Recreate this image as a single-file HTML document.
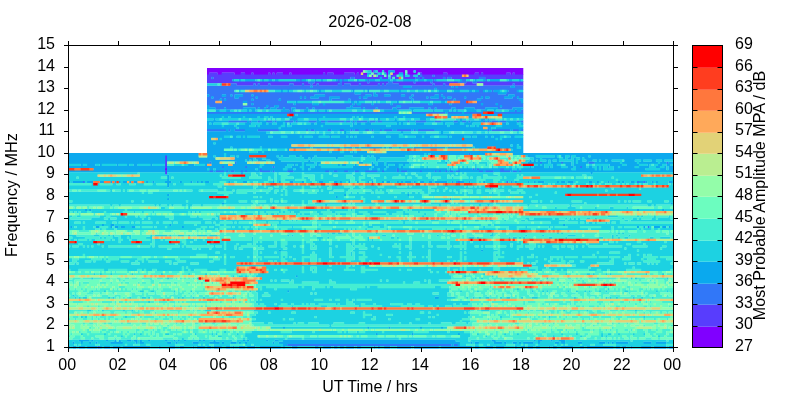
<!DOCTYPE html><html><head><meta charset="utf-8"><style>html,body{margin:0;padding:0;background:#fff;}svg{display:block}</style></head><body>
<svg width="800" height="400" viewBox="0 0 800 400">
<rect width="800" height="400" fill="#fff"/>
<defs><clipPath id="pc"><rect x="68" y="45" width="605.5" height="303.8"/></clipPath><filter id="bl" x="0" y="0" width="1" height="1" filterUnits="objectBoundingBox"><feGaussianBlur stdDeviation="0.45"/></filter></defs><g clip-path="url(#pc)"><g filter="url(#bl)"><path fill="#8000ff" d="M164.9 168.0h2.4v2.4h-2.4zM207.0 72.4h2.4v2.5h-2.4zM217.5 72.4h4.5v2.5h-4.5zM234.4 72.4h6.6v2.5h-6.6zM244.9 72.4h6.6v2.5h-6.6zM253.3 72.4h15.0v2.5h-15.0zM270.2 72.4h2.4v2.5h-2.4zM274.4 72.4h2.4v2.5h-2.4zM282.8 72.4h6.6v2.5h-6.6zM291.3 72.4h31.9v2.5h-31.9zM325.0 72.4h2.4v2.5h-2.4zM333.4 72.4h10.8v2.5h-10.8zM354.5 72.4h2.4v2.5h-2.4zM358.7 72.4h2.4v2.5h-2.4zM362.9 72.4h4.5v2.5h-4.5zM386.1 72.4h2.4v2.5h-2.4zM392.4 72.4h6.6v2.5h-6.6zM402.9 72.4h2.4v2.5h-2.4zM407.1 72.4h10.8v2.5h-10.8zM421.9 72.4h21.4v2.5h-21.4zM447.2 72.4h27.7v2.5h-27.7zM478.8 72.4h2.4v2.5h-2.4zM483.0 72.4h23.5v2.5h-23.5zM510.4 72.4h2.4v2.5h-2.4zM514.6 72.4h8.7v2.5h-8.7zM207.0 70.2h156.2v2.5h-156.2zM371.3 70.2h2.4v2.5h-2.4zM377.6 70.2h4.5v2.5h-4.5zM384.0 70.2h4.5v2.5h-4.5zM394.5 70.2h10.8v2.5h-10.8zM407.1 70.2h6.6v2.5h-6.6zM415.6 70.2h107.7v2.5h-107.7zM207.0 68.0h316.3v2.5h-316.3z"/><path fill="#583dfd" d="M164.9 172.3h2.4v2.4h-2.4zM164.9 170.1h2.4v2.4h-2.4zM164.9 165.9h2.4v2.4h-2.4zM164.9 163.7h2.4v2.4h-2.4zM164.9 161.6h2.4v2.4h-2.4zM164.9 159.4h2.4v2.4h-2.4zM164.9 157.3h2.4v2.4h-2.4zM164.9 155.1h2.4v2.4h-2.4zM236.5 83.3h17.2v2.5h-17.2zM255.5 83.3h2.4v2.5h-2.4zM259.7 83.3h8.7v2.5h-8.7zM270.2 83.3h19.3v2.5h-19.3zM293.4 83.3h8.7v2.5h-8.7zM303.9 83.3h6.6v2.5h-6.6zM312.3 83.3h4.5v2.5h-4.5zM318.7 83.3h19.3v2.5h-19.3zM341.8 83.3h2.4v2.5h-2.4zM350.3 83.3h8.7v2.5h-8.7zM360.8 83.3h17.2v2.5h-17.2zM379.7 83.3h2.4v2.5h-2.4zM384.0 83.3h2.4v2.5h-2.4zM398.7 83.3h34.0v2.5h-34.0zM434.5 83.3h8.7v2.5h-8.7zM445.1 83.3h4.5v2.5h-4.5zM464.0 83.3h12.9v2.5h-12.9zM483.0 83.3h29.8v2.5h-29.8zM514.6 83.3h8.7v2.5h-8.7zM207.0 81.1h101.4v2.5h-101.4zM314.4 81.1h25.6v2.5h-25.6zM341.8 81.1h25.6v2.5h-25.6zM369.2 81.1h19.3v2.5h-19.3zM392.4 81.1h21.4v2.5h-21.4zM415.6 81.1h15.0v2.5h-15.0zM432.4 81.1h25.6v2.5h-25.6zM466.1 81.1h6.6v2.5h-6.6zM476.7 81.1h46.6v2.5h-46.6zM207.0 78.9h25.6v2.5h-25.6zM207.0 76.7h4.5v2.5h-4.5zM213.3 76.7h137.2v2.5h-137.2zM354.5 76.7h25.6v2.5h-25.6zM381.9 76.7h6.6v2.5h-6.6zM390.3 76.7h2.4v2.5h-2.4zM394.5 76.7h4.5v2.5h-4.5zM402.9 76.7h12.9v2.5h-12.9zM419.8 76.7h2.4v2.5h-2.4zM424.0 76.7h19.3v2.5h-19.3zM445.1 76.7h2.4v2.5h-2.4zM451.4 76.7h27.7v2.5h-27.7zM485.1 76.7h38.2v2.5h-38.2zM207.0 74.5h160.4v2.5h-160.4zM371.3 74.5h2.4v2.5h-2.4zM377.6 74.5h6.6v2.5h-6.6zM386.1 74.5h2.4v2.5h-2.4zM390.3 74.5h6.6v2.5h-6.6zM402.9 74.5h2.4v2.5h-2.4zM409.2 74.5h4.5v2.5h-4.5zM417.7 74.5h2.4v2.5h-2.4zM421.9 74.5h10.8v2.5h-10.8zM434.5 74.5h27.7v2.5h-27.7zM468.2 74.5h55.1v2.5h-55.1zM209.1 72.4h8.7v2.5h-8.7zM221.7 72.4h12.9v2.5h-12.9zM240.7 72.4h4.5v2.5h-4.5zM251.2 72.4h2.4v2.5h-2.4zM268.1 72.4h2.4v2.5h-2.4zM272.3 72.4h2.4v2.5h-2.4zM276.5 72.4h6.6v2.5h-6.6zM289.2 72.4h2.4v2.5h-2.4zM322.9 72.4h2.4v2.5h-2.4zM327.1 72.4h6.6v2.5h-6.6zM343.9 72.4h10.8v2.5h-10.8zM356.6 72.4h2.4v2.5h-2.4zM373.4 72.4h4.5v2.5h-4.5zM419.8 72.4h2.4v2.5h-2.4zM442.9 72.4h4.5v2.5h-4.5zM474.5 72.4h4.5v2.5h-4.5zM480.9 72.4h2.4v2.5h-2.4zM506.1 72.4h4.5v2.5h-4.5zM512.5 72.4h2.4v2.5h-2.4z"/><path fill="#3177f8" d="M97.5 345.9h2.4v3.3h-2.4zM287.1 343.7h164.6v2.4h-164.6zM453.5 343.7h4.5v2.4h-4.5zM647.3 225.9h2.4v2.4h-2.4zM82.7 180.9h2.4v2.4h-2.4zM457.7 180.9h2.4v2.4h-2.4zM506.1 180.9h2.4v2.4h-2.4zM636.8 180.9h2.4v2.4h-2.4zM643.1 180.9h2.4v2.4h-2.4zM209.1 170.1h4.5v2.4h-4.5zM215.4 170.1h8.7v2.4h-8.7zM226.0 170.1h2.4v2.4h-2.4zM230.2 170.1h4.5v2.4h-4.5zM240.7 170.1h2.4v2.4h-2.4zM244.9 170.1h2.4v2.4h-2.4zM259.7 170.1h10.8v2.4h-10.8zM272.3 170.1h2.4v2.4h-2.4zM287.1 170.1h6.6v2.4h-6.6zM325.0 170.1h4.5v2.4h-4.5zM333.4 170.1h4.5v2.4h-4.5zM343.9 170.1h4.5v2.4h-4.5zM354.5 170.1h4.5v2.4h-4.5zM365.0 170.1h12.9v2.4h-12.9zM381.9 170.1h2.4v2.4h-2.4zM396.6 170.1h2.4v2.4h-2.4zM400.8 170.1h6.6v2.4h-6.6zM419.8 170.1h2.4v2.4h-2.4zM434.5 170.1h2.4v2.4h-2.4zM438.7 170.1h2.4v2.4h-2.4zM445.1 170.1h2.4v2.4h-2.4zM449.3 170.1h4.5v2.4h-4.5zM455.6 170.1h4.5v2.4h-4.5zM478.8 170.1h4.5v2.4h-4.5zM485.1 170.1h8.7v2.4h-8.7zM499.8 170.1h10.8v2.4h-10.8zM512.5 170.1h4.5v2.4h-4.5zM518.8 170.1h2.4v2.4h-2.4zM259.7 168.0h2.4v2.4h-2.4zM396.6 168.0h2.4v2.4h-2.4zM472.4 168.0h2.4v2.4h-2.4zM476.7 168.0h2.4v2.4h-2.4zM499.8 168.0h4.5v2.4h-4.5zM221.7 165.9h2.4v2.4h-2.4zM244.9 165.9h2.4v2.4h-2.4zM272.3 165.9h2.4v2.4h-2.4zM579.9 165.9h2.4v2.4h-2.4zM209.1 161.6h2.4v2.4h-2.4zM234.4 161.6h2.4v2.4h-2.4zM539.9 161.6h2.4v2.4h-2.4zM560.9 161.6h2.4v2.4h-2.4zM588.3 161.6h6.6v2.4h-6.6zM666.3 161.6h2.4v2.4h-2.4zM468.2 153.0h2.4v2.4h-2.4zM207.0 129.0h19.3v2.5h-19.3zM228.1 129.0h2.4v2.5h-2.4zM234.4 129.0h10.8v2.5h-10.8zM257.6 129.0h21.4v2.5h-21.4zM306.0 129.0h2.4v2.5h-2.4zM310.2 129.0h4.5v2.5h-4.5zM327.1 129.0h4.5v2.5h-4.5zM339.7 129.0h4.5v2.5h-4.5zM350.3 129.0h2.4v2.5h-2.4zM354.5 129.0h4.5v2.5h-4.5zM365.0 129.0h4.5v2.5h-4.5zM371.3 129.0h2.4v2.5h-2.4zM379.7 129.0h2.4v2.5h-2.4zM384.0 129.0h8.7v2.5h-8.7zM396.6 129.0h15.0v2.5h-15.0zM413.5 129.0h2.4v2.5h-2.4zM417.7 129.0h17.2v2.5h-17.2zM487.2 129.0h2.4v2.5h-2.4zM491.4 129.0h19.3v2.5h-19.3zM512.5 129.0h6.6v2.5h-6.6zM520.9 129.0h2.4v2.5h-2.4zM228.1 120.3h19.3v2.5h-19.3zM249.1 120.3h2.4v2.5h-2.4zM257.6 120.3h2.4v2.5h-2.4zM266.0 120.3h6.6v2.5h-6.6zM274.4 120.3h2.4v2.5h-2.4zM284.9 120.3h8.7v2.5h-8.7zM295.5 120.3h2.4v2.5h-2.4zM308.1 120.3h8.7v2.5h-8.7zM320.8 120.3h4.5v2.5h-4.5zM327.1 120.3h17.2v2.5h-17.2zM346.0 120.3h4.5v2.5h-4.5zM352.4 120.3h2.4v2.5h-2.4zM356.6 120.3h10.8v2.5h-10.8zM369.2 120.3h6.6v2.5h-6.6zM377.6 120.3h4.5v2.5h-4.5zM407.1 120.3h2.4v2.5h-2.4zM415.6 120.3h10.8v2.5h-10.8zM434.5 120.3h6.6v2.5h-6.6zM453.5 120.3h4.5v2.5h-4.5zM461.9 120.3h4.5v2.5h-4.5zM468.2 120.3h2.4v2.5h-2.4zM483.0 120.3h2.4v2.5h-2.4zM487.2 120.3h2.4v2.5h-2.4zM491.4 120.3h6.6v2.5h-6.6zM499.8 120.3h6.6v2.5h-6.6zM516.7 120.3h2.4v2.5h-2.4zM520.9 120.3h2.4v2.5h-2.4zM207.0 111.6h192.0v2.5h-192.0zM411.3 111.6h34.0v2.5h-34.0zM447.2 111.6h15.0v2.5h-15.0zM464.0 111.6h19.3v2.5h-19.3zM493.5 111.6h29.8v2.5h-29.8zM289.2 109.4h2.4v2.5h-2.4zM514.6 109.4h2.4v2.5h-2.4zM520.9 109.4h2.4v2.5h-2.4zM215.4 107.2h8.7v2.5h-8.7zM226.0 107.2h17.2v2.5h-17.2zM255.5 107.2h2.4v2.5h-2.4zM259.7 107.2h4.5v2.5h-4.5zM266.0 107.2h4.5v2.5h-4.5zM276.5 107.2h6.6v2.5h-6.6zM284.9 107.2h6.6v2.5h-6.6zM295.5 107.2h10.8v2.5h-10.8zM308.1 107.2h4.5v2.5h-4.5zM314.4 107.2h31.9v2.5h-31.9zM360.8 107.2h2.4v2.5h-2.4zM365.0 107.2h10.8v2.5h-10.8zM377.6 107.2h15.0v2.5h-15.0zM396.6 107.2h12.9v2.5h-12.9zM424.0 107.2h4.5v2.5h-4.5zM430.3 107.2h4.5v2.5h-4.5zM436.6 107.2h15.0v2.5h-15.0zM455.6 107.2h8.7v2.5h-8.7zM474.5 107.2h10.8v2.5h-10.8zM497.7 107.2h15.0v2.5h-15.0zM209.1 105.1h57.2v2.5h-57.2zM268.1 105.1h6.6v2.5h-6.6zM278.6 105.1h71.9v2.5h-71.9zM352.4 105.1h44.5v2.5h-44.5zM400.8 105.1h99.3v2.5h-99.3zM501.9 105.1h21.4v2.5h-21.4zM207.0 102.9h36.1v2.5h-36.1zM247.0 102.9h4.5v2.5h-4.5zM253.3 102.9h40.3v2.5h-40.3zM295.5 102.9h17.2v2.5h-17.2zM318.7 102.9h4.5v2.5h-4.5zM325.0 102.9h27.7v2.5h-27.7zM354.5 102.9h2.4v2.5h-2.4zM360.8 102.9h10.8v2.5h-10.8zM373.4 102.9h17.2v2.5h-17.2zM392.4 102.9h36.1v2.5h-36.1zM432.4 102.9h17.2v2.5h-17.2zM451.4 102.9h29.8v2.5h-29.8zM483.0 102.9h12.9v2.5h-12.9zM497.7 102.9h25.6v2.5h-25.6zM207.0 100.7h8.7v2.5h-8.7zM221.7 100.7h21.4v2.5h-21.4zM247.0 100.7h40.3v2.5h-40.3zM459.8 100.7h6.6v2.5h-6.6zM476.7 100.7h44.5v2.5h-44.5zM207.0 98.5h12.9v2.5h-12.9zM221.7 98.5h2.4v2.5h-2.4zM226.0 98.5h25.6v2.5h-25.6zM253.3 98.5h25.6v2.5h-25.6zM280.7 98.5h48.8v2.5h-48.8zM331.3 98.5h17.2v2.5h-17.2zM350.3 98.5h61.4v2.5h-61.4zM413.5 98.5h40.3v2.5h-40.3zM455.6 98.5h21.4v2.5h-21.4zM480.9 98.5h38.2v2.5h-38.2zM207.0 96.3h4.5v2.5h-4.5zM213.3 96.3h21.4v2.5h-21.4zM238.6 96.3h17.2v2.5h-17.2zM257.6 96.3h42.4v2.5h-42.4zM301.8 96.3h2.4v2.5h-2.4zM306.0 96.3h4.5v2.5h-4.5zM318.7 96.3h10.8v2.5h-10.8zM339.7 96.3h19.3v2.5h-19.3zM360.8 96.3h2.4v2.5h-2.4zM367.1 96.3h42.4v2.5h-42.4zM411.3 96.3h15.0v2.5h-15.0zM428.2 96.3h2.4v2.5h-2.4zM438.7 96.3h4.5v2.5h-4.5zM445.1 96.3h2.4v2.5h-2.4zM451.4 96.3h12.9v2.5h-12.9zM466.1 96.3h15.0v2.5h-15.0zM483.0 96.3h2.4v2.5h-2.4zM489.3 96.3h15.0v2.5h-15.0zM512.5 96.3h4.5v2.5h-4.5zM518.8 96.3h4.5v2.5h-4.5zM209.1 94.2h12.9v2.5h-12.9zM226.0 94.2h4.5v2.5h-4.5zM232.3 94.2h2.4v2.5h-2.4zM242.8 94.2h8.7v2.5h-8.7zM253.3 94.2h61.4v2.5h-61.4zM325.0 94.2h40.3v2.5h-40.3zM371.3 94.2h2.4v2.5h-2.4zM377.6 94.2h6.6v2.5h-6.6zM390.3 94.2h10.8v2.5h-10.8zM405.0 94.2h6.6v2.5h-6.6zM413.5 94.2h21.4v2.5h-21.4zM438.7 94.2h2.4v2.5h-2.4zM442.9 94.2h65.6v2.5h-65.6zM514.6 94.2h8.7v2.5h-8.7zM207.0 92.0h147.8v2.5h-147.8zM360.8 92.0h12.9v2.5h-12.9zM375.5 92.0h122.5v2.5h-122.5zM506.1 92.0h17.2v2.5h-17.2zM207.0 89.8h27.7v2.5h-27.7zM478.8 89.8h4.5v2.5h-4.5zM491.4 89.8h2.4v2.5h-2.4zM508.3 89.8h8.7v2.5h-8.7zM207.0 87.6h227.8v2.5h-227.8zM436.6 87.6h86.7v2.5h-86.7zM207.0 85.4h103.5v2.5h-103.5zM312.3 85.4h90.9v2.5h-90.9zM411.3 85.4h40.3v2.5h-40.3zM453.5 85.4h2.4v2.5h-2.4zM457.7 85.4h53.0v2.5h-53.0zM514.6 85.4h8.7v2.5h-8.7zM230.2 83.3h6.6v2.5h-6.6zM253.3 83.3h2.4v2.5h-2.4zM257.6 83.3h2.4v2.5h-2.4zM268.1 83.3h2.4v2.5h-2.4zM289.2 83.3h4.5v2.5h-4.5zM301.8 83.3h2.4v2.5h-2.4zM310.2 83.3h2.4v2.5h-2.4zM316.5 83.3h2.4v2.5h-2.4zM337.6 83.3h4.5v2.5h-4.5zM343.9 83.3h6.6v2.5h-6.6zM358.7 83.3h2.4v2.5h-2.4zM377.6 83.3h2.4v2.5h-2.4zM381.9 83.3h2.4v2.5h-2.4zM386.1 83.3h12.9v2.5h-12.9zM432.4 83.3h2.4v2.5h-2.4zM442.9 83.3h2.4v2.5h-2.4zM512.5 83.3h2.4v2.5h-2.4zM308.1 81.1h6.6v2.5h-6.6zM339.7 81.1h2.4v2.5h-2.4zM367.1 81.1h2.4v2.5h-2.4zM388.2 81.1h4.5v2.5h-4.5zM413.5 81.1h2.4v2.5h-2.4zM430.3 81.1h2.4v2.5h-2.4zM457.7 81.1h8.7v2.5h-8.7zM472.4 81.1h4.5v2.5h-4.5zM299.7 78.9h2.4v2.5h-2.4zM337.6 78.9h2.4v2.5h-2.4zM341.8 78.9h2.4v2.5h-2.4zM367.1 78.9h2.4v2.5h-2.4zM432.4 78.9h2.4v2.5h-2.4zM461.9 78.9h4.5v2.5h-4.5zM485.1 78.9h2.4v2.5h-2.4zM211.2 76.7h2.4v2.5h-2.4zM350.3 76.7h4.5v2.5h-4.5zM415.6 76.7h4.5v2.5h-4.5zM421.9 76.7h2.4v2.5h-2.4zM442.9 76.7h2.4v2.5h-2.4zM447.2 76.7h4.5v2.5h-4.5zM478.8 76.7h6.6v2.5h-6.6zM419.8 74.5h2.4v2.5h-2.4zM432.4 74.5h2.4v2.5h-2.4z"/><path fill="#0aa9ee" d="M68.0 345.9h2.4v3.3h-2.4zM72.2 345.9h4.5v3.3h-4.5zM78.5 345.9h6.6v3.3h-6.6zM86.9 345.9h10.8v3.3h-10.8zM99.6 345.9h2.4v3.3h-2.4zM103.8 345.9h6.6v3.3h-6.6zM112.2 345.9h8.7v3.3h-8.7zM122.7 345.9h27.7v3.3h-27.7zM158.5 345.9h2.4v3.3h-2.4zM169.1 345.9h6.6v3.3h-6.6zM179.6 345.9h4.5v3.3h-4.5zM192.3 345.9h2.4v3.3h-2.4zM196.5 345.9h8.7v3.3h-8.7zM207.0 345.9h4.5v3.3h-4.5zM213.3 345.9h8.7v3.3h-8.7zM226.0 345.9h4.5v3.3h-4.5zM232.3 345.9h2.4v3.3h-2.4zM238.6 345.9h6.6v3.3h-6.6zM247.0 345.9h8.7v3.3h-8.7zM259.7 345.9h21.4v3.3h-21.4zM282.8 345.9h2.4v3.3h-2.4zM291.3 345.9h6.6v3.3h-6.6zM314.4 345.9h4.5v3.3h-4.5zM322.9 345.9h8.7v3.3h-8.7zM333.4 345.9h4.5v3.3h-4.5zM339.7 345.9h4.5v3.3h-4.5zM346.0 345.9h8.7v3.3h-8.7zM356.6 345.9h4.5v3.3h-4.5zM373.4 345.9h2.4v3.3h-2.4zM377.6 345.9h2.4v3.3h-2.4zM384.0 345.9h6.6v3.3h-6.6zM396.6 345.9h15.0v3.3h-15.0zM413.5 345.9h25.6v3.3h-25.6zM440.8 345.9h31.9v3.3h-31.9zM474.5 345.9h4.5v3.3h-4.5zM485.1 345.9h8.7v3.3h-8.7zM495.6 345.9h8.7v3.3h-8.7zM514.6 345.9h2.4v3.3h-2.4zM520.9 345.9h4.5v3.3h-4.5zM527.2 345.9h6.6v3.3h-6.6zM535.6 345.9h4.5v3.3h-4.5zM548.3 345.9h2.4v3.3h-2.4zM552.5 345.9h4.5v3.3h-4.5zM560.9 345.9h12.9v3.3h-12.9zM579.9 345.9h4.5v3.3h-4.5zM586.2 345.9h27.7v3.3h-27.7zM615.7 345.9h4.5v3.3h-4.5zM622.0 345.9h4.5v3.3h-4.5zM630.4 345.9h2.4v3.3h-2.4zM641.0 345.9h10.8v3.3h-10.8zM653.6 345.9h12.9v3.3h-12.9zM668.4 345.9h6.6v3.3h-6.6zM282.8 343.7h4.5v2.4h-4.5zM451.4 343.7h2.4v2.4h-2.4zM457.7 343.7h2.4v2.4h-2.4zM72.2 341.6h2.4v2.4h-2.4zM80.6 341.6h2.4v2.4h-2.4zM89.0 341.6h2.4v2.4h-2.4zM95.3 341.6h2.4v2.4h-2.4zM110.1 341.6h12.9v2.4h-12.9zM135.4 341.6h2.4v2.4h-2.4zM139.6 341.6h4.5v2.4h-4.5zM167.0 341.6h4.5v2.4h-4.5zM175.4 341.6h2.4v2.4h-2.4zM192.3 341.6h6.6v2.4h-6.6zM209.1 341.6h10.8v2.4h-10.8zM221.7 341.6h2.4v2.4h-2.4zM230.2 341.6h6.6v2.4h-6.6zM238.6 341.6h2.4v2.4h-2.4zM244.9 341.6h2.4v2.4h-2.4zM272.3 341.6h2.4v2.4h-2.4zM278.6 341.6h181.5v2.4h-181.5zM470.3 341.6h2.4v2.4h-2.4zM474.5 341.6h4.5v2.4h-4.5zM493.5 341.6h8.7v2.4h-8.7zM504.0 341.6h2.4v2.4h-2.4zM512.5 341.6h4.5v2.4h-4.5zM518.8 341.6h2.4v2.4h-2.4zM523.0 341.6h10.8v2.4h-10.8zM537.7 341.6h2.4v2.4h-2.4zM554.6 341.6h4.5v2.4h-4.5zM560.9 341.6h4.5v2.4h-4.5zM577.8 341.6h4.5v2.4h-4.5zM598.8 341.6h6.6v2.4h-6.6zM607.3 341.6h2.4v2.4h-2.4zM611.5 341.6h2.4v2.4h-2.4zM615.7 341.6h12.9v2.4h-12.9zM643.1 341.6h8.7v2.4h-8.7zM655.7 341.6h10.8v2.4h-10.8zM78.5 339.4h10.8v2.4h-10.8zM91.1 339.4h2.4v2.4h-2.4zM105.9 339.4h2.4v2.4h-2.4zM114.3 339.4h2.4v2.4h-2.4zM118.5 339.4h2.4v2.4h-2.4zM126.9 339.4h4.5v2.4h-4.5zM133.3 339.4h4.5v2.4h-4.5zM139.6 339.4h2.4v2.4h-2.4zM148.0 339.4h2.4v2.4h-2.4zM164.9 339.4h2.4v2.4h-2.4zM173.3 339.4h2.4v2.4h-2.4zM177.5 339.4h2.4v2.4h-2.4zM183.8 339.4h2.4v2.4h-2.4zM198.6 339.4h2.4v2.4h-2.4zM202.8 339.4h2.4v2.4h-2.4zM213.3 339.4h2.4v2.4h-2.4zM242.8 339.4h2.4v2.4h-2.4zM247.0 339.4h2.4v2.4h-2.4zM266.0 339.4h2.4v2.4h-2.4zM274.4 339.4h4.5v2.4h-4.5zM282.8 339.4h173.0v2.4h-173.0zM491.4 339.4h4.5v2.4h-4.5zM533.5 339.4h2.4v2.4h-2.4zM537.7 339.4h4.5v2.4h-4.5zM550.4 339.4h2.4v2.4h-2.4zM558.8 339.4h6.6v2.4h-6.6zM375.5 333.0h2.4v2.4h-2.4zM411.3 333.0h2.4v2.4h-2.4zM457.7 333.0h2.4v2.4h-2.4zM282.8 326.6h2.4v2.4h-2.4zM367.1 326.6h2.4v2.4h-2.4zM388.2 326.6h2.4v2.4h-2.4zM419.8 326.6h2.4v2.4h-2.4zM440.8 326.6h2.4v2.4h-2.4zM434.5 296.6h4.5v2.4h-4.5zM287.1 290.1h2.4v2.4h-2.4zM295.5 275.1h2.4v2.4h-2.4zM278.6 249.4h2.4v2.4h-2.4zM480.9 249.4h2.4v2.4h-2.4zM70.1 225.9h2.4v2.4h-2.4zM95.3 225.9h4.5v2.4h-4.5zM110.1 225.9h2.4v2.4h-2.4zM114.3 225.9h4.5v2.4h-4.5zM120.6 225.9h4.5v2.4h-4.5zM131.2 225.9h4.5v2.4h-4.5zM181.7 225.9h2.4v2.4h-2.4zM636.8 225.9h2.4v2.4h-2.4zM643.1 225.9h2.4v2.4h-2.4zM653.6 225.9h6.6v2.4h-6.6zM662.0 225.9h4.5v2.4h-4.5zM668.4 225.9h2.4v2.4h-2.4zM101.7 223.7h2.4v2.4h-2.4zM110.1 223.7h4.5v2.4h-4.5zM169.1 223.7h2.4v2.4h-2.4zM563.0 223.7h2.4v2.4h-2.4zM84.8 208.7h2.4v2.4h-2.4zM89.0 208.7h2.4v2.4h-2.4zM636.8 208.7h2.4v2.4h-2.4zM662.0 208.7h2.4v2.4h-2.4zM221.7 202.3h2.4v2.4h-2.4zM670.5 202.3h2.4v2.4h-2.4zM167.0 198.0h2.4v2.4h-2.4zM449.3 198.0h2.4v2.4h-2.4zM335.5 195.9h2.4v2.4h-2.4zM167.0 193.7h2.4v2.4h-2.4zM343.9 193.7h2.4v2.4h-2.4zM407.1 193.7h2.4v2.4h-2.4zM489.3 187.3h2.4v2.4h-2.4zM167.0 185.1h2.4v2.4h-2.4zM167.0 183.0h2.4v2.4h-2.4zM68.0 180.9h2.4v2.4h-2.4zM72.2 180.9h10.8v2.4h-10.8zM86.9 180.9h6.6v2.4h-6.6zM99.6 180.9h4.5v2.4h-4.5zM110.1 180.9h2.4v2.4h-2.4zM114.3 180.9h2.4v2.4h-2.4zM118.5 180.9h2.4v2.4h-2.4zM122.7 180.9h4.5v2.4h-4.5zM129.1 180.9h2.4v2.4h-2.4zM133.3 180.9h4.5v2.4h-4.5zM145.9 180.9h2.4v2.4h-2.4zM152.2 180.9h2.4v2.4h-2.4zM164.9 180.9h6.6v2.4h-6.6zM179.6 180.9h2.4v2.4h-2.4zM190.1 180.9h2.4v2.4h-2.4zM196.5 180.9h2.4v2.4h-2.4zM200.7 180.9h2.4v2.4h-2.4zM204.9 180.9h4.5v2.4h-4.5zM228.1 180.9h2.4v2.4h-2.4zM242.8 180.9h4.5v2.4h-4.5zM272.3 180.9h2.4v2.4h-2.4zM278.6 180.9h2.4v2.4h-2.4zM289.2 180.9h4.5v2.4h-4.5zM301.8 180.9h2.4v2.4h-2.4zM318.7 180.9h4.5v2.4h-4.5zM333.4 180.9h4.5v2.4h-4.5zM339.7 180.9h2.4v2.4h-2.4zM348.1 180.9h2.4v2.4h-2.4zM356.6 180.9h2.4v2.4h-2.4zM367.1 180.9h2.4v2.4h-2.4zM371.3 180.9h2.4v2.4h-2.4zM381.9 180.9h2.4v2.4h-2.4zM386.1 180.9h4.5v2.4h-4.5zM396.6 180.9h2.4v2.4h-2.4zM400.8 180.9h2.4v2.4h-2.4zM405.0 180.9h6.6v2.4h-6.6zM413.5 180.9h2.4v2.4h-2.4zM419.8 180.9h4.5v2.4h-4.5zM428.2 180.9h4.5v2.4h-4.5zM434.5 180.9h12.9v2.4h-12.9zM451.4 180.9h2.4v2.4h-2.4zM455.6 180.9h2.4v2.4h-2.4zM459.8 180.9h4.5v2.4h-4.5zM468.2 180.9h2.4v2.4h-2.4zM483.0 180.9h2.4v2.4h-2.4zM510.4 180.9h2.4v2.4h-2.4zM514.6 180.9h2.4v2.4h-2.4zM527.2 180.9h2.4v2.4h-2.4zM533.5 180.9h2.4v2.4h-2.4zM537.7 180.9h6.6v2.4h-6.6zM556.7 180.9h2.4v2.4h-2.4zM560.9 180.9h4.5v2.4h-4.5zM567.2 180.9h6.6v2.4h-6.6zM588.3 180.9h4.5v2.4h-4.5zM596.7 180.9h2.4v2.4h-2.4zM607.3 180.9h2.4v2.4h-2.4zM617.8 180.9h2.4v2.4h-2.4zM622.0 180.9h2.4v2.4h-2.4zM630.4 180.9h4.5v2.4h-4.5zM638.9 180.9h4.5v2.4h-4.5zM645.2 180.9h2.4v2.4h-2.4zM651.5 180.9h2.4v2.4h-2.4zM655.7 180.9h2.4v2.4h-2.4zM668.4 180.9h4.5v2.4h-4.5zM167.0 178.7h2.4v2.4h-2.4zM167.0 176.6h2.4v2.4h-2.4zM167.0 174.4h2.4v2.4h-2.4zM240.7 172.3h2.4v2.4h-2.4zM590.4 172.3h2.4v2.4h-2.4zM68.0 170.1h97.2v2.4h-97.2zM167.0 170.1h42.4v2.4h-42.4zM213.3 170.1h2.4v2.4h-2.4zM223.9 170.1h2.4v2.4h-2.4zM228.1 170.1h2.4v2.4h-2.4zM234.4 170.1h6.6v2.4h-6.6zM242.8 170.1h2.4v2.4h-2.4zM247.0 170.1h12.9v2.4h-12.9zM270.2 170.1h2.4v2.4h-2.4zM274.4 170.1h12.9v2.4h-12.9zM293.4 170.1h31.9v2.4h-31.9zM329.2 170.1h4.5v2.4h-4.5zM337.6 170.1h6.6v2.4h-6.6zM348.1 170.1h6.6v2.4h-6.6zM358.7 170.1h6.6v2.4h-6.6zM377.6 170.1h4.5v2.4h-4.5zM384.0 170.1h12.9v2.4h-12.9zM398.7 170.1h2.4v2.4h-2.4zM407.1 170.1h12.9v2.4h-12.9zM421.9 170.1h12.9v2.4h-12.9zM436.6 170.1h2.4v2.4h-2.4zM440.8 170.1h4.5v2.4h-4.5zM447.2 170.1h2.4v2.4h-2.4zM453.5 170.1h2.4v2.4h-2.4zM459.8 170.1h19.3v2.4h-19.3zM483.0 170.1h2.4v2.4h-2.4zM493.5 170.1h6.6v2.4h-6.6zM510.4 170.1h2.4v2.4h-2.4zM516.7 170.1h2.4v2.4h-2.4zM520.9 170.1h154.1v2.4h-154.1zM93.2 168.0h71.9v2.4h-71.9zM167.0 168.0h40.3v2.4h-40.3zM209.1 168.0h4.5v2.4h-4.5zM215.4 168.0h40.3v2.4h-40.3zM257.6 168.0h2.4v2.4h-2.4zM261.8 168.0h21.4v2.4h-21.4zM287.1 168.0h6.6v2.4h-6.6zM295.5 168.0h6.6v2.4h-6.6zM303.9 168.0h4.5v2.4h-4.5zM310.2 168.0h59.3v2.4h-59.3zM371.3 168.0h6.6v2.4h-6.6zM379.7 168.0h4.5v2.4h-4.5zM386.1 168.0h10.8v2.4h-10.8zM398.7 168.0h48.8v2.4h-48.8zM449.3 168.0h2.4v2.4h-2.4zM457.7 168.0h15.0v2.4h-15.0zM474.5 168.0h2.4v2.4h-2.4zM478.8 168.0h21.4v2.4h-21.4zM504.0 168.0h8.7v2.4h-8.7zM516.7 168.0h2.4v2.4h-2.4zM520.9 168.0h50.9v2.4h-50.9zM575.7 168.0h19.3v2.4h-19.3zM596.7 168.0h2.4v2.4h-2.4zM600.9 168.0h2.4v2.4h-2.4zM613.6 168.0h31.9v2.4h-31.9zM659.9 168.0h6.6v2.4h-6.6zM668.4 168.0h6.6v2.4h-6.6zM68.0 165.9h97.2v2.4h-97.2zM167.0 165.9h55.1v2.4h-55.1zM223.9 165.9h21.4v2.4h-21.4zM247.0 165.9h12.9v2.4h-12.9zM261.8 165.9h10.8v2.4h-10.8zM274.4 165.9h10.8v2.4h-10.8zM291.3 165.9h8.7v2.4h-8.7zM303.9 165.9h6.6v2.4h-6.6zM314.4 165.9h6.6v2.4h-6.6zM352.4 165.9h19.3v2.4h-19.3zM373.4 165.9h12.9v2.4h-12.9zM388.2 165.9h10.8v2.4h-10.8zM400.8 165.9h2.4v2.4h-2.4zM529.3 165.9h2.4v2.4h-2.4zM533.5 165.9h10.8v2.4h-10.8zM548.3 165.9h2.4v2.4h-2.4zM552.5 165.9h8.7v2.4h-8.7zM567.2 165.9h6.6v2.4h-6.6zM575.7 165.9h4.5v2.4h-4.5zM582.0 165.9h4.5v2.4h-4.5zM588.3 165.9h4.5v2.4h-4.5zM596.7 165.9h2.4v2.4h-2.4zM600.9 165.9h2.4v2.4h-2.4zM607.3 165.9h2.4v2.4h-2.4zM613.6 165.9h4.5v2.4h-4.5zM619.9 165.9h15.0v2.4h-15.0zM638.9 165.9h10.8v2.4h-10.8zM655.7 165.9h4.5v2.4h-4.5zM664.1 165.9h2.4v2.4h-2.4zM668.4 165.9h6.6v2.4h-6.6zM80.6 163.7h2.4v2.4h-2.4zM86.9 163.7h8.7v2.4h-8.7zM99.6 163.7h2.4v2.4h-2.4zM116.4 163.7h2.4v2.4h-2.4zM126.9 163.7h2.4v2.4h-2.4zM133.3 163.7h4.5v2.4h-4.5zM150.1 163.7h2.4v2.4h-2.4zM188.0 163.7h6.6v2.4h-6.6zM204.9 163.7h2.4v2.4h-2.4zM211.2 163.7h17.2v2.4h-17.2zM232.3 163.7h27.7v2.4h-27.7zM263.9 163.7h23.5v2.4h-23.5zM293.4 163.7h2.4v2.4h-2.4zM297.6 163.7h4.5v2.4h-4.5zM303.9 163.7h2.4v2.4h-2.4zM316.5 163.7h2.4v2.4h-2.4zM337.6 163.7h2.4v2.4h-2.4zM341.8 163.7h4.5v2.4h-4.5zM354.5 163.7h2.4v2.4h-2.4zM371.3 163.7h4.5v2.4h-4.5zM377.6 163.7h6.6v2.4h-6.6zM386.1 163.7h2.4v2.4h-2.4zM394.5 163.7h4.5v2.4h-4.5zM402.9 163.7h2.4v2.4h-2.4zM537.7 163.7h2.4v2.4h-2.4zM542.0 163.7h2.4v2.4h-2.4zM552.5 163.7h4.5v2.4h-4.5zM565.1 163.7h6.6v2.4h-6.6zM573.6 163.7h12.9v2.4h-12.9zM609.4 163.7h12.9v2.4h-12.9zM626.2 163.7h12.9v2.4h-12.9zM647.3 163.7h2.4v2.4h-2.4zM657.8 163.7h4.5v2.4h-4.5zM666.3 163.7h4.5v2.4h-4.5zM672.6 163.7h2.4v2.4h-2.4zM68.0 161.6h97.2v2.4h-97.2zM198.6 161.6h10.8v2.4h-10.8zM211.2 161.6h8.7v2.4h-8.7zM236.5 161.6h10.8v2.4h-10.8zM274.4 161.6h27.7v2.4h-27.7zM303.9 161.6h10.8v2.4h-10.8zM316.5 161.6h4.5v2.4h-4.5zM358.7 161.6h4.5v2.4h-4.5zM371.3 161.6h2.4v2.4h-2.4zM377.6 161.6h6.6v2.4h-6.6zM386.1 161.6h23.5v2.4h-23.5zM445.1 161.6h2.4v2.4h-2.4zM527.2 161.6h12.9v2.4h-12.9zM542.0 161.6h6.6v2.4h-6.6zM550.4 161.6h10.8v2.4h-10.8zM563.0 161.6h8.7v2.4h-8.7zM573.6 161.6h2.4v2.4h-2.4zM577.8 161.6h10.8v2.4h-10.8zM594.6 161.6h25.6v2.4h-25.6zM622.0 161.6h15.0v2.4h-15.0zM638.9 161.6h19.3v2.4h-19.3zM659.9 161.6h6.6v2.4h-6.6zM668.4 161.6h6.6v2.4h-6.6zM68.0 159.4h97.2v2.4h-97.2zM167.0 159.4h78.2v2.4h-78.2zM247.0 159.4h2.4v2.4h-2.4zM251.2 159.4h2.4v2.4h-2.4zM257.6 159.4h8.7v2.4h-8.7zM270.2 159.4h10.8v2.4h-10.8zM308.1 159.4h2.4v2.4h-2.4zM375.5 159.4h2.4v2.4h-2.4zM529.3 159.4h2.4v2.4h-2.4zM533.5 159.4h2.4v2.4h-2.4zM537.7 159.4h2.4v2.4h-2.4zM546.2 159.4h2.4v2.4h-2.4zM550.4 159.4h2.4v2.4h-2.4zM556.7 159.4h2.4v2.4h-2.4zM573.6 159.4h2.4v2.4h-2.4zM577.8 159.4h4.5v2.4h-4.5zM586.2 159.4h6.6v2.4h-6.6zM596.7 159.4h2.4v2.4h-2.4zM600.9 159.4h4.5v2.4h-4.5zM607.3 159.4h4.5v2.4h-4.5zM624.1 159.4h10.8v2.4h-10.8zM641.0 159.4h2.4v2.4h-2.4zM651.5 159.4h4.5v2.4h-4.5zM662.0 159.4h2.4v2.4h-2.4zM68.0 157.3h97.2v2.4h-97.2zM167.0 157.3h48.8v2.4h-48.8zM234.4 157.3h19.3v2.4h-19.3zM255.5 157.3h6.6v2.4h-6.6zM266.0 157.3h12.9v2.4h-12.9zM303.9 157.3h4.5v2.4h-4.5zM310.2 157.3h2.4v2.4h-2.4zM335.5 157.3h2.4v2.4h-2.4zM375.5 157.3h4.5v2.4h-4.5zM533.5 157.3h6.6v2.4h-6.6zM542.0 157.3h17.2v2.4h-17.2zM563.0 157.3h2.4v2.4h-2.4zM567.2 157.3h4.5v2.4h-4.5zM573.6 157.3h2.4v2.4h-2.4zM579.9 157.3h2.4v2.4h-2.4zM584.1 157.3h90.9v2.4h-90.9zM68.0 155.1h97.2v2.4h-97.2zM167.0 155.1h31.9v2.4h-31.9zM207.0 155.1h6.6v2.4h-6.6zM215.4 155.1h8.7v2.4h-8.7zM226.0 155.1h4.5v2.4h-4.5zM234.4 155.1h2.4v2.4h-2.4zM238.6 155.1h10.8v2.4h-10.8zM266.0 155.1h10.8v2.4h-10.8zM278.6 155.1h2.4v2.4h-2.4zM282.8 155.1h6.6v2.4h-6.6zM295.5 155.1h4.5v2.4h-4.5zM301.8 155.1h12.9v2.4h-12.9zM316.5 155.1h27.7v2.4h-27.7zM352.4 155.1h8.7v2.4h-8.7zM362.9 155.1h4.5v2.4h-4.5zM369.2 155.1h2.4v2.4h-2.4zM373.4 155.1h31.9v2.4h-31.9zM527.2 155.1h8.7v2.4h-8.7zM554.6 155.1h2.4v2.4h-2.4zM560.9 155.1h4.5v2.4h-4.5zM569.3 155.1h2.4v2.4h-2.4zM575.7 155.1h12.9v2.4h-12.9zM590.4 155.1h84.6v2.4h-84.6zM68.0 153.0h130.9v2.4h-130.9zM207.0 153.0h17.2v2.4h-17.2zM226.0 153.0h198.3v2.4h-198.3zM426.1 153.0h2.4v2.4h-2.4zM430.3 153.0h38.2v2.4h-38.2zM470.3 153.0h15.0v2.4h-15.0zM512.5 153.0h162.5v2.4h-162.5zM207.0 150.8h42.4v2.5h-42.4zM257.6 150.8h4.5v2.5h-4.5zM263.9 150.8h65.6v2.5h-65.6zM331.3 150.8h8.7v2.5h-8.7zM343.9 150.8h6.6v2.5h-6.6zM352.4 150.8h2.4v2.5h-2.4zM356.6 150.8h10.8v2.5h-10.8zM386.1 150.8h137.2v2.5h-137.2zM207.0 148.6h17.2v2.5h-17.2zM287.1 148.6h2.4v2.5h-2.4zM512.5 148.6h10.8v2.5h-10.8zM207.0 146.5h23.5v2.5h-23.5zM232.3 146.5h27.7v2.5h-27.7zM261.8 146.5h48.8v2.5h-48.8zM312.3 146.5h27.7v2.5h-27.7zM343.9 146.5h8.7v2.5h-8.7zM354.5 146.5h4.5v2.5h-4.5zM360.8 146.5h21.4v2.5h-21.4zM384.0 146.5h2.4v2.5h-2.4zM388.2 146.5h4.5v2.5h-4.5zM398.7 146.5h2.4v2.5h-2.4zM413.5 146.5h31.9v2.5h-31.9zM447.2 146.5h25.6v2.5h-25.6zM474.5 146.5h12.9v2.5h-12.9zM495.6 146.5h21.4v2.5h-21.4zM520.9 146.5h2.4v2.5h-2.4zM207.0 144.3h84.6v2.5h-84.6zM472.4 144.3h38.2v2.5h-38.2zM512.5 144.3h4.5v2.5h-4.5zM518.8 144.3h4.5v2.5h-4.5zM207.0 142.1h6.6v2.5h-6.6zM215.4 142.1h307.9v2.5h-307.9zM207.0 139.9h316.3v2.5h-316.3zM207.0 137.7h4.5v2.5h-4.5zM217.5 137.7h2.4v2.5h-2.4zM221.7 137.7h240.5v2.5h-240.5zM464.0 137.7h31.9v2.5h-31.9zM497.7 137.7h2.4v2.5h-2.4zM501.9 137.7h21.4v2.5h-21.4zM207.0 135.6h17.2v2.5h-17.2zM232.3 135.6h4.5v2.5h-4.5zM240.7 135.6h2.4v2.5h-2.4zM244.9 135.6h2.4v2.5h-2.4zM259.7 135.6h8.7v2.5h-8.7zM272.3 135.6h8.7v2.5h-8.7zM287.1 135.6h12.9v2.5h-12.9zM301.8 135.6h2.4v2.5h-2.4zM312.3 135.6h6.6v2.5h-6.6zM329.2 135.6h2.4v2.5h-2.4zM339.7 135.6h6.6v2.5h-6.6zM348.1 135.6h2.4v2.5h-2.4zM352.4 135.6h2.4v2.5h-2.4zM356.6 135.6h15.0v2.5h-15.0zM373.4 135.6h12.9v2.5h-12.9zM390.3 135.6h8.7v2.5h-8.7zM415.6 135.6h6.6v2.5h-6.6zM424.0 135.6h6.6v2.5h-6.6zM447.2 135.6h2.4v2.5h-2.4zM451.4 135.6h12.9v2.5h-12.9zM470.3 135.6h2.4v2.5h-2.4zM476.7 135.6h8.7v2.5h-8.7zM487.2 135.6h4.5v2.5h-4.5zM493.5 135.6h6.6v2.5h-6.6zM510.4 135.6h4.5v2.5h-4.5zM207.0 133.4h116.2v2.5h-116.2zM325.0 133.4h74.0v2.5h-74.0zM402.9 133.4h120.4v2.5h-120.4zM207.0 131.2h59.3v2.5h-59.3zM343.9 131.2h2.4v2.5h-2.4zM400.8 131.2h2.4v2.5h-2.4zM440.8 131.2h2.4v2.5h-2.4zM226.0 129.0h2.4v2.5h-2.4zM230.2 129.0h4.5v2.5h-4.5zM244.9 129.0h12.9v2.5h-12.9zM278.6 129.0h27.7v2.5h-27.7zM308.1 129.0h2.4v2.5h-2.4zM314.4 129.0h12.9v2.5h-12.9zM331.3 129.0h8.7v2.5h-8.7zM343.9 129.0h6.6v2.5h-6.6zM352.4 129.0h2.4v2.5h-2.4zM358.7 129.0h6.6v2.5h-6.6zM369.2 129.0h2.4v2.5h-2.4zM373.4 129.0h6.6v2.5h-6.6zM381.9 129.0h2.4v2.5h-2.4zM392.4 129.0h4.5v2.5h-4.5zM411.3 129.0h2.4v2.5h-2.4zM415.6 129.0h2.4v2.5h-2.4zM434.5 129.0h53.0v2.5h-53.0zM489.3 129.0h2.4v2.5h-2.4zM510.4 129.0h2.4v2.5h-2.4zM518.8 129.0h2.4v2.5h-2.4zM207.0 126.8h29.8v2.5h-29.8zM238.6 126.8h40.3v2.5h-40.3zM280.7 126.8h202.5v2.5h-202.5zM487.2 126.8h4.5v2.5h-4.5zM495.6 126.8h27.7v2.5h-27.7zM207.0 124.7h15.0v2.5h-15.0zM223.9 124.7h10.8v2.5h-10.8zM236.5 124.7h12.9v2.5h-12.9zM255.5 124.7h2.4v2.5h-2.4zM259.7 124.7h21.4v2.5h-21.4zM284.9 124.7h2.4v2.5h-2.4zM291.3 124.7h29.8v2.5h-29.8zM322.9 124.7h27.7v2.5h-27.7zM352.4 124.7h34.0v2.5h-34.0zM390.3 124.7h57.2v2.5h-57.2zM449.3 124.7h17.2v2.5h-17.2zM468.2 124.7h2.4v2.5h-2.4zM474.5 124.7h2.4v2.5h-2.4zM478.8 124.7h17.2v2.5h-17.2zM501.9 124.7h17.2v2.5h-17.2zM207.0 122.5h2.4v2.5h-2.4zM211.2 122.5h2.4v2.5h-2.4zM244.9 122.5h6.6v2.5h-6.6zM261.8 122.5h4.5v2.5h-4.5zM268.1 122.5h4.5v2.5h-4.5zM276.5 122.5h6.6v2.5h-6.6zM284.9 122.5h2.4v2.5h-2.4zM289.2 122.5h2.4v2.5h-2.4zM310.2 122.5h4.5v2.5h-4.5zM316.5 122.5h8.7v2.5h-8.7zM352.4 122.5h2.4v2.5h-2.4zM356.6 122.5h4.5v2.5h-4.5zM365.0 122.5h6.6v2.5h-6.6zM396.6 122.5h2.4v2.5h-2.4zM400.8 122.5h2.4v2.5h-2.4zM415.6 122.5h8.7v2.5h-8.7zM442.9 122.5h2.4v2.5h-2.4zM453.5 122.5h6.6v2.5h-6.6zM464.0 122.5h8.7v2.5h-8.7zM501.9 122.5h4.5v2.5h-4.5zM508.3 122.5h8.7v2.5h-8.7zM520.9 122.5h2.4v2.5h-2.4zM207.0 120.3h21.4v2.5h-21.4zM247.0 120.3h2.4v2.5h-2.4zM251.2 120.3h6.6v2.5h-6.6zM259.7 120.3h6.6v2.5h-6.6zM272.3 120.3h2.4v2.5h-2.4zM276.5 120.3h8.7v2.5h-8.7zM293.4 120.3h2.4v2.5h-2.4zM297.6 120.3h10.8v2.5h-10.8zM316.5 120.3h4.5v2.5h-4.5zM325.0 120.3h2.4v2.5h-2.4zM343.9 120.3h2.4v2.5h-2.4zM350.3 120.3h2.4v2.5h-2.4zM354.5 120.3h2.4v2.5h-2.4zM367.1 120.3h2.4v2.5h-2.4zM375.5 120.3h2.4v2.5h-2.4zM381.9 120.3h25.6v2.5h-25.6zM409.2 120.3h6.6v2.5h-6.6zM426.1 120.3h8.7v2.5h-8.7zM440.8 120.3h12.9v2.5h-12.9zM457.7 120.3h4.5v2.5h-4.5zM466.1 120.3h2.4v2.5h-2.4zM470.3 120.3h12.9v2.5h-12.9zM485.1 120.3h2.4v2.5h-2.4zM489.3 120.3h2.4v2.5h-2.4zM497.7 120.3h2.4v2.5h-2.4zM506.1 120.3h10.8v2.5h-10.8zM518.8 120.3h2.4v2.5h-2.4zM213.3 118.1h2.4v2.5h-2.4zM289.2 118.1h8.7v2.5h-8.7zM316.5 118.1h2.4v2.5h-2.4zM377.6 118.1h2.4v2.5h-2.4zM394.5 118.1h2.4v2.5h-2.4zM419.8 118.1h6.6v2.5h-6.6zM459.8 118.1h2.4v2.5h-2.4zM480.9 118.1h4.5v2.5h-4.5zM487.2 118.1h2.4v2.5h-2.4zM207.0 115.9h15.0v2.5h-15.0zM223.9 115.9h4.5v2.5h-4.5zM230.2 115.9h12.9v2.5h-12.9zM244.9 115.9h12.9v2.5h-12.9zM259.7 115.9h4.5v2.5h-4.5zM268.1 115.9h2.4v2.5h-2.4zM272.3 115.9h17.2v2.5h-17.2zM291.3 115.9h31.9v2.5h-31.9zM325.0 115.9h27.7v2.5h-27.7zM354.5 115.9h2.4v2.5h-2.4zM358.7 115.9h2.4v2.5h-2.4zM362.9 115.9h31.9v2.5h-31.9zM396.6 115.9h6.6v2.5h-6.6zM405.0 115.9h29.8v2.5h-29.8zM447.2 115.9h4.5v2.5h-4.5zM468.2 115.9h4.5v2.5h-4.5zM501.9 115.9h21.4v2.5h-21.4zM207.0 113.8h80.4v2.5h-80.4zM293.4 113.8h2.4v2.5h-2.4zM297.6 113.8h128.8v2.5h-128.8zM447.2 113.8h25.6v2.5h-25.6zM480.9 113.8h17.2v2.5h-17.2zM501.9 113.8h21.4v2.5h-21.4zM445.1 111.6h2.4v2.5h-2.4zM461.9 111.6h2.4v2.5h-2.4zM215.4 109.4h4.5v2.5h-4.5zM226.0 109.4h4.5v2.5h-4.5zM247.0 109.4h2.4v2.5h-2.4zM251.2 109.4h4.5v2.5h-4.5zM280.7 109.4h8.7v2.5h-8.7zM291.3 109.4h2.4v2.5h-2.4zM303.9 109.4h4.5v2.5h-4.5zM316.5 109.4h2.4v2.5h-2.4zM325.0 109.4h2.4v2.5h-2.4zM384.0 109.4h15.0v2.5h-15.0zM411.3 109.4h2.4v2.5h-2.4zM432.4 109.4h2.4v2.5h-2.4zM442.9 109.4h6.6v2.5h-6.6zM451.4 109.4h2.4v2.5h-2.4zM455.6 109.4h2.4v2.5h-2.4zM466.1 109.4h10.8v2.5h-10.8zM480.9 109.4h6.6v2.5h-6.6zM493.5 109.4h2.4v2.5h-2.4zM508.3 109.4h6.6v2.5h-6.6zM516.7 109.4h4.5v2.5h-4.5zM207.0 107.2h8.7v2.5h-8.7zM223.9 107.2h2.4v2.5h-2.4zM242.8 107.2h12.9v2.5h-12.9zM257.6 107.2h2.4v2.5h-2.4zM263.9 107.2h2.4v2.5h-2.4zM270.2 107.2h6.6v2.5h-6.6zM282.8 107.2h2.4v2.5h-2.4zM291.3 107.2h4.5v2.5h-4.5zM306.0 107.2h2.4v2.5h-2.4zM312.3 107.2h2.4v2.5h-2.4zM346.0 107.2h15.0v2.5h-15.0zM362.9 107.2h2.4v2.5h-2.4zM375.5 107.2h2.4v2.5h-2.4zM392.4 107.2h4.5v2.5h-4.5zM409.2 107.2h15.0v2.5h-15.0zM428.2 107.2h2.4v2.5h-2.4zM434.5 107.2h2.4v2.5h-2.4zM451.4 107.2h4.5v2.5h-4.5zM464.0 107.2h10.8v2.5h-10.8zM485.1 107.2h12.9v2.5h-12.9zM512.5 107.2h10.8v2.5h-10.8zM207.0 105.1h2.4v2.5h-2.4zM266.0 105.1h2.4v2.5h-2.4zM274.4 105.1h4.5v2.5h-4.5zM350.3 105.1h2.4v2.5h-2.4zM396.6 105.1h4.5v2.5h-4.5zM499.8 105.1h2.4v2.5h-2.4zM251.2 102.9h2.4v2.5h-2.4zM293.4 102.9h2.4v2.5h-2.4zM312.3 102.9h6.6v2.5h-6.6zM322.9 102.9h2.4v2.5h-2.4zM352.4 102.9h2.4v2.5h-2.4zM356.6 102.9h4.5v2.5h-4.5zM371.3 102.9h2.4v2.5h-2.4zM390.3 102.9h2.4v2.5h-2.4zM428.2 102.9h4.5v2.5h-4.5zM449.3 102.9h2.4v2.5h-2.4zM480.9 102.9h2.4v2.5h-2.4zM495.6 102.9h2.4v2.5h-2.4zM242.8 100.7h4.5v2.5h-4.5zM295.5 100.7h2.4v2.5h-2.4zM350.3 100.7h4.5v2.5h-4.5zM356.6 100.7h2.4v2.5h-2.4zM396.6 100.7h2.4v2.5h-2.4zM440.8 100.7h4.5v2.5h-4.5zM520.9 100.7h2.4v2.5h-2.4zM219.6 98.5h2.4v2.5h-2.4zM223.9 98.5h2.4v2.5h-2.4zM251.2 98.5h2.4v2.5h-2.4zM278.6 98.5h2.4v2.5h-2.4zM329.2 98.5h2.4v2.5h-2.4zM348.1 98.5h2.4v2.5h-2.4zM411.3 98.5h2.4v2.5h-2.4zM453.5 98.5h2.4v2.5h-2.4zM476.7 98.5h4.5v2.5h-4.5zM518.8 98.5h4.5v2.5h-4.5zM211.2 96.3h2.4v2.5h-2.4zM234.4 96.3h4.5v2.5h-4.5zM255.5 96.3h2.4v2.5h-2.4zM299.7 96.3h2.4v2.5h-2.4zM303.9 96.3h2.4v2.5h-2.4zM310.2 96.3h8.7v2.5h-8.7zM329.2 96.3h10.8v2.5h-10.8zM358.7 96.3h2.4v2.5h-2.4zM362.9 96.3h4.5v2.5h-4.5zM409.2 96.3h2.4v2.5h-2.4zM426.1 96.3h2.4v2.5h-2.4zM430.3 96.3h8.7v2.5h-8.7zM442.9 96.3h2.4v2.5h-2.4zM447.2 96.3h4.5v2.5h-4.5zM464.0 96.3h2.4v2.5h-2.4zM480.9 96.3h2.4v2.5h-2.4zM485.1 96.3h4.5v2.5h-4.5zM504.0 96.3h8.7v2.5h-8.7zM516.7 96.3h2.4v2.5h-2.4zM207.0 94.2h2.4v2.5h-2.4zM221.7 94.2h4.5v2.5h-4.5zM230.2 94.2h2.4v2.5h-2.4zM234.4 94.2h8.7v2.5h-8.7zM251.2 94.2h2.4v2.5h-2.4zM314.4 94.2h10.8v2.5h-10.8zM365.0 94.2h6.6v2.5h-6.6zM373.4 94.2h4.5v2.5h-4.5zM384.0 94.2h6.6v2.5h-6.6zM400.8 94.2h4.5v2.5h-4.5zM411.3 94.2h2.4v2.5h-2.4zM434.5 94.2h4.5v2.5h-4.5zM440.8 94.2h2.4v2.5h-2.4zM508.3 94.2h6.6v2.5h-6.6zM354.5 92.0h6.6v2.5h-6.6zM373.4 92.0h2.4v2.5h-2.4zM497.7 92.0h8.7v2.5h-8.7zM280.7 89.8h2.4v2.5h-2.4zM287.1 89.8h2.4v2.5h-2.4zM318.7 89.8h2.4v2.5h-2.4zM352.4 89.8h2.4v2.5h-2.4zM367.1 89.8h2.4v2.5h-2.4zM398.7 89.8h2.4v2.5h-2.4zM438.7 89.8h8.7v2.5h-8.7zM453.5 89.8h6.6v2.5h-6.6zM468.2 89.8h4.5v2.5h-4.5zM474.5 89.8h4.5v2.5h-4.5zM483.0 89.8h2.4v2.5h-2.4zM487.2 89.8h4.5v2.5h-4.5zM493.5 89.8h6.6v2.5h-6.6zM506.1 89.8h2.4v2.5h-2.4zM516.7 89.8h2.4v2.5h-2.4zM434.5 87.6h2.4v2.5h-2.4zM310.2 85.4h2.4v2.5h-2.4zM402.9 85.4h8.7v2.5h-8.7zM451.4 85.4h2.4v2.5h-2.4zM455.6 85.4h2.4v2.5h-2.4zM510.4 85.4h4.5v2.5h-4.5zM232.3 78.9h2.4v2.5h-2.4zM238.6 78.9h2.4v2.5h-2.4zM244.9 78.9h10.8v2.5h-10.8zM261.8 78.9h2.4v2.5h-2.4zM268.1 78.9h4.5v2.5h-4.5zM274.4 78.9h4.5v2.5h-4.5zM295.5 78.9h4.5v2.5h-4.5zM301.8 78.9h4.5v2.5h-4.5zM314.4 78.9h2.4v2.5h-2.4zM320.8 78.9h2.4v2.5h-2.4zM335.5 78.9h2.4v2.5h-2.4zM339.7 78.9h2.4v2.5h-2.4zM343.9 78.9h4.5v2.5h-4.5zM356.6 78.9h2.4v2.5h-2.4zM365.0 78.9h2.4v2.5h-2.4zM369.2 78.9h6.6v2.5h-6.6zM379.7 78.9h10.8v2.5h-10.8zM392.4 78.9h4.5v2.5h-4.5zM402.9 78.9h12.9v2.5h-12.9zM417.7 78.9h6.6v2.5h-6.6zM426.1 78.9h6.6v2.5h-6.6zM434.5 78.9h2.4v2.5h-2.4zM459.8 78.9h2.4v2.5h-2.4zM474.5 78.9h2.4v2.5h-2.4zM483.0 78.9h2.4v2.5h-2.4zM489.3 78.9h10.8v2.5h-10.8zM508.3 78.9h4.5v2.5h-4.5zM518.8 78.9h2.4v2.5h-2.4zM379.7 76.7h2.4v2.5h-2.4zM367.1 72.4h4.5v2.5h-4.5zM379.7 72.4h2.4v2.5h-2.4zM384.0 72.4h2.4v2.5h-2.4zM388.2 72.4h2.4v2.5h-2.4zM398.7 72.4h4.5v2.5h-4.5zM373.4 70.2h2.4v2.5h-2.4zM388.2 70.2h6.6v2.5h-6.6z"/><path fill="#1dd2e2" d="M70.1 345.9h2.4v3.3h-2.4zM76.4 345.9h2.4v3.3h-2.4zM84.8 345.9h2.4v3.3h-2.4zM101.7 345.9h2.4v3.3h-2.4zM110.1 345.9h2.4v3.3h-2.4zM120.6 345.9h2.4v3.3h-2.4zM150.1 345.9h8.7v3.3h-8.7zM160.7 345.9h8.7v3.3h-8.7zM175.4 345.9h4.5v3.3h-4.5zM183.8 345.9h8.7v3.3h-8.7zM194.4 345.9h2.4v3.3h-2.4zM204.9 345.9h2.4v3.3h-2.4zM211.2 345.9h2.4v3.3h-2.4zM221.7 345.9h4.5v3.3h-4.5zM230.2 345.9h2.4v3.3h-2.4zM234.4 345.9h4.5v3.3h-4.5zM244.9 345.9h2.4v3.3h-2.4zM255.5 345.9h4.5v3.3h-4.5zM280.7 345.9h2.4v3.3h-2.4zM284.9 345.9h6.6v3.3h-6.6zM297.6 345.9h17.2v3.3h-17.2zM318.7 345.9h4.5v3.3h-4.5zM331.3 345.9h2.4v3.3h-2.4zM337.6 345.9h2.4v3.3h-2.4zM343.9 345.9h2.4v3.3h-2.4zM354.5 345.9h2.4v3.3h-2.4zM360.8 345.9h12.9v3.3h-12.9zM375.5 345.9h2.4v3.3h-2.4zM379.7 345.9h4.5v3.3h-4.5zM390.3 345.9h6.6v3.3h-6.6zM411.3 345.9h2.4v3.3h-2.4zM438.7 345.9h2.4v3.3h-2.4zM472.4 345.9h2.4v3.3h-2.4zM478.8 345.9h6.6v3.3h-6.6zM493.5 345.9h2.4v3.3h-2.4zM504.0 345.9h10.8v3.3h-10.8zM516.7 345.9h4.5v3.3h-4.5zM525.1 345.9h2.4v3.3h-2.4zM533.5 345.9h2.4v3.3h-2.4zM539.9 345.9h8.7v3.3h-8.7zM550.4 345.9h2.4v3.3h-2.4zM556.7 345.9h4.5v3.3h-4.5zM573.6 345.9h6.6v3.3h-6.6zM584.1 345.9h2.4v3.3h-2.4zM613.6 345.9h2.4v3.3h-2.4zM619.9 345.9h2.4v3.3h-2.4zM626.2 345.9h4.5v3.3h-4.5zM632.5 345.9h8.7v3.3h-8.7zM651.5 345.9h2.4v3.3h-2.4zM666.3 345.9h2.4v3.3h-2.4zM68.0 343.7h6.6v2.4h-6.6zM76.4 343.7h2.4v2.4h-2.4zM80.6 343.7h15.0v2.4h-15.0zM99.6 343.7h25.6v2.4h-25.6zM126.9 343.7h6.6v2.4h-6.6zM139.6 343.7h6.6v2.4h-6.6zM150.1 343.7h25.6v2.4h-25.6zM183.8 343.7h15.0v2.4h-15.0zM200.7 343.7h2.4v2.4h-2.4zM204.9 343.7h4.5v2.4h-4.5zM213.3 343.7h17.2v2.4h-17.2zM244.9 343.7h6.6v2.4h-6.6zM253.3 343.7h29.8v2.4h-29.8zM459.8 343.7h6.6v2.4h-6.6zM474.5 343.7h4.5v2.4h-4.5zM483.0 343.7h4.5v2.4h-4.5zM489.3 343.7h17.2v2.4h-17.2zM514.6 343.7h6.6v2.4h-6.6zM523.0 343.7h2.4v2.4h-2.4zM527.2 343.7h8.7v2.4h-8.7zM537.7 343.7h17.2v2.4h-17.2zM556.7 343.7h4.5v2.4h-4.5zM563.0 343.7h2.4v2.4h-2.4zM567.2 343.7h12.9v2.4h-12.9zM582.0 343.7h8.7v2.4h-8.7zM594.6 343.7h8.7v2.4h-8.7zM615.7 343.7h50.9v2.4h-50.9zM68.0 341.6h4.5v2.4h-4.5zM74.3 341.6h6.6v2.4h-6.6zM82.7 341.6h6.6v2.4h-6.6zM91.1 341.6h4.5v2.4h-4.5zM97.5 341.6h12.9v2.4h-12.9zM122.7 341.6h12.9v2.4h-12.9zM137.5 341.6h2.4v2.4h-2.4zM143.8 341.6h23.5v2.4h-23.5zM171.2 341.6h4.5v2.4h-4.5zM177.5 341.6h15.0v2.4h-15.0zM198.6 341.6h10.8v2.4h-10.8zM219.6 341.6h2.4v2.4h-2.4zM223.9 341.6h6.6v2.4h-6.6zM236.5 341.6h2.4v2.4h-2.4zM240.7 341.6h4.5v2.4h-4.5zM247.0 341.6h25.6v2.4h-25.6zM274.4 341.6h4.5v2.4h-4.5zM459.8 341.6h10.8v2.4h-10.8zM472.4 341.6h2.4v2.4h-2.4zM478.8 341.6h15.0v2.4h-15.0zM501.9 341.6h2.4v2.4h-2.4zM506.1 341.6h6.6v2.4h-6.6zM516.7 341.6h2.4v2.4h-2.4zM520.9 341.6h2.4v2.4h-2.4zM533.5 341.6h4.5v2.4h-4.5zM539.9 341.6h15.0v2.4h-15.0zM558.8 341.6h2.4v2.4h-2.4zM565.1 341.6h12.9v2.4h-12.9zM582.0 341.6h17.2v2.4h-17.2zM605.2 341.6h2.4v2.4h-2.4zM609.4 341.6h2.4v2.4h-2.4zM613.6 341.6h2.4v2.4h-2.4zM628.3 341.6h15.0v2.4h-15.0zM651.5 341.6h4.5v2.4h-4.5zM666.3 341.6h8.7v2.4h-8.7zM68.0 339.4h10.8v2.4h-10.8zM89.0 339.4h2.4v2.4h-2.4zM93.2 339.4h12.9v2.4h-12.9zM108.0 339.4h6.6v2.4h-6.6zM120.6 339.4h6.6v2.4h-6.6zM131.2 339.4h2.4v2.4h-2.4zM137.5 339.4h2.4v2.4h-2.4zM141.7 339.4h6.6v2.4h-6.6zM150.1 339.4h15.0v2.4h-15.0zM167.0 339.4h6.6v2.4h-6.6zM175.4 339.4h2.4v2.4h-2.4zM179.6 339.4h4.5v2.4h-4.5zM185.9 339.4h12.9v2.4h-12.9zM200.7 339.4h2.4v2.4h-2.4zM204.9 339.4h8.7v2.4h-8.7zM215.4 339.4h17.2v2.4h-17.2zM236.5 339.4h6.6v2.4h-6.6zM244.9 339.4h2.4v2.4h-2.4zM249.1 339.4h17.2v2.4h-17.2zM268.1 339.4h6.6v2.4h-6.6zM278.6 339.4h4.5v2.4h-4.5zM455.6 339.4h12.9v2.4h-12.9zM470.3 339.4h21.4v2.4h-21.4zM495.6 339.4h38.2v2.4h-38.2zM535.6 339.4h2.4v2.4h-2.4zM542.0 339.4h8.7v2.4h-8.7zM552.5 339.4h6.6v2.4h-6.6zM565.1 339.4h65.6v2.4h-65.6zM632.5 339.4h34.0v2.4h-34.0zM668.4 339.4h6.6v2.4h-6.6zM181.7 337.3h2.4v2.4h-2.4zM242.8 337.3h2.4v2.4h-2.4zM247.0 337.3h38.2v2.4h-38.2zM287.1 337.3h15.0v2.4h-15.0zM303.9 337.3h95.1v2.4h-95.1zM400.8 337.3h67.7v2.4h-67.7zM120.6 335.1h2.4v2.4h-2.4zM217.5 335.1h4.5v2.4h-4.5zM244.9 335.1h12.9v2.4h-12.9zM459.8 335.1h10.8v2.4h-10.8zM485.1 335.1h2.4v2.4h-2.4zM552.5 335.1h2.4v2.4h-2.4zM579.9 335.1h2.4v2.4h-2.4zM600.9 335.1h2.4v2.4h-2.4zM605.2 335.1h2.4v2.4h-2.4zM657.8 335.1h2.4v2.4h-2.4zM80.6 333.0h2.4v2.4h-2.4zM103.8 333.0h2.4v2.4h-2.4zM133.3 333.0h2.4v2.4h-2.4zM139.6 333.0h2.4v2.4h-2.4zM164.9 333.0h4.5v2.4h-4.5zM194.4 333.0h2.4v2.4h-2.4zM211.2 333.0h2.4v2.4h-2.4zM215.4 333.0h2.4v2.4h-2.4zM236.5 333.0h2.4v2.4h-2.4zM244.9 333.0h130.9v2.4h-130.9zM377.6 333.0h34.0v2.4h-34.0zM413.5 333.0h44.5v2.4h-44.5zM459.8 333.0h10.8v2.4h-10.8zM476.7 333.0h2.4v2.4h-2.4zM504.0 333.0h2.4v2.4h-2.4zM516.7 333.0h2.4v2.4h-2.4zM560.9 333.0h2.4v2.4h-2.4zM575.7 333.0h2.4v2.4h-2.4zM600.9 333.0h2.4v2.4h-2.4zM607.3 333.0h4.5v2.4h-4.5zM617.8 333.0h2.4v2.4h-2.4zM632.5 333.0h2.4v2.4h-2.4zM643.1 333.0h2.4v2.4h-2.4zM223.9 330.9h2.4v2.4h-2.4zM251.2 330.9h29.8v2.4h-29.8zM291.3 330.9h21.4v2.4h-21.4zM314.4 330.9h23.5v2.4h-23.5zM341.8 330.9h2.4v2.4h-2.4zM346.0 330.9h2.4v2.4h-2.4zM356.6 330.9h2.4v2.4h-2.4zM365.0 330.9h17.2v2.4h-17.2zM384.0 330.9h29.8v2.4h-29.8zM428.2 330.9h19.3v2.4h-19.3zM449.3 330.9h15.0v2.4h-15.0zM270.2 326.6h12.9v2.4h-12.9zM284.9 326.6h82.5v2.4h-82.5zM369.2 326.6h19.3v2.4h-19.3zM390.3 326.6h29.8v2.4h-29.8zM421.9 326.6h19.3v2.4h-19.3zM442.9 326.6h4.5v2.4h-4.5zM329.2 324.4h2.4v2.4h-2.4zM263.9 322.3h4.5v2.4h-4.5zM272.3 322.3h21.4v2.4h-21.4zM295.5 322.3h2.4v2.4h-2.4zM303.9 322.3h4.5v2.4h-4.5zM318.7 322.3h15.0v2.4h-15.0zM343.9 322.3h15.0v2.4h-15.0zM365.0 322.3h34.0v2.4h-34.0zM400.8 322.3h8.7v2.4h-8.7zM411.3 322.3h17.2v2.4h-17.2zM430.3 322.3h10.8v2.4h-10.8zM451.4 322.3h4.5v2.4h-4.5zM466.1 322.3h2.4v2.4h-2.4zM251.2 320.1h208.9v2.4h-208.9zM461.9 320.1h8.7v2.4h-8.7zM255.5 318.0h27.7v2.4h-27.7zM284.9 318.0h4.5v2.4h-4.5zM293.4 318.0h78.2v2.4h-78.2zM375.5 318.0h12.9v2.4h-12.9zM390.3 318.0h25.6v2.4h-25.6zM419.8 318.0h42.4v2.4h-42.4zM80.6 315.9h2.4v2.4h-2.4zM84.8 315.9h2.4v2.4h-2.4zM124.8 315.9h2.4v2.4h-2.4zM251.2 315.9h63.5v2.4h-63.5zM316.5 315.9h46.6v2.4h-46.6zM365.0 315.9h8.7v2.4h-8.7zM375.5 315.9h53.0v2.4h-53.0zM430.3 315.9h2.4v2.4h-2.4zM434.5 315.9h34.0v2.4h-34.0zM499.8 315.9h2.4v2.4h-2.4zM548.3 315.9h2.4v2.4h-2.4zM643.1 315.9h2.4v2.4h-2.4zM255.5 313.7h107.7v2.4h-107.7zM371.3 313.7h15.0v2.4h-15.0zM392.4 313.7h44.5v2.4h-44.5zM438.7 313.7h31.9v2.4h-31.9zM257.6 311.6h10.8v2.4h-10.8zM270.2 311.6h21.4v2.4h-21.4zM295.5 311.6h55.1v2.4h-55.1zM354.5 311.6h8.7v2.4h-8.7zM365.0 311.6h55.1v2.4h-55.1zM424.0 311.6h4.5v2.4h-4.5zM430.3 311.6h34.0v2.4h-34.0zM466.1 311.6h2.4v2.4h-2.4zM86.9 309.4h4.5v2.4h-4.5zM101.7 309.4h2.4v2.4h-2.4zM122.7 309.4h2.4v2.4h-2.4zM131.2 309.4h2.4v2.4h-2.4zM204.9 309.4h6.6v2.4h-6.6zM253.3 309.4h217.3v2.4h-217.3zM480.9 309.4h8.7v2.4h-8.7zM518.8 309.4h2.4v2.4h-2.4zM563.0 309.4h2.4v2.4h-2.4zM586.2 309.4h2.4v2.4h-2.4zM634.7 309.4h2.4v2.4h-2.4zM266.0 305.1h12.9v2.4h-12.9zM291.3 305.1h2.4v2.4h-2.4zM320.8 305.1h6.6v2.4h-6.6zM358.7 305.1h2.4v2.4h-2.4zM381.9 305.1h19.3v2.4h-19.3zM424.0 305.1h4.5v2.4h-4.5zM432.4 305.1h4.5v2.4h-4.5zM438.7 305.1h6.6v2.4h-6.6zM451.4 305.1h2.4v2.4h-2.4zM257.6 303.0h2.4v2.4h-2.4zM263.9 303.0h10.8v2.4h-10.8zM276.5 303.0h4.5v2.4h-4.5zM287.1 303.0h4.5v2.4h-4.5zM293.4 303.0h8.7v2.4h-8.7zM303.9 303.0h2.4v2.4h-2.4zM308.1 303.0h2.4v2.4h-2.4zM314.4 303.0h4.5v2.4h-4.5zM335.5 303.0h2.4v2.4h-2.4zM339.7 303.0h6.6v2.4h-6.6zM354.5 303.0h6.6v2.4h-6.6zM365.0 303.0h8.7v2.4h-8.7zM375.5 303.0h15.0v2.4h-15.0zM402.9 303.0h4.5v2.4h-4.5zM411.3 303.0h4.5v2.4h-4.5zM419.8 303.0h34.0v2.4h-34.0zM455.6 303.0h4.5v2.4h-4.5zM461.9 303.0h6.6v2.4h-6.6zM148.0 300.9h2.4v2.4h-2.4zM255.5 300.9h90.9v2.4h-90.9zM352.4 300.9h118.3v2.4h-118.3zM257.6 298.7h2.4v2.4h-2.4zM261.8 298.7h19.3v2.4h-19.3zM282.8 298.7h31.9v2.4h-31.9zM322.9 298.7h6.6v2.4h-6.6zM331.3 298.7h4.5v2.4h-4.5zM339.7 298.7h6.6v2.4h-6.6zM348.1 298.7h4.5v2.4h-4.5zM354.5 298.7h2.4v2.4h-2.4zM371.3 298.7h76.1v2.4h-76.1zM74.3 296.6h2.4v2.4h-2.4zM78.5 296.6h2.4v2.4h-2.4zM82.7 296.6h4.5v2.4h-4.5zM108.0 296.6h2.4v2.4h-2.4zM112.2 296.6h2.4v2.4h-2.4zM129.1 296.6h2.4v2.4h-2.4zM141.7 296.6h4.5v2.4h-4.5zM148.0 296.6h2.4v2.4h-2.4zM177.5 296.6h2.4v2.4h-2.4zM181.7 296.6h2.4v2.4h-2.4zM192.3 296.6h2.4v2.4h-2.4zM202.8 296.6h2.4v2.4h-2.4zM232.3 296.6h2.4v2.4h-2.4zM257.6 296.6h177.3v2.4h-177.3zM438.7 296.6h17.2v2.4h-17.2zM466.1 296.6h2.4v2.4h-2.4zM472.4 296.6h2.4v2.4h-2.4zM478.8 296.6h2.4v2.4h-2.4zM485.1 296.6h4.5v2.4h-4.5zM499.8 296.6h2.4v2.4h-2.4zM506.1 296.6h4.5v2.4h-4.5zM520.9 296.6h2.4v2.4h-2.4zM531.4 296.6h6.6v2.4h-6.6zM573.6 296.6h2.4v2.4h-2.4zM605.2 296.6h2.4v2.4h-2.4zM609.4 296.6h2.4v2.4h-2.4zM615.7 296.6h2.4v2.4h-2.4zM632.5 296.6h2.4v2.4h-2.4zM641.0 296.6h2.4v2.4h-2.4zM651.5 296.6h2.4v2.4h-2.4zM72.2 294.4h2.4v2.4h-2.4zM257.6 294.4h4.5v2.4h-4.5zM270.2 294.4h177.3v2.4h-177.3zM257.6 292.3h6.6v2.4h-6.6zM268.1 292.3h42.4v2.4h-42.4zM312.3 292.3h2.4v2.4h-2.4zM316.5 292.3h116.2v2.4h-116.2zM438.7 292.3h8.7v2.4h-8.7zM91.1 290.1h2.4v2.4h-2.4zM103.8 290.1h2.4v2.4h-2.4zM139.6 290.1h4.5v2.4h-4.5zM150.1 290.1h4.5v2.4h-4.5zM173.3 290.1h2.4v2.4h-2.4zM190.1 290.1h2.4v2.4h-2.4zM249.1 290.1h2.4v2.4h-2.4zM255.5 290.1h31.9v2.4h-31.9zM289.2 290.1h160.4v2.4h-160.4zM459.8 290.1h2.4v2.4h-2.4zM476.7 290.1h2.4v2.4h-2.4zM531.4 290.1h2.4v2.4h-2.4zM542.0 290.1h2.4v2.4h-2.4zM546.2 290.1h2.4v2.4h-2.4zM567.2 290.1h2.4v2.4h-2.4zM575.7 290.1h2.4v2.4h-2.4zM584.1 290.1h2.4v2.4h-2.4zM588.3 290.1h2.4v2.4h-2.4zM598.8 290.1h2.4v2.4h-2.4zM605.2 290.1h2.4v2.4h-2.4zM624.1 290.1h4.5v2.4h-4.5zM655.7 290.1h2.4v2.4h-2.4zM666.3 290.1h2.4v2.4h-2.4zM257.6 288.0h2.4v2.4h-2.4zM261.8 288.0h12.9v2.4h-12.9zM276.5 288.0h36.1v2.4h-36.1zM314.4 288.0h36.1v2.4h-36.1zM356.6 288.0h93.0v2.4h-93.0zM516.7 288.0h2.4v2.4h-2.4zM607.3 288.0h2.4v2.4h-2.4zM261.8 285.9h4.5v2.4h-4.5zM297.6 285.9h4.5v2.4h-4.5zM303.9 285.9h8.7v2.4h-8.7zM325.0 285.9h2.4v2.4h-2.4zM329.2 285.9h4.5v2.4h-4.5zM365.0 285.9h2.4v2.4h-2.4zM369.2 285.9h8.7v2.4h-8.7zM434.5 285.9h6.6v2.4h-6.6zM257.6 281.6h31.9v2.4h-31.9zM293.4 281.6h8.7v2.4h-8.7zM318.7 281.6h10.8v2.4h-10.8zM335.5 281.6h67.7v2.4h-67.7zM405.0 281.6h8.7v2.4h-8.7zM419.8 281.6h8.7v2.4h-8.7zM430.3 281.6h17.2v2.4h-17.2zM257.6 279.4h12.9v2.4h-12.9zM272.3 279.4h2.4v2.4h-2.4zM276.5 279.4h4.5v2.4h-4.5zM289.2 279.4h2.4v2.4h-2.4zM293.4 279.4h36.1v2.4h-36.1zM331.3 279.4h48.8v2.4h-48.8zM381.9 279.4h4.5v2.4h-4.5zM388.2 279.4h36.1v2.4h-36.1zM426.1 279.4h2.4v2.4h-2.4zM430.3 279.4h8.7v2.4h-8.7zM91.1 277.3h2.4v2.4h-2.4zM167.0 277.3h2.4v2.4h-2.4zM196.5 277.3h2.4v2.4h-2.4zM261.8 277.3h189.9v2.4h-189.9zM474.5 277.3h2.4v2.4h-2.4zM480.9 277.3h2.4v2.4h-2.4zM510.4 277.3h4.5v2.4h-4.5zM546.2 277.3h2.4v2.4h-2.4zM596.7 277.3h2.4v2.4h-2.4zM630.4 277.3h2.4v2.4h-2.4zM634.7 277.3h2.4v2.4h-2.4zM666.3 277.3h2.4v2.4h-2.4zM232.3 275.1h2.4v2.4h-2.4zM238.6 275.1h4.5v2.4h-4.5zM244.9 275.1h2.4v2.4h-2.4zM255.5 275.1h40.3v2.4h-40.3zM297.6 275.1h154.1v2.4h-154.1zM464.0 275.1h2.4v2.4h-2.4zM491.4 275.1h2.4v2.4h-2.4zM93.2 273.0h2.4v2.4h-2.4zM99.6 273.0h2.4v2.4h-2.4zM110.1 273.0h2.4v2.4h-2.4zM131.2 273.0h2.4v2.4h-2.4zM160.7 273.0h2.4v2.4h-2.4zM188.0 273.0h2.4v2.4h-2.4zM204.9 273.0h2.4v2.4h-2.4zM257.6 273.0h192.0v2.4h-192.0zM483.0 273.0h2.4v2.4h-2.4zM565.1 273.0h2.4v2.4h-2.4zM586.2 273.0h4.5v2.4h-4.5zM592.5 273.0h2.4v2.4h-2.4zM605.2 273.0h2.4v2.4h-2.4zM609.4 273.0h2.4v2.4h-2.4zM645.2 273.0h2.4v2.4h-2.4zM662.0 273.0h2.4v2.4h-2.4zM268.1 270.9h15.0v2.4h-15.0zM284.9 270.9h17.2v2.4h-17.2zM303.9 270.9h8.7v2.4h-8.7zM316.5 270.9h44.5v2.4h-44.5zM365.0 270.9h65.6v2.4h-65.6zM432.4 270.9h4.5v2.4h-4.5zM438.7 270.9h6.6v2.4h-6.6zM70.1 268.7h8.7v2.4h-8.7zM103.8 268.7h4.5v2.4h-4.5zM126.9 268.7h10.8v2.4h-10.8zM141.7 268.7h2.4v2.4h-2.4zM145.9 268.7h6.6v2.4h-6.6zM156.4 268.7h25.6v2.4h-25.6zM183.8 268.7h4.5v2.4h-4.5zM190.1 268.7h4.5v2.4h-4.5zM207.0 268.7h12.9v2.4h-12.9zM226.0 268.7h8.7v2.4h-8.7zM268.1 268.7h6.6v2.4h-6.6zM276.5 268.7h4.5v2.4h-4.5zM287.1 268.7h15.0v2.4h-15.0zM303.9 268.7h6.6v2.4h-6.6zM312.3 268.7h2.4v2.4h-2.4zM316.5 268.7h10.8v2.4h-10.8zM331.3 268.7h12.9v2.4h-12.9zM354.5 268.7h6.6v2.4h-6.6zM377.6 268.7h21.4v2.4h-21.4zM400.8 268.7h6.6v2.4h-6.6zM411.3 268.7h17.2v2.4h-17.2zM430.3 268.7h17.2v2.4h-17.2zM449.3 268.7h4.5v2.4h-4.5zM457.7 268.7h2.4v2.4h-2.4zM461.9 268.7h2.4v2.4h-2.4zM466.1 268.7h12.9v2.4h-12.9zM480.9 268.7h12.9v2.4h-12.9zM499.8 268.7h17.2v2.4h-17.2zM518.8 268.7h2.4v2.4h-2.4zM527.2 268.7h8.7v2.4h-8.7zM537.7 268.7h4.5v2.4h-4.5zM550.4 268.7h4.5v2.4h-4.5zM556.7 268.7h4.5v2.4h-4.5zM563.0 268.7h4.5v2.4h-4.5zM588.3 268.7h8.7v2.4h-8.7zM600.9 268.7h6.6v2.4h-6.6zM609.4 268.7h17.2v2.4h-17.2zM641.0 268.7h29.8v2.4h-29.8zM68.0 266.6h114.1v2.4h-114.1zM183.8 266.6h2.4v2.4h-2.4zM188.0 266.6h48.8v2.4h-48.8zM266.0 266.6h36.1v2.4h-36.1zM303.9 266.6h6.6v2.4h-6.6zM316.5 266.6h29.8v2.4h-29.8zM348.1 266.6h12.9v2.4h-12.9zM365.0 266.6h82.5v2.4h-82.5zM449.3 266.6h10.8v2.4h-10.8zM461.9 266.6h2.4v2.4h-2.4zM466.1 266.6h27.7v2.4h-27.7zM499.8 266.6h29.8v2.4h-29.8zM537.7 266.6h8.7v2.4h-8.7zM548.3 266.6h40.3v2.4h-40.3zM590.4 266.6h42.4v2.4h-42.4zM634.7 266.6h40.3v2.4h-40.3zM68.0 264.4h261.5v2.4h-261.5zM331.3 264.4h15.0v2.4h-15.0zM350.3 264.4h2.4v2.4h-2.4zM354.5 264.4h15.0v2.4h-15.0zM531.4 264.4h12.9v2.4h-12.9zM575.7 264.4h15.0v2.4h-15.0zM598.8 264.4h76.1v2.4h-76.1zM74.3 262.3h2.4v2.4h-2.4zM78.5 262.3h53.0v2.4h-53.0zM139.6 262.3h29.8v2.4h-29.8zM171.2 262.3h2.4v2.4h-2.4zM177.5 262.3h12.9v2.4h-12.9zM198.6 262.3h25.6v2.4h-25.6zM226.0 262.3h10.8v2.4h-10.8zM523.0 262.3h4.5v2.4h-4.5zM529.3 262.3h2.4v2.4h-2.4zM535.6 262.3h15.0v2.4h-15.0zM565.1 262.3h2.4v2.4h-2.4zM569.3 262.3h27.7v2.4h-27.7zM613.6 262.3h10.8v2.4h-10.8zM626.2 262.3h2.4v2.4h-2.4zM634.7 262.3h2.4v2.4h-2.4zM641.0 262.3h6.6v2.4h-6.6zM649.4 262.3h2.4v2.4h-2.4zM653.6 262.3h2.4v2.4h-2.4zM657.8 262.3h12.9v2.4h-12.9zM68.0 260.1h4.5v2.4h-4.5zM76.4 260.1h8.7v2.4h-8.7zM91.1 260.1h2.4v2.4h-2.4zM95.3 260.1h10.8v2.4h-10.8zM110.1 260.1h10.8v2.4h-10.8zM129.1 260.1h6.6v2.4h-6.6zM137.5 260.1h4.5v2.4h-4.5zM143.8 260.1h4.5v2.4h-4.5zM158.5 260.1h6.6v2.4h-6.6zM171.2 260.1h6.6v2.4h-6.6zM185.9 260.1h23.5v2.4h-23.5zM213.3 260.1h10.8v2.4h-10.8zM226.0 260.1h27.7v2.4h-27.7zM257.6 260.1h10.8v2.4h-10.8zM272.3 260.1h2.4v2.4h-2.4zM276.5 260.1h4.5v2.4h-4.5zM287.1 260.1h15.0v2.4h-15.0zM303.9 260.1h6.6v2.4h-6.6zM316.5 260.1h2.4v2.4h-2.4zM320.8 260.1h8.7v2.4h-8.7zM331.3 260.1h15.0v2.4h-15.0zM350.3 260.1h10.8v2.4h-10.8zM365.0 260.1h4.5v2.4h-4.5zM371.3 260.1h27.7v2.4h-27.7zM400.8 260.1h8.7v2.4h-8.7zM411.3 260.1h17.2v2.4h-17.2zM430.3 260.1h17.2v2.4h-17.2zM449.3 260.1h4.5v2.4h-4.5zM455.6 260.1h2.4v2.4h-2.4zM461.9 260.1h31.9v2.4h-31.9zM499.8 260.1h21.4v2.4h-21.4zM523.0 260.1h12.9v2.4h-12.9zM537.7 260.1h10.8v2.4h-10.8zM550.4 260.1h10.8v2.4h-10.8zM565.1 260.1h4.5v2.4h-4.5zM573.6 260.1h6.6v2.4h-6.6zM584.1 260.1h25.6v2.4h-25.6zM613.6 260.1h29.8v2.4h-29.8zM659.9 260.1h12.9v2.4h-12.9zM68.0 258.0h4.5v2.4h-4.5zM78.5 258.0h12.9v2.4h-12.9zM101.7 258.0h2.4v2.4h-2.4zM105.9 258.0h2.4v2.4h-2.4zM118.5 258.0h19.3v2.4h-19.3zM143.8 258.0h2.4v2.4h-2.4zM148.0 258.0h27.7v2.4h-27.7zM179.6 258.0h34.0v2.4h-34.0zM219.6 258.0h4.5v2.4h-4.5zM226.0 258.0h27.7v2.4h-27.7zM257.6 258.0h2.4v2.4h-2.4zM261.8 258.0h19.3v2.4h-19.3zM284.9 258.0h8.7v2.4h-8.7zM295.5 258.0h6.6v2.4h-6.6zM303.9 258.0h6.6v2.4h-6.6zM316.5 258.0h2.4v2.4h-2.4zM320.8 258.0h25.6v2.4h-25.6zM354.5 258.0h4.5v2.4h-4.5zM365.0 258.0h34.0v2.4h-34.0zM400.8 258.0h8.7v2.4h-8.7zM411.3 258.0h17.2v2.4h-17.2zM430.3 258.0h29.8v2.4h-29.8zM461.9 258.0h2.4v2.4h-2.4zM466.1 258.0h27.7v2.4h-27.7zM497.7 258.0h19.3v2.4h-19.3zM518.8 258.0h2.4v2.4h-2.4zM523.0 258.0h21.4v2.4h-21.4zM546.2 258.0h4.5v2.4h-4.5zM552.5 258.0h4.5v2.4h-4.5zM558.8 258.0h2.4v2.4h-2.4zM563.0 258.0h48.8v2.4h-48.8zM613.6 258.0h8.7v2.4h-8.7zM630.4 258.0h10.8v2.4h-10.8zM643.1 258.0h4.5v2.4h-4.5zM655.7 258.0h10.8v2.4h-10.8zM221.7 255.9h2.4v2.4h-2.4zM226.0 255.9h4.5v2.4h-4.5zM234.4 255.9h12.9v2.4h-12.9zM249.1 255.9h4.5v2.4h-4.5zM261.8 255.9h2.4v2.4h-2.4zM278.6 255.9h2.4v2.4h-2.4zM282.8 255.9h2.4v2.4h-2.4zM287.1 255.9h2.4v2.4h-2.4zM291.3 255.9h10.8v2.4h-10.8zM316.5 255.9h12.9v2.4h-12.9zM333.4 255.9h6.6v2.4h-6.6zM354.5 255.9h4.5v2.4h-4.5zM367.1 255.9h21.4v2.4h-21.4zM390.3 255.9h6.6v2.4h-6.6zM400.8 255.9h6.6v2.4h-6.6zM415.6 255.9h6.6v2.4h-6.6zM424.0 255.9h2.4v2.4h-2.4zM430.3 255.9h17.2v2.4h-17.2zM451.4 255.9h8.7v2.4h-8.7zM461.9 255.9h2.4v2.4h-2.4zM466.1 255.9h27.7v2.4h-27.7zM504.0 255.9h17.2v2.4h-17.2zM523.0 255.9h4.5v2.4h-4.5zM533.5 255.9h2.4v2.4h-2.4zM537.7 255.9h12.9v2.4h-12.9zM563.0 255.9h2.4v2.4h-2.4zM577.8 255.9h4.5v2.4h-4.5zM596.7 255.9h2.4v2.4h-2.4zM607.3 255.9h2.4v2.4h-2.4zM619.9 255.9h4.5v2.4h-4.5zM630.4 255.9h12.9v2.4h-12.9zM657.8 255.9h2.4v2.4h-2.4zM68.0 253.7h15.0v2.4h-15.0zM84.8 253.7h112.0v2.4h-112.0zM207.0 253.7h17.2v2.4h-17.2zM226.0 253.7h27.7v2.4h-27.7zM257.6 253.7h23.5v2.4h-23.5zM287.1 253.7h23.5v2.4h-23.5zM316.5 253.7h12.9v2.4h-12.9zM331.3 253.7h15.0v2.4h-15.0zM350.3 253.7h2.4v2.4h-2.4zM354.5 253.7h8.7v2.4h-8.7zM365.0 253.7h15.0v2.4h-15.0zM381.9 253.7h27.7v2.4h-27.7zM411.3 253.7h17.2v2.4h-17.2zM430.3 253.7h29.8v2.4h-29.8zM461.9 253.7h31.9v2.4h-31.9zM495.6 253.7h2.4v2.4h-2.4zM499.8 253.7h31.9v2.4h-31.9zM533.5 253.7h59.3v2.4h-59.3zM594.6 253.7h34.0v2.4h-34.0zM630.4 253.7h6.6v2.4h-6.6zM638.9 253.7h4.5v2.4h-4.5zM645.2 253.7h2.4v2.4h-2.4zM651.5 253.7h23.5v2.4h-23.5zM68.0 251.6h147.8v2.4h-147.8zM219.6 251.6h34.0v2.4h-34.0zM257.6 251.6h2.4v2.4h-2.4zM261.8 251.6h12.9v2.4h-12.9zM276.5 251.6h4.5v2.4h-4.5zM287.1 251.6h15.0v2.4h-15.0zM303.9 251.6h8.7v2.4h-8.7zM314.4 251.6h15.0v2.4h-15.0zM331.3 251.6h15.0v2.4h-15.0zM350.3 251.6h2.4v2.4h-2.4zM354.5 251.6h4.5v2.4h-4.5zM365.0 251.6h34.0v2.4h-34.0zM400.8 251.6h8.7v2.4h-8.7zM411.3 251.6h17.2v2.4h-17.2zM430.3 251.6h29.8v2.4h-29.8zM461.9 251.6h2.4v2.4h-2.4zM466.1 251.6h27.7v2.4h-27.7zM499.8 251.6h2.4v2.4h-2.4zM504.0 251.6h93.0v2.4h-93.0zM598.8 251.6h10.8v2.4h-10.8zM619.9 251.6h55.1v2.4h-55.1zM68.0 249.4h185.7v2.4h-185.7zM257.6 249.4h21.4v2.4h-21.4zM280.7 249.4h21.4v2.4h-21.4zM303.9 249.4h25.6v2.4h-25.6zM331.3 249.4h15.0v2.4h-15.0zM352.4 249.4h76.1v2.4h-76.1zM430.3 249.4h50.9v2.4h-50.9zM483.0 249.4h15.0v2.4h-15.0zM499.8 249.4h137.2v2.4h-137.2zM638.9 249.4h36.1v2.4h-36.1zM68.0 247.3h99.3v2.4h-99.3zM171.2 247.3h21.4v2.4h-21.4zM196.5 247.3h2.4v2.4h-2.4zM200.7 247.3h8.7v2.4h-8.7zM211.2 247.3h12.9v2.4h-12.9zM226.0 247.3h8.7v2.4h-8.7zM236.5 247.3h2.4v2.4h-2.4zM242.8 247.3h10.8v2.4h-10.8zM263.9 247.3h19.3v2.4h-19.3zM287.1 247.3h15.0v2.4h-15.0zM303.9 247.3h6.6v2.4h-6.6zM316.5 247.3h12.9v2.4h-12.9zM331.3 247.3h15.0v2.4h-15.0zM354.5 247.3h4.5v2.4h-4.5zM367.1 247.3h10.8v2.4h-10.8zM379.7 247.3h19.3v2.4h-19.3zM400.8 247.3h8.7v2.4h-8.7zM411.3 247.3h36.1v2.4h-36.1zM449.3 247.3h10.8v2.4h-10.8zM461.9 247.3h2.4v2.4h-2.4zM466.1 247.3h27.7v2.4h-27.7zM499.8 247.3h17.2v2.4h-17.2zM518.8 247.3h10.8v2.4h-10.8zM533.5 247.3h23.5v2.4h-23.5zM558.8 247.3h12.9v2.4h-12.9zM573.6 247.3h50.9v2.4h-50.9zM626.2 247.3h34.0v2.4h-34.0zM662.0 247.3h12.9v2.4h-12.9zM70.1 245.1h2.4v2.4h-2.4zM78.5 245.1h4.5v2.4h-4.5zM84.8 245.1h2.4v2.4h-2.4zM89.0 245.1h2.4v2.4h-2.4zM93.2 245.1h8.7v2.4h-8.7zM103.8 245.1h4.5v2.4h-4.5zM150.1 245.1h2.4v2.4h-2.4zM154.3 245.1h4.5v2.4h-4.5zM179.6 245.1h2.4v2.4h-2.4zM183.8 245.1h2.4v2.4h-2.4zM213.3 245.1h2.4v2.4h-2.4zM221.7 245.1h2.4v2.4h-2.4zM226.0 245.1h8.7v2.4h-8.7zM236.5 245.1h4.5v2.4h-4.5zM257.6 245.1h2.4v2.4h-2.4zM261.8 245.1h6.6v2.4h-6.6zM276.5 245.1h4.5v2.4h-4.5zM284.9 245.1h8.7v2.4h-8.7zM295.5 245.1h4.5v2.4h-4.5zM303.9 245.1h6.6v2.4h-6.6zM312.3 245.1h2.4v2.4h-2.4zM316.5 245.1h19.3v2.4h-19.3zM337.6 245.1h8.7v2.4h-8.7zM352.4 245.1h2.4v2.4h-2.4zM365.0 245.1h6.6v2.4h-6.6zM373.4 245.1h19.3v2.4h-19.3zM400.8 245.1h4.5v2.4h-4.5zM411.3 245.1h10.8v2.4h-10.8zM424.0 245.1h4.5v2.4h-4.5zM432.4 245.1h4.5v2.4h-4.5zM451.4 245.1h2.4v2.4h-2.4zM466.1 245.1h8.7v2.4h-8.7zM478.8 245.1h2.4v2.4h-2.4zM483.0 245.1h2.4v2.4h-2.4zM506.1 245.1h4.5v2.4h-4.5zM512.5 245.1h4.5v2.4h-4.5zM523.0 245.1h2.4v2.4h-2.4zM535.6 245.1h2.4v2.4h-2.4zM539.9 245.1h2.4v2.4h-2.4zM544.1 245.1h8.7v2.4h-8.7zM558.8 245.1h2.4v2.4h-2.4zM565.1 245.1h2.4v2.4h-2.4zM573.6 245.1h2.4v2.4h-2.4zM577.8 245.1h4.5v2.4h-4.5zM584.1 245.1h4.5v2.4h-4.5zM622.0 245.1h10.8v2.4h-10.8zM647.3 245.1h15.0v2.4h-15.0zM666.3 245.1h8.7v2.4h-8.7zM68.0 243.0h10.8v2.4h-10.8zM82.7 243.0h15.0v2.4h-15.0zM99.6 243.0h50.9v2.4h-50.9zM154.3 243.0h21.4v2.4h-21.4zM177.5 243.0h6.6v2.4h-6.6zM185.9 243.0h21.4v2.4h-21.4zM209.1 243.0h15.0v2.4h-15.0zM226.0 243.0h10.8v2.4h-10.8zM238.6 243.0h8.7v2.4h-8.7zM251.2 243.0h2.4v2.4h-2.4zM255.5 243.0h19.3v2.4h-19.3zM276.5 243.0h4.5v2.4h-4.5zM287.1 243.0h15.0v2.4h-15.0zM303.9 243.0h6.6v2.4h-6.6zM314.4 243.0h15.0v2.4h-15.0zM331.3 243.0h15.0v2.4h-15.0zM350.3 243.0h2.4v2.4h-2.4zM354.5 243.0h4.5v2.4h-4.5zM360.8 243.0h2.4v2.4h-2.4zM365.0 243.0h29.8v2.4h-29.8zM396.6 243.0h2.4v2.4h-2.4zM400.8 243.0h8.7v2.4h-8.7zM411.3 243.0h17.2v2.4h-17.2zM430.3 243.0h17.2v2.4h-17.2zM449.3 243.0h10.8v2.4h-10.8zM461.9 243.0h2.4v2.4h-2.4zM466.1 243.0h27.7v2.4h-27.7zM499.8 243.0h10.8v2.4h-10.8zM512.5 243.0h8.7v2.4h-8.7zM523.0 243.0h6.6v2.4h-6.6zM535.6 243.0h50.9v2.4h-50.9zM588.3 243.0h15.0v2.4h-15.0zM607.3 243.0h19.3v2.4h-19.3zM630.4 243.0h12.9v2.4h-12.9zM645.2 243.0h29.8v2.4h-29.8zM76.4 240.9h17.2v2.4h-17.2zM103.8 240.9h15.0v2.4h-15.0zM120.6 240.9h10.8v2.4h-10.8zM141.7 240.9h10.8v2.4h-10.8zM154.3 240.9h15.0v2.4h-15.0zM179.6 240.9h2.4v2.4h-2.4zM185.9 240.9h4.5v2.4h-4.5zM192.3 240.9h15.0v2.4h-15.0zM219.6 240.9h4.5v2.4h-4.5zM226.0 240.9h27.7v2.4h-27.7zM257.6 240.9h2.4v2.4h-2.4zM261.8 240.9h12.9v2.4h-12.9zM276.5 240.9h4.5v2.4h-4.5zM287.1 240.9h15.0v2.4h-15.0zM303.9 240.9h2.4v2.4h-2.4zM312.3 240.9h17.2v2.4h-17.2zM331.3 240.9h21.4v2.4h-21.4zM354.5 240.9h55.1v2.4h-55.1zM411.3 240.9h17.2v2.4h-17.2zM430.3 240.9h17.2v2.4h-17.2zM449.3 240.9h10.8v2.4h-10.8zM461.9 240.9h2.4v2.4h-2.4zM466.1 240.9h4.5v2.4h-4.5zM472.4 240.9h21.4v2.4h-21.4zM499.8 240.9h17.2v2.4h-17.2zM518.8 240.9h2.4v2.4h-2.4zM598.8 240.9h10.8v2.4h-10.8zM613.6 240.9h2.4v2.4h-2.4zM617.8 240.9h19.3v2.4h-19.3zM641.0 240.9h23.5v2.4h-23.5zM666.3 240.9h8.7v2.4h-8.7zM70.1 238.7h4.5v2.4h-4.5zM76.4 238.7h2.4v2.4h-2.4zM86.9 238.7h2.4v2.4h-2.4zM91.1 238.7h4.5v2.4h-4.5zM110.1 238.7h2.4v2.4h-2.4zM114.3 238.7h4.5v2.4h-4.5zM122.7 238.7h6.6v2.4h-6.6zM131.2 238.7h6.6v2.4h-6.6zM150.1 238.7h2.4v2.4h-2.4zM154.3 238.7h6.6v2.4h-6.6zM162.8 238.7h2.4v2.4h-2.4zM175.4 238.7h2.4v2.4h-2.4zM185.9 238.7h8.7v2.4h-8.7zM196.5 238.7h6.6v2.4h-6.6zM204.9 238.7h8.7v2.4h-8.7zM251.2 238.7h2.4v2.4h-2.4zM318.7 238.7h2.4v2.4h-2.4zM367.1 238.7h2.4v2.4h-2.4zM371.3 238.7h2.4v2.4h-2.4zM72.2 236.6h12.9v2.4h-12.9zM99.6 236.6h2.4v2.4h-2.4zM103.8 236.6h2.4v2.4h-2.4zM112.2 236.6h6.6v2.4h-6.6zM120.6 236.6h6.6v2.4h-6.6zM129.1 236.6h2.4v2.4h-2.4zM145.9 236.6h6.6v2.4h-6.6zM251.2 236.6h2.4v2.4h-2.4zM316.5 236.6h6.6v2.4h-6.6zM327.1 236.6h2.4v2.4h-2.4zM367.1 236.6h2.4v2.4h-2.4zM390.3 236.6h4.5v2.4h-4.5zM396.6 236.6h2.4v2.4h-2.4zM468.2 236.6h6.6v2.4h-6.6zM476.7 236.6h2.4v2.4h-2.4zM508.3 236.6h2.4v2.4h-2.4zM512.5 236.6h4.5v2.4h-4.5zM518.8 236.6h2.4v2.4h-2.4zM523.0 236.6h2.4v2.4h-2.4zM548.3 236.6h4.5v2.4h-4.5zM565.1 236.6h2.4v2.4h-2.4zM598.8 236.6h4.5v2.4h-4.5zM611.5 236.6h2.4v2.4h-2.4zM617.8 236.6h2.4v2.4h-2.4zM624.1 236.6h4.5v2.4h-4.5zM649.4 236.6h4.5v2.4h-4.5zM659.9 236.6h10.8v2.4h-10.8zM68.0 234.4h8.7v2.4h-8.7zM93.2 234.4h6.6v2.4h-6.6zM108.0 234.4h2.4v2.4h-2.4zM112.2 234.4h2.4v2.4h-2.4zM120.6 234.4h10.8v2.4h-10.8zM150.1 234.4h2.4v2.4h-2.4zM154.3 234.4h12.9v2.4h-12.9zM169.1 234.4h2.4v2.4h-2.4zM177.5 234.4h6.6v2.4h-6.6zM188.0 234.4h2.4v2.4h-2.4zM196.5 234.4h10.8v2.4h-10.8zM209.1 234.4h8.7v2.4h-8.7zM287.1 234.4h2.4v2.4h-2.4zM291.3 234.4h2.4v2.4h-2.4zM381.9 234.4h4.5v2.4h-4.5zM436.6 234.4h2.4v2.4h-2.4zM489.3 234.4h4.5v2.4h-4.5zM525.1 234.4h2.4v2.4h-2.4zM542.0 234.4h2.4v2.4h-2.4zM567.2 234.4h8.7v2.4h-8.7zM611.5 234.4h2.4v2.4h-2.4zM615.7 234.4h2.4v2.4h-2.4zM628.3 234.4h2.4v2.4h-2.4zM327.1 232.3h2.4v2.4h-2.4zM331.3 232.3h4.5v2.4h-4.5zM337.6 232.3h4.5v2.4h-4.5zM375.5 232.3h2.4v2.4h-2.4zM491.4 232.3h2.4v2.4h-2.4zM556.7 232.3h2.4v2.4h-2.4zM560.9 232.3h2.4v2.4h-2.4zM617.8 232.3h2.4v2.4h-2.4zM622.0 232.3h2.4v2.4h-2.4zM68.0 228.0h15.0v2.4h-15.0zM84.8 228.0h10.8v2.4h-10.8zM99.6 228.0h2.4v2.4h-2.4zM105.9 228.0h8.7v2.4h-8.7zM116.4 228.0h80.4v2.4h-80.4zM200.7 228.0h2.4v2.4h-2.4zM204.9 228.0h10.8v2.4h-10.8zM217.5 228.0h2.4v2.4h-2.4zM226.0 228.0h19.3v2.4h-19.3zM247.0 228.0h6.6v2.4h-6.6zM257.6 228.0h2.4v2.4h-2.4zM266.0 228.0h8.7v2.4h-8.7zM278.6 228.0h2.4v2.4h-2.4zM287.1 228.0h15.0v2.4h-15.0zM303.9 228.0h2.4v2.4h-2.4zM316.5 228.0h4.5v2.4h-4.5zM331.3 228.0h12.9v2.4h-12.9zM346.0 228.0h2.4v2.4h-2.4zM350.3 228.0h2.4v2.4h-2.4zM354.5 228.0h2.4v2.4h-2.4zM365.0 228.0h2.4v2.4h-2.4zM386.1 228.0h2.4v2.4h-2.4zM390.3 228.0h19.3v2.4h-19.3zM411.3 228.0h4.5v2.4h-4.5zM417.7 228.0h15.0v2.4h-15.0zM445.1 228.0h2.4v2.4h-2.4zM453.5 228.0h6.6v2.4h-6.6zM461.9 228.0h2.4v2.4h-2.4zM478.8 228.0h17.2v2.4h-17.2zM497.7 228.0h8.7v2.4h-8.7zM508.3 228.0h8.7v2.4h-8.7zM518.8 228.0h12.9v2.4h-12.9zM535.6 228.0h12.9v2.4h-12.9zM550.4 228.0h38.2v2.4h-38.2zM590.4 228.0h21.4v2.4h-21.4zM613.6 228.0h23.5v2.4h-23.5zM638.9 228.0h2.4v2.4h-2.4zM643.1 228.0h8.7v2.4h-8.7zM653.6 228.0h4.5v2.4h-4.5zM659.9 228.0h15.0v2.4h-15.0zM68.0 225.9h2.4v2.4h-2.4zM72.2 225.9h2.4v2.4h-2.4zM76.4 225.9h6.6v2.4h-6.6zM84.8 225.9h8.7v2.4h-8.7zM108.0 225.9h2.4v2.4h-2.4zM118.5 225.9h2.4v2.4h-2.4zM124.8 225.9h6.6v2.4h-6.6zM139.6 225.9h2.4v2.4h-2.4zM152.2 225.9h2.4v2.4h-2.4zM156.4 225.9h8.7v2.4h-8.7zM167.0 225.9h15.0v2.4h-15.0zM183.8 225.9h17.2v2.4h-17.2zM207.0 225.9h2.4v2.4h-2.4zM213.3 225.9h6.6v2.4h-6.6zM230.2 225.9h2.4v2.4h-2.4zM234.4 225.9h4.5v2.4h-4.5zM240.7 225.9h2.4v2.4h-2.4zM249.1 225.9h2.4v2.4h-2.4zM291.3 225.9h2.4v2.4h-2.4zM367.1 225.9h6.6v2.4h-6.6zM379.7 225.9h4.5v2.4h-4.5zM483.0 225.9h2.4v2.4h-2.4zM508.3 225.9h8.7v2.4h-8.7zM525.1 225.9h2.4v2.4h-2.4zM548.3 225.9h2.4v2.4h-2.4zM552.5 225.9h2.4v2.4h-2.4zM567.2 225.9h12.9v2.4h-12.9zM600.9 225.9h10.8v2.4h-10.8zM613.6 225.9h4.5v2.4h-4.5zM622.0 225.9h2.4v2.4h-2.4zM649.4 225.9h2.4v2.4h-2.4zM670.5 225.9h4.5v2.4h-4.5zM68.0 223.7h34.0v2.4h-34.0zM103.8 223.7h6.6v2.4h-6.6zM114.3 223.7h55.1v2.4h-55.1zM171.2 223.7h23.5v2.4h-23.5zM196.5 223.7h19.3v2.4h-19.3zM219.6 223.7h4.5v2.4h-4.5zM226.0 223.7h27.7v2.4h-27.7zM270.2 223.7h2.4v2.4h-2.4zM276.5 223.7h36.1v2.4h-36.1zM316.5 223.7h2.4v2.4h-2.4zM320.8 223.7h42.4v2.4h-42.4zM365.0 223.7h4.5v2.4h-4.5zM371.3 223.7h12.9v2.4h-12.9zM386.1 223.7h74.0v2.4h-74.0zM461.9 223.7h19.3v2.4h-19.3zM487.2 223.7h4.5v2.4h-4.5zM493.5 223.7h69.8v2.4h-69.8zM565.1 223.7h109.8v2.4h-109.8zM68.0 221.6h6.6v2.4h-6.6zM80.6 221.6h2.4v2.4h-2.4zM84.8 221.6h10.8v2.4h-10.8zM105.9 221.6h6.6v2.4h-6.6zM116.4 221.6h2.4v2.4h-2.4zM129.1 221.6h2.4v2.4h-2.4zM133.3 221.6h2.4v2.4h-2.4zM139.6 221.6h2.4v2.4h-2.4zM152.2 221.6h4.5v2.4h-4.5zM158.5 221.6h4.5v2.4h-4.5zM171.2 221.6h2.4v2.4h-2.4zM177.5 221.6h6.6v2.4h-6.6zM200.7 221.6h4.5v2.4h-4.5zM211.2 221.6h2.4v2.4h-2.4zM215.4 221.6h4.5v2.4h-4.5zM232.3 221.6h2.4v2.4h-2.4zM236.5 221.6h2.4v2.4h-2.4zM266.0 221.6h2.4v2.4h-2.4zM278.6 221.6h2.4v2.4h-2.4zM402.9 221.6h2.4v2.4h-2.4zM550.4 221.6h8.7v2.4h-8.7zM577.8 221.6h2.4v2.4h-2.4zM584.1 221.6h2.4v2.4h-2.4zM588.3 221.6h4.5v2.4h-4.5zM594.6 221.6h2.4v2.4h-2.4zM605.2 221.6h2.4v2.4h-2.4zM609.4 221.6h2.4v2.4h-2.4zM615.7 221.6h4.5v2.4h-4.5zM68.0 219.4h156.2v2.4h-156.2zM226.0 219.4h27.7v2.4h-27.7zM255.5 219.4h27.7v2.4h-27.7zM284.9 219.4h4.5v2.4h-4.5zM291.3 219.4h2.4v2.4h-2.4zM295.5 219.4h2.4v2.4h-2.4zM301.8 219.4h8.7v2.4h-8.7zM316.5 219.4h12.9v2.4h-12.9zM333.4 219.4h17.2v2.4h-17.2zM352.4 219.4h46.6v2.4h-46.6zM400.8 219.4h8.7v2.4h-8.7zM411.3 219.4h15.0v2.4h-15.0zM430.3 219.4h8.7v2.4h-8.7zM445.1 219.4h2.4v2.4h-2.4zM449.3 219.4h4.5v2.4h-4.5zM461.9 219.4h2.4v2.4h-2.4zM474.5 219.4h4.5v2.4h-4.5zM485.1 219.4h2.4v2.4h-2.4zM489.3 219.4h4.5v2.4h-4.5zM504.0 219.4h2.4v2.4h-2.4zM520.9 219.4h4.5v2.4h-4.5zM527.2 219.4h38.2v2.4h-38.2zM567.2 219.4h19.3v2.4h-19.3zM609.4 219.4h10.8v2.4h-10.8zM624.1 219.4h4.5v2.4h-4.5zM630.4 219.4h44.5v2.4h-44.5zM68.0 217.3h2.4v2.4h-2.4zM91.1 217.3h12.9v2.4h-12.9zM108.0 217.3h2.4v2.4h-2.4zM116.4 217.3h25.6v2.4h-25.6zM143.8 217.3h4.5v2.4h-4.5zM150.1 217.3h19.3v2.4h-19.3zM173.3 217.3h29.8v2.4h-29.8zM211.2 217.3h4.5v2.4h-4.5zM217.5 217.3h2.4v2.4h-2.4zM525.1 217.3h4.5v2.4h-4.5zM533.5 217.3h19.3v2.4h-19.3zM554.6 217.3h4.5v2.4h-4.5zM565.1 217.3h2.4v2.4h-2.4zM569.3 217.3h2.4v2.4h-2.4zM573.6 217.3h2.4v2.4h-2.4zM577.8 217.3h2.4v2.4h-2.4zM586.2 217.3h4.5v2.4h-4.5zM594.6 217.3h2.4v2.4h-2.4zM622.0 217.3h2.4v2.4h-2.4zM632.5 217.3h4.5v2.4h-4.5zM638.9 217.3h2.4v2.4h-2.4zM651.5 217.3h4.5v2.4h-4.5zM657.8 217.3h12.9v2.4h-12.9zM672.6 217.3h2.4v2.4h-2.4zM68.0 215.1h4.5v2.4h-4.5zM76.4 215.1h4.5v2.4h-4.5zM99.6 215.1h6.6v2.4h-6.6zM110.1 215.1h15.0v2.4h-15.0zM126.9 215.1h8.7v2.4h-8.7zM137.5 215.1h2.4v2.4h-2.4zM145.9 215.1h19.3v2.4h-19.3zM173.3 215.1h17.2v2.4h-17.2zM196.5 215.1h2.4v2.4h-2.4zM215.4 215.1h4.5v2.4h-4.5zM421.9 215.1h2.4v2.4h-2.4zM607.3 215.1h10.8v2.4h-10.8zM636.8 215.1h2.4v2.4h-2.4zM641.0 215.1h2.4v2.4h-2.4zM653.6 215.1h2.4v2.4h-2.4zM668.4 215.1h2.4v2.4h-2.4zM672.6 215.1h2.4v2.4h-2.4zM219.6 213.0h17.2v2.4h-17.2zM244.9 213.0h8.7v2.4h-8.7zM257.6 213.0h2.4v2.4h-2.4zM266.0 213.0h2.4v2.4h-2.4zM270.2 213.0h4.5v2.4h-4.5zM276.5 213.0h2.4v2.4h-2.4zM295.5 213.0h2.4v2.4h-2.4zM299.7 213.0h2.4v2.4h-2.4zM303.9 213.0h6.6v2.4h-6.6zM318.7 213.0h4.5v2.4h-4.5zM335.5 213.0h2.4v2.4h-2.4zM339.7 213.0h6.6v2.4h-6.6zM356.6 213.0h6.6v2.4h-6.6zM369.2 213.0h17.2v2.4h-17.2zM388.2 213.0h4.5v2.4h-4.5zM402.9 213.0h6.6v2.4h-6.6zM424.0 213.0h2.4v2.4h-2.4zM68.0 210.9h2.4v2.4h-2.4zM72.2 210.9h2.4v2.4h-2.4zM76.4 210.9h2.4v2.4h-2.4zM80.6 210.9h6.6v2.4h-6.6zM91.1 210.9h12.9v2.4h-12.9zM105.9 210.9h17.2v2.4h-17.2zM133.3 210.9h2.4v2.4h-2.4zM141.7 210.9h2.4v2.4h-2.4zM152.2 210.9h2.4v2.4h-2.4zM171.2 210.9h17.2v2.4h-17.2zM190.1 210.9h2.4v2.4h-2.4zM194.4 210.9h2.4v2.4h-2.4zM198.6 210.9h2.4v2.4h-2.4zM257.6 210.9h2.4v2.4h-2.4zM263.9 210.9h2.4v2.4h-2.4zM278.6 210.9h2.4v2.4h-2.4zM282.8 210.9h2.4v2.4h-2.4zM289.2 210.9h2.4v2.4h-2.4zM293.4 210.9h6.6v2.4h-6.6zM316.5 210.9h4.5v2.4h-4.5zM331.3 210.9h4.5v2.4h-4.5zM354.5 210.9h4.5v2.4h-4.5zM367.1 210.9h6.6v2.4h-6.6zM386.1 210.9h10.8v2.4h-10.8zM402.9 210.9h2.4v2.4h-2.4zM417.7 210.9h2.4v2.4h-2.4zM68.0 208.7h17.2v2.4h-17.2zM86.9 208.7h2.4v2.4h-2.4zM91.1 208.7h34.0v2.4h-34.0zM126.9 208.7h154.1v2.4h-154.1zM287.1 208.7h40.3v2.4h-40.3zM329.2 208.7h19.3v2.4h-19.3zM350.3 208.7h2.4v2.4h-2.4zM354.5 208.7h48.8v2.4h-48.8zM407.1 208.7h2.4v2.4h-2.4zM411.3 208.7h23.5v2.4h-23.5zM523.0 208.7h114.1v2.4h-114.1zM638.9 208.7h23.5v2.4h-23.5zM664.1 208.7h10.8v2.4h-10.8zM160.7 206.6h4.5v2.4h-4.5zM188.0 206.6h2.4v2.4h-2.4zM554.6 206.6h2.4v2.4h-2.4zM567.2 206.6h8.7v2.4h-8.7zM594.6 206.6h2.4v2.4h-2.4zM609.4 206.6h4.5v2.4h-4.5zM626.2 206.6h2.4v2.4h-2.4zM110.1 204.4h2.4v2.4h-2.4zM118.5 204.4h2.4v2.4h-2.4zM154.3 204.4h2.4v2.4h-2.4zM158.5 204.4h2.4v2.4h-2.4zM167.0 204.4h2.4v2.4h-2.4zM171.2 204.4h2.4v2.4h-2.4zM181.7 204.4h4.5v2.4h-4.5zM188.0 204.4h4.5v2.4h-4.5zM200.7 204.4h2.4v2.4h-2.4zM325.0 204.4h2.4v2.4h-2.4zM438.7 204.4h2.4v2.4h-2.4zM478.8 204.4h2.4v2.4h-2.4zM487.2 204.4h2.4v2.4h-2.4zM527.2 204.4h2.4v2.4h-2.4zM569.3 204.4h2.4v2.4h-2.4zM647.3 204.4h4.5v2.4h-4.5zM653.6 204.4h2.4v2.4h-2.4zM672.6 204.4h2.4v2.4h-2.4zM68.0 202.3h154.1v2.4h-154.1zM223.9 202.3h29.8v2.4h-29.8zM257.6 202.3h44.5v2.4h-44.5zM303.9 202.3h4.5v2.4h-4.5zM314.4 202.3h34.0v2.4h-34.0zM350.3 202.3h2.4v2.4h-2.4zM354.5 202.3h21.4v2.4h-21.4zM377.6 202.3h44.5v2.4h-44.5zM424.0 202.3h2.4v2.4h-2.4zM430.3 202.3h21.4v2.4h-21.4zM453.5 202.3h2.4v2.4h-2.4zM457.7 202.3h36.1v2.4h-36.1zM495.6 202.3h88.8v2.4h-88.8zM586.2 202.3h84.6v2.4h-84.6zM672.6 202.3h2.4v2.4h-2.4zM72.2 200.1h59.3v2.4h-59.3zM133.3 200.1h8.7v2.4h-8.7zM143.8 200.1h42.4v2.4h-42.4zM188.0 200.1h36.1v2.4h-36.1zM226.0 200.1h12.9v2.4h-12.9zM247.0 200.1h4.5v2.4h-4.5zM266.0 200.1h4.5v2.4h-4.5zM272.3 200.1h2.4v2.4h-2.4zM278.6 200.1h2.4v2.4h-2.4zM287.1 200.1h15.0v2.4h-15.0zM303.9 200.1h4.5v2.4h-4.5zM365.0 200.1h6.6v2.4h-6.6zM523.0 200.1h8.7v2.4h-8.7zM537.7 200.1h2.4v2.4h-2.4zM542.0 200.1h8.7v2.4h-8.7zM552.5 200.1h19.3v2.4h-19.3zM582.0 200.1h36.1v2.4h-36.1zM619.9 200.1h4.5v2.4h-4.5zM626.2 200.1h2.4v2.4h-2.4zM630.4 200.1h2.4v2.4h-2.4zM641.0 200.1h6.6v2.4h-6.6zM651.5 200.1h12.9v2.4h-12.9zM668.4 200.1h6.6v2.4h-6.6zM68.0 198.0h99.3v2.4h-99.3zM169.1 198.0h101.4v2.4h-101.4zM272.3 198.0h8.7v2.4h-8.7zM282.8 198.0h78.2v2.4h-78.2zM365.0 198.0h84.6v2.4h-84.6zM451.4 198.0h8.7v2.4h-8.7zM461.9 198.0h213.1v2.4h-213.1zM68.0 195.9h141.4v2.4h-141.4zM228.1 195.9h25.6v2.4h-25.6zM257.6 195.9h2.4v2.4h-2.4zM261.8 195.9h74.0v2.4h-74.0zM337.6 195.9h6.6v2.4h-6.6zM354.5 195.9h6.6v2.4h-6.6zM362.9 195.9h15.0v2.4h-15.0zM379.7 195.9h15.0v2.4h-15.0zM396.6 195.9h12.9v2.4h-12.9zM413.5 195.9h8.7v2.4h-8.7zM523.0 195.9h6.6v2.4h-6.6zM531.4 195.9h143.6v2.4h-143.6zM68.0 193.7h99.3v2.4h-99.3zM169.1 193.7h55.1v2.4h-55.1zM228.1 193.7h53.0v2.4h-53.0zM282.8 193.7h2.4v2.4h-2.4zM287.1 193.7h57.2v2.4h-57.2zM348.1 193.7h59.3v2.4h-59.3zM409.2 193.7h12.9v2.4h-12.9zM428.2 193.7h36.1v2.4h-36.1zM466.1 193.7h31.9v2.4h-31.9zM499.8 193.7h36.1v2.4h-36.1zM537.7 193.7h27.7v2.4h-27.7zM641.0 193.7h34.0v2.4h-34.0zM68.0 191.6h74.0v2.4h-74.0zM143.8 191.6h4.5v2.4h-4.5zM152.2 191.6h65.6v2.4h-65.6zM232.3 191.6h4.5v2.4h-4.5zM247.0 191.6h6.6v2.4h-6.6zM255.5 191.6h10.8v2.4h-10.8zM268.1 191.6h6.6v2.4h-6.6zM276.5 191.6h8.7v2.4h-8.7zM287.1 191.6h15.0v2.4h-15.0zM303.9 191.6h4.5v2.4h-4.5zM316.5 191.6h12.9v2.4h-12.9zM333.4 191.6h12.9v2.4h-12.9zM350.3 191.6h2.4v2.4h-2.4zM356.6 191.6h2.4v2.4h-2.4zM365.0 191.6h6.6v2.4h-6.6zM373.4 191.6h2.4v2.4h-2.4zM384.0 191.6h4.5v2.4h-4.5zM400.8 191.6h4.5v2.4h-4.5zM407.1 191.6h2.4v2.4h-2.4zM411.3 191.6h4.5v2.4h-4.5zM417.7 191.6h2.4v2.4h-2.4zM424.0 191.6h4.5v2.4h-4.5zM430.3 191.6h25.6v2.4h-25.6zM457.7 191.6h2.4v2.4h-2.4zM461.9 191.6h2.4v2.4h-2.4zM466.1 191.6h2.4v2.4h-2.4zM472.4 191.6h4.5v2.4h-4.5zM480.9 191.6h8.7v2.4h-8.7zM491.4 191.6h2.4v2.4h-2.4zM499.8 191.6h10.8v2.4h-10.8zM518.8 191.6h2.4v2.4h-2.4zM525.1 191.6h29.8v2.4h-29.8zM556.7 191.6h118.3v2.4h-118.3zM110.1 189.4h2.4v2.4h-2.4zM120.6 189.4h2.4v2.4h-2.4zM124.8 189.4h2.4v2.4h-2.4zM192.3 189.4h6.6v2.4h-6.6zM217.5 189.4h6.6v2.4h-6.6zM226.0 189.4h6.6v2.4h-6.6zM234.4 189.4h2.4v2.4h-2.4zM270.2 189.4h4.5v2.4h-4.5zM278.6 189.4h2.4v2.4h-2.4zM282.8 189.4h2.4v2.4h-2.4zM287.1 189.4h6.6v2.4h-6.6zM318.7 189.4h2.4v2.4h-2.4zM322.9 189.4h10.8v2.4h-10.8zM343.9 189.4h4.5v2.4h-4.5zM371.3 189.4h4.5v2.4h-4.5zM377.6 189.4h2.4v2.4h-2.4zM381.9 189.4h4.5v2.4h-4.5zM421.9 189.4h6.6v2.4h-6.6zM434.5 189.4h2.4v2.4h-2.4zM438.7 189.4h4.5v2.4h-4.5zM445.1 189.4h4.5v2.4h-4.5zM451.4 189.4h2.4v2.4h-2.4zM455.6 189.4h4.5v2.4h-4.5zM472.4 189.4h4.5v2.4h-4.5zM480.9 189.4h4.5v2.4h-4.5zM504.0 189.4h4.5v2.4h-4.5zM510.4 189.4h6.6v2.4h-6.6zM523.0 189.4h82.5v2.4h-82.5zM607.3 189.4h67.7v2.4h-67.7zM68.0 187.3h156.2v2.4h-156.2zM226.0 187.3h27.7v2.4h-27.7zM255.5 187.3h12.9v2.4h-12.9zM272.3 187.3h10.8v2.4h-10.8zM284.9 187.3h17.2v2.4h-17.2zM303.9 187.3h23.5v2.4h-23.5zM331.3 187.3h19.3v2.4h-19.3zM352.4 187.3h8.7v2.4h-8.7zM362.9 187.3h65.6v2.4h-65.6zM430.3 187.3h15.0v2.4h-15.0zM447.2 187.3h42.4v2.4h-42.4zM491.4 187.3h2.4v2.4h-2.4zM497.7 187.3h114.1v2.4h-114.1zM613.6 187.3h25.6v2.4h-25.6zM641.0 187.3h34.0v2.4h-34.0zM68.0 185.1h99.3v2.4h-99.3zM169.1 185.1h48.8v2.4h-48.8zM221.7 185.1h31.9v2.4h-31.9zM257.6 185.1h6.6v2.4h-6.6zM266.0 185.1h8.7v2.4h-8.7zM278.6 185.1h4.5v2.4h-4.5zM287.1 185.1h15.0v2.4h-15.0zM303.9 185.1h6.6v2.4h-6.6zM316.5 185.1h2.4v2.4h-2.4zM320.8 185.1h8.7v2.4h-8.7zM331.3 185.1h12.9v2.4h-12.9zM354.5 185.1h4.5v2.4h-4.5zM365.0 185.1h12.9v2.4h-12.9zM384.0 185.1h12.9v2.4h-12.9zM407.1 185.1h2.4v2.4h-2.4zM411.3 185.1h17.2v2.4h-17.2zM436.6 185.1h27.7v2.4h-27.7zM466.1 185.1h2.4v2.4h-2.4zM472.4 185.1h2.4v2.4h-2.4zM476.7 185.1h2.4v2.4h-2.4zM480.9 185.1h4.5v2.4h-4.5zM499.8 185.1h2.4v2.4h-2.4zM504.0 185.1h8.7v2.4h-8.7zM668.4 185.1h6.6v2.4h-6.6zM91.1 183.0h2.4v2.4h-2.4zM97.5 183.0h2.4v2.4h-2.4zM112.2 183.0h4.5v2.4h-4.5zM120.6 183.0h8.7v2.4h-8.7zM135.4 183.0h8.7v2.4h-8.7zM152.2 183.0h4.5v2.4h-4.5zM169.1 183.0h4.5v2.4h-4.5zM175.4 183.0h8.7v2.4h-8.7zM204.9 183.0h8.7v2.4h-8.7zM542.0 183.0h6.6v2.4h-6.6zM550.4 183.0h2.4v2.4h-2.4zM554.6 183.0h12.9v2.4h-12.9zM569.3 183.0h4.5v2.4h-4.5zM575.7 183.0h10.8v2.4h-10.8zM588.3 183.0h4.5v2.4h-4.5zM594.6 183.0h4.5v2.4h-4.5zM600.9 183.0h4.5v2.4h-4.5zM611.5 183.0h4.5v2.4h-4.5zM619.9 183.0h2.4v2.4h-2.4zM624.1 183.0h2.4v2.4h-2.4zM628.3 183.0h6.6v2.4h-6.6zM636.8 183.0h2.4v2.4h-2.4zM641.0 183.0h2.4v2.4h-2.4zM647.3 183.0h6.6v2.4h-6.6zM655.7 183.0h12.9v2.4h-12.9zM670.5 183.0h2.4v2.4h-2.4zM70.1 180.9h2.4v2.4h-2.4zM84.8 180.9h2.4v2.4h-2.4zM120.6 180.9h2.4v2.4h-2.4zM143.8 180.9h2.4v2.4h-2.4zM148.0 180.9h4.5v2.4h-4.5zM154.3 180.9h10.8v2.4h-10.8zM171.2 180.9h8.7v2.4h-8.7zM181.7 180.9h8.7v2.4h-8.7zM192.3 180.9h4.5v2.4h-4.5zM198.6 180.9h2.4v2.4h-2.4zM202.8 180.9h2.4v2.4h-2.4zM209.1 180.9h10.8v2.4h-10.8zM226.0 180.9h2.4v2.4h-2.4zM230.2 180.9h4.5v2.4h-4.5zM236.5 180.9h6.6v2.4h-6.6zM249.1 180.9h4.5v2.4h-4.5zM257.6 180.9h6.6v2.4h-6.6zM268.1 180.9h4.5v2.4h-4.5zM276.5 180.9h2.4v2.4h-2.4zM293.4 180.9h8.7v2.4h-8.7zM306.0 180.9h6.6v2.4h-6.6zM316.5 180.9h2.4v2.4h-2.4zM322.9 180.9h6.6v2.4h-6.6zM337.6 180.9h2.4v2.4h-2.4zM341.8 180.9h4.5v2.4h-4.5zM365.0 180.9h2.4v2.4h-2.4zM375.5 180.9h6.6v2.4h-6.6zM390.3 180.9h6.6v2.4h-6.6zM398.7 180.9h2.4v2.4h-2.4zM402.9 180.9h2.4v2.4h-2.4zM411.3 180.9h2.4v2.4h-2.4zM415.6 180.9h2.4v2.4h-2.4zM424.0 180.9h4.5v2.4h-4.5zM432.4 180.9h2.4v2.4h-2.4zM447.2 180.9h4.5v2.4h-4.5zM453.5 180.9h2.4v2.4h-2.4zM464.0 180.9h4.5v2.4h-4.5zM470.3 180.9h6.6v2.4h-6.6zM478.8 180.9h2.4v2.4h-2.4zM485.1 180.9h8.7v2.4h-8.7zM497.7 180.9h4.5v2.4h-4.5zM504.0 180.9h2.4v2.4h-2.4zM508.3 180.9h2.4v2.4h-2.4zM512.5 180.9h2.4v2.4h-2.4zM516.7 180.9h10.8v2.4h-10.8zM529.3 180.9h4.5v2.4h-4.5zM535.6 180.9h2.4v2.4h-2.4zM544.1 180.9h12.9v2.4h-12.9zM558.8 180.9h2.4v2.4h-2.4zM565.1 180.9h2.4v2.4h-2.4zM573.6 180.9h2.4v2.4h-2.4zM577.8 180.9h10.8v2.4h-10.8zM592.5 180.9h4.5v2.4h-4.5zM598.8 180.9h2.4v2.4h-2.4zM603.1 180.9h4.5v2.4h-4.5zM609.4 180.9h8.7v2.4h-8.7zM619.9 180.9h2.4v2.4h-2.4zM624.1 180.9h6.6v2.4h-6.6zM634.7 180.9h2.4v2.4h-2.4zM647.3 180.9h4.5v2.4h-4.5zM653.6 180.9h2.4v2.4h-2.4zM657.8 180.9h10.8v2.4h-10.8zM672.6 180.9h2.4v2.4h-2.4zM68.0 178.7h99.3v2.4h-99.3zM169.1 178.7h99.3v2.4h-99.3zM272.3 178.7h2.4v2.4h-2.4zM276.5 178.7h4.5v2.4h-4.5zM284.9 178.7h10.8v2.4h-10.8zM306.0 178.7h4.5v2.4h-4.5zM314.4 178.7h36.1v2.4h-36.1zM354.5 178.7h4.5v2.4h-4.5zM360.8 178.7h12.9v2.4h-12.9zM375.5 178.7h59.3v2.4h-59.3zM436.6 178.7h23.5v2.4h-23.5zM461.9 178.7h15.0v2.4h-15.0zM485.1 178.7h8.7v2.4h-8.7zM499.8 178.7h15.0v2.4h-15.0zM518.8 178.7h97.2v2.4h-97.2zM617.8 178.7h57.2v2.4h-57.2zM68.0 176.6h8.7v2.4h-8.7zM78.5 176.6h82.5v2.4h-82.5zM169.1 176.6h2.4v2.4h-2.4zM173.3 176.6h48.8v2.4h-48.8zM240.7 176.6h8.7v2.4h-8.7zM261.8 176.6h6.6v2.4h-6.6zM270.2 176.6h4.5v2.4h-4.5zM276.5 176.6h4.5v2.4h-4.5zM293.4 176.6h8.7v2.4h-8.7zM303.9 176.6h4.5v2.4h-4.5zM314.4 176.6h6.6v2.4h-6.6zM322.9 176.6h23.5v2.4h-23.5zM354.5 176.6h4.5v2.4h-4.5zM365.0 176.6h6.6v2.4h-6.6zM373.4 176.6h10.8v2.4h-10.8zM386.1 176.6h6.6v2.4h-6.6zM405.0 176.6h2.4v2.4h-2.4zM411.3 176.6h6.6v2.4h-6.6zM421.9 176.6h6.6v2.4h-6.6zM430.3 176.6h2.4v2.4h-2.4zM440.8 176.6h6.6v2.4h-6.6zM451.4 176.6h2.4v2.4h-2.4zM468.2 176.6h2.4v2.4h-2.4zM472.4 176.6h4.5v2.4h-4.5zM480.9 176.6h2.4v2.4h-2.4zM501.9 176.6h2.4v2.4h-2.4zM506.1 176.6h10.8v2.4h-10.8zM573.6 176.6h2.4v2.4h-2.4zM592.5 176.6h19.3v2.4h-19.3zM613.6 176.6h61.4v2.4h-61.4zM68.0 174.4h29.8v2.4h-29.8zM139.6 174.4h27.7v2.4h-27.7zM169.1 174.4h50.9v2.4h-50.9zM221.7 174.4h2.4v2.4h-2.4zM226.0 174.4h2.4v2.4h-2.4zM244.9 174.4h6.6v2.4h-6.6zM257.6 174.4h17.2v2.4h-17.2zM276.5 174.4h4.5v2.4h-4.5zM287.1 174.4h15.0v2.4h-15.0zM314.4 174.4h6.6v2.4h-6.6zM322.9 174.4h10.8v2.4h-10.8zM337.6 174.4h8.7v2.4h-8.7zM352.4 174.4h10.8v2.4h-10.8zM365.0 174.4h2.4v2.4h-2.4zM379.7 174.4h19.3v2.4h-19.3zM400.8 174.4h15.0v2.4h-15.0zM417.7 174.4h8.7v2.4h-8.7zM430.3 174.4h17.2v2.4h-17.2zM449.3 174.4h2.4v2.4h-2.4zM453.5 174.4h6.6v2.4h-6.6zM466.1 174.4h17.2v2.4h-17.2zM487.2 174.4h10.8v2.4h-10.8zM499.8 174.4h17.2v2.4h-17.2zM518.8 174.4h2.4v2.4h-2.4zM523.0 174.4h59.3v2.4h-59.3zM586.2 174.4h55.1v2.4h-55.1zM672.6 174.4h2.4v2.4h-2.4zM68.0 172.3h69.8v2.4h-69.8zM139.6 172.3h25.6v2.4h-25.6zM167.0 172.3h57.2v2.4h-57.2zM226.0 172.3h15.0v2.4h-15.0zM242.8 172.3h8.7v2.4h-8.7zM255.5 172.3h4.5v2.4h-4.5zM261.8 172.3h12.9v2.4h-12.9zM276.5 172.3h2.4v2.4h-2.4zM289.2 172.3h12.9v2.4h-12.9zM303.9 172.3h25.6v2.4h-25.6zM331.3 172.3h21.4v2.4h-21.4zM354.5 172.3h6.6v2.4h-6.6zM365.0 172.3h40.3v2.4h-40.3zM407.1 172.3h4.5v2.4h-4.5zM415.6 172.3h12.9v2.4h-12.9zM430.3 172.3h25.6v2.4h-25.6zM457.7 172.3h2.4v2.4h-2.4zM461.9 172.3h2.4v2.4h-2.4zM466.1 172.3h27.7v2.4h-27.7zM499.8 172.3h90.9v2.4h-90.9zM592.5 172.3h82.5v2.4h-82.5zM207.0 168.0h2.4v2.4h-2.4zM213.3 168.0h2.4v2.4h-2.4zM255.5 168.0h2.4v2.4h-2.4zM282.8 168.0h4.5v2.4h-4.5zM293.4 168.0h2.4v2.4h-2.4zM301.8 168.0h2.4v2.4h-2.4zM308.1 168.0h2.4v2.4h-2.4zM369.2 168.0h2.4v2.4h-2.4zM377.6 168.0h2.4v2.4h-2.4zM384.0 168.0h2.4v2.4h-2.4zM447.2 168.0h2.4v2.4h-2.4zM451.4 168.0h6.6v2.4h-6.6zM512.5 168.0h4.5v2.4h-4.5zM518.8 168.0h2.4v2.4h-2.4zM571.5 168.0h4.5v2.4h-4.5zM594.6 168.0h2.4v2.4h-2.4zM598.8 168.0h2.4v2.4h-2.4zM603.1 168.0h10.8v2.4h-10.8zM645.2 168.0h15.0v2.4h-15.0zM666.3 168.0h2.4v2.4h-2.4zM259.7 165.9h2.4v2.4h-2.4zM284.9 165.9h6.6v2.4h-6.6zM299.7 165.9h4.5v2.4h-4.5zM310.2 165.9h4.5v2.4h-4.5zM320.8 165.9h31.9v2.4h-31.9zM371.3 165.9h2.4v2.4h-2.4zM386.1 165.9h2.4v2.4h-2.4zM398.7 165.9h2.4v2.4h-2.4zM402.9 165.9h6.6v2.4h-6.6zM419.8 165.9h4.5v2.4h-4.5zM426.1 165.9h2.4v2.4h-2.4zM447.2 165.9h2.4v2.4h-2.4zM451.4 165.9h2.4v2.4h-2.4zM457.7 165.9h2.4v2.4h-2.4zM461.9 165.9h2.4v2.4h-2.4zM466.1 165.9h2.4v2.4h-2.4zM474.5 165.9h2.4v2.4h-2.4zM491.4 165.9h2.4v2.4h-2.4zM497.7 165.9h8.7v2.4h-8.7zM508.3 165.9h4.5v2.4h-4.5zM514.6 165.9h2.4v2.4h-2.4zM523.0 165.9h6.6v2.4h-6.6zM531.4 165.9h2.4v2.4h-2.4zM544.1 165.9h4.5v2.4h-4.5zM550.4 165.9h2.4v2.4h-2.4zM560.9 165.9h6.6v2.4h-6.6zM573.6 165.9h2.4v2.4h-2.4zM586.2 165.9h2.4v2.4h-2.4zM592.5 165.9h4.5v2.4h-4.5zM598.8 165.9h2.4v2.4h-2.4zM603.1 165.9h4.5v2.4h-4.5zM609.4 165.9h4.5v2.4h-4.5zM617.8 165.9h2.4v2.4h-2.4zM634.7 165.9h4.5v2.4h-4.5zM649.4 165.9h6.6v2.4h-6.6zM659.9 165.9h4.5v2.4h-4.5zM666.3 165.9h2.4v2.4h-2.4zM68.0 163.7h12.9v2.4h-12.9zM82.7 163.7h4.5v2.4h-4.5zM95.3 163.7h4.5v2.4h-4.5zM101.7 163.7h15.0v2.4h-15.0zM118.5 163.7h8.7v2.4h-8.7zM129.1 163.7h4.5v2.4h-4.5zM137.5 163.7h12.9v2.4h-12.9zM152.2 163.7h12.9v2.4h-12.9zM173.3 163.7h8.7v2.4h-8.7zM183.8 163.7h4.5v2.4h-4.5zM194.4 163.7h10.8v2.4h-10.8zM259.7 163.7h4.5v2.4h-4.5zM287.1 163.7h6.6v2.4h-6.6zM295.5 163.7h2.4v2.4h-2.4zM301.8 163.7h2.4v2.4h-2.4zM306.0 163.7h10.8v2.4h-10.8zM318.7 163.7h19.3v2.4h-19.3zM339.7 163.7h2.4v2.4h-2.4zM346.0 163.7h8.7v2.4h-8.7zM356.6 163.7h2.4v2.4h-2.4zM375.5 163.7h2.4v2.4h-2.4zM384.0 163.7h2.4v2.4h-2.4zM388.2 163.7h6.6v2.4h-6.6zM398.7 163.7h4.5v2.4h-4.5zM405.0 163.7h6.6v2.4h-6.6zM474.5 163.7h2.4v2.4h-2.4zM485.1 163.7h2.4v2.4h-2.4zM518.8 163.7h2.4v2.4h-2.4zM533.5 163.7h4.5v2.4h-4.5zM539.9 163.7h2.4v2.4h-2.4zM544.1 163.7h8.7v2.4h-8.7zM556.7 163.7h4.5v2.4h-4.5zM571.5 163.7h2.4v2.4h-2.4zM588.3 163.7h4.5v2.4h-4.5zM594.6 163.7h15.0v2.4h-15.0zM622.0 163.7h4.5v2.4h-4.5zM638.9 163.7h8.7v2.4h-8.7zM649.4 163.7h2.4v2.4h-2.4zM653.6 163.7h4.5v2.4h-4.5zM662.0 163.7h4.5v2.4h-4.5zM670.5 163.7h2.4v2.4h-2.4zM301.8 161.6h2.4v2.4h-2.4zM314.4 161.6h2.4v2.4h-2.4zM362.9 161.6h8.7v2.4h-8.7zM373.4 161.6h4.5v2.4h-4.5zM384.0 161.6h2.4v2.4h-2.4zM409.2 161.6h15.0v2.4h-15.0zM426.1 161.6h2.4v2.4h-2.4zM436.6 161.6h8.7v2.4h-8.7zM449.3 161.6h2.4v2.4h-2.4zM459.8 161.6h2.4v2.4h-2.4zM472.4 161.6h2.4v2.4h-2.4zM478.8 161.6h8.7v2.4h-8.7zM508.3 161.6h2.4v2.4h-2.4zM520.9 161.6h6.6v2.4h-6.6zM548.3 161.6h2.4v2.4h-2.4zM571.5 161.6h2.4v2.4h-2.4zM575.7 161.6h2.4v2.4h-2.4zM619.9 161.6h2.4v2.4h-2.4zM636.8 161.6h2.4v2.4h-2.4zM657.8 161.6h2.4v2.4h-2.4zM244.9 159.4h2.4v2.4h-2.4zM249.1 159.4h2.4v2.4h-2.4zM253.3 159.4h4.5v2.4h-4.5zM266.0 159.4h4.5v2.4h-4.5zM280.7 159.4h27.7v2.4h-27.7zM310.2 159.4h50.9v2.4h-50.9zM362.9 159.4h12.9v2.4h-12.9zM377.6 159.4h29.8v2.4h-29.8zM440.8 159.4h4.5v2.4h-4.5zM447.2 159.4h2.4v2.4h-2.4zM525.1 159.4h4.5v2.4h-4.5zM531.4 159.4h2.4v2.4h-2.4zM535.6 159.4h2.4v2.4h-2.4zM539.9 159.4h6.6v2.4h-6.6zM548.3 159.4h2.4v2.4h-2.4zM552.5 159.4h4.5v2.4h-4.5zM558.8 159.4h15.0v2.4h-15.0zM575.7 159.4h2.4v2.4h-2.4zM582.0 159.4h4.5v2.4h-4.5zM592.5 159.4h4.5v2.4h-4.5zM598.8 159.4h2.4v2.4h-2.4zM605.2 159.4h2.4v2.4h-2.4zM611.5 159.4h10.8v2.4h-10.8zM634.7 159.4h6.6v2.4h-6.6zM643.1 159.4h8.7v2.4h-8.7zM655.7 159.4h6.6v2.4h-6.6zM664.1 159.4h10.8v2.4h-10.8zM253.3 157.3h2.4v2.4h-2.4zM261.8 157.3h4.5v2.4h-4.5zM278.6 157.3h25.6v2.4h-25.6zM308.1 157.3h2.4v2.4h-2.4zM312.3 157.3h23.5v2.4h-23.5zM337.6 157.3h23.5v2.4h-23.5zM365.0 157.3h10.8v2.4h-10.8zM379.7 157.3h29.8v2.4h-29.8zM411.3 157.3h2.4v2.4h-2.4zM529.3 157.3h4.5v2.4h-4.5zM539.9 157.3h2.4v2.4h-2.4zM558.8 157.3h4.5v2.4h-4.5zM565.1 157.3h2.4v2.4h-2.4zM571.5 157.3h2.4v2.4h-2.4zM575.7 157.3h4.5v2.4h-4.5zM582.0 157.3h2.4v2.4h-2.4zM213.3 155.1h2.4v2.4h-2.4zM223.9 155.1h2.4v2.4h-2.4zM230.2 155.1h4.5v2.4h-4.5zM236.5 155.1h2.4v2.4h-2.4zM276.5 155.1h2.4v2.4h-2.4zM280.7 155.1h2.4v2.4h-2.4zM289.2 155.1h6.6v2.4h-6.6zM299.7 155.1h2.4v2.4h-2.4zM314.4 155.1h2.4v2.4h-2.4zM343.9 155.1h8.7v2.4h-8.7zM360.8 155.1h2.4v2.4h-2.4zM367.1 155.1h2.4v2.4h-2.4zM371.3 155.1h2.4v2.4h-2.4zM405.0 155.1h4.5v2.4h-4.5zM419.8 155.1h4.5v2.4h-4.5zM525.1 155.1h2.4v2.4h-2.4zM535.6 155.1h19.3v2.4h-19.3zM556.7 155.1h2.4v2.4h-2.4zM565.1 155.1h4.5v2.4h-4.5zM571.5 155.1h4.5v2.4h-4.5zM588.3 155.1h2.4v2.4h-2.4zM223.9 153.0h2.4v2.4h-2.4zM424.0 153.0h2.4v2.4h-2.4zM428.2 153.0h2.4v2.4h-2.4zM249.1 150.8h8.7v2.5h-8.7zM261.8 150.8h2.4v2.5h-2.4zM329.2 150.8h2.4v2.5h-2.4zM339.7 150.8h4.5v2.5h-4.5zM350.3 150.8h2.4v2.5h-2.4zM354.5 150.8h2.4v2.5h-2.4zM236.5 148.6h2.4v2.5h-2.4zM261.8 148.6h6.6v2.5h-6.6zM270.2 148.6h2.4v2.5h-2.4zM276.5 148.6h8.7v2.5h-8.7zM510.4 148.6h2.4v2.5h-2.4zM230.2 146.5h2.4v2.5h-2.4zM259.7 146.5h2.4v2.5h-2.4zM310.2 146.5h2.4v2.5h-2.4zM339.7 146.5h4.5v2.5h-4.5zM352.4 146.5h2.4v2.5h-2.4zM358.7 146.5h2.4v2.5h-2.4zM381.9 146.5h2.4v2.5h-2.4zM386.1 146.5h2.4v2.5h-2.4zM392.4 146.5h6.6v2.5h-6.6zM400.8 146.5h12.9v2.5h-12.9zM445.1 146.5h2.4v2.5h-2.4zM472.4 146.5h2.4v2.5h-2.4zM516.7 146.5h4.5v2.5h-4.5zM510.4 144.3h2.4v2.5h-2.4zM516.7 144.3h2.4v2.5h-2.4zM213.3 142.1h2.4v2.5h-2.4zM219.6 137.7h2.4v2.5h-2.4zM495.6 137.7h2.4v2.5h-2.4zM499.8 137.7h2.4v2.5h-2.4zM223.9 135.6h6.6v2.5h-6.6zM236.5 135.6h4.5v2.5h-4.5zM242.8 135.6h2.4v2.5h-2.4zM247.0 135.6h12.9v2.5h-12.9zM268.1 135.6h4.5v2.5h-4.5zM280.7 135.6h6.6v2.5h-6.6zM299.7 135.6h2.4v2.5h-2.4zM303.9 135.6h8.7v2.5h-8.7zM318.7 135.6h10.8v2.5h-10.8zM331.3 135.6h8.7v2.5h-8.7zM346.0 135.6h2.4v2.5h-2.4zM350.3 135.6h2.4v2.5h-2.4zM354.5 135.6h2.4v2.5h-2.4zM371.3 135.6h2.4v2.5h-2.4zM386.1 135.6h4.5v2.5h-4.5zM398.7 135.6h6.6v2.5h-6.6zM407.1 135.6h8.7v2.5h-8.7zM421.9 135.6h2.4v2.5h-2.4zM430.3 135.6h4.5v2.5h-4.5zM438.7 135.6h8.7v2.5h-8.7zM449.3 135.6h2.4v2.5h-2.4zM464.0 135.6h6.6v2.5h-6.6zM472.4 135.6h4.5v2.5h-4.5zM485.1 135.6h2.4v2.5h-2.4zM491.4 135.6h2.4v2.5h-2.4zM499.8 135.6h4.5v2.5h-4.5zM506.1 135.6h4.5v2.5h-4.5zM514.6 135.6h8.7v2.5h-8.7zM322.9 133.4h2.4v2.5h-2.4zM398.7 133.4h4.5v2.5h-4.5zM266.0 131.2h4.5v2.5h-4.5zM293.4 131.2h2.4v2.5h-2.4zM314.4 131.2h2.4v2.5h-2.4zM318.7 131.2h4.5v2.5h-4.5zM325.0 131.2h6.6v2.5h-6.6zM333.4 131.2h4.5v2.5h-4.5zM339.7 131.2h2.4v2.5h-2.4zM346.0 131.2h4.5v2.5h-4.5zM358.7 131.2h4.5v2.5h-4.5zM373.4 131.2h6.6v2.5h-6.6zM386.1 131.2h15.0v2.5h-15.0zM402.9 131.2h8.7v2.5h-8.7zM417.7 131.2h8.7v2.5h-8.7zM438.7 131.2h2.4v2.5h-2.4zM442.9 131.2h6.6v2.5h-6.6zM472.4 131.2h4.5v2.5h-4.5zM480.9 131.2h4.5v2.5h-4.5zM487.2 131.2h2.4v2.5h-2.4zM516.7 131.2h2.4v2.5h-2.4zM236.5 126.8h2.4v2.5h-2.4zM278.6 126.8h2.4v2.5h-2.4zM491.4 126.8h4.5v2.5h-4.5zM221.7 124.7h2.4v2.5h-2.4zM234.4 124.7h2.4v2.5h-2.4zM249.1 124.7h6.6v2.5h-6.6zM257.6 124.7h2.4v2.5h-2.4zM280.7 124.7h4.5v2.5h-4.5zM287.1 124.7h4.5v2.5h-4.5zM320.8 124.7h2.4v2.5h-2.4zM350.3 124.7h2.4v2.5h-2.4zM386.1 124.7h4.5v2.5h-4.5zM447.2 124.7h2.4v2.5h-2.4zM466.1 124.7h2.4v2.5h-2.4zM470.3 124.7h4.5v2.5h-4.5zM476.7 124.7h2.4v2.5h-2.4zM495.6 124.7h6.6v2.5h-6.6zM518.8 124.7h4.5v2.5h-4.5zM209.1 122.5h2.4v2.5h-2.4zM213.3 122.5h8.7v2.5h-8.7zM228.1 122.5h8.7v2.5h-8.7zM238.6 122.5h6.6v2.5h-6.6zM251.2 122.5h10.8v2.5h-10.8zM266.0 122.5h2.4v2.5h-2.4zM272.3 122.5h4.5v2.5h-4.5zM282.8 122.5h2.4v2.5h-2.4zM291.3 122.5h6.6v2.5h-6.6zM301.8 122.5h2.4v2.5h-2.4zM306.0 122.5h4.5v2.5h-4.5zM314.4 122.5h2.4v2.5h-2.4zM325.0 122.5h15.0v2.5h-15.0zM341.8 122.5h10.8v2.5h-10.8zM354.5 122.5h2.4v2.5h-2.4zM360.8 122.5h4.5v2.5h-4.5zM371.3 122.5h25.6v2.5h-25.6zM398.7 122.5h2.4v2.5h-2.4zM402.9 122.5h4.5v2.5h-4.5zM409.2 122.5h6.6v2.5h-6.6zM424.0 122.5h8.7v2.5h-8.7zM436.6 122.5h6.6v2.5h-6.6zM445.1 122.5h8.7v2.5h-8.7zM459.8 122.5h4.5v2.5h-4.5zM472.4 122.5h8.7v2.5h-8.7zM506.1 122.5h2.4v2.5h-2.4zM516.7 122.5h4.5v2.5h-4.5zM207.0 118.1h6.6v2.5h-6.6zM215.4 118.1h4.5v2.5h-4.5zM221.7 118.1h17.2v2.5h-17.2zM240.7 118.1h8.7v2.5h-8.7zM251.2 118.1h12.9v2.5h-12.9zM266.0 118.1h2.4v2.5h-2.4zM270.2 118.1h2.4v2.5h-2.4zM274.4 118.1h2.4v2.5h-2.4zM280.7 118.1h4.5v2.5h-4.5zM297.6 118.1h6.6v2.5h-6.6zM308.1 118.1h8.7v2.5h-8.7zM318.7 118.1h21.4v2.5h-21.4zM346.0 118.1h4.5v2.5h-4.5zM352.4 118.1h6.6v2.5h-6.6zM362.9 118.1h6.6v2.5h-6.6zM373.4 118.1h2.4v2.5h-2.4zM379.7 118.1h6.6v2.5h-6.6zM388.2 118.1h6.6v2.5h-6.6zM396.6 118.1h2.4v2.5h-2.4zM405.0 118.1h6.6v2.5h-6.6zM413.5 118.1h6.6v2.5h-6.6zM426.1 118.1h4.5v2.5h-4.5zM455.6 118.1h4.5v2.5h-4.5zM461.9 118.1h4.5v2.5h-4.5zM468.2 118.1h6.6v2.5h-6.6zM478.8 118.1h2.4v2.5h-2.4zM485.1 118.1h2.4v2.5h-2.4zM489.3 118.1h6.6v2.5h-6.6zM501.9 118.1h2.4v2.5h-2.4zM506.1 118.1h4.5v2.5h-4.5zM512.5 118.1h4.5v2.5h-4.5zM518.8 118.1h4.5v2.5h-4.5zM221.7 115.9h2.4v2.5h-2.4zM228.1 115.9h2.4v2.5h-2.4zM242.8 115.9h2.4v2.5h-2.4zM257.6 115.9h2.4v2.5h-2.4zM263.9 115.9h4.5v2.5h-4.5zM270.2 115.9h2.4v2.5h-2.4zM289.2 115.9h2.4v2.5h-2.4zM322.9 115.9h2.4v2.5h-2.4zM352.4 115.9h2.4v2.5h-2.4zM356.6 115.9h2.4v2.5h-2.4zM360.8 115.9h2.4v2.5h-2.4zM394.5 115.9h2.4v2.5h-2.4zM402.9 115.9h2.4v2.5h-2.4zM295.5 113.8h2.4v2.5h-2.4zM207.0 109.4h2.4v2.5h-2.4zM219.6 109.4h6.6v2.5h-6.6zM230.2 109.4h4.5v2.5h-4.5zM236.5 109.4h2.4v2.5h-2.4zM240.7 109.4h6.6v2.5h-6.6zM249.1 109.4h2.4v2.5h-2.4zM255.5 109.4h2.4v2.5h-2.4zM261.8 109.4h4.5v2.5h-4.5zM268.1 109.4h12.9v2.5h-12.9zM293.4 109.4h2.4v2.5h-2.4zM299.7 109.4h4.5v2.5h-4.5zM308.1 109.4h2.4v2.5h-2.4zM314.4 109.4h2.4v2.5h-2.4zM318.7 109.4h6.6v2.5h-6.6zM327.1 109.4h2.4v2.5h-2.4zM331.3 109.4h21.4v2.5h-21.4zM356.6 109.4h6.6v2.5h-6.6zM365.0 109.4h8.7v2.5h-8.7zM379.7 109.4h4.5v2.5h-4.5zM398.7 109.4h12.9v2.5h-12.9zM413.5 109.4h19.3v2.5h-19.3zM434.5 109.4h8.7v2.5h-8.7zM449.3 109.4h2.4v2.5h-2.4zM453.5 109.4h2.4v2.5h-2.4zM457.7 109.4h6.6v2.5h-6.6zM476.7 109.4h4.5v2.5h-4.5zM487.2 109.4h6.6v2.5h-6.6zM495.6 109.4h6.6v2.5h-6.6zM504.0 109.4h4.5v2.5h-4.5zM287.1 100.7h8.7v2.5h-8.7zM297.6 100.7h15.0v2.5h-15.0zM343.9 100.7h6.6v2.5h-6.6zM354.5 100.7h2.4v2.5h-2.4zM358.7 100.7h6.6v2.5h-6.6zM371.3 100.7h2.4v2.5h-2.4zM375.5 100.7h2.4v2.5h-2.4zM379.7 100.7h6.6v2.5h-6.6zM390.3 100.7h6.6v2.5h-6.6zM411.3 100.7h2.4v2.5h-2.4zM419.8 100.7h10.8v2.5h-10.8zM432.4 100.7h8.7v2.5h-8.7zM445.1 100.7h2.4v2.5h-2.4zM238.6 89.8h2.4v2.5h-2.4zM274.4 89.8h6.6v2.5h-6.6zM282.8 89.8h4.5v2.5h-4.5zM289.2 89.8h4.5v2.5h-4.5zM303.9 89.8h2.4v2.5h-2.4zM316.5 89.8h2.4v2.5h-2.4zM320.8 89.8h4.5v2.5h-4.5zM331.3 89.8h10.8v2.5h-10.8zM350.3 89.8h2.4v2.5h-2.4zM362.9 89.8h2.4v2.5h-2.4zM379.7 89.8h4.5v2.5h-4.5zM388.2 89.8h10.8v2.5h-10.8zM400.8 89.8h6.6v2.5h-6.6zM409.2 89.8h6.6v2.5h-6.6zM417.7 89.8h6.6v2.5h-6.6zM426.1 89.8h2.4v2.5h-2.4zM430.3 89.8h4.5v2.5h-4.5zM436.6 89.8h2.4v2.5h-2.4zM451.4 89.8h2.4v2.5h-2.4zM459.8 89.8h8.7v2.5h-8.7zM472.4 89.8h2.4v2.5h-2.4zM485.1 89.8h2.4v2.5h-2.4zM499.8 89.8h2.4v2.5h-2.4zM504.0 89.8h2.4v2.5h-2.4zM518.8 89.8h4.5v2.5h-4.5zM207.0 83.3h10.8v2.5h-10.8zM219.6 83.3h2.4v2.5h-2.4zM234.4 78.9h4.5v2.5h-4.5zM240.7 78.9h4.5v2.5h-4.5zM255.5 78.9h2.4v2.5h-2.4zM259.7 78.9h2.4v2.5h-2.4zM263.9 78.9h4.5v2.5h-4.5zM272.3 78.9h2.4v2.5h-2.4zM278.6 78.9h17.2v2.5h-17.2zM306.0 78.9h2.4v2.5h-2.4zM310.2 78.9h4.5v2.5h-4.5zM316.5 78.9h4.5v2.5h-4.5zM322.9 78.9h4.5v2.5h-4.5zM331.3 78.9h4.5v2.5h-4.5zM348.1 78.9h6.6v2.5h-6.6zM358.7 78.9h6.6v2.5h-6.6zM375.5 78.9h4.5v2.5h-4.5zM390.3 78.9h2.4v2.5h-2.4zM396.6 78.9h6.6v2.5h-6.6zM415.6 78.9h2.4v2.5h-2.4zM424.0 78.9h2.4v2.5h-2.4zM436.6 78.9h10.8v2.5h-10.8zM453.5 78.9h6.6v2.5h-6.6zM466.1 78.9h4.5v2.5h-4.5zM472.4 78.9h2.4v2.5h-2.4zM476.7 78.9h6.6v2.5h-6.6zM487.2 78.9h2.4v2.5h-2.4zM506.1 78.9h2.4v2.5h-2.4zM512.5 78.9h6.6v2.5h-6.6zM520.9 78.9h2.4v2.5h-2.4zM388.2 76.7h2.4v2.5h-2.4zM367.1 74.5h2.4v2.5h-2.4zM398.7 74.5h4.5v2.5h-4.5zM405.0 74.5h4.5v2.5h-4.5zM413.5 74.5h4.5v2.5h-4.5zM377.6 72.4h2.4v2.5h-2.4zM367.1 70.2h4.5v2.5h-4.5zM375.5 70.2h2.4v2.5h-2.4zM381.9 70.2h2.4v2.5h-2.4zM413.5 70.2h2.4v2.5h-2.4z"/><path fill="#45eed2" d="M74.3 343.7h2.4v2.4h-2.4zM78.5 343.7h2.4v2.4h-2.4zM95.3 343.7h4.5v2.4h-4.5zM124.8 343.7h2.4v2.4h-2.4zM133.3 343.7h6.6v2.4h-6.6zM145.9 343.7h4.5v2.4h-4.5zM175.4 343.7h8.7v2.4h-8.7zM198.6 343.7h2.4v2.4h-2.4zM202.8 343.7h2.4v2.4h-2.4zM209.1 343.7h4.5v2.4h-4.5zM230.2 343.7h12.9v2.4h-12.9zM251.2 343.7h2.4v2.4h-2.4zM466.1 343.7h8.7v2.4h-8.7zM478.8 343.7h4.5v2.4h-4.5zM487.2 343.7h2.4v2.4h-2.4zM506.1 343.7h8.7v2.4h-8.7zM520.9 343.7h2.4v2.4h-2.4zM525.1 343.7h2.4v2.4h-2.4zM535.6 343.7h2.4v2.4h-2.4zM554.6 343.7h2.4v2.4h-2.4zM560.9 343.7h2.4v2.4h-2.4zM565.1 343.7h2.4v2.4h-2.4zM579.9 343.7h2.4v2.4h-2.4zM590.4 343.7h4.5v2.4h-4.5zM603.1 343.7h12.9v2.4h-12.9zM666.3 343.7h8.7v2.4h-8.7zM116.4 339.4h2.4v2.4h-2.4zM232.3 339.4h4.5v2.4h-4.5zM468.2 339.4h2.4v2.4h-2.4zM630.4 339.4h2.4v2.4h-2.4zM666.3 339.4h2.4v2.4h-2.4zM72.2 337.3h8.7v2.4h-8.7zM84.8 337.3h6.6v2.4h-6.6zM93.2 337.3h6.6v2.4h-6.6zM103.8 337.3h4.5v2.4h-4.5zM114.3 337.3h2.4v2.4h-2.4zM120.6 337.3h10.8v2.4h-10.8zM135.4 337.3h2.4v2.4h-2.4zM162.8 337.3h10.8v2.4h-10.8zM177.5 337.3h4.5v2.4h-4.5zM183.8 337.3h4.5v2.4h-4.5zM192.3 337.3h2.4v2.4h-2.4zM198.6 337.3h10.8v2.4h-10.8zM221.7 337.3h4.5v2.4h-4.5zM228.1 337.3h6.6v2.4h-6.6zM236.5 337.3h6.6v2.4h-6.6zM244.9 337.3h2.4v2.4h-2.4zM284.9 337.3h2.4v2.4h-2.4zM301.8 337.3h2.4v2.4h-2.4zM398.7 337.3h2.4v2.4h-2.4zM468.2 337.3h8.7v2.4h-8.7zM478.8 337.3h15.0v2.4h-15.0zM497.7 337.3h6.6v2.4h-6.6zM512.5 337.3h15.0v2.4h-15.0zM529.3 337.3h4.5v2.4h-4.5zM575.7 337.3h4.5v2.4h-4.5zM586.2 337.3h8.7v2.4h-8.7zM596.7 337.3h4.5v2.4h-4.5zM605.2 337.3h2.4v2.4h-2.4zM611.5 337.3h2.4v2.4h-2.4zM615.7 337.3h2.4v2.4h-2.4zM619.9 337.3h4.5v2.4h-4.5zM628.3 337.3h2.4v2.4h-2.4zM636.8 337.3h2.4v2.4h-2.4zM645.2 337.3h6.6v2.4h-6.6zM657.8 337.3h2.4v2.4h-2.4zM68.0 335.1h2.4v2.4h-2.4zM74.3 335.1h6.6v2.4h-6.6zM82.7 335.1h12.9v2.4h-12.9zM103.8 335.1h10.8v2.4h-10.8zM116.4 335.1h4.5v2.4h-4.5zM122.7 335.1h2.4v2.4h-2.4zM126.9 335.1h6.6v2.4h-6.6zM135.4 335.1h15.0v2.4h-15.0zM152.2 335.1h4.5v2.4h-4.5zM158.5 335.1h4.5v2.4h-4.5zM173.3 335.1h17.2v2.4h-17.2zM196.5 335.1h8.7v2.4h-8.7zM207.0 335.1h2.4v2.4h-2.4zM211.2 335.1h4.5v2.4h-4.5zM221.7 335.1h10.8v2.4h-10.8zM234.4 335.1h6.6v2.4h-6.6zM242.8 335.1h2.4v2.4h-2.4zM282.8 335.1h4.5v2.4h-4.5zM303.9 335.1h6.6v2.4h-6.6zM316.5 335.1h2.4v2.4h-2.4zM352.4 335.1h4.5v2.4h-4.5zM358.7 335.1h2.4v2.4h-2.4zM367.1 335.1h10.8v2.4h-10.8zM384.0 335.1h2.4v2.4h-2.4zM394.5 335.1h2.4v2.4h-2.4zM407.1 335.1h2.4v2.4h-2.4zM411.3 335.1h2.4v2.4h-2.4zM426.1 335.1h6.6v2.4h-6.6zM434.5 335.1h2.4v2.4h-2.4zM445.1 335.1h6.6v2.4h-6.6zM470.3 335.1h12.9v2.4h-12.9zM487.2 335.1h4.5v2.4h-4.5zM493.5 335.1h4.5v2.4h-4.5zM499.8 335.1h2.4v2.4h-2.4zM504.0 335.1h31.9v2.4h-31.9zM537.7 335.1h6.6v2.4h-6.6zM546.2 335.1h6.6v2.4h-6.6zM554.6 335.1h8.7v2.4h-8.7zM565.1 335.1h4.5v2.4h-4.5zM571.5 335.1h8.7v2.4h-8.7zM582.0 335.1h4.5v2.4h-4.5zM590.4 335.1h10.8v2.4h-10.8zM603.1 335.1h2.4v2.4h-2.4zM607.3 335.1h15.0v2.4h-15.0zM626.2 335.1h4.5v2.4h-4.5zM632.5 335.1h12.9v2.4h-12.9zM651.5 335.1h4.5v2.4h-4.5zM659.9 335.1h4.5v2.4h-4.5zM666.3 335.1h8.7v2.4h-8.7zM70.1 333.0h2.4v2.4h-2.4zM82.7 333.0h4.5v2.4h-4.5zM89.0 333.0h15.0v2.4h-15.0zM105.9 333.0h2.4v2.4h-2.4zM110.1 333.0h12.9v2.4h-12.9zM124.8 333.0h2.4v2.4h-2.4zM129.1 333.0h4.5v2.4h-4.5zM135.4 333.0h4.5v2.4h-4.5zM141.7 333.0h2.4v2.4h-2.4zM145.9 333.0h2.4v2.4h-2.4zM150.1 333.0h2.4v2.4h-2.4zM154.3 333.0h2.4v2.4h-2.4zM158.5 333.0h4.5v2.4h-4.5zM169.1 333.0h4.5v2.4h-4.5zM175.4 333.0h2.4v2.4h-2.4zM181.7 333.0h10.8v2.4h-10.8zM196.5 333.0h15.0v2.4h-15.0zM213.3 333.0h2.4v2.4h-2.4zM221.7 333.0h6.6v2.4h-6.6zM230.2 333.0h6.6v2.4h-6.6zM238.6 333.0h6.6v2.4h-6.6zM470.3 333.0h2.4v2.4h-2.4zM478.8 333.0h6.6v2.4h-6.6zM489.3 333.0h4.5v2.4h-4.5zM495.6 333.0h2.4v2.4h-2.4zM501.9 333.0h2.4v2.4h-2.4zM506.1 333.0h4.5v2.4h-4.5zM512.5 333.0h4.5v2.4h-4.5zM518.8 333.0h15.0v2.4h-15.0zM535.6 333.0h6.6v2.4h-6.6zM546.2 333.0h15.0v2.4h-15.0zM563.0 333.0h12.9v2.4h-12.9zM577.8 333.0h2.4v2.4h-2.4zM584.1 333.0h4.5v2.4h-4.5zM598.8 333.0h2.4v2.4h-2.4zM603.1 333.0h4.5v2.4h-4.5zM613.6 333.0h4.5v2.4h-4.5zM619.9 333.0h12.9v2.4h-12.9zM634.7 333.0h8.7v2.4h-8.7zM649.4 333.0h4.5v2.4h-4.5zM655.7 333.0h10.8v2.4h-10.8zM668.4 333.0h6.6v2.4h-6.6zM78.5 330.9h2.4v2.4h-2.4zM86.9 330.9h4.5v2.4h-4.5zM99.6 330.9h2.4v2.4h-2.4zM105.9 330.9h4.5v2.4h-4.5zM112.2 330.9h2.4v2.4h-2.4zM120.6 330.9h2.4v2.4h-2.4zM126.9 330.9h2.4v2.4h-2.4zM135.4 330.9h2.4v2.4h-2.4zM141.7 330.9h2.4v2.4h-2.4zM150.1 330.9h2.4v2.4h-2.4zM154.3 330.9h6.6v2.4h-6.6zM169.1 330.9h12.9v2.4h-12.9zM188.0 330.9h2.4v2.4h-2.4zM192.3 330.9h6.6v2.4h-6.6zM207.0 330.9h2.4v2.4h-2.4zM211.2 330.9h2.4v2.4h-2.4zM215.4 330.9h4.5v2.4h-4.5zM221.7 330.9h2.4v2.4h-2.4zM226.0 330.9h4.5v2.4h-4.5zM232.3 330.9h4.5v2.4h-4.5zM238.6 330.9h4.5v2.4h-4.5zM244.9 330.9h6.6v2.4h-6.6zM280.7 330.9h10.8v2.4h-10.8zM312.3 330.9h2.4v2.4h-2.4zM337.6 330.9h4.5v2.4h-4.5zM343.9 330.9h2.4v2.4h-2.4zM348.1 330.9h8.7v2.4h-8.7zM358.7 330.9h6.6v2.4h-6.6zM381.9 330.9h2.4v2.4h-2.4zM413.5 330.9h15.0v2.4h-15.0zM447.2 330.9h2.4v2.4h-2.4zM464.0 330.9h6.6v2.4h-6.6zM472.4 330.9h2.4v2.4h-2.4zM495.6 330.9h2.4v2.4h-2.4zM508.3 330.9h2.4v2.4h-2.4zM512.5 330.9h2.4v2.4h-2.4zM520.9 330.9h6.6v2.4h-6.6zM542.0 330.9h4.5v2.4h-4.5zM550.4 330.9h4.5v2.4h-4.5zM558.8 330.9h2.4v2.4h-2.4zM567.2 330.9h2.4v2.4h-2.4zM575.7 330.9h2.4v2.4h-2.4zM598.8 330.9h4.5v2.4h-4.5zM615.7 330.9h2.4v2.4h-2.4zM628.3 330.9h2.4v2.4h-2.4zM636.8 330.9h8.7v2.4h-8.7zM647.3 330.9h8.7v2.4h-8.7zM662.0 330.9h4.5v2.4h-4.5zM86.9 328.7h2.4v2.4h-2.4zM101.7 328.7h4.5v2.4h-4.5zM108.0 328.7h8.7v2.4h-8.7zM135.4 328.7h4.5v2.4h-4.5zM143.8 328.7h4.5v2.4h-4.5zM152.2 328.7h2.4v2.4h-2.4zM156.4 328.7h4.5v2.4h-4.5zM162.8 328.7h2.4v2.4h-2.4zM167.0 328.7h4.5v2.4h-4.5zM175.4 328.7h2.4v2.4h-2.4zM181.7 328.7h2.4v2.4h-2.4zM185.9 328.7h4.5v2.4h-4.5zM192.3 328.7h6.6v2.4h-6.6zM202.8 328.7h2.4v2.4h-2.4zM207.0 328.7h2.4v2.4h-2.4zM527.2 328.7h2.4v2.4h-2.4zM550.4 328.7h2.4v2.4h-2.4zM556.7 328.7h6.6v2.4h-6.6zM565.1 328.7h2.4v2.4h-2.4zM573.6 328.7h2.4v2.4h-2.4zM582.0 328.7h8.7v2.4h-8.7zM592.5 328.7h2.4v2.4h-2.4zM598.8 328.7h2.4v2.4h-2.4zM605.2 328.7h2.4v2.4h-2.4zM609.4 328.7h2.4v2.4h-2.4zM615.7 328.7h2.4v2.4h-2.4zM624.1 328.7h4.5v2.4h-4.5zM630.4 328.7h2.4v2.4h-2.4zM636.8 328.7h6.6v2.4h-6.6zM647.3 328.7h4.5v2.4h-4.5zM655.7 328.7h2.4v2.4h-2.4zM662.0 328.7h8.7v2.4h-8.7zM89.0 326.6h2.4v2.4h-2.4zM162.8 326.6h4.5v2.4h-4.5zM582.0 326.6h2.4v2.4h-2.4zM611.5 326.6h2.4v2.4h-2.4zM167.0 324.4h2.4v2.4h-2.4zM253.3 324.4h76.1v2.4h-76.1zM331.3 324.4h141.4v2.4h-141.4zM548.3 324.4h2.4v2.4h-2.4zM592.5 324.4h2.4v2.4h-2.4zM643.1 324.4h2.4v2.4h-2.4zM670.5 324.4h4.5v2.4h-4.5zM82.7 322.3h2.4v2.4h-2.4zM89.0 322.3h4.5v2.4h-4.5zM103.8 322.3h2.4v2.4h-2.4zM108.0 322.3h4.5v2.4h-4.5zM120.6 322.3h2.4v2.4h-2.4zM126.9 322.3h4.5v2.4h-4.5zM141.7 322.3h4.5v2.4h-4.5zM175.4 322.3h2.4v2.4h-2.4zM179.6 322.3h2.4v2.4h-2.4zM194.4 322.3h4.5v2.4h-4.5zM202.8 322.3h2.4v2.4h-2.4zM211.2 322.3h4.5v2.4h-4.5zM251.2 322.3h12.9v2.4h-12.9zM268.1 322.3h4.5v2.4h-4.5zM293.4 322.3h2.4v2.4h-2.4zM297.6 322.3h6.6v2.4h-6.6zM308.1 322.3h10.8v2.4h-10.8zM333.4 322.3h10.8v2.4h-10.8zM358.7 322.3h6.6v2.4h-6.6zM398.7 322.3h2.4v2.4h-2.4zM409.2 322.3h2.4v2.4h-2.4zM428.2 322.3h2.4v2.4h-2.4zM440.8 322.3h10.8v2.4h-10.8zM455.6 322.3h10.8v2.4h-10.8zM468.2 322.3h4.5v2.4h-4.5zM487.2 322.3h2.4v2.4h-2.4zM514.6 322.3h4.5v2.4h-4.5zM542.0 322.3h2.4v2.4h-2.4zM552.5 322.3h2.4v2.4h-2.4zM584.1 322.3h2.4v2.4h-2.4zM596.7 322.3h2.4v2.4h-2.4zM611.5 322.3h2.4v2.4h-2.4zM617.8 322.3h2.4v2.4h-2.4zM626.2 322.3h2.4v2.4h-2.4zM653.6 322.3h4.5v2.4h-4.5zM459.8 320.1h2.4v2.4h-2.4zM470.3 320.1h6.6v2.4h-6.6zM68.0 318.0h2.4v2.4h-2.4zM74.3 318.0h2.4v2.4h-2.4zM82.7 318.0h4.5v2.4h-4.5zM91.1 318.0h2.4v2.4h-2.4zM97.5 318.0h2.4v2.4h-2.4zM103.8 318.0h2.4v2.4h-2.4zM108.0 318.0h2.4v2.4h-2.4zM114.3 318.0h4.5v2.4h-4.5zM120.6 318.0h2.4v2.4h-2.4zM154.3 318.0h4.5v2.4h-4.5zM162.8 318.0h6.6v2.4h-6.6zM171.2 318.0h2.4v2.4h-2.4zM179.6 318.0h2.4v2.4h-2.4zM183.8 318.0h2.4v2.4h-2.4zM196.5 318.0h2.4v2.4h-2.4zM251.2 318.0h4.5v2.4h-4.5zM282.8 318.0h2.4v2.4h-2.4zM289.2 318.0h4.5v2.4h-4.5zM371.3 318.0h4.5v2.4h-4.5zM388.2 318.0h2.4v2.4h-2.4zM415.6 318.0h4.5v2.4h-4.5zM461.9 318.0h8.7v2.4h-8.7zM487.2 318.0h2.4v2.4h-2.4zM491.4 318.0h2.4v2.4h-2.4zM495.6 318.0h2.4v2.4h-2.4zM499.8 318.0h2.4v2.4h-2.4zM518.8 318.0h2.4v2.4h-2.4zM531.4 318.0h6.6v2.4h-6.6zM548.3 318.0h2.4v2.4h-2.4zM563.0 318.0h2.4v2.4h-2.4zM582.0 318.0h2.4v2.4h-2.4zM588.3 318.0h2.4v2.4h-2.4zM617.8 318.0h2.4v2.4h-2.4zM643.1 318.0h2.4v2.4h-2.4zM653.6 318.0h2.4v2.4h-2.4zM666.3 318.0h2.4v2.4h-2.4zM72.2 315.9h6.6v2.4h-6.6zM82.7 315.9h2.4v2.4h-2.4zM91.1 315.9h2.4v2.4h-2.4zM95.3 315.9h2.4v2.4h-2.4zM99.6 315.9h6.6v2.4h-6.6zM108.0 315.9h6.6v2.4h-6.6zM122.7 315.9h2.4v2.4h-2.4zM126.9 315.9h8.7v2.4h-8.7zM139.6 315.9h2.4v2.4h-2.4zM143.8 315.9h10.8v2.4h-10.8zM158.5 315.9h2.4v2.4h-2.4zM164.9 315.9h2.4v2.4h-2.4zM169.1 315.9h4.5v2.4h-4.5zM177.5 315.9h2.4v2.4h-2.4zM181.7 315.9h4.5v2.4h-4.5zM188.0 315.9h2.4v2.4h-2.4zM192.3 315.9h8.7v2.4h-8.7zM221.7 315.9h2.4v2.4h-2.4zM228.1 315.9h8.7v2.4h-8.7zM242.8 315.9h4.5v2.4h-4.5zM249.1 315.9h2.4v2.4h-2.4zM314.4 315.9h2.4v2.4h-2.4zM362.9 315.9h2.4v2.4h-2.4zM373.4 315.9h2.4v2.4h-2.4zM428.2 315.9h2.4v2.4h-2.4zM432.4 315.9h2.4v2.4h-2.4zM468.2 315.9h4.5v2.4h-4.5zM474.5 315.9h8.7v2.4h-8.7zM501.9 315.9h8.7v2.4h-8.7zM512.5 315.9h15.0v2.4h-15.0zM529.3 315.9h2.4v2.4h-2.4zM533.5 315.9h2.4v2.4h-2.4zM537.7 315.9h2.4v2.4h-2.4zM542.0 315.9h4.5v2.4h-4.5zM550.4 315.9h6.6v2.4h-6.6zM558.8 315.9h2.4v2.4h-2.4zM565.1 315.9h2.4v2.4h-2.4zM571.5 315.9h6.6v2.4h-6.6zM579.9 315.9h10.8v2.4h-10.8zM592.5 315.9h6.6v2.4h-6.6zM600.9 315.9h10.8v2.4h-10.8zM615.7 315.9h6.6v2.4h-6.6zM626.2 315.9h17.2v2.4h-17.2zM645.2 315.9h25.6v2.4h-25.6zM249.1 313.7h6.6v2.4h-6.6zM362.9 313.7h8.7v2.4h-8.7zM386.1 313.7h6.6v2.4h-6.6zM436.6 313.7h2.4v2.4h-2.4zM470.3 313.7h8.7v2.4h-8.7zM480.9 313.7h6.6v2.4h-6.6zM489.3 313.7h2.4v2.4h-2.4zM493.5 313.7h2.4v2.4h-2.4zM497.7 313.7h8.7v2.4h-8.7zM508.3 313.7h2.4v2.4h-2.4zM68.0 311.6h6.6v2.4h-6.6zM86.9 311.6h2.4v2.4h-2.4zM110.1 311.6h4.5v2.4h-4.5zM124.8 311.6h2.4v2.4h-2.4zM131.2 311.6h8.7v2.4h-8.7zM143.8 311.6h6.6v2.4h-6.6zM154.3 311.6h2.4v2.4h-2.4zM177.5 311.6h2.4v2.4h-2.4zM253.3 311.6h4.5v2.4h-4.5zM268.1 311.6h2.4v2.4h-2.4zM291.3 311.6h4.5v2.4h-4.5zM350.3 311.6h4.5v2.4h-4.5zM362.9 311.6h2.4v2.4h-2.4zM419.8 311.6h4.5v2.4h-4.5zM428.2 311.6h2.4v2.4h-2.4zM464.0 311.6h2.4v2.4h-2.4zM468.2 311.6h2.4v2.4h-2.4zM489.3 311.6h6.6v2.4h-6.6zM501.9 311.6h2.4v2.4h-2.4zM506.1 311.6h4.5v2.4h-4.5zM514.6 311.6h2.4v2.4h-2.4zM527.2 311.6h2.4v2.4h-2.4zM542.0 311.6h2.4v2.4h-2.4zM546.2 311.6h2.4v2.4h-2.4zM550.4 311.6h4.5v2.4h-4.5zM556.7 311.6h2.4v2.4h-2.4zM565.1 311.6h6.6v2.4h-6.6zM577.8 311.6h2.4v2.4h-2.4zM588.3 311.6h6.6v2.4h-6.6zM596.7 311.6h8.7v2.4h-8.7zM634.7 311.6h2.4v2.4h-2.4zM643.1 311.6h2.4v2.4h-2.4zM649.4 311.6h2.4v2.4h-2.4zM659.9 311.6h2.4v2.4h-2.4zM666.3 311.6h2.4v2.4h-2.4zM68.0 309.4h19.3v2.4h-19.3zM91.1 309.4h2.4v2.4h-2.4zM97.5 309.4h2.4v2.4h-2.4zM103.8 309.4h19.3v2.4h-19.3zM124.8 309.4h6.6v2.4h-6.6zM133.3 309.4h2.4v2.4h-2.4zM137.5 309.4h2.4v2.4h-2.4zM141.7 309.4h12.9v2.4h-12.9zM162.8 309.4h4.5v2.4h-4.5zM169.1 309.4h12.9v2.4h-12.9zM185.9 309.4h4.5v2.4h-4.5zM192.3 309.4h2.4v2.4h-2.4zM196.5 309.4h4.5v2.4h-4.5zM202.8 309.4h2.4v2.4h-2.4zM215.4 309.4h38.2v2.4h-38.2zM470.3 309.4h4.5v2.4h-4.5zM476.7 309.4h4.5v2.4h-4.5zM489.3 309.4h10.8v2.4h-10.8zM501.9 309.4h8.7v2.4h-8.7zM512.5 309.4h4.5v2.4h-4.5zM523.0 309.4h4.5v2.4h-4.5zM529.3 309.4h4.5v2.4h-4.5zM535.6 309.4h8.7v2.4h-8.7zM548.3 309.4h6.6v2.4h-6.6zM556.7 309.4h4.5v2.4h-4.5zM565.1 309.4h2.4v2.4h-2.4zM569.3 309.4h17.2v2.4h-17.2zM588.3 309.4h4.5v2.4h-4.5zM596.7 309.4h4.5v2.4h-4.5zM609.4 309.4h8.7v2.4h-8.7zM619.9 309.4h4.5v2.4h-4.5zM626.2 309.4h8.7v2.4h-8.7zM636.8 309.4h6.6v2.4h-6.6zM645.2 309.4h29.8v2.4h-29.8zM86.9 305.1h2.4v2.4h-2.4zM97.5 305.1h2.4v2.4h-2.4zM141.7 305.1h2.4v2.4h-2.4zM173.3 305.1h2.4v2.4h-2.4zM179.6 305.1h2.4v2.4h-2.4zM188.0 305.1h2.4v2.4h-2.4zM194.4 305.1h2.4v2.4h-2.4zM200.7 305.1h2.4v2.4h-2.4zM204.9 305.1h2.4v2.4h-2.4zM253.3 305.1h12.9v2.4h-12.9zM278.6 305.1h12.9v2.4h-12.9zM293.4 305.1h27.7v2.4h-27.7zM327.1 305.1h31.9v2.4h-31.9zM360.8 305.1h21.4v2.4h-21.4zM400.8 305.1h23.5v2.4h-23.5zM428.2 305.1h4.5v2.4h-4.5zM436.6 305.1h2.4v2.4h-2.4zM445.1 305.1h6.6v2.4h-6.6zM453.5 305.1h19.3v2.4h-19.3zM489.3 305.1h2.4v2.4h-2.4zM514.6 305.1h2.4v2.4h-2.4zM575.7 305.1h4.5v2.4h-4.5zM582.0 305.1h2.4v2.4h-2.4zM588.3 305.1h6.6v2.4h-6.6zM596.7 305.1h2.4v2.4h-2.4zM603.1 305.1h2.4v2.4h-2.4zM615.7 305.1h4.5v2.4h-4.5zM624.1 305.1h2.4v2.4h-2.4zM643.1 305.1h4.5v2.4h-4.5zM649.4 305.1h2.4v2.4h-2.4zM668.4 305.1h2.4v2.4h-2.4zM672.6 305.1h2.4v2.4h-2.4zM253.3 303.0h4.5v2.4h-4.5zM259.7 303.0h4.5v2.4h-4.5zM274.4 303.0h2.4v2.4h-2.4zM280.7 303.0h6.6v2.4h-6.6zM291.3 303.0h2.4v2.4h-2.4zM301.8 303.0h2.4v2.4h-2.4zM306.0 303.0h2.4v2.4h-2.4zM310.2 303.0h4.5v2.4h-4.5zM318.7 303.0h17.2v2.4h-17.2zM337.6 303.0h2.4v2.4h-2.4zM346.0 303.0h8.7v2.4h-8.7zM360.8 303.0h4.5v2.4h-4.5zM373.4 303.0h2.4v2.4h-2.4zM390.3 303.0h12.9v2.4h-12.9zM407.1 303.0h4.5v2.4h-4.5zM415.6 303.0h4.5v2.4h-4.5zM453.5 303.0h2.4v2.4h-2.4zM459.8 303.0h2.4v2.4h-2.4zM468.2 303.0h4.5v2.4h-4.5zM476.7 303.0h2.4v2.4h-2.4zM480.9 303.0h2.4v2.4h-2.4zM523.0 303.0h2.4v2.4h-2.4zM542.0 303.0h2.4v2.4h-2.4zM548.3 303.0h2.4v2.4h-2.4zM558.8 303.0h8.7v2.4h-8.7zM569.3 303.0h2.4v2.4h-2.4zM573.6 303.0h2.4v2.4h-2.4zM598.8 303.0h2.4v2.4h-2.4zM634.7 303.0h2.4v2.4h-2.4zM72.2 300.9h10.8v2.4h-10.8zM101.7 300.9h10.8v2.4h-10.8zM114.3 300.9h2.4v2.4h-2.4zM118.5 300.9h4.5v2.4h-4.5zM124.8 300.9h2.4v2.4h-2.4zM129.1 300.9h2.4v2.4h-2.4zM133.3 300.9h15.0v2.4h-15.0zM150.1 300.9h4.5v2.4h-4.5zM158.5 300.9h8.7v2.4h-8.7zM169.1 300.9h6.6v2.4h-6.6zM177.5 300.9h2.4v2.4h-2.4zM181.7 300.9h2.4v2.4h-2.4zM185.9 300.9h21.4v2.4h-21.4zM209.1 300.9h2.4v2.4h-2.4zM219.6 300.9h2.4v2.4h-2.4zM230.2 300.9h2.4v2.4h-2.4zM238.6 300.9h2.4v2.4h-2.4zM244.9 300.9h2.4v2.4h-2.4zM249.1 300.9h6.6v2.4h-6.6zM346.0 300.9h6.6v2.4h-6.6zM470.3 300.9h10.8v2.4h-10.8zM483.0 300.9h6.6v2.4h-6.6zM491.4 300.9h12.9v2.4h-12.9zM506.1 300.9h2.4v2.4h-2.4zM523.0 300.9h2.4v2.4h-2.4zM527.2 300.9h8.7v2.4h-8.7zM544.1 300.9h19.3v2.4h-19.3zM565.1 300.9h6.6v2.4h-6.6zM573.6 300.9h4.5v2.4h-4.5zM579.9 300.9h2.4v2.4h-2.4zM588.3 300.9h2.4v2.4h-2.4zM596.7 300.9h6.6v2.4h-6.6zM609.4 300.9h4.5v2.4h-4.5zM619.9 300.9h4.5v2.4h-4.5zM628.3 300.9h2.4v2.4h-2.4zM638.9 300.9h2.4v2.4h-2.4zM645.2 300.9h2.4v2.4h-2.4zM649.4 300.9h2.4v2.4h-2.4zM662.0 300.9h12.9v2.4h-12.9zM249.1 298.7h2.4v2.4h-2.4zM253.3 298.7h4.5v2.4h-4.5zM259.7 298.7h2.4v2.4h-2.4zM280.7 298.7h2.4v2.4h-2.4zM314.4 298.7h8.7v2.4h-8.7zM329.2 298.7h2.4v2.4h-2.4zM335.5 298.7h4.5v2.4h-4.5zM346.0 298.7h2.4v2.4h-2.4zM352.4 298.7h2.4v2.4h-2.4zM356.6 298.7h15.0v2.4h-15.0zM447.2 298.7h4.5v2.4h-4.5zM459.8 298.7h2.4v2.4h-2.4zM68.0 296.6h6.6v2.4h-6.6zM76.4 296.6h2.4v2.4h-2.4zM80.6 296.6h2.4v2.4h-2.4zM91.1 296.6h17.2v2.4h-17.2zM110.1 296.6h2.4v2.4h-2.4zM114.3 296.6h2.4v2.4h-2.4zM118.5 296.6h2.4v2.4h-2.4zM122.7 296.6h2.4v2.4h-2.4zM126.9 296.6h2.4v2.4h-2.4zM131.2 296.6h6.6v2.4h-6.6zM139.6 296.6h2.4v2.4h-2.4zM145.9 296.6h2.4v2.4h-2.4zM152.2 296.6h10.8v2.4h-10.8zM164.9 296.6h6.6v2.4h-6.6zM173.3 296.6h4.5v2.4h-4.5zM179.6 296.6h2.4v2.4h-2.4zM183.8 296.6h8.7v2.4h-8.7zM194.4 296.6h8.7v2.4h-8.7zM204.9 296.6h10.8v2.4h-10.8zM217.5 296.6h15.0v2.4h-15.0zM234.4 296.6h2.4v2.4h-2.4zM240.7 296.6h2.4v2.4h-2.4zM247.0 296.6h10.8v2.4h-10.8zM455.6 296.6h2.4v2.4h-2.4zM464.0 296.6h2.4v2.4h-2.4zM468.2 296.6h4.5v2.4h-4.5zM474.5 296.6h4.5v2.4h-4.5zM480.9 296.6h4.5v2.4h-4.5zM489.3 296.6h8.7v2.4h-8.7zM501.9 296.6h4.5v2.4h-4.5zM510.4 296.6h6.6v2.4h-6.6zM518.8 296.6h2.4v2.4h-2.4zM525.1 296.6h6.6v2.4h-6.6zM537.7 296.6h10.8v2.4h-10.8zM552.5 296.6h21.4v2.4h-21.4zM575.7 296.6h2.4v2.4h-2.4zM582.0 296.6h2.4v2.4h-2.4zM588.3 296.6h2.4v2.4h-2.4zM594.6 296.6h4.5v2.4h-4.5zM600.9 296.6h2.4v2.4h-2.4zM607.3 296.6h2.4v2.4h-2.4zM611.5 296.6h4.5v2.4h-4.5zM617.8 296.6h15.0v2.4h-15.0zM634.7 296.6h6.6v2.4h-6.6zM643.1 296.6h8.7v2.4h-8.7zM653.6 296.6h21.4v2.4h-21.4zM70.1 294.4h2.4v2.4h-2.4zM74.3 294.4h4.5v2.4h-4.5zM84.8 294.4h2.4v2.4h-2.4zM101.7 294.4h6.6v2.4h-6.6zM114.3 294.4h6.6v2.4h-6.6zM131.2 294.4h12.9v2.4h-12.9zM145.9 294.4h15.0v2.4h-15.0zM164.9 294.4h2.4v2.4h-2.4zM169.1 294.4h12.9v2.4h-12.9zM183.8 294.4h2.4v2.4h-2.4zM190.1 294.4h2.4v2.4h-2.4zM198.6 294.4h4.5v2.4h-4.5zM204.9 294.4h4.5v2.4h-4.5zM213.3 294.4h6.6v2.4h-6.6zM221.7 294.4h6.6v2.4h-6.6zM232.3 294.4h4.5v2.4h-4.5zM247.0 294.4h2.4v2.4h-2.4zM253.3 294.4h4.5v2.4h-4.5zM261.8 294.4h8.7v2.4h-8.7zM447.2 294.4h4.5v2.4h-4.5zM453.5 294.4h4.5v2.4h-4.5zM459.8 294.4h6.6v2.4h-6.6zM468.2 294.4h6.6v2.4h-6.6zM483.0 294.4h4.5v2.4h-4.5zM489.3 294.4h2.4v2.4h-2.4zM495.6 294.4h2.4v2.4h-2.4zM501.9 294.4h2.4v2.4h-2.4zM510.4 294.4h2.4v2.4h-2.4zM514.6 294.4h2.4v2.4h-2.4zM518.8 294.4h10.8v2.4h-10.8zM533.5 294.4h4.5v2.4h-4.5zM539.9 294.4h8.7v2.4h-8.7zM552.5 294.4h2.4v2.4h-2.4zM558.8 294.4h4.5v2.4h-4.5zM567.2 294.4h4.5v2.4h-4.5zM579.9 294.4h4.5v2.4h-4.5zM586.2 294.4h10.8v2.4h-10.8zM598.8 294.4h4.5v2.4h-4.5zM609.4 294.4h10.8v2.4h-10.8zM630.4 294.4h4.5v2.4h-4.5zM636.8 294.4h4.5v2.4h-4.5zM645.2 294.4h4.5v2.4h-4.5zM655.7 294.4h6.6v2.4h-6.6zM666.3 294.4h2.4v2.4h-2.4zM672.6 294.4h2.4v2.4h-2.4zM68.0 292.3h4.5v2.4h-4.5zM74.3 292.3h2.4v2.4h-2.4zM86.9 292.3h6.6v2.4h-6.6zM99.6 292.3h2.4v2.4h-2.4zM112.2 292.3h2.4v2.4h-2.4zM131.2 292.3h4.5v2.4h-4.5zM141.7 292.3h2.4v2.4h-2.4zM145.9 292.3h2.4v2.4h-2.4zM154.3 292.3h2.4v2.4h-2.4zM173.3 292.3h2.4v2.4h-2.4zM177.5 292.3h6.6v2.4h-6.6zM188.0 292.3h2.4v2.4h-2.4zM192.3 292.3h2.4v2.4h-2.4zM196.5 292.3h2.4v2.4h-2.4zM247.0 292.3h2.4v2.4h-2.4zM251.2 292.3h6.6v2.4h-6.6zM263.9 292.3h4.5v2.4h-4.5zM310.2 292.3h2.4v2.4h-2.4zM314.4 292.3h2.4v2.4h-2.4zM432.4 292.3h6.6v2.4h-6.6zM447.2 292.3h4.5v2.4h-4.5zM453.5 292.3h2.4v2.4h-2.4zM459.8 292.3h6.6v2.4h-6.6zM468.2 292.3h6.6v2.4h-6.6zM480.9 292.3h4.5v2.4h-4.5zM493.5 292.3h2.4v2.4h-2.4zM501.9 292.3h2.4v2.4h-2.4zM506.1 292.3h6.6v2.4h-6.6zM518.8 292.3h8.7v2.4h-8.7zM529.3 292.3h8.7v2.4h-8.7zM539.9 292.3h2.4v2.4h-2.4zM544.1 292.3h2.4v2.4h-2.4zM548.3 292.3h2.4v2.4h-2.4zM554.6 292.3h6.6v2.4h-6.6zM565.1 292.3h10.8v2.4h-10.8zM577.8 292.3h6.6v2.4h-6.6zM586.2 292.3h4.5v2.4h-4.5zM600.9 292.3h8.7v2.4h-8.7zM622.0 292.3h2.4v2.4h-2.4zM628.3 292.3h2.4v2.4h-2.4zM643.1 292.3h2.4v2.4h-2.4zM647.3 292.3h12.9v2.4h-12.9zM670.5 292.3h2.4v2.4h-2.4zM68.0 290.1h10.8v2.4h-10.8zM82.7 290.1h4.5v2.4h-4.5zM89.0 290.1h2.4v2.4h-2.4zM93.2 290.1h10.8v2.4h-10.8zM108.0 290.1h23.5v2.4h-23.5zM137.5 290.1h2.4v2.4h-2.4zM148.0 290.1h2.4v2.4h-2.4zM154.3 290.1h2.4v2.4h-2.4zM160.7 290.1h12.9v2.4h-12.9zM177.5 290.1h2.4v2.4h-2.4zM181.7 290.1h4.5v2.4h-4.5zM194.4 290.1h12.9v2.4h-12.9zM211.2 290.1h2.4v2.4h-2.4zM215.4 290.1h4.5v2.4h-4.5zM228.1 290.1h4.5v2.4h-4.5zM234.4 290.1h4.5v2.4h-4.5zM240.7 290.1h6.6v2.4h-6.6zM251.2 290.1h4.5v2.4h-4.5zM451.4 290.1h8.7v2.4h-8.7zM461.9 290.1h8.7v2.4h-8.7zM472.4 290.1h4.5v2.4h-4.5zM478.8 290.1h8.7v2.4h-8.7zM489.3 290.1h2.4v2.4h-2.4zM493.5 290.1h2.4v2.4h-2.4zM497.7 290.1h4.5v2.4h-4.5zM504.0 290.1h6.6v2.4h-6.6zM512.5 290.1h2.4v2.4h-2.4zM516.7 290.1h10.8v2.4h-10.8zM529.3 290.1h2.4v2.4h-2.4zM533.5 290.1h2.4v2.4h-2.4zM537.7 290.1h4.5v2.4h-4.5zM544.1 290.1h2.4v2.4h-2.4zM548.3 290.1h4.5v2.4h-4.5zM556.7 290.1h10.8v2.4h-10.8zM569.3 290.1h2.4v2.4h-2.4zM577.8 290.1h6.6v2.4h-6.6zM586.2 290.1h2.4v2.4h-2.4zM590.4 290.1h2.4v2.4h-2.4zM594.6 290.1h4.5v2.4h-4.5zM600.9 290.1h4.5v2.4h-4.5zM607.3 290.1h12.9v2.4h-12.9zM622.0 290.1h2.4v2.4h-2.4zM628.3 290.1h8.7v2.4h-8.7zM638.9 290.1h2.4v2.4h-2.4zM643.1 290.1h12.9v2.4h-12.9zM657.8 290.1h8.7v2.4h-8.7zM668.4 290.1h6.6v2.4h-6.6zM68.0 288.0h2.4v2.4h-2.4zM74.3 288.0h2.4v2.4h-2.4zM80.6 288.0h2.4v2.4h-2.4zM84.8 288.0h2.4v2.4h-2.4zM95.3 288.0h2.4v2.4h-2.4zM99.6 288.0h10.8v2.4h-10.8zM112.2 288.0h2.4v2.4h-2.4zM116.4 288.0h2.4v2.4h-2.4zM120.6 288.0h2.4v2.4h-2.4zM124.8 288.0h2.4v2.4h-2.4zM131.2 288.0h2.4v2.4h-2.4zM135.4 288.0h2.4v2.4h-2.4zM141.7 288.0h8.7v2.4h-8.7zM152.2 288.0h2.4v2.4h-2.4zM156.4 288.0h2.4v2.4h-2.4zM162.8 288.0h8.7v2.4h-8.7zM177.5 288.0h2.4v2.4h-2.4zM202.8 288.0h2.4v2.4h-2.4zM259.7 288.0h2.4v2.4h-2.4zM274.4 288.0h2.4v2.4h-2.4zM312.3 288.0h2.4v2.4h-2.4zM350.3 288.0h6.6v2.4h-6.6zM449.3 288.0h2.4v2.4h-2.4zM457.7 288.0h2.4v2.4h-2.4zM466.1 288.0h2.4v2.4h-2.4zM470.3 288.0h4.5v2.4h-4.5zM483.0 288.0h6.6v2.4h-6.6zM491.4 288.0h10.8v2.4h-10.8zM504.0 288.0h2.4v2.4h-2.4zM512.5 288.0h4.5v2.4h-4.5zM518.8 288.0h2.4v2.4h-2.4zM523.0 288.0h2.4v2.4h-2.4zM529.3 288.0h4.5v2.4h-4.5zM535.6 288.0h4.5v2.4h-4.5zM542.0 288.0h21.4v2.4h-21.4zM565.1 288.0h6.6v2.4h-6.6zM594.6 288.0h2.4v2.4h-2.4zM598.8 288.0h6.6v2.4h-6.6zM613.6 288.0h2.4v2.4h-2.4zM617.8 288.0h2.4v2.4h-2.4zM622.0 288.0h4.5v2.4h-4.5zM628.3 288.0h2.4v2.4h-2.4zM638.9 288.0h4.5v2.4h-4.5zM645.2 288.0h2.4v2.4h-2.4zM649.4 288.0h2.4v2.4h-2.4zM653.6 288.0h4.5v2.4h-4.5zM659.9 288.0h2.4v2.4h-2.4zM664.1 288.0h10.8v2.4h-10.8zM118.5 285.9h6.6v2.4h-6.6zM255.5 285.9h6.6v2.4h-6.6zM266.0 285.9h31.9v2.4h-31.9zM301.8 285.9h2.4v2.4h-2.4zM312.3 285.9h12.9v2.4h-12.9zM327.1 285.9h2.4v2.4h-2.4zM333.4 285.9h31.9v2.4h-31.9zM367.1 285.9h2.4v2.4h-2.4zM377.6 285.9h57.2v2.4h-57.2zM440.8 285.9h8.7v2.4h-8.7zM489.3 285.9h2.4v2.4h-2.4zM556.7 285.9h2.4v2.4h-2.4zM563.0 285.9h2.4v2.4h-2.4zM588.3 285.9h2.4v2.4h-2.4zM603.1 285.9h4.5v2.4h-4.5zM626.2 285.9h4.5v2.4h-4.5zM78.5 283.7h2.4v2.4h-2.4zM255.5 283.7h196.2v2.4h-196.2zM72.2 281.6h2.4v2.4h-2.4zM78.5 281.6h2.4v2.4h-2.4zM82.7 281.6h6.6v2.4h-6.6zM99.6 281.6h6.6v2.4h-6.6zM110.1 281.6h2.4v2.4h-2.4zM120.6 281.6h2.4v2.4h-2.4zM124.8 281.6h4.5v2.4h-4.5zM137.5 281.6h2.4v2.4h-2.4zM141.7 281.6h4.5v2.4h-4.5zM150.1 281.6h4.5v2.4h-4.5zM158.5 281.6h12.9v2.4h-12.9zM173.3 281.6h4.5v2.4h-4.5zM185.9 281.6h4.5v2.4h-4.5zM196.5 281.6h2.4v2.4h-2.4zM200.7 281.6h2.4v2.4h-2.4zM211.2 281.6h2.4v2.4h-2.4zM289.2 281.6h4.5v2.4h-4.5zM301.8 281.6h17.2v2.4h-17.2zM329.2 281.6h6.6v2.4h-6.6zM402.9 281.6h2.4v2.4h-2.4zM413.5 281.6h6.6v2.4h-6.6zM428.2 281.6h2.4v2.4h-2.4zM552.5 281.6h2.4v2.4h-2.4zM558.8 281.6h2.4v2.4h-2.4zM563.0 281.6h2.4v2.4h-2.4zM567.2 281.6h2.4v2.4h-2.4zM582.0 281.6h4.5v2.4h-4.5zM603.1 281.6h2.4v2.4h-2.4zM609.4 281.6h2.4v2.4h-2.4zM613.6 281.6h2.4v2.4h-2.4zM622.0 281.6h2.4v2.4h-2.4zM634.7 281.6h2.4v2.4h-2.4zM641.0 281.6h8.7v2.4h-8.7zM653.6 281.6h2.4v2.4h-2.4zM664.1 281.6h2.4v2.4h-2.4zM668.4 281.6h2.4v2.4h-2.4zM68.0 279.4h6.6v2.4h-6.6zM118.5 279.4h2.4v2.4h-2.4zM122.7 279.4h2.4v2.4h-2.4zM150.1 279.4h4.5v2.4h-4.5zM202.8 279.4h2.4v2.4h-2.4zM255.5 279.4h2.4v2.4h-2.4zM270.2 279.4h2.4v2.4h-2.4zM274.4 279.4h2.4v2.4h-2.4zM280.7 279.4h8.7v2.4h-8.7zM291.3 279.4h2.4v2.4h-2.4zM329.2 279.4h2.4v2.4h-2.4zM379.7 279.4h2.4v2.4h-2.4zM386.1 279.4h2.4v2.4h-2.4zM424.0 279.4h2.4v2.4h-2.4zM428.2 279.4h2.4v2.4h-2.4zM438.7 279.4h10.8v2.4h-10.8zM470.3 279.4h4.5v2.4h-4.5zM487.2 279.4h4.5v2.4h-4.5zM493.5 279.4h2.4v2.4h-2.4zM499.8 279.4h4.5v2.4h-4.5zM512.5 279.4h2.4v2.4h-2.4zM516.7 279.4h2.4v2.4h-2.4zM531.4 279.4h2.4v2.4h-2.4zM535.6 279.4h2.4v2.4h-2.4zM539.9 279.4h2.4v2.4h-2.4zM556.7 279.4h2.4v2.4h-2.4zM571.5 279.4h2.4v2.4h-2.4zM577.8 279.4h2.4v2.4h-2.4zM582.0 279.4h2.4v2.4h-2.4zM638.9 279.4h2.4v2.4h-2.4zM649.4 279.4h2.4v2.4h-2.4zM664.1 279.4h4.5v2.4h-4.5zM72.2 277.3h8.7v2.4h-8.7zM82.7 277.3h8.7v2.4h-8.7zM93.2 277.3h8.7v2.4h-8.7zM105.9 277.3h4.5v2.4h-4.5zM116.4 277.3h4.5v2.4h-4.5zM124.8 277.3h4.5v2.4h-4.5zM131.2 277.3h6.6v2.4h-6.6zM141.7 277.3h10.8v2.4h-10.8zM156.4 277.3h6.6v2.4h-6.6zM164.9 277.3h2.4v2.4h-2.4zM169.1 277.3h4.5v2.4h-4.5zM175.4 277.3h2.4v2.4h-2.4zM179.6 277.3h2.4v2.4h-2.4zM183.8 277.3h2.4v2.4h-2.4zM188.0 277.3h2.4v2.4h-2.4zM192.3 277.3h2.4v2.4h-2.4zM451.4 277.3h15.0v2.4h-15.0zM470.3 277.3h4.5v2.4h-4.5zM478.8 277.3h2.4v2.4h-2.4zM483.0 277.3h6.6v2.4h-6.6zM491.4 277.3h10.8v2.4h-10.8zM504.0 277.3h6.6v2.4h-6.6zM514.6 277.3h17.2v2.4h-17.2zM533.5 277.3h6.6v2.4h-6.6zM550.4 277.3h4.5v2.4h-4.5zM556.7 277.3h2.4v2.4h-2.4zM567.2 277.3h4.5v2.4h-4.5zM575.7 277.3h2.4v2.4h-2.4zM579.9 277.3h2.4v2.4h-2.4zM588.3 277.3h8.7v2.4h-8.7zM598.8 277.3h17.2v2.4h-17.2zM619.9 277.3h8.7v2.4h-8.7zM636.8 277.3h8.7v2.4h-8.7zM651.5 277.3h2.4v2.4h-2.4zM655.7 277.3h10.8v2.4h-10.8zM672.6 277.3h2.4v2.4h-2.4zM230.2 275.1h2.4v2.4h-2.4zM236.5 275.1h2.4v2.4h-2.4zM242.8 275.1h2.4v2.4h-2.4zM247.0 275.1h2.4v2.4h-2.4zM251.2 275.1h4.5v2.4h-4.5zM451.4 275.1h2.4v2.4h-2.4zM461.9 275.1h2.4v2.4h-2.4zM466.1 275.1h6.6v2.4h-6.6zM474.5 275.1h6.6v2.4h-6.6zM483.0 275.1h8.7v2.4h-8.7zM495.6 275.1h2.4v2.4h-2.4zM68.0 273.0h25.6v2.4h-25.6zM95.3 273.0h4.5v2.4h-4.5zM101.7 273.0h8.7v2.4h-8.7zM112.2 273.0h15.0v2.4h-15.0zM129.1 273.0h2.4v2.4h-2.4zM133.3 273.0h15.0v2.4h-15.0zM150.1 273.0h10.8v2.4h-10.8zM162.8 273.0h15.0v2.4h-15.0zM181.7 273.0h6.6v2.4h-6.6zM190.1 273.0h2.4v2.4h-2.4zM194.4 273.0h10.8v2.4h-10.8zM209.1 273.0h8.7v2.4h-8.7zM219.6 273.0h19.3v2.4h-19.3zM240.7 273.0h6.6v2.4h-6.6zM249.1 273.0h2.4v2.4h-2.4zM253.3 273.0h4.5v2.4h-4.5zM449.3 273.0h6.6v2.4h-6.6zM457.7 273.0h8.7v2.4h-8.7zM468.2 273.0h2.4v2.4h-2.4zM472.4 273.0h10.8v2.4h-10.8zM537.7 273.0h15.0v2.4h-15.0zM558.8 273.0h6.6v2.4h-6.6zM567.2 273.0h4.5v2.4h-4.5zM575.7 273.0h2.4v2.4h-2.4zM579.9 273.0h6.6v2.4h-6.6zM590.4 273.0h2.4v2.4h-2.4zM594.6 273.0h4.5v2.4h-4.5zM600.9 273.0h4.5v2.4h-4.5zM607.3 273.0h2.4v2.4h-2.4zM611.5 273.0h10.8v2.4h-10.8zM626.2 273.0h19.3v2.4h-19.3zM649.4 273.0h4.5v2.4h-4.5zM657.8 273.0h4.5v2.4h-4.5zM666.3 273.0h6.6v2.4h-6.6zM74.3 270.9h4.5v2.4h-4.5zM80.6 270.9h4.5v2.4h-4.5zM89.0 270.9h2.4v2.4h-2.4zM99.6 270.9h2.4v2.4h-2.4zM103.8 270.9h2.4v2.4h-2.4zM110.1 270.9h2.4v2.4h-2.4zM114.3 270.9h2.4v2.4h-2.4zM126.9 270.9h2.4v2.4h-2.4zM137.5 270.9h2.4v2.4h-2.4zM145.9 270.9h2.4v2.4h-2.4zM154.3 270.9h8.7v2.4h-8.7zM164.9 270.9h4.5v2.4h-4.5zM171.2 270.9h8.7v2.4h-8.7zM183.8 270.9h17.2v2.4h-17.2zM282.8 270.9h2.4v2.4h-2.4zM301.8 270.9h2.4v2.4h-2.4zM312.3 270.9h4.5v2.4h-4.5zM360.8 270.9h4.5v2.4h-4.5zM430.3 270.9h2.4v2.4h-2.4zM436.6 270.9h2.4v2.4h-2.4zM445.1 270.9h2.4v2.4h-2.4zM531.4 270.9h2.4v2.4h-2.4zM535.6 270.9h2.4v2.4h-2.4zM542.0 270.9h2.4v2.4h-2.4zM554.6 270.9h12.9v2.4h-12.9zM571.5 270.9h2.4v2.4h-2.4zM594.6 270.9h8.7v2.4h-8.7zM657.8 270.9h4.5v2.4h-4.5zM68.0 268.7h2.4v2.4h-2.4zM78.5 268.7h25.6v2.4h-25.6zM108.0 268.7h19.3v2.4h-19.3zM137.5 268.7h4.5v2.4h-4.5zM143.8 268.7h2.4v2.4h-2.4zM152.2 268.7h4.5v2.4h-4.5zM181.7 268.7h2.4v2.4h-2.4zM188.0 268.7h2.4v2.4h-2.4zM194.4 268.7h12.9v2.4h-12.9zM219.6 268.7h6.6v2.4h-6.6zM234.4 268.7h2.4v2.4h-2.4zM266.0 268.7h2.4v2.4h-2.4zM274.4 268.7h2.4v2.4h-2.4zM282.8 268.7h4.5v2.4h-4.5zM301.8 268.7h2.4v2.4h-2.4zM310.2 268.7h2.4v2.4h-2.4zM314.4 268.7h2.4v2.4h-2.4zM327.1 268.7h4.5v2.4h-4.5zM343.9 268.7h10.8v2.4h-10.8zM360.8 268.7h17.2v2.4h-17.2zM398.7 268.7h2.4v2.4h-2.4zM407.1 268.7h4.5v2.4h-4.5zM428.2 268.7h2.4v2.4h-2.4zM447.2 268.7h2.4v2.4h-2.4zM453.5 268.7h4.5v2.4h-4.5zM459.8 268.7h2.4v2.4h-2.4zM464.0 268.7h2.4v2.4h-2.4zM478.8 268.7h2.4v2.4h-2.4zM493.5 268.7h6.6v2.4h-6.6zM516.7 268.7h2.4v2.4h-2.4zM520.9 268.7h6.6v2.4h-6.6zM535.6 268.7h2.4v2.4h-2.4zM542.0 268.7h8.7v2.4h-8.7zM554.6 268.7h2.4v2.4h-2.4zM560.9 268.7h2.4v2.4h-2.4zM567.2 268.7h21.4v2.4h-21.4zM596.7 268.7h4.5v2.4h-4.5zM607.3 268.7h2.4v2.4h-2.4zM626.2 268.7h15.0v2.4h-15.0zM670.5 268.7h4.5v2.4h-4.5zM181.7 266.6h2.4v2.4h-2.4zM185.9 266.6h2.4v2.4h-2.4zM301.8 266.6h2.4v2.4h-2.4zM310.2 266.6h6.6v2.4h-6.6zM346.0 266.6h2.4v2.4h-2.4zM360.8 266.6h4.5v2.4h-4.5zM447.2 266.6h2.4v2.4h-2.4zM459.8 266.6h2.4v2.4h-2.4zM464.0 266.6h2.4v2.4h-2.4zM493.5 266.6h6.6v2.4h-6.6zM529.3 266.6h8.7v2.4h-8.7zM546.2 266.6h2.4v2.4h-2.4zM588.3 266.6h2.4v2.4h-2.4zM632.5 266.6h2.4v2.4h-2.4zM329.2 264.4h2.4v2.4h-2.4zM346.0 264.4h4.5v2.4h-4.5zM352.4 264.4h2.4v2.4h-2.4zM426.1 264.4h2.4v2.4h-2.4zM571.5 264.4h4.5v2.4h-4.5zM68.0 262.3h6.6v2.4h-6.6zM76.4 262.3h2.4v2.4h-2.4zM131.2 262.3h8.7v2.4h-8.7zM169.1 262.3h2.4v2.4h-2.4zM173.3 262.3h4.5v2.4h-4.5zM190.1 262.3h8.7v2.4h-8.7zM223.9 262.3h2.4v2.4h-2.4zM527.2 262.3h2.4v2.4h-2.4zM531.4 262.3h4.5v2.4h-4.5zM550.4 262.3h15.0v2.4h-15.0zM567.2 262.3h2.4v2.4h-2.4zM596.7 262.3h17.2v2.4h-17.2zM624.1 262.3h2.4v2.4h-2.4zM628.3 262.3h6.6v2.4h-6.6zM636.8 262.3h4.5v2.4h-4.5zM647.3 262.3h2.4v2.4h-2.4zM651.5 262.3h2.4v2.4h-2.4zM655.7 262.3h2.4v2.4h-2.4zM670.5 262.3h4.5v2.4h-4.5zM72.2 260.1h4.5v2.4h-4.5zM84.8 260.1h6.6v2.4h-6.6zM93.2 260.1h2.4v2.4h-2.4zM105.9 260.1h4.5v2.4h-4.5zM120.6 260.1h8.7v2.4h-8.7zM135.4 260.1h2.4v2.4h-2.4zM141.7 260.1h2.4v2.4h-2.4zM148.0 260.1h10.8v2.4h-10.8zM164.9 260.1h6.6v2.4h-6.6zM177.5 260.1h8.7v2.4h-8.7zM209.1 260.1h4.5v2.4h-4.5zM223.9 260.1h2.4v2.4h-2.4zM253.3 260.1h4.5v2.4h-4.5zM268.1 260.1h4.5v2.4h-4.5zM274.4 260.1h2.4v2.4h-2.4zM280.7 260.1h6.6v2.4h-6.6zM301.8 260.1h2.4v2.4h-2.4zM310.2 260.1h6.6v2.4h-6.6zM318.7 260.1h2.4v2.4h-2.4zM329.2 260.1h2.4v2.4h-2.4zM346.0 260.1h4.5v2.4h-4.5zM360.8 260.1h4.5v2.4h-4.5zM369.2 260.1h2.4v2.4h-2.4zM398.7 260.1h2.4v2.4h-2.4zM409.2 260.1h2.4v2.4h-2.4zM428.2 260.1h2.4v2.4h-2.4zM447.2 260.1h2.4v2.4h-2.4zM453.5 260.1h2.4v2.4h-2.4zM457.7 260.1h4.5v2.4h-4.5zM493.5 260.1h6.6v2.4h-6.6zM520.9 260.1h2.4v2.4h-2.4zM535.6 260.1h2.4v2.4h-2.4zM548.3 260.1h2.4v2.4h-2.4zM560.9 260.1h4.5v2.4h-4.5zM569.3 260.1h4.5v2.4h-4.5zM579.9 260.1h4.5v2.4h-4.5zM609.4 260.1h4.5v2.4h-4.5zM643.1 260.1h17.2v2.4h-17.2zM672.6 260.1h2.4v2.4h-2.4zM72.2 258.0h6.6v2.4h-6.6zM91.1 258.0h10.8v2.4h-10.8zM103.8 258.0h2.4v2.4h-2.4zM108.0 258.0h10.8v2.4h-10.8zM137.5 258.0h6.6v2.4h-6.6zM145.9 258.0h2.4v2.4h-2.4zM175.4 258.0h4.5v2.4h-4.5zM213.3 258.0h6.6v2.4h-6.6zM223.9 258.0h2.4v2.4h-2.4zM253.3 258.0h4.5v2.4h-4.5zM259.7 258.0h2.4v2.4h-2.4zM280.7 258.0h4.5v2.4h-4.5zM293.4 258.0h2.4v2.4h-2.4zM301.8 258.0h2.4v2.4h-2.4zM310.2 258.0h6.6v2.4h-6.6zM318.7 258.0h2.4v2.4h-2.4zM346.0 258.0h8.7v2.4h-8.7zM358.7 258.0h6.6v2.4h-6.6zM398.7 258.0h2.4v2.4h-2.4zM409.2 258.0h2.4v2.4h-2.4zM428.2 258.0h2.4v2.4h-2.4zM459.8 258.0h2.4v2.4h-2.4zM464.0 258.0h2.4v2.4h-2.4zM493.5 258.0h4.5v2.4h-4.5zM516.7 258.0h2.4v2.4h-2.4zM520.9 258.0h2.4v2.4h-2.4zM544.1 258.0h2.4v2.4h-2.4zM550.4 258.0h2.4v2.4h-2.4zM556.7 258.0h2.4v2.4h-2.4zM560.9 258.0h2.4v2.4h-2.4zM611.5 258.0h2.4v2.4h-2.4zM622.0 258.0h8.7v2.4h-8.7zM641.0 258.0h2.4v2.4h-2.4zM647.3 258.0h8.7v2.4h-8.7zM666.3 258.0h8.7v2.4h-8.7zM84.8 255.9h2.4v2.4h-2.4zM97.5 255.9h2.4v2.4h-2.4zM103.8 255.9h2.4v2.4h-2.4zM108.0 255.9h12.9v2.4h-12.9zM131.2 255.9h10.8v2.4h-10.8zM150.1 255.9h4.5v2.4h-4.5zM156.4 255.9h6.6v2.4h-6.6zM177.5 255.9h12.9v2.4h-12.9zM207.0 255.9h2.4v2.4h-2.4zM217.5 255.9h4.5v2.4h-4.5zM230.2 255.9h4.5v2.4h-4.5zM247.0 255.9h2.4v2.4h-2.4zM255.5 255.9h6.6v2.4h-6.6zM263.9 255.9h15.0v2.4h-15.0zM280.7 255.9h2.4v2.4h-2.4zM284.9 255.9h2.4v2.4h-2.4zM289.2 255.9h2.4v2.4h-2.4zM301.8 255.9h15.0v2.4h-15.0zM329.2 255.9h4.5v2.4h-4.5zM339.7 255.9h15.0v2.4h-15.0zM358.7 255.9h8.7v2.4h-8.7zM388.2 255.9h2.4v2.4h-2.4zM396.6 255.9h4.5v2.4h-4.5zM407.1 255.9h8.7v2.4h-8.7zM421.9 255.9h2.4v2.4h-2.4zM426.1 255.9h4.5v2.4h-4.5zM447.2 255.9h4.5v2.4h-4.5zM459.8 255.9h2.4v2.4h-2.4zM464.0 255.9h2.4v2.4h-2.4zM493.5 255.9h10.8v2.4h-10.8zM520.9 255.9h2.4v2.4h-2.4zM527.2 255.9h6.6v2.4h-6.6zM535.6 255.9h2.4v2.4h-2.4zM550.4 255.9h12.9v2.4h-12.9zM565.1 255.9h12.9v2.4h-12.9zM582.0 255.9h15.0v2.4h-15.0zM598.8 255.9h8.7v2.4h-8.7zM609.4 255.9h10.8v2.4h-10.8zM624.1 255.9h6.6v2.4h-6.6zM643.1 255.9h15.0v2.4h-15.0zM659.9 255.9h15.0v2.4h-15.0zM82.7 253.7h2.4v2.4h-2.4zM196.5 253.7h10.8v2.4h-10.8zM223.9 253.7h2.4v2.4h-2.4zM253.3 253.7h4.5v2.4h-4.5zM280.7 253.7h6.6v2.4h-6.6zM310.2 253.7h6.6v2.4h-6.6zM329.2 253.7h2.4v2.4h-2.4zM346.0 253.7h4.5v2.4h-4.5zM352.4 253.7h2.4v2.4h-2.4zM362.9 253.7h2.4v2.4h-2.4zM379.7 253.7h2.4v2.4h-2.4zM409.2 253.7h2.4v2.4h-2.4zM428.2 253.7h2.4v2.4h-2.4zM459.8 253.7h2.4v2.4h-2.4zM493.5 253.7h2.4v2.4h-2.4zM497.7 253.7h2.4v2.4h-2.4zM531.4 253.7h2.4v2.4h-2.4zM592.5 253.7h2.4v2.4h-2.4zM628.3 253.7h2.4v2.4h-2.4zM636.8 253.7h2.4v2.4h-2.4zM643.1 253.7h2.4v2.4h-2.4zM647.3 253.7h4.5v2.4h-4.5zM215.4 251.6h4.5v2.4h-4.5zM253.3 251.6h4.5v2.4h-4.5zM259.7 251.6h2.4v2.4h-2.4zM274.4 251.6h2.4v2.4h-2.4zM280.7 251.6h6.6v2.4h-6.6zM301.8 251.6h2.4v2.4h-2.4zM312.3 251.6h2.4v2.4h-2.4zM329.2 251.6h2.4v2.4h-2.4zM346.0 251.6h4.5v2.4h-4.5zM352.4 251.6h2.4v2.4h-2.4zM358.7 251.6h6.6v2.4h-6.6zM398.7 251.6h2.4v2.4h-2.4zM409.2 251.6h2.4v2.4h-2.4zM428.2 251.6h2.4v2.4h-2.4zM459.8 251.6h2.4v2.4h-2.4zM464.0 251.6h2.4v2.4h-2.4zM493.5 251.6h6.6v2.4h-6.6zM501.9 251.6h2.4v2.4h-2.4zM596.7 251.6h2.4v2.4h-2.4zM609.4 251.6h10.8v2.4h-10.8zM253.3 249.4h4.5v2.4h-4.5zM301.8 249.4h2.4v2.4h-2.4zM329.2 249.4h2.4v2.4h-2.4zM346.0 249.4h6.6v2.4h-6.6zM428.2 249.4h2.4v2.4h-2.4zM497.7 249.4h2.4v2.4h-2.4zM636.8 249.4h2.4v2.4h-2.4zM167.0 247.3h4.5v2.4h-4.5zM192.3 247.3h4.5v2.4h-4.5zM198.6 247.3h2.4v2.4h-2.4zM209.1 247.3h2.4v2.4h-2.4zM223.9 247.3h2.4v2.4h-2.4zM234.4 247.3h2.4v2.4h-2.4zM238.6 247.3h4.5v2.4h-4.5zM255.5 247.3h8.7v2.4h-8.7zM282.8 247.3h4.5v2.4h-4.5zM301.8 247.3h2.4v2.4h-2.4zM310.2 247.3h6.6v2.4h-6.6zM329.2 247.3h2.4v2.4h-2.4zM346.0 247.3h8.7v2.4h-8.7zM358.7 247.3h8.7v2.4h-8.7zM377.6 247.3h2.4v2.4h-2.4zM398.7 247.3h2.4v2.4h-2.4zM409.2 247.3h2.4v2.4h-2.4zM447.2 247.3h2.4v2.4h-2.4zM459.8 247.3h2.4v2.4h-2.4zM464.0 247.3h2.4v2.4h-2.4zM493.5 247.3h6.6v2.4h-6.6zM516.7 247.3h2.4v2.4h-2.4zM529.3 247.3h4.5v2.4h-4.5zM556.7 247.3h2.4v2.4h-2.4zM571.5 247.3h2.4v2.4h-2.4zM624.1 247.3h2.4v2.4h-2.4zM659.9 247.3h2.4v2.4h-2.4zM68.0 245.1h2.4v2.4h-2.4zM72.2 245.1h6.6v2.4h-6.6zM82.7 245.1h2.4v2.4h-2.4zM86.9 245.1h2.4v2.4h-2.4zM91.1 245.1h2.4v2.4h-2.4zM101.7 245.1h2.4v2.4h-2.4zM108.0 245.1h29.8v2.4h-29.8zM139.6 245.1h10.8v2.4h-10.8zM152.2 245.1h2.4v2.4h-2.4zM158.5 245.1h21.4v2.4h-21.4zM181.7 245.1h2.4v2.4h-2.4zM185.9 245.1h27.7v2.4h-27.7zM215.4 245.1h6.6v2.4h-6.6zM223.9 245.1h2.4v2.4h-2.4zM234.4 245.1h2.4v2.4h-2.4zM240.7 245.1h17.2v2.4h-17.2zM259.7 245.1h2.4v2.4h-2.4zM268.1 245.1h8.7v2.4h-8.7zM280.7 245.1h4.5v2.4h-4.5zM293.4 245.1h2.4v2.4h-2.4zM299.7 245.1h2.4v2.4h-2.4zM310.2 245.1h2.4v2.4h-2.4zM314.4 245.1h2.4v2.4h-2.4zM335.5 245.1h2.4v2.4h-2.4zM346.0 245.1h6.6v2.4h-6.6zM354.5 245.1h10.8v2.4h-10.8zM371.3 245.1h2.4v2.4h-2.4zM392.4 245.1h8.7v2.4h-8.7zM405.0 245.1h6.6v2.4h-6.6zM421.9 245.1h2.4v2.4h-2.4zM428.2 245.1h4.5v2.4h-4.5zM436.6 245.1h15.0v2.4h-15.0zM453.5 245.1h12.9v2.4h-12.9zM474.5 245.1h4.5v2.4h-4.5zM480.9 245.1h2.4v2.4h-2.4zM485.1 245.1h8.7v2.4h-8.7zM495.6 245.1h2.4v2.4h-2.4zM499.8 245.1h6.6v2.4h-6.6zM510.4 245.1h2.4v2.4h-2.4zM516.7 245.1h6.6v2.4h-6.6zM525.1 245.1h10.8v2.4h-10.8zM537.7 245.1h2.4v2.4h-2.4zM542.0 245.1h2.4v2.4h-2.4zM552.5 245.1h6.6v2.4h-6.6zM560.9 245.1h4.5v2.4h-4.5zM567.2 245.1h6.6v2.4h-6.6zM575.7 245.1h2.4v2.4h-2.4zM582.0 245.1h2.4v2.4h-2.4zM588.3 245.1h34.0v2.4h-34.0zM632.5 245.1h15.0v2.4h-15.0zM662.0 245.1h4.5v2.4h-4.5zM78.5 243.0h4.5v2.4h-4.5zM97.5 243.0h2.4v2.4h-2.4zM150.1 243.0h4.5v2.4h-4.5zM175.4 243.0h2.4v2.4h-2.4zM183.8 243.0h2.4v2.4h-2.4zM207.0 243.0h2.4v2.4h-2.4zM223.9 243.0h2.4v2.4h-2.4zM236.5 243.0h2.4v2.4h-2.4zM247.0 243.0h4.5v2.4h-4.5zM253.3 243.0h2.4v2.4h-2.4zM274.4 243.0h2.4v2.4h-2.4zM280.7 243.0h6.6v2.4h-6.6zM301.8 243.0h2.4v2.4h-2.4zM310.2 243.0h4.5v2.4h-4.5zM329.2 243.0h2.4v2.4h-2.4zM346.0 243.0h4.5v2.4h-4.5zM352.4 243.0h2.4v2.4h-2.4zM358.7 243.0h2.4v2.4h-2.4zM362.9 243.0h2.4v2.4h-2.4zM394.5 243.0h2.4v2.4h-2.4zM398.7 243.0h2.4v2.4h-2.4zM409.2 243.0h2.4v2.4h-2.4zM428.2 243.0h2.4v2.4h-2.4zM447.2 243.0h2.4v2.4h-2.4zM459.8 243.0h2.4v2.4h-2.4zM464.0 243.0h2.4v2.4h-2.4zM493.5 243.0h6.6v2.4h-6.6zM510.4 243.0h2.4v2.4h-2.4zM520.9 243.0h2.4v2.4h-2.4zM529.3 243.0h6.6v2.4h-6.6zM586.2 243.0h2.4v2.4h-2.4zM603.1 243.0h4.5v2.4h-4.5zM626.2 243.0h4.5v2.4h-4.5zM643.1 243.0h2.4v2.4h-2.4zM118.5 240.9h2.4v2.4h-2.4zM152.2 240.9h2.4v2.4h-2.4zM181.7 240.9h4.5v2.4h-4.5zM190.1 240.9h2.4v2.4h-2.4zM223.9 240.9h2.4v2.4h-2.4zM253.3 240.9h4.5v2.4h-4.5zM259.7 240.9h2.4v2.4h-2.4zM274.4 240.9h2.4v2.4h-2.4zM280.7 240.9h6.6v2.4h-6.6zM301.8 240.9h2.4v2.4h-2.4zM306.0 240.9h6.6v2.4h-6.6zM329.2 240.9h2.4v2.4h-2.4zM352.4 240.9h2.4v2.4h-2.4zM409.2 240.9h2.4v2.4h-2.4zM428.2 240.9h2.4v2.4h-2.4zM447.2 240.9h2.4v2.4h-2.4zM459.8 240.9h2.4v2.4h-2.4zM464.0 240.9h2.4v2.4h-2.4zM470.3 240.9h2.4v2.4h-2.4zM493.5 240.9h6.6v2.4h-6.6zM516.7 240.9h2.4v2.4h-2.4zM520.9 240.9h2.4v2.4h-2.4zM609.4 240.9h4.5v2.4h-4.5zM615.7 240.9h2.4v2.4h-2.4zM636.8 240.9h4.5v2.4h-4.5zM664.1 240.9h2.4v2.4h-2.4zM68.0 238.7h2.4v2.4h-2.4zM74.3 238.7h2.4v2.4h-2.4zM78.5 238.7h8.7v2.4h-8.7zM89.0 238.7h2.4v2.4h-2.4zM95.3 238.7h15.0v2.4h-15.0zM112.2 238.7h2.4v2.4h-2.4zM118.5 238.7h4.5v2.4h-4.5zM129.1 238.7h2.4v2.4h-2.4zM137.5 238.7h12.9v2.4h-12.9zM152.2 238.7h2.4v2.4h-2.4zM160.7 238.7h2.4v2.4h-2.4zM164.9 238.7h10.8v2.4h-10.8zM177.5 238.7h8.7v2.4h-8.7zM194.4 238.7h2.4v2.4h-2.4zM202.8 238.7h2.4v2.4h-2.4zM213.3 238.7h8.7v2.4h-8.7zM230.2 238.7h21.4v2.4h-21.4zM253.3 238.7h27.7v2.4h-27.7zM284.9 238.7h17.2v2.4h-17.2zM303.9 238.7h6.6v2.4h-6.6zM316.5 238.7h2.4v2.4h-2.4zM320.8 238.7h2.4v2.4h-2.4zM325.0 238.7h2.4v2.4h-2.4zM331.3 238.7h6.6v2.4h-6.6zM339.7 238.7h10.8v2.4h-10.8zM354.5 238.7h4.5v2.4h-4.5zM365.0 238.7h2.4v2.4h-2.4zM369.2 238.7h2.4v2.4h-2.4zM373.4 238.7h6.6v2.4h-6.6zM381.9 238.7h17.2v2.4h-17.2zM400.8 238.7h8.7v2.4h-8.7zM411.3 238.7h44.5v2.4h-44.5zM68.0 236.6h4.5v2.4h-4.5zM84.8 236.6h15.0v2.4h-15.0zM101.7 236.6h2.4v2.4h-2.4zM105.9 236.6h6.6v2.4h-6.6zM118.5 236.6h2.4v2.4h-2.4zM126.9 236.6h2.4v2.4h-2.4zM131.2 236.6h15.0v2.4h-15.0zM219.6 236.6h4.5v2.4h-4.5zM230.2 236.6h21.4v2.4h-21.4zM253.3 236.6h6.6v2.4h-6.6zM261.8 236.6h55.1v2.4h-55.1zM322.9 236.6h4.5v2.4h-4.5zM329.2 236.6h6.6v2.4h-6.6zM350.3 236.6h4.5v2.4h-4.5zM362.9 236.6h4.5v2.4h-4.5zM379.7 236.6h10.8v2.4h-10.8zM394.5 236.6h2.4v2.4h-2.4zM398.7 236.6h10.8v2.4h-10.8zM411.3 236.6h17.2v2.4h-17.2zM430.3 236.6h10.8v2.4h-10.8zM445.1 236.6h2.4v2.4h-2.4zM449.3 236.6h10.8v2.4h-10.8zM461.9 236.6h2.4v2.4h-2.4zM466.1 236.6h2.4v2.4h-2.4zM474.5 236.6h2.4v2.4h-2.4zM478.8 236.6h15.0v2.4h-15.0zM499.8 236.6h8.7v2.4h-8.7zM510.4 236.6h2.4v2.4h-2.4zM516.7 236.6h2.4v2.4h-2.4zM520.9 236.6h2.4v2.4h-2.4zM525.1 236.6h8.7v2.4h-8.7zM535.6 236.6h12.9v2.4h-12.9zM552.5 236.6h12.9v2.4h-12.9zM567.2 236.6h31.9v2.4h-31.9zM603.1 236.6h8.7v2.4h-8.7zM613.6 236.6h4.5v2.4h-4.5zM619.9 236.6h4.5v2.4h-4.5zM628.3 236.6h21.4v2.4h-21.4zM653.6 236.6h6.6v2.4h-6.6zM670.5 236.6h4.5v2.4h-4.5zM76.4 234.4h17.2v2.4h-17.2zM99.6 234.4h8.7v2.4h-8.7zM110.1 234.4h2.4v2.4h-2.4zM114.3 234.4h6.6v2.4h-6.6zM131.2 234.4h19.3v2.4h-19.3zM152.2 234.4h2.4v2.4h-2.4zM167.0 234.4h2.4v2.4h-2.4zM171.2 234.4h6.6v2.4h-6.6zM183.8 234.4h4.5v2.4h-4.5zM190.1 234.4h6.6v2.4h-6.6zM207.0 234.4h2.4v2.4h-2.4zM217.5 234.4h21.4v2.4h-21.4zM244.9 234.4h25.6v2.4h-25.6zM272.3 234.4h15.0v2.4h-15.0zM289.2 234.4h2.4v2.4h-2.4zM293.4 234.4h8.7v2.4h-8.7zM303.9 234.4h6.6v2.4h-6.6zM312.3 234.4h4.5v2.4h-4.5zM320.8 234.4h25.6v2.4h-25.6zM348.1 234.4h4.5v2.4h-4.5zM354.5 234.4h4.5v2.4h-4.5zM360.8 234.4h21.4v2.4h-21.4zM386.1 234.4h6.6v2.4h-6.6zM394.5 234.4h27.7v2.4h-27.7zM424.0 234.4h4.5v2.4h-4.5zM430.3 234.4h6.6v2.4h-6.6zM438.7 234.4h12.9v2.4h-12.9zM455.6 234.4h4.5v2.4h-4.5zM461.9 234.4h2.4v2.4h-2.4zM466.1 234.4h8.7v2.4h-8.7zM483.0 234.4h6.6v2.4h-6.6zM493.5 234.4h2.4v2.4h-2.4zM497.7 234.4h27.7v2.4h-27.7zM527.2 234.4h15.0v2.4h-15.0zM544.1 234.4h23.5v2.4h-23.5zM575.7 234.4h6.6v2.4h-6.6zM584.1 234.4h10.8v2.4h-10.8zM598.8 234.4h12.9v2.4h-12.9zM613.6 234.4h2.4v2.4h-2.4zM617.8 234.4h10.8v2.4h-10.8zM630.4 234.4h44.5v2.4h-44.5zM68.0 232.3h2.4v2.4h-2.4zM95.3 232.3h2.4v2.4h-2.4zM139.6 232.3h2.4v2.4h-2.4zM219.6 232.3h4.5v2.4h-4.5zM226.0 232.3h15.0v2.4h-15.0zM242.8 232.3h10.8v2.4h-10.8zM255.5 232.3h25.6v2.4h-25.6zM287.1 232.3h12.9v2.4h-12.9zM303.9 232.3h6.6v2.4h-6.6zM316.5 232.3h10.8v2.4h-10.8zM329.2 232.3h2.4v2.4h-2.4zM335.5 232.3h2.4v2.4h-2.4zM341.8 232.3h10.8v2.4h-10.8zM354.5 232.3h21.4v2.4h-21.4zM377.6 232.3h29.8v2.4h-29.8zM413.5 232.3h29.8v2.4h-29.8zM445.1 232.3h2.4v2.4h-2.4zM449.3 232.3h10.8v2.4h-10.8zM466.1 232.3h6.6v2.4h-6.6zM474.5 232.3h17.2v2.4h-17.2zM493.5 232.3h4.5v2.4h-4.5zM499.8 232.3h6.6v2.4h-6.6zM508.3 232.3h48.8v2.4h-48.8zM558.8 232.3h2.4v2.4h-2.4zM563.0 232.3h34.0v2.4h-34.0zM598.8 232.3h19.3v2.4h-19.3zM619.9 232.3h2.4v2.4h-2.4zM624.1 232.3h42.4v2.4h-42.4zM668.4 232.3h6.6v2.4h-6.6zM68.0 230.1h2.4v2.4h-2.4zM78.5 230.1h10.8v2.4h-10.8zM126.9 230.1h6.6v2.4h-6.6zM139.6 230.1h4.5v2.4h-4.5zM164.9 230.1h6.6v2.4h-6.6zM188.0 230.1h4.5v2.4h-4.5zM196.5 230.1h2.4v2.4h-2.4zM204.9 230.1h2.4v2.4h-2.4zM211.2 230.1h6.6v2.4h-6.6zM609.4 230.1h2.4v2.4h-2.4zM613.6 230.1h2.4v2.4h-2.4zM617.8 230.1h2.4v2.4h-2.4zM624.1 230.1h4.5v2.4h-4.5zM636.8 230.1h6.6v2.4h-6.6zM645.2 230.1h10.8v2.4h-10.8zM659.9 230.1h2.4v2.4h-2.4zM668.4 230.1h2.4v2.4h-2.4zM82.7 228.0h2.4v2.4h-2.4zM95.3 228.0h4.5v2.4h-4.5zM101.7 228.0h4.5v2.4h-4.5zM114.3 228.0h2.4v2.4h-2.4zM196.5 228.0h4.5v2.4h-4.5zM202.8 228.0h2.4v2.4h-2.4zM215.4 228.0h2.4v2.4h-2.4zM219.6 228.0h4.5v2.4h-4.5zM244.9 228.0h2.4v2.4h-2.4zM253.3 228.0h4.5v2.4h-4.5zM259.7 228.0h6.6v2.4h-6.6zM274.4 228.0h4.5v2.4h-4.5zM280.7 228.0h6.6v2.4h-6.6zM301.8 228.0h2.4v2.4h-2.4zM306.0 228.0h10.8v2.4h-10.8zM320.8 228.0h10.8v2.4h-10.8zM343.9 228.0h2.4v2.4h-2.4zM348.1 228.0h2.4v2.4h-2.4zM352.4 228.0h2.4v2.4h-2.4zM356.6 228.0h8.7v2.4h-8.7zM367.1 228.0h19.3v2.4h-19.3zM388.2 228.0h2.4v2.4h-2.4zM409.2 228.0h2.4v2.4h-2.4zM415.6 228.0h2.4v2.4h-2.4zM432.4 228.0h12.9v2.4h-12.9zM447.2 228.0h6.6v2.4h-6.6zM459.8 228.0h2.4v2.4h-2.4zM464.0 228.0h15.0v2.4h-15.0zM495.6 228.0h2.4v2.4h-2.4zM506.1 228.0h2.4v2.4h-2.4zM516.7 228.0h2.4v2.4h-2.4zM531.4 228.0h4.5v2.4h-4.5zM548.3 228.0h2.4v2.4h-2.4zM588.3 228.0h2.4v2.4h-2.4zM611.5 228.0h2.4v2.4h-2.4zM636.8 228.0h2.4v2.4h-2.4zM641.0 228.0h2.4v2.4h-2.4zM651.5 228.0h2.4v2.4h-2.4zM657.8 228.0h2.4v2.4h-2.4zM74.3 225.9h2.4v2.4h-2.4zM82.7 225.9h2.4v2.4h-2.4zM93.2 225.9h2.4v2.4h-2.4zM99.6 225.9h8.7v2.4h-8.7zM112.2 225.9h2.4v2.4h-2.4zM135.4 225.9h4.5v2.4h-4.5zM141.7 225.9h10.8v2.4h-10.8zM154.3 225.9h2.4v2.4h-2.4zM164.9 225.9h2.4v2.4h-2.4zM200.7 225.9h6.6v2.4h-6.6zM209.1 225.9h4.5v2.4h-4.5zM219.6 225.9h10.8v2.4h-10.8zM232.3 225.9h2.4v2.4h-2.4zM238.6 225.9h2.4v2.4h-2.4zM242.8 225.9h6.6v2.4h-6.6zM251.2 225.9h4.5v2.4h-4.5zM257.6 225.9h17.2v2.4h-17.2zM276.5 225.9h15.0v2.4h-15.0zM293.4 225.9h8.7v2.4h-8.7zM316.5 225.9h17.2v2.4h-17.2zM335.5 225.9h23.5v2.4h-23.5zM360.8 225.9h6.6v2.4h-6.6zM373.4 225.9h6.6v2.4h-6.6zM384.0 225.9h4.5v2.4h-4.5zM390.3 225.9h12.9v2.4h-12.9zM411.3 225.9h48.8v2.4h-48.8zM461.9 225.9h2.4v2.4h-2.4zM466.1 225.9h8.7v2.4h-8.7zM478.8 225.9h4.5v2.4h-4.5zM485.1 225.9h10.8v2.4h-10.8zM499.8 225.9h8.7v2.4h-8.7zM516.7 225.9h8.7v2.4h-8.7zM527.2 225.9h10.8v2.4h-10.8zM539.9 225.9h8.7v2.4h-8.7zM550.4 225.9h2.4v2.4h-2.4zM554.6 225.9h12.9v2.4h-12.9zM579.9 225.9h21.4v2.4h-21.4zM611.5 225.9h2.4v2.4h-2.4zM617.8 225.9h4.5v2.4h-4.5zM624.1 225.9h12.9v2.4h-12.9zM638.9 225.9h4.5v2.4h-4.5zM645.2 225.9h2.4v2.4h-2.4zM659.9 225.9h2.4v2.4h-2.4zM666.3 225.9h2.4v2.4h-2.4zM194.4 223.7h2.4v2.4h-2.4zM215.4 223.7h4.5v2.4h-4.5zM223.9 223.7h2.4v2.4h-2.4zM272.3 223.7h4.5v2.4h-4.5zM312.3 223.7h4.5v2.4h-4.5zM318.7 223.7h2.4v2.4h-2.4zM362.9 223.7h2.4v2.4h-2.4zM369.2 223.7h2.4v2.4h-2.4zM384.0 223.7h2.4v2.4h-2.4zM459.8 223.7h2.4v2.4h-2.4zM480.9 223.7h6.6v2.4h-6.6zM491.4 223.7h2.4v2.4h-2.4zM74.3 221.6h6.6v2.4h-6.6zM82.7 221.6h2.4v2.4h-2.4zM95.3 221.6h10.8v2.4h-10.8zM112.2 221.6h4.5v2.4h-4.5zM118.5 221.6h10.8v2.4h-10.8zM131.2 221.6h2.4v2.4h-2.4zM135.4 221.6h4.5v2.4h-4.5zM141.7 221.6h10.8v2.4h-10.8zM156.4 221.6h2.4v2.4h-2.4zM162.8 221.6h8.7v2.4h-8.7zM173.3 221.6h4.5v2.4h-4.5zM183.8 221.6h17.2v2.4h-17.2zM204.9 221.6h6.6v2.4h-6.6zM213.3 221.6h2.4v2.4h-2.4zM219.6 221.6h12.9v2.4h-12.9zM234.4 221.6h2.4v2.4h-2.4zM238.6 221.6h10.8v2.4h-10.8zM251.2 221.6h2.4v2.4h-2.4zM255.5 221.6h10.8v2.4h-10.8zM268.1 221.6h10.8v2.4h-10.8zM280.7 221.6h31.9v2.4h-31.9zM316.5 221.6h12.9v2.4h-12.9zM331.3 221.6h4.5v2.4h-4.5zM337.6 221.6h8.7v2.4h-8.7zM354.5 221.6h8.7v2.4h-8.7zM365.0 221.6h4.5v2.4h-4.5zM379.7 221.6h23.5v2.4h-23.5zM405.0 221.6h10.8v2.4h-10.8zM417.7 221.6h15.0v2.4h-15.0zM438.7 221.6h8.7v2.4h-8.7zM449.3 221.6h2.4v2.4h-2.4zM459.8 221.6h4.5v2.4h-4.5zM466.1 221.6h2.4v2.4h-2.4zM491.4 221.6h4.5v2.4h-4.5zM499.8 221.6h17.2v2.4h-17.2zM518.8 221.6h12.9v2.4h-12.9zM533.5 221.6h6.6v2.4h-6.6zM542.0 221.6h8.7v2.4h-8.7zM558.8 221.6h19.3v2.4h-19.3zM579.9 221.6h4.5v2.4h-4.5zM586.2 221.6h2.4v2.4h-2.4zM592.5 221.6h2.4v2.4h-2.4zM596.7 221.6h8.7v2.4h-8.7zM607.3 221.6h2.4v2.4h-2.4zM611.5 221.6h4.5v2.4h-4.5zM619.9 221.6h55.1v2.4h-55.1zM223.9 219.4h2.4v2.4h-2.4zM253.3 219.4h2.4v2.4h-2.4zM282.8 219.4h2.4v2.4h-2.4zM289.2 219.4h2.4v2.4h-2.4zM293.4 219.4h2.4v2.4h-2.4zM297.6 219.4h4.5v2.4h-4.5zM310.2 219.4h6.6v2.4h-6.6zM329.2 219.4h4.5v2.4h-4.5zM350.3 219.4h2.4v2.4h-2.4zM398.7 219.4h2.4v2.4h-2.4zM409.2 219.4h2.4v2.4h-2.4zM426.1 219.4h4.5v2.4h-4.5zM438.7 219.4h6.6v2.4h-6.6zM447.2 219.4h2.4v2.4h-2.4zM453.5 219.4h8.7v2.4h-8.7zM464.0 219.4h10.8v2.4h-10.8zM478.8 219.4h6.6v2.4h-6.6zM487.2 219.4h2.4v2.4h-2.4zM493.5 219.4h10.8v2.4h-10.8zM506.1 219.4h8.7v2.4h-8.7zM516.7 219.4h4.5v2.4h-4.5zM525.1 219.4h2.4v2.4h-2.4zM565.1 219.4h2.4v2.4h-2.4zM619.9 219.4h4.5v2.4h-4.5zM628.3 219.4h2.4v2.4h-2.4zM70.1 217.3h21.4v2.4h-21.4zM103.8 217.3h4.5v2.4h-4.5zM110.1 217.3h6.6v2.4h-6.6zM141.7 217.3h2.4v2.4h-2.4zM148.0 217.3h2.4v2.4h-2.4zM169.1 217.3h4.5v2.4h-4.5zM202.8 217.3h8.7v2.4h-8.7zM215.4 217.3h2.4v2.4h-2.4zM501.9 217.3h2.4v2.4h-2.4zM508.3 217.3h17.2v2.4h-17.2zM529.3 217.3h4.5v2.4h-4.5zM552.5 217.3h2.4v2.4h-2.4zM558.8 217.3h6.6v2.4h-6.6zM567.2 217.3h2.4v2.4h-2.4zM571.5 217.3h2.4v2.4h-2.4zM575.7 217.3h2.4v2.4h-2.4zM579.9 217.3h6.6v2.4h-6.6zM590.4 217.3h4.5v2.4h-4.5zM596.7 217.3h25.6v2.4h-25.6zM624.1 217.3h8.7v2.4h-8.7zM636.8 217.3h2.4v2.4h-2.4zM641.0 217.3h10.8v2.4h-10.8zM655.7 217.3h2.4v2.4h-2.4zM670.5 217.3h2.4v2.4h-2.4zM72.2 215.1h4.5v2.4h-4.5zM80.6 215.1h19.3v2.4h-19.3zM105.9 215.1h4.5v2.4h-4.5zM124.8 215.1h2.4v2.4h-2.4zM135.4 215.1h2.4v2.4h-2.4zM139.6 215.1h6.6v2.4h-6.6zM164.9 215.1h8.7v2.4h-8.7zM190.1 215.1h6.6v2.4h-6.6zM198.6 215.1h17.2v2.4h-17.2zM295.5 215.1h19.3v2.4h-19.3zM316.5 215.1h10.8v2.4h-10.8zM331.3 215.1h4.5v2.4h-4.5zM341.8 215.1h4.5v2.4h-4.5zM350.3 215.1h2.4v2.4h-2.4zM354.5 215.1h2.4v2.4h-2.4zM365.0 215.1h31.9v2.4h-31.9zM398.7 215.1h2.4v2.4h-2.4zM402.9 215.1h2.4v2.4h-2.4zM407.1 215.1h2.4v2.4h-2.4zM413.5 215.1h8.7v2.4h-8.7zM424.0 215.1h10.8v2.4h-10.8zM436.6 215.1h6.6v2.4h-6.6zM447.2 215.1h2.4v2.4h-2.4zM455.6 215.1h4.5v2.4h-4.5zM468.2 215.1h6.6v2.4h-6.6zM476.7 215.1h4.5v2.4h-4.5zM487.2 215.1h2.4v2.4h-2.4zM508.3 215.1h2.4v2.4h-2.4zM512.5 215.1h4.5v2.4h-4.5zM520.9 215.1h86.7v2.4h-86.7zM617.8 215.1h19.3v2.4h-19.3zM638.9 215.1h2.4v2.4h-2.4zM643.1 215.1h10.8v2.4h-10.8zM655.7 215.1h12.9v2.4h-12.9zM670.5 215.1h2.4v2.4h-2.4zM78.5 213.0h2.4v2.4h-2.4zM93.2 213.0h2.4v2.4h-2.4zM103.8 213.0h6.6v2.4h-6.6zM150.1 213.0h2.4v2.4h-2.4zM154.3 213.0h2.4v2.4h-2.4zM173.3 213.0h6.6v2.4h-6.6zM185.9 213.0h2.4v2.4h-2.4zM215.4 213.0h2.4v2.4h-2.4zM236.5 213.0h8.7v2.4h-8.7zM253.3 213.0h4.5v2.4h-4.5zM259.7 213.0h6.6v2.4h-6.6zM268.1 213.0h2.4v2.4h-2.4zM274.4 213.0h2.4v2.4h-2.4zM278.6 213.0h17.2v2.4h-17.2zM297.6 213.0h2.4v2.4h-2.4zM301.8 213.0h2.4v2.4h-2.4zM310.2 213.0h8.7v2.4h-8.7zM322.9 213.0h12.9v2.4h-12.9zM337.6 213.0h2.4v2.4h-2.4zM346.0 213.0h6.6v2.4h-6.6zM354.5 213.0h2.4v2.4h-2.4zM362.9 213.0h6.6v2.4h-6.6zM386.1 213.0h2.4v2.4h-2.4zM392.4 213.0h10.8v2.4h-10.8zM409.2 213.0h15.0v2.4h-15.0zM426.1 213.0h8.7v2.4h-8.7zM436.6 213.0h8.7v2.4h-8.7zM449.3 213.0h2.4v2.4h-2.4zM455.6 213.0h2.4v2.4h-2.4zM459.8 213.0h19.3v2.4h-19.3zM480.9 213.0h12.9v2.4h-12.9zM495.6 213.0h4.5v2.4h-4.5zM501.9 213.0h2.4v2.4h-2.4zM506.1 213.0h2.4v2.4h-2.4zM510.4 213.0h2.4v2.4h-2.4zM514.6 213.0h4.5v2.4h-4.5zM70.1 210.9h2.4v2.4h-2.4zM74.3 210.9h2.4v2.4h-2.4zM78.5 210.9h2.4v2.4h-2.4zM86.9 210.9h4.5v2.4h-4.5zM103.8 210.9h2.4v2.4h-2.4zM122.7 210.9h10.8v2.4h-10.8zM135.4 210.9h6.6v2.4h-6.6zM143.8 210.9h8.7v2.4h-8.7zM154.3 210.9h17.2v2.4h-17.2zM188.0 210.9h2.4v2.4h-2.4zM192.3 210.9h2.4v2.4h-2.4zM196.5 210.9h2.4v2.4h-2.4zM200.7 210.9h23.5v2.4h-23.5zM226.0 210.9h4.5v2.4h-4.5zM232.3 210.9h2.4v2.4h-2.4zM236.5 210.9h19.3v2.4h-19.3zM259.7 210.9h4.5v2.4h-4.5zM266.0 210.9h12.9v2.4h-12.9zM280.7 210.9h2.4v2.4h-2.4zM284.9 210.9h4.5v2.4h-4.5zM291.3 210.9h2.4v2.4h-2.4zM299.7 210.9h10.8v2.4h-10.8zM312.3 210.9h4.5v2.4h-4.5zM320.8 210.9h10.8v2.4h-10.8zM335.5 210.9h19.3v2.4h-19.3zM358.7 210.9h8.7v2.4h-8.7zM373.4 210.9h12.9v2.4h-12.9zM396.6 210.9h6.6v2.4h-6.6zM405.0 210.9h12.9v2.4h-12.9zM419.8 210.9h17.2v2.4h-17.2zM440.8 210.9h6.6v2.4h-6.6zM449.3 210.9h2.4v2.4h-2.4zM124.8 208.7h2.4v2.4h-2.4zM280.7 208.7h6.6v2.4h-6.6zM327.1 208.7h2.4v2.4h-2.4zM348.1 208.7h2.4v2.4h-2.4zM352.4 208.7h2.4v2.4h-2.4zM402.9 208.7h4.5v2.4h-4.5zM409.2 208.7h2.4v2.4h-2.4zM74.3 206.6h2.4v2.4h-2.4zM86.9 206.6h2.4v2.4h-2.4zM103.8 206.6h6.6v2.4h-6.6zM112.2 206.6h2.4v2.4h-2.4zM164.9 206.6h4.5v2.4h-4.5zM183.8 206.6h2.4v2.4h-2.4zM527.2 206.6h15.0v2.4h-15.0zM546.2 206.6h8.7v2.4h-8.7zM556.7 206.6h10.8v2.4h-10.8zM575.7 206.6h4.5v2.4h-4.5zM582.0 206.6h12.9v2.4h-12.9zM596.7 206.6h12.9v2.4h-12.9zM613.6 206.6h12.9v2.4h-12.9zM628.3 206.6h4.5v2.4h-4.5zM653.6 206.6h4.5v2.4h-4.5zM662.0 206.6h8.7v2.4h-8.7zM68.0 204.4h42.4v2.4h-42.4zM112.2 204.4h6.6v2.4h-6.6zM120.6 204.4h34.0v2.4h-34.0zM156.4 204.4h2.4v2.4h-2.4zM160.7 204.4h6.6v2.4h-6.6zM169.1 204.4h2.4v2.4h-2.4zM173.3 204.4h8.7v2.4h-8.7zM185.9 204.4h2.4v2.4h-2.4zM192.3 204.4h8.7v2.4h-8.7zM202.8 204.4h17.2v2.4h-17.2zM221.7 204.4h2.4v2.4h-2.4zM226.0 204.4h25.6v2.4h-25.6zM255.5 204.4h4.5v2.4h-4.5zM261.8 204.4h2.4v2.4h-2.4zM268.1 204.4h4.5v2.4h-4.5zM276.5 204.4h15.0v2.4h-15.0zM293.4 204.4h8.7v2.4h-8.7zM306.0 204.4h19.3v2.4h-19.3zM327.1 204.4h15.0v2.4h-15.0zM343.9 204.4h2.4v2.4h-2.4zM354.5 204.4h21.4v2.4h-21.4zM379.7 204.4h34.0v2.4h-34.0zM419.8 204.4h19.3v2.4h-19.3zM440.8 204.4h6.6v2.4h-6.6zM449.3 204.4h10.8v2.4h-10.8zM461.9 204.4h8.7v2.4h-8.7zM472.4 204.4h6.6v2.4h-6.6zM480.9 204.4h6.6v2.4h-6.6zM489.3 204.4h4.5v2.4h-4.5zM499.8 204.4h17.2v2.4h-17.2zM518.8 204.4h8.7v2.4h-8.7zM529.3 204.4h6.6v2.4h-6.6zM537.7 204.4h31.9v2.4h-31.9zM571.5 204.4h25.6v2.4h-25.6zM598.8 204.4h48.8v2.4h-48.8zM651.5 204.4h2.4v2.4h-2.4zM655.7 204.4h17.2v2.4h-17.2zM253.3 202.3h4.5v2.4h-4.5zM301.8 202.3h2.4v2.4h-2.4zM308.1 202.3h6.6v2.4h-6.6zM348.1 202.3h2.4v2.4h-2.4zM352.4 202.3h2.4v2.4h-2.4zM375.5 202.3h2.4v2.4h-2.4zM421.9 202.3h2.4v2.4h-2.4zM426.1 202.3h4.5v2.4h-4.5zM451.4 202.3h2.4v2.4h-2.4zM455.6 202.3h2.4v2.4h-2.4zM493.5 202.3h2.4v2.4h-2.4zM584.1 202.3h2.4v2.4h-2.4zM68.0 200.1h4.5v2.4h-4.5zM131.2 200.1h2.4v2.4h-2.4zM141.7 200.1h2.4v2.4h-2.4zM185.9 200.1h2.4v2.4h-2.4zM223.9 200.1h2.4v2.4h-2.4zM238.6 200.1h8.7v2.4h-8.7zM251.2 200.1h4.5v2.4h-4.5zM257.6 200.1h8.7v2.4h-8.7zM270.2 200.1h2.4v2.4h-2.4zM274.4 200.1h4.5v2.4h-4.5zM282.8 200.1h4.5v2.4h-4.5zM301.8 200.1h2.4v2.4h-2.4zM308.1 200.1h4.5v2.4h-4.5zM362.9 200.1h2.4v2.4h-2.4zM531.4 200.1h6.6v2.4h-6.6zM539.9 200.1h2.4v2.4h-2.4zM550.4 200.1h2.4v2.4h-2.4zM571.5 200.1h10.8v2.4h-10.8zM617.8 200.1h2.4v2.4h-2.4zM624.1 200.1h2.4v2.4h-2.4zM628.3 200.1h2.4v2.4h-2.4zM632.5 200.1h8.7v2.4h-8.7zM647.3 200.1h4.5v2.4h-4.5zM664.1 200.1h4.5v2.4h-4.5zM270.2 198.0h2.4v2.4h-2.4zM280.7 198.0h2.4v2.4h-2.4zM360.8 198.0h4.5v2.4h-4.5zM459.8 198.0h2.4v2.4h-2.4zM253.3 195.9h4.5v2.4h-4.5zM259.7 195.9h2.4v2.4h-2.4zM343.9 195.9h2.4v2.4h-2.4zM348.1 195.9h6.6v2.4h-6.6zM360.8 195.9h2.4v2.4h-2.4zM377.6 195.9h2.4v2.4h-2.4zM394.5 195.9h2.4v2.4h-2.4zM409.2 195.9h4.5v2.4h-4.5zM529.3 195.9h2.4v2.4h-2.4zM223.9 193.7h4.5v2.4h-4.5zM280.7 193.7h2.4v2.4h-2.4zM284.9 193.7h2.4v2.4h-2.4zM346.0 193.7h2.4v2.4h-2.4zM421.9 193.7h6.6v2.4h-6.6zM464.0 193.7h2.4v2.4h-2.4zM497.7 193.7h2.4v2.4h-2.4zM535.6 193.7h2.4v2.4h-2.4zM141.7 191.6h2.4v2.4h-2.4zM148.0 191.6h4.5v2.4h-4.5zM217.5 191.6h15.0v2.4h-15.0zM236.5 191.6h10.8v2.4h-10.8zM253.3 191.6h2.4v2.4h-2.4zM266.0 191.6h2.4v2.4h-2.4zM274.4 191.6h2.4v2.4h-2.4zM284.9 191.6h2.4v2.4h-2.4zM301.8 191.6h2.4v2.4h-2.4zM308.1 191.6h8.7v2.4h-8.7zM329.2 191.6h4.5v2.4h-4.5zM346.0 191.6h4.5v2.4h-4.5zM352.4 191.6h4.5v2.4h-4.5zM358.7 191.6h6.6v2.4h-6.6zM371.3 191.6h2.4v2.4h-2.4zM375.5 191.6h8.7v2.4h-8.7zM388.2 191.6h12.9v2.4h-12.9zM405.0 191.6h2.4v2.4h-2.4zM409.2 191.6h2.4v2.4h-2.4zM415.6 191.6h2.4v2.4h-2.4zM419.8 191.6h4.5v2.4h-4.5zM428.2 191.6h2.4v2.4h-2.4zM455.6 191.6h2.4v2.4h-2.4zM459.8 191.6h2.4v2.4h-2.4zM464.0 191.6h2.4v2.4h-2.4zM468.2 191.6h4.5v2.4h-4.5zM476.7 191.6h4.5v2.4h-4.5zM489.3 191.6h2.4v2.4h-2.4zM493.5 191.6h6.6v2.4h-6.6zM510.4 191.6h8.7v2.4h-8.7zM520.9 191.6h4.5v2.4h-4.5zM554.6 191.6h2.4v2.4h-2.4zM68.0 189.4h4.5v2.4h-4.5zM76.4 189.4h2.4v2.4h-2.4zM80.6 189.4h17.2v2.4h-17.2zM105.9 189.4h4.5v2.4h-4.5zM114.3 189.4h6.6v2.4h-6.6zM122.7 189.4h2.4v2.4h-2.4zM126.9 189.4h2.4v2.4h-2.4zM133.3 189.4h6.6v2.4h-6.6zM145.9 189.4h2.4v2.4h-2.4zM158.5 189.4h15.0v2.4h-15.0zM177.5 189.4h2.4v2.4h-2.4zM181.7 189.4h2.4v2.4h-2.4zM185.9 189.4h6.6v2.4h-6.6zM198.6 189.4h2.4v2.4h-2.4zM202.8 189.4h15.0v2.4h-15.0zM223.9 189.4h2.4v2.4h-2.4zM232.3 189.4h2.4v2.4h-2.4zM236.5 189.4h23.5v2.4h-23.5zM261.8 189.4h8.7v2.4h-8.7zM274.4 189.4h4.5v2.4h-4.5zM280.7 189.4h2.4v2.4h-2.4zM284.9 189.4h2.4v2.4h-2.4zM293.4 189.4h6.6v2.4h-6.6zM303.9 189.4h8.7v2.4h-8.7zM314.4 189.4h4.5v2.4h-4.5zM320.8 189.4h2.4v2.4h-2.4zM333.4 189.4h10.8v2.4h-10.8zM348.1 189.4h15.0v2.4h-15.0zM365.0 189.4h6.6v2.4h-6.6zM375.5 189.4h2.4v2.4h-2.4zM379.7 189.4h2.4v2.4h-2.4zM386.1 189.4h4.5v2.4h-4.5zM392.4 189.4h29.8v2.4h-29.8zM428.2 189.4h6.6v2.4h-6.6zM436.6 189.4h2.4v2.4h-2.4zM442.9 189.4h2.4v2.4h-2.4zM449.3 189.4h2.4v2.4h-2.4zM453.5 189.4h2.4v2.4h-2.4zM459.8 189.4h4.5v2.4h-4.5zM466.1 189.4h6.6v2.4h-6.6zM476.7 189.4h4.5v2.4h-4.5zM485.1 189.4h8.7v2.4h-8.7zM495.6 189.4h8.7v2.4h-8.7zM508.3 189.4h2.4v2.4h-2.4zM516.7 189.4h6.6v2.4h-6.6zM605.2 189.4h2.4v2.4h-2.4zM223.9 187.3h2.4v2.4h-2.4zM253.3 187.3h2.4v2.4h-2.4zM268.1 187.3h4.5v2.4h-4.5zM282.8 187.3h2.4v2.4h-2.4zM301.8 187.3h2.4v2.4h-2.4zM327.1 187.3h4.5v2.4h-4.5zM350.3 187.3h2.4v2.4h-2.4zM360.8 187.3h2.4v2.4h-2.4zM428.2 187.3h2.4v2.4h-2.4zM445.1 187.3h2.4v2.4h-2.4zM493.5 187.3h4.5v2.4h-4.5zM611.5 187.3h2.4v2.4h-2.4zM638.9 187.3h2.4v2.4h-2.4zM217.5 185.1h4.5v2.4h-4.5zM253.3 185.1h4.5v2.4h-4.5zM263.9 185.1h2.4v2.4h-2.4zM274.4 185.1h4.5v2.4h-4.5zM282.8 185.1h4.5v2.4h-4.5zM301.8 185.1h2.4v2.4h-2.4zM310.2 185.1h6.6v2.4h-6.6zM318.7 185.1h2.4v2.4h-2.4zM329.2 185.1h2.4v2.4h-2.4zM343.9 185.1h10.8v2.4h-10.8zM358.7 185.1h6.6v2.4h-6.6zM377.6 185.1h6.6v2.4h-6.6zM396.6 185.1h10.8v2.4h-10.8zM409.2 185.1h2.4v2.4h-2.4zM428.2 185.1h8.7v2.4h-8.7zM464.0 185.1h2.4v2.4h-2.4zM468.2 185.1h4.5v2.4h-4.5zM474.5 185.1h2.4v2.4h-2.4zM478.8 185.1h2.4v2.4h-2.4zM497.7 185.1h2.4v2.4h-2.4zM501.9 185.1h2.4v2.4h-2.4zM512.5 185.1h6.6v2.4h-6.6zM68.0 183.0h23.5v2.4h-23.5zM99.6 183.0h12.9v2.4h-12.9zM116.4 183.0h4.5v2.4h-4.5zM129.1 183.0h6.6v2.4h-6.6zM143.8 183.0h8.7v2.4h-8.7zM156.4 183.0h10.8v2.4h-10.8zM173.3 183.0h2.4v2.4h-2.4zM183.8 183.0h21.4v2.4h-21.4zM213.3 183.0h10.8v2.4h-10.8zM523.0 183.0h19.3v2.4h-19.3zM548.3 183.0h2.4v2.4h-2.4zM552.5 183.0h2.4v2.4h-2.4zM567.2 183.0h2.4v2.4h-2.4zM573.6 183.0h2.4v2.4h-2.4zM586.2 183.0h2.4v2.4h-2.4zM592.5 183.0h2.4v2.4h-2.4zM598.8 183.0h2.4v2.4h-2.4zM605.2 183.0h6.6v2.4h-6.6zM615.7 183.0h4.5v2.4h-4.5zM622.0 183.0h2.4v2.4h-2.4zM626.2 183.0h2.4v2.4h-2.4zM634.7 183.0h2.4v2.4h-2.4zM638.9 183.0h2.4v2.4h-2.4zM643.1 183.0h4.5v2.4h-4.5zM653.6 183.0h2.4v2.4h-2.4zM668.4 183.0h2.4v2.4h-2.4zM672.6 183.0h2.4v2.4h-2.4zM219.6 180.9h6.6v2.4h-6.6zM234.4 180.9h2.4v2.4h-2.4zM247.0 180.9h2.4v2.4h-2.4zM253.3 180.9h4.5v2.4h-4.5zM263.9 180.9h4.5v2.4h-4.5zM274.4 180.9h2.4v2.4h-2.4zM280.7 180.9h8.7v2.4h-8.7zM303.9 180.9h2.4v2.4h-2.4zM312.3 180.9h4.5v2.4h-4.5zM329.2 180.9h4.5v2.4h-4.5zM346.0 180.9h2.4v2.4h-2.4zM350.3 180.9h6.6v2.4h-6.6zM358.7 180.9h6.6v2.4h-6.6zM369.2 180.9h2.4v2.4h-2.4zM373.4 180.9h2.4v2.4h-2.4zM384.0 180.9h2.4v2.4h-2.4zM417.7 180.9h2.4v2.4h-2.4zM476.7 180.9h2.4v2.4h-2.4zM480.9 180.9h2.4v2.4h-2.4zM493.5 180.9h4.5v2.4h-4.5zM501.9 180.9h2.4v2.4h-2.4zM575.7 180.9h2.4v2.4h-2.4zM600.9 180.9h2.4v2.4h-2.4zM268.1 178.7h4.5v2.4h-4.5zM274.4 178.7h2.4v2.4h-2.4zM280.7 178.7h4.5v2.4h-4.5zM295.5 178.7h10.8v2.4h-10.8zM310.2 178.7h4.5v2.4h-4.5zM350.3 178.7h4.5v2.4h-4.5zM358.7 178.7h2.4v2.4h-2.4zM373.4 178.7h2.4v2.4h-2.4zM434.5 178.7h2.4v2.4h-2.4zM459.8 178.7h2.4v2.4h-2.4zM476.7 178.7h8.7v2.4h-8.7zM493.5 178.7h6.6v2.4h-6.6zM514.6 178.7h4.5v2.4h-4.5zM615.7 178.7h2.4v2.4h-2.4zM76.4 176.6h2.4v2.4h-2.4zM160.7 176.6h6.6v2.4h-6.6zM171.2 176.6h2.4v2.4h-2.4zM221.7 176.6h19.3v2.4h-19.3zM249.1 176.6h12.9v2.4h-12.9zM268.1 176.6h2.4v2.4h-2.4zM274.4 176.6h2.4v2.4h-2.4zM280.7 176.6h12.9v2.4h-12.9zM301.8 176.6h2.4v2.4h-2.4zM308.1 176.6h6.6v2.4h-6.6zM320.8 176.6h2.4v2.4h-2.4zM346.0 176.6h8.7v2.4h-8.7zM358.7 176.6h6.6v2.4h-6.6zM371.3 176.6h2.4v2.4h-2.4zM384.0 176.6h2.4v2.4h-2.4zM392.4 176.6h12.9v2.4h-12.9zM407.1 176.6h4.5v2.4h-4.5zM417.7 176.6h4.5v2.4h-4.5zM428.2 176.6h2.4v2.4h-2.4zM432.4 176.6h8.7v2.4h-8.7zM447.2 176.6h4.5v2.4h-4.5zM453.5 176.6h6.6v2.4h-6.6zM461.9 176.6h6.6v2.4h-6.6zM470.3 176.6h2.4v2.4h-2.4zM476.7 176.6h4.5v2.4h-4.5zM483.0 176.6h19.3v2.4h-19.3zM504.0 176.6h2.4v2.4h-2.4zM516.7 176.6h6.6v2.4h-6.6zM539.9 176.6h15.0v2.4h-15.0zM560.9 176.6h2.4v2.4h-2.4zM565.1 176.6h6.6v2.4h-6.6zM575.7 176.6h8.7v2.4h-8.7zM586.2 176.6h2.4v2.4h-2.4zM590.4 176.6h2.4v2.4h-2.4zM611.5 176.6h2.4v2.4h-2.4zM219.6 174.4h2.4v2.4h-2.4zM223.9 174.4h2.4v2.4h-2.4zM251.2 174.4h6.6v2.4h-6.6zM274.4 174.4h2.4v2.4h-2.4zM280.7 174.4h6.6v2.4h-6.6zM301.8 174.4h12.9v2.4h-12.9zM320.8 174.4h2.4v2.4h-2.4zM333.4 174.4h4.5v2.4h-4.5zM346.0 174.4h6.6v2.4h-6.6zM362.9 174.4h2.4v2.4h-2.4zM367.1 174.4h12.9v2.4h-12.9zM398.7 174.4h2.4v2.4h-2.4zM415.6 174.4h2.4v2.4h-2.4zM426.1 174.4h4.5v2.4h-4.5zM447.2 174.4h2.4v2.4h-2.4zM451.4 174.4h2.4v2.4h-2.4zM459.8 174.4h6.6v2.4h-6.6zM483.0 174.4h4.5v2.4h-4.5zM497.7 174.4h2.4v2.4h-2.4zM516.7 174.4h2.4v2.4h-2.4zM520.9 174.4h2.4v2.4h-2.4zM582.0 174.4h4.5v2.4h-4.5zM137.5 172.3h2.4v2.4h-2.4zM223.9 172.3h2.4v2.4h-2.4zM251.2 172.3h4.5v2.4h-4.5zM259.7 172.3h2.4v2.4h-2.4zM274.4 172.3h2.4v2.4h-2.4zM278.6 172.3h10.8v2.4h-10.8zM301.8 172.3h2.4v2.4h-2.4zM329.2 172.3h2.4v2.4h-2.4zM352.4 172.3h2.4v2.4h-2.4zM360.8 172.3h4.5v2.4h-4.5zM405.0 172.3h2.4v2.4h-2.4zM411.3 172.3h4.5v2.4h-4.5zM428.2 172.3h2.4v2.4h-2.4zM455.6 172.3h2.4v2.4h-2.4zM459.8 172.3h2.4v2.4h-2.4zM464.0 172.3h2.4v2.4h-2.4zM493.5 172.3h6.6v2.4h-6.6zM409.2 165.9h2.4v2.4h-2.4zM413.5 165.9h6.6v2.4h-6.6zM424.0 165.9h2.4v2.4h-2.4zM428.2 165.9h8.7v2.4h-8.7zM438.7 165.9h8.7v2.4h-8.7zM449.3 165.9h2.4v2.4h-2.4zM464.0 165.9h2.4v2.4h-2.4zM468.2 165.9h4.5v2.4h-4.5zM476.7 165.9h4.5v2.4h-4.5zM483.0 165.9h6.6v2.4h-6.6zM493.5 165.9h4.5v2.4h-4.5zM506.1 165.9h2.4v2.4h-2.4zM512.5 165.9h2.4v2.4h-2.4zM516.7 165.9h6.6v2.4h-6.6zM167.0 163.7h6.6v2.4h-6.6zM181.7 163.7h2.4v2.4h-2.4zM411.3 163.7h2.4v2.4h-2.4zM419.8 163.7h2.4v2.4h-2.4zM424.0 163.7h23.5v2.4h-23.5zM455.6 163.7h19.3v2.4h-19.3zM476.7 163.7h8.7v2.4h-8.7zM487.2 163.7h2.4v2.4h-2.4zM491.4 163.7h2.4v2.4h-2.4zM514.6 163.7h2.4v2.4h-2.4zM560.9 163.7h4.5v2.4h-4.5zM586.2 163.7h2.4v2.4h-2.4zM592.5 163.7h2.4v2.4h-2.4zM651.5 163.7h2.4v2.4h-2.4zM348.1 161.6h2.4v2.4h-2.4zM424.0 161.6h2.4v2.4h-2.4zM428.2 161.6h8.7v2.4h-8.7zM447.2 161.6h2.4v2.4h-2.4zM461.9 161.6h2.4v2.4h-2.4zM468.2 161.6h4.5v2.4h-4.5zM474.5 161.6h2.4v2.4h-2.4zM487.2 161.6h4.5v2.4h-4.5zM510.4 161.6h2.4v2.4h-2.4zM360.8 159.4h2.4v2.4h-2.4zM407.1 159.4h6.6v2.4h-6.6zM415.6 159.4h2.4v2.4h-2.4zM419.8 159.4h19.3v2.4h-19.3zM445.1 159.4h2.4v2.4h-2.4zM470.3 159.4h2.4v2.4h-2.4zM480.9 159.4h8.7v2.4h-8.7zM491.4 159.4h2.4v2.4h-2.4zM506.1 159.4h2.4v2.4h-2.4zM622.0 159.4h2.4v2.4h-2.4zM360.8 157.3h4.5v2.4h-4.5zM409.2 157.3h2.4v2.4h-2.4zM413.5 157.3h8.7v2.4h-8.7zM447.2 157.3h2.4v2.4h-2.4zM455.6 157.3h2.4v2.4h-2.4zM459.8 157.3h2.4v2.4h-2.4zM480.9 157.3h2.4v2.4h-2.4zM485.1 157.3h2.4v2.4h-2.4zM499.8 157.3h8.7v2.4h-8.7zM512.5 157.3h2.4v2.4h-2.4zM516.7 157.3h2.4v2.4h-2.4zM523.0 157.3h6.6v2.4h-6.6zM409.2 155.1h4.5v2.4h-4.5zM415.6 155.1h4.5v2.4h-4.5zM424.0 155.1h4.5v2.4h-4.5zM434.5 155.1h4.5v2.4h-4.5zM447.2 155.1h2.4v2.4h-2.4zM455.6 155.1h4.5v2.4h-4.5zM485.1 155.1h12.9v2.4h-12.9zM508.3 155.1h2.4v2.4h-2.4zM512.5 155.1h4.5v2.4h-4.5zM518.8 155.1h2.4v2.4h-2.4zM558.8 155.1h2.4v2.4h-2.4zM232.3 148.6h2.4v2.5h-2.4zM238.6 148.6h2.4v2.5h-2.4zM247.0 148.6h2.4v2.5h-2.4zM253.3 148.6h8.7v2.5h-8.7zM272.3 148.6h4.5v2.5h-4.5zM284.9 148.6h2.4v2.5h-2.4zM230.2 135.6h2.4v2.5h-2.4zM405.0 135.6h2.4v2.5h-2.4zM434.5 135.6h4.5v2.5h-4.5zM504.0 135.6h2.4v2.5h-2.4zM272.3 131.2h8.7v2.5h-8.7zM284.9 131.2h6.6v2.5h-6.6zM295.5 131.2h2.4v2.5h-2.4zM299.7 131.2h6.6v2.5h-6.6zM308.1 131.2h6.6v2.5h-6.6zM316.5 131.2h2.4v2.5h-2.4zM322.9 131.2h2.4v2.5h-2.4zM331.3 131.2h2.4v2.5h-2.4zM337.6 131.2h2.4v2.5h-2.4zM341.8 131.2h2.4v2.5h-2.4zM350.3 131.2h8.7v2.5h-8.7zM362.9 131.2h4.5v2.5h-4.5zM371.3 131.2h2.4v2.5h-2.4zM379.7 131.2h6.6v2.5h-6.6zM411.3 131.2h6.6v2.5h-6.6zM426.1 131.2h12.9v2.5h-12.9zM449.3 131.2h2.4v2.5h-2.4zM453.5 131.2h8.7v2.5h-8.7zM464.0 131.2h8.7v2.5h-8.7zM476.7 131.2h4.5v2.5h-4.5zM485.1 131.2h2.4v2.5h-2.4zM489.3 131.2h10.8v2.5h-10.8zM504.0 131.2h6.6v2.5h-6.6zM512.5 131.2h4.5v2.5h-4.5zM518.8 131.2h2.4v2.5h-2.4zM221.7 122.5h6.6v2.5h-6.6zM236.5 122.5h2.4v2.5h-2.4zM287.1 122.5h2.4v2.5h-2.4zM297.6 122.5h4.5v2.5h-4.5zM303.9 122.5h2.4v2.5h-2.4zM339.7 122.5h2.4v2.5h-2.4zM407.1 122.5h2.4v2.5h-2.4zM432.4 122.5h4.5v2.5h-4.5zM219.6 118.1h2.4v2.5h-2.4zM238.6 118.1h2.4v2.5h-2.4zM249.1 118.1h2.4v2.5h-2.4zM263.9 118.1h2.4v2.5h-2.4zM268.1 118.1h2.4v2.5h-2.4zM272.3 118.1h2.4v2.5h-2.4zM276.5 118.1h4.5v2.5h-4.5zM284.9 118.1h4.5v2.5h-4.5zM303.9 118.1h4.5v2.5h-4.5zM339.7 118.1h6.6v2.5h-6.6zM350.3 118.1h2.4v2.5h-2.4zM360.8 118.1h2.4v2.5h-2.4zM369.2 118.1h4.5v2.5h-4.5zM375.5 118.1h2.4v2.5h-2.4zM386.1 118.1h2.4v2.5h-2.4zM398.7 118.1h6.6v2.5h-6.6zM411.3 118.1h2.4v2.5h-2.4zM430.3 118.1h6.6v2.5h-6.6zM442.9 118.1h12.9v2.5h-12.9zM466.1 118.1h2.4v2.5h-2.4zM474.5 118.1h4.5v2.5h-4.5zM495.6 118.1h6.6v2.5h-6.6zM504.0 118.1h2.4v2.5h-2.4zM510.4 118.1h2.4v2.5h-2.4zM516.7 118.1h2.4v2.5h-2.4zM209.1 109.4h6.6v2.5h-6.6zM234.4 109.4h2.4v2.5h-2.4zM238.6 109.4h2.4v2.5h-2.4zM257.6 109.4h4.5v2.5h-4.5zM266.0 109.4h2.4v2.5h-2.4zM295.5 109.4h4.5v2.5h-4.5zM310.2 109.4h4.5v2.5h-4.5zM329.2 109.4h2.4v2.5h-2.4zM352.4 109.4h4.5v2.5h-4.5zM362.9 109.4h2.4v2.5h-2.4zM464.0 109.4h2.4v2.5h-2.4zM501.9 109.4h2.4v2.5h-2.4zM312.3 100.7h6.6v2.5h-6.6zM320.8 100.7h23.5v2.5h-23.5zM365.0 100.7h6.6v2.5h-6.6zM373.4 100.7h2.4v2.5h-2.4zM377.6 100.7h2.4v2.5h-2.4zM386.1 100.7h4.5v2.5h-4.5zM398.7 100.7h4.5v2.5h-4.5zM405.0 100.7h6.6v2.5h-6.6zM413.5 100.7h6.6v2.5h-6.6zM430.3 100.7h2.4v2.5h-2.4zM234.4 89.8h2.4v2.5h-2.4zM240.7 89.8h4.5v2.5h-4.5zM268.1 89.8h6.6v2.5h-6.6zM293.4 89.8h4.5v2.5h-4.5zM301.8 89.8h2.4v2.5h-2.4zM306.0 89.8h4.5v2.5h-4.5zM312.3 89.8h4.5v2.5h-4.5zM325.0 89.8h6.6v2.5h-6.6zM341.8 89.8h8.7v2.5h-8.7zM354.5 89.8h8.7v2.5h-8.7zM365.0 89.8h2.4v2.5h-2.4zM369.2 89.8h10.8v2.5h-10.8zM384.0 89.8h4.5v2.5h-4.5zM407.1 89.8h2.4v2.5h-2.4zM415.6 89.8h2.4v2.5h-2.4zM424.0 89.8h2.4v2.5h-2.4zM434.5 89.8h2.4v2.5h-2.4zM447.2 89.8h4.5v2.5h-4.5zM501.9 89.8h2.4v2.5h-2.4zM217.5 83.3h2.4v2.5h-2.4zM257.6 78.9h2.4v2.5h-2.4zM308.1 78.9h2.4v2.5h-2.4zM327.1 78.9h4.5v2.5h-4.5zM354.5 78.9h2.4v2.5h-2.4zM447.2 78.9h6.6v2.5h-6.6zM470.3 78.9h2.4v2.5h-2.4zM499.8 78.9h6.6v2.5h-6.6zM392.4 76.7h2.4v2.5h-2.4zM375.5 74.5h2.4v2.5h-2.4zM388.2 74.5h2.4v2.5h-2.4zM396.6 74.5h2.4v2.5h-2.4zM405.0 72.4h2.4v2.5h-2.4zM417.7 72.4h2.4v2.5h-2.4zM365.0 70.2h2.4v2.5h-2.4z"/><path fill="#6cfdbf" d="M242.8 343.7h2.4v2.4h-2.4zM68.0 337.3h4.5v2.4h-4.5zM80.6 337.3h4.5v2.4h-4.5zM91.1 337.3h2.4v2.4h-2.4zM99.6 337.3h4.5v2.4h-4.5zM108.0 337.3h6.6v2.4h-6.6zM116.4 337.3h4.5v2.4h-4.5zM131.2 337.3h4.5v2.4h-4.5zM139.6 337.3h23.5v2.4h-23.5zM173.3 337.3h4.5v2.4h-4.5zM188.0 337.3h4.5v2.4h-4.5zM194.4 337.3h4.5v2.4h-4.5zM209.1 337.3h12.9v2.4h-12.9zM226.0 337.3h2.4v2.4h-2.4zM234.4 337.3h2.4v2.4h-2.4zM476.7 337.3h2.4v2.4h-2.4zM493.5 337.3h4.5v2.4h-4.5zM506.1 337.3h6.6v2.4h-6.6zM527.2 337.3h2.4v2.4h-2.4zM533.5 337.3h2.4v2.4h-2.4zM573.6 337.3h2.4v2.4h-2.4zM579.9 337.3h4.5v2.4h-4.5zM594.6 337.3h2.4v2.4h-2.4zM600.9 337.3h4.5v2.4h-4.5zM607.3 337.3h4.5v2.4h-4.5zM613.6 337.3h2.4v2.4h-2.4zM617.8 337.3h2.4v2.4h-2.4zM624.1 337.3h4.5v2.4h-4.5zM630.4 337.3h6.6v2.4h-6.6zM638.9 337.3h6.6v2.4h-6.6zM651.5 337.3h6.6v2.4h-6.6zM659.9 337.3h15.0v2.4h-15.0zM70.1 335.1h4.5v2.4h-4.5zM80.6 335.1h2.4v2.4h-2.4zM95.3 335.1h8.7v2.4h-8.7zM114.3 335.1h2.4v2.4h-2.4zM124.8 335.1h2.4v2.4h-2.4zM133.3 335.1h2.4v2.4h-2.4zM150.1 335.1h2.4v2.4h-2.4zM156.4 335.1h2.4v2.4h-2.4zM162.8 335.1h10.8v2.4h-10.8zM190.1 335.1h6.6v2.4h-6.6zM204.9 335.1h2.4v2.4h-2.4zM209.1 335.1h2.4v2.4h-2.4zM215.4 335.1h2.4v2.4h-2.4zM232.3 335.1h2.4v2.4h-2.4zM240.7 335.1h2.4v2.4h-2.4zM259.7 335.1h6.6v2.4h-6.6zM268.1 335.1h6.6v2.4h-6.6zM276.5 335.1h6.6v2.4h-6.6zM287.1 335.1h2.4v2.4h-2.4zM291.3 335.1h12.9v2.4h-12.9zM310.2 335.1h6.6v2.4h-6.6zM318.7 335.1h21.4v2.4h-21.4zM341.8 335.1h2.4v2.4h-2.4zM346.0 335.1h2.4v2.4h-2.4zM350.3 335.1h2.4v2.4h-2.4zM356.6 335.1h2.4v2.4h-2.4zM360.8 335.1h6.6v2.4h-6.6zM377.6 335.1h6.6v2.4h-6.6zM386.1 335.1h8.7v2.4h-8.7zM396.6 335.1h10.8v2.4h-10.8zM409.2 335.1h2.4v2.4h-2.4zM413.5 335.1h12.9v2.4h-12.9zM432.4 335.1h2.4v2.4h-2.4zM436.6 335.1h8.7v2.4h-8.7zM451.4 335.1h8.7v2.4h-8.7zM483.0 335.1h2.4v2.4h-2.4zM491.4 335.1h2.4v2.4h-2.4zM497.7 335.1h2.4v2.4h-2.4zM501.9 335.1h2.4v2.4h-2.4zM535.6 335.1h2.4v2.4h-2.4zM544.1 335.1h2.4v2.4h-2.4zM563.0 335.1h2.4v2.4h-2.4zM569.3 335.1h2.4v2.4h-2.4zM586.2 335.1h4.5v2.4h-4.5zM622.0 335.1h4.5v2.4h-4.5zM630.4 335.1h2.4v2.4h-2.4zM645.2 335.1h6.6v2.4h-6.6zM655.7 335.1h2.4v2.4h-2.4zM664.1 335.1h2.4v2.4h-2.4zM68.0 333.0h2.4v2.4h-2.4zM72.2 333.0h8.7v2.4h-8.7zM86.9 333.0h2.4v2.4h-2.4zM108.0 333.0h2.4v2.4h-2.4zM122.7 333.0h2.4v2.4h-2.4zM126.9 333.0h2.4v2.4h-2.4zM143.8 333.0h2.4v2.4h-2.4zM148.0 333.0h2.4v2.4h-2.4zM152.2 333.0h2.4v2.4h-2.4zM156.4 333.0h2.4v2.4h-2.4zM162.8 333.0h2.4v2.4h-2.4zM173.3 333.0h2.4v2.4h-2.4zM177.5 333.0h4.5v2.4h-4.5zM192.3 333.0h2.4v2.4h-2.4zM217.5 333.0h4.5v2.4h-4.5zM228.1 333.0h2.4v2.4h-2.4zM472.4 333.0h4.5v2.4h-4.5zM485.1 333.0h2.4v2.4h-2.4zM493.5 333.0h2.4v2.4h-2.4zM497.7 333.0h4.5v2.4h-4.5zM510.4 333.0h2.4v2.4h-2.4zM533.5 333.0h2.4v2.4h-2.4zM542.0 333.0h4.5v2.4h-4.5zM579.9 333.0h4.5v2.4h-4.5zM588.3 333.0h10.8v2.4h-10.8zM611.5 333.0h2.4v2.4h-2.4zM645.2 333.0h4.5v2.4h-4.5zM653.6 333.0h2.4v2.4h-2.4zM666.3 333.0h2.4v2.4h-2.4zM68.0 330.9h4.5v2.4h-4.5zM74.3 330.9h2.4v2.4h-2.4zM80.6 330.9h6.6v2.4h-6.6zM91.1 330.9h8.7v2.4h-8.7zM101.7 330.9h4.5v2.4h-4.5zM110.1 330.9h2.4v2.4h-2.4zM114.3 330.9h2.4v2.4h-2.4zM118.5 330.9h2.4v2.4h-2.4zM122.7 330.9h4.5v2.4h-4.5zM129.1 330.9h6.6v2.4h-6.6zM137.5 330.9h4.5v2.4h-4.5zM143.8 330.9h6.6v2.4h-6.6zM152.2 330.9h2.4v2.4h-2.4zM160.7 330.9h4.5v2.4h-4.5zM167.0 330.9h2.4v2.4h-2.4zM181.7 330.9h2.4v2.4h-2.4zM185.9 330.9h2.4v2.4h-2.4zM198.6 330.9h4.5v2.4h-4.5zM204.9 330.9h2.4v2.4h-2.4zM209.1 330.9h2.4v2.4h-2.4zM213.3 330.9h2.4v2.4h-2.4zM219.6 330.9h2.4v2.4h-2.4zM230.2 330.9h2.4v2.4h-2.4zM236.5 330.9h2.4v2.4h-2.4zM470.3 330.9h2.4v2.4h-2.4zM474.5 330.9h4.5v2.4h-4.5zM480.9 330.9h4.5v2.4h-4.5zM487.2 330.9h8.7v2.4h-8.7zM497.7 330.9h2.4v2.4h-2.4zM501.9 330.9h2.4v2.4h-2.4zM510.4 330.9h2.4v2.4h-2.4zM514.6 330.9h6.6v2.4h-6.6zM527.2 330.9h15.0v2.4h-15.0zM546.2 330.9h4.5v2.4h-4.5zM554.6 330.9h4.5v2.4h-4.5zM563.0 330.9h4.5v2.4h-4.5zM569.3 330.9h6.6v2.4h-6.6zM577.8 330.9h12.9v2.4h-12.9zM592.5 330.9h6.6v2.4h-6.6zM603.1 330.9h10.8v2.4h-10.8zM617.8 330.9h10.8v2.4h-10.8zM630.4 330.9h6.6v2.4h-6.6zM645.2 330.9h2.4v2.4h-2.4zM655.7 330.9h6.6v2.4h-6.6zM666.3 330.9h4.5v2.4h-4.5zM672.6 330.9h2.4v2.4h-2.4zM68.0 328.7h15.0v2.4h-15.0zM84.8 328.7h2.4v2.4h-2.4zM91.1 328.7h2.4v2.4h-2.4zM99.6 328.7h2.4v2.4h-2.4zM105.9 328.7h2.4v2.4h-2.4zM116.4 328.7h19.3v2.4h-19.3zM139.6 328.7h4.5v2.4h-4.5zM148.0 328.7h4.5v2.4h-4.5zM154.3 328.7h2.4v2.4h-2.4zM160.7 328.7h2.4v2.4h-2.4zM164.9 328.7h2.4v2.4h-2.4zM171.2 328.7h4.5v2.4h-4.5zM177.5 328.7h4.5v2.4h-4.5zM183.8 328.7h2.4v2.4h-2.4zM190.1 328.7h2.4v2.4h-2.4zM198.6 328.7h4.5v2.4h-4.5zM204.9 328.7h2.4v2.4h-2.4zM209.1 328.7h10.8v2.4h-10.8zM221.7 328.7h6.6v2.4h-6.6zM232.3 328.7h2.4v2.4h-2.4zM253.3 328.7h4.5v2.4h-4.5zM268.1 328.7h2.4v2.4h-2.4zM291.3 328.7h2.4v2.4h-2.4zM331.3 328.7h2.4v2.4h-2.4zM335.5 328.7h6.6v2.4h-6.6zM343.9 328.7h4.5v2.4h-4.5zM362.9 328.7h2.4v2.4h-2.4zM367.1 328.7h4.5v2.4h-4.5zM373.4 328.7h2.4v2.4h-2.4zM409.2 328.7h6.6v2.4h-6.6zM417.7 328.7h4.5v2.4h-4.5zM424.0 328.7h6.6v2.4h-6.6zM432.4 328.7h2.4v2.4h-2.4zM449.3 328.7h2.4v2.4h-2.4zM474.5 328.7h2.4v2.4h-2.4zM493.5 328.7h2.4v2.4h-2.4zM499.8 328.7h4.5v2.4h-4.5zM523.0 328.7h2.4v2.4h-2.4zM529.3 328.7h2.4v2.4h-2.4zM535.6 328.7h2.4v2.4h-2.4zM539.9 328.7h10.8v2.4h-10.8zM552.5 328.7h4.5v2.4h-4.5zM567.2 328.7h6.6v2.4h-6.6zM575.7 328.7h6.6v2.4h-6.6zM590.4 328.7h2.4v2.4h-2.4zM594.6 328.7h4.5v2.4h-4.5zM600.9 328.7h4.5v2.4h-4.5zM607.3 328.7h2.4v2.4h-2.4zM611.5 328.7h4.5v2.4h-4.5zM617.8 328.7h6.6v2.4h-6.6zM628.3 328.7h2.4v2.4h-2.4zM634.7 328.7h2.4v2.4h-2.4zM643.1 328.7h4.5v2.4h-4.5zM651.5 328.7h4.5v2.4h-4.5zM657.8 328.7h4.5v2.4h-4.5zM670.5 328.7h4.5v2.4h-4.5zM74.3 326.6h6.6v2.4h-6.6zM91.1 326.6h4.5v2.4h-4.5zM97.5 326.6h2.4v2.4h-2.4zM114.3 326.6h2.4v2.4h-2.4zM156.4 326.6h2.4v2.4h-2.4zM160.7 326.6h2.4v2.4h-2.4zM167.0 326.6h2.4v2.4h-2.4zM181.7 326.6h2.4v2.4h-2.4zM185.9 326.6h2.4v2.4h-2.4zM194.4 326.6h4.5v2.4h-4.5zM259.7 326.6h2.4v2.4h-2.4zM525.1 326.6h2.4v2.4h-2.4zM531.4 326.6h2.4v2.4h-2.4zM550.4 326.6h2.4v2.4h-2.4zM554.6 326.6h2.4v2.4h-2.4zM579.9 326.6h2.4v2.4h-2.4zM584.1 326.6h2.4v2.4h-2.4zM598.8 326.6h2.4v2.4h-2.4zM613.6 326.6h21.4v2.4h-21.4zM655.7 326.6h4.5v2.4h-4.5zM666.3 326.6h2.4v2.4h-2.4zM68.0 324.4h2.4v2.4h-2.4zM74.3 324.4h6.6v2.4h-6.6zM82.7 324.4h2.4v2.4h-2.4zM86.9 324.4h6.6v2.4h-6.6zM95.3 324.4h2.4v2.4h-2.4zM99.6 324.4h2.4v2.4h-2.4zM110.1 324.4h23.5v2.4h-23.5zM135.4 324.4h4.5v2.4h-4.5zM141.7 324.4h4.5v2.4h-4.5zM148.0 324.4h15.0v2.4h-15.0zM169.1 324.4h4.5v2.4h-4.5zM175.4 324.4h17.2v2.4h-17.2zM194.4 324.4h6.6v2.4h-6.6zM213.3 324.4h4.5v2.4h-4.5zM236.5 324.4h2.4v2.4h-2.4zM251.2 324.4h2.4v2.4h-2.4zM472.4 324.4h6.6v2.4h-6.6zM483.0 324.4h4.5v2.4h-4.5zM491.4 324.4h4.5v2.4h-4.5zM497.7 324.4h10.8v2.4h-10.8zM510.4 324.4h2.4v2.4h-2.4zM516.7 324.4h2.4v2.4h-2.4zM525.1 324.4h2.4v2.4h-2.4zM531.4 324.4h8.7v2.4h-8.7zM542.0 324.4h4.5v2.4h-4.5zM550.4 324.4h4.5v2.4h-4.5zM558.8 324.4h6.6v2.4h-6.6zM567.2 324.4h2.4v2.4h-2.4zM571.5 324.4h4.5v2.4h-4.5zM579.9 324.4h2.4v2.4h-2.4zM584.1 324.4h6.6v2.4h-6.6zM594.6 324.4h4.5v2.4h-4.5zM600.9 324.4h12.9v2.4h-12.9zM615.7 324.4h8.7v2.4h-8.7zM626.2 324.4h4.5v2.4h-4.5zM634.7 324.4h4.5v2.4h-4.5zM645.2 324.4h8.7v2.4h-8.7zM655.7 324.4h2.4v2.4h-2.4zM659.9 324.4h4.5v2.4h-4.5zM666.3 324.4h4.5v2.4h-4.5zM70.1 322.3h12.9v2.4h-12.9zM84.8 322.3h4.5v2.4h-4.5zM93.2 322.3h4.5v2.4h-4.5zM101.7 322.3h2.4v2.4h-2.4zM105.9 322.3h2.4v2.4h-2.4zM112.2 322.3h8.7v2.4h-8.7zM122.7 322.3h4.5v2.4h-4.5zM131.2 322.3h10.8v2.4h-10.8zM148.0 322.3h2.4v2.4h-2.4zM152.2 322.3h2.4v2.4h-2.4zM158.5 322.3h2.4v2.4h-2.4zM164.9 322.3h2.4v2.4h-2.4zM169.1 322.3h6.6v2.4h-6.6zM177.5 322.3h2.4v2.4h-2.4zM181.7 322.3h2.4v2.4h-2.4zM185.9 322.3h6.6v2.4h-6.6zM198.6 322.3h4.5v2.4h-4.5zM204.9 322.3h6.6v2.4h-6.6zM215.4 322.3h8.7v2.4h-8.7zM226.0 322.3h2.4v2.4h-2.4zM230.2 322.3h19.3v2.4h-19.3zM472.4 322.3h15.0v2.4h-15.0zM489.3 322.3h25.6v2.4h-25.6zM518.8 322.3h4.5v2.4h-4.5zM525.1 322.3h4.5v2.4h-4.5zM531.4 322.3h4.5v2.4h-4.5zM537.7 322.3h4.5v2.4h-4.5zM544.1 322.3h8.7v2.4h-8.7zM556.7 322.3h27.7v2.4h-27.7zM586.2 322.3h6.6v2.4h-6.6zM598.8 322.3h8.7v2.4h-8.7zM613.6 322.3h4.5v2.4h-4.5zM619.9 322.3h6.6v2.4h-6.6zM628.3 322.3h6.6v2.4h-6.6zM638.9 322.3h15.0v2.4h-15.0zM657.8 322.3h17.2v2.4h-17.2zM242.8 320.1h8.7v2.4h-8.7zM638.9 320.1h2.4v2.4h-2.4zM70.1 318.0h4.5v2.4h-4.5zM76.4 318.0h6.6v2.4h-6.6zM86.9 318.0h4.5v2.4h-4.5zM93.2 318.0h4.5v2.4h-4.5zM99.6 318.0h4.5v2.4h-4.5zM105.9 318.0h2.4v2.4h-2.4zM110.1 318.0h4.5v2.4h-4.5zM118.5 318.0h2.4v2.4h-2.4zM122.7 318.0h8.7v2.4h-8.7zM133.3 318.0h2.4v2.4h-2.4zM137.5 318.0h2.4v2.4h-2.4zM141.7 318.0h6.6v2.4h-6.6zM150.1 318.0h4.5v2.4h-4.5zM158.5 318.0h4.5v2.4h-4.5zM169.1 318.0h2.4v2.4h-2.4zM173.3 318.0h6.6v2.4h-6.6zM181.7 318.0h2.4v2.4h-2.4zM185.9 318.0h2.4v2.4h-2.4zM190.1 318.0h4.5v2.4h-4.5zM470.3 318.0h6.6v2.4h-6.6zM478.8 318.0h8.7v2.4h-8.7zM489.3 318.0h2.4v2.4h-2.4zM493.5 318.0h2.4v2.4h-2.4zM497.7 318.0h2.4v2.4h-2.4zM501.9 318.0h17.2v2.4h-17.2zM529.3 318.0h2.4v2.4h-2.4zM537.7 318.0h6.6v2.4h-6.6zM546.2 318.0h2.4v2.4h-2.4zM550.4 318.0h12.9v2.4h-12.9zM565.1 318.0h17.2v2.4h-17.2zM584.1 318.0h4.5v2.4h-4.5zM590.4 318.0h4.5v2.4h-4.5zM596.7 318.0h8.7v2.4h-8.7zM609.4 318.0h2.4v2.4h-2.4zM613.6 318.0h4.5v2.4h-4.5zM622.0 318.0h6.6v2.4h-6.6zM630.4 318.0h2.4v2.4h-2.4zM634.7 318.0h4.5v2.4h-4.5zM645.2 318.0h8.7v2.4h-8.7zM655.7 318.0h2.4v2.4h-2.4zM659.9 318.0h6.6v2.4h-6.6zM672.6 318.0h2.4v2.4h-2.4zM68.0 315.9h4.5v2.4h-4.5zM78.5 315.9h2.4v2.4h-2.4zM86.9 315.9h4.5v2.4h-4.5zM93.2 315.9h2.4v2.4h-2.4zM97.5 315.9h2.4v2.4h-2.4zM105.9 315.9h2.4v2.4h-2.4zM114.3 315.9h8.7v2.4h-8.7zM135.4 315.9h2.4v2.4h-2.4zM141.7 315.9h2.4v2.4h-2.4zM154.3 315.9h4.5v2.4h-4.5zM160.7 315.9h4.5v2.4h-4.5zM167.0 315.9h2.4v2.4h-2.4zM173.3 315.9h4.5v2.4h-4.5zM179.6 315.9h2.4v2.4h-2.4zM185.9 315.9h2.4v2.4h-2.4zM190.1 315.9h2.4v2.4h-2.4zM200.7 315.9h12.9v2.4h-12.9zM215.4 315.9h6.6v2.4h-6.6zM223.9 315.9h4.5v2.4h-4.5zM236.5 315.9h6.6v2.4h-6.6zM247.0 315.9h2.4v2.4h-2.4zM483.0 315.9h4.5v2.4h-4.5zM489.3 315.9h10.8v2.4h-10.8zM510.4 315.9h2.4v2.4h-2.4zM527.2 315.9h2.4v2.4h-2.4zM531.4 315.9h2.4v2.4h-2.4zM535.6 315.9h2.4v2.4h-2.4zM539.9 315.9h2.4v2.4h-2.4zM546.2 315.9h2.4v2.4h-2.4zM560.9 315.9h4.5v2.4h-4.5zM567.2 315.9h4.5v2.4h-4.5zM577.8 315.9h2.4v2.4h-2.4zM590.4 315.9h2.4v2.4h-2.4zM598.8 315.9h2.4v2.4h-2.4zM611.5 315.9h4.5v2.4h-4.5zM622.0 315.9h4.5v2.4h-4.5zM670.5 315.9h4.5v2.4h-4.5zM242.8 313.7h4.5v2.4h-4.5zM478.8 313.7h2.4v2.4h-2.4zM487.2 313.7h2.4v2.4h-2.4zM491.4 313.7h2.4v2.4h-2.4zM495.6 313.7h2.4v2.4h-2.4zM506.1 313.7h2.4v2.4h-2.4zM535.6 313.7h2.4v2.4h-2.4zM76.4 311.6h4.5v2.4h-4.5zM82.7 311.6h4.5v2.4h-4.5zM89.0 311.6h4.5v2.4h-4.5zM95.3 311.6h15.0v2.4h-15.0zM114.3 311.6h10.8v2.4h-10.8zM126.9 311.6h4.5v2.4h-4.5zM139.6 311.6h4.5v2.4h-4.5zM150.1 311.6h2.4v2.4h-2.4zM156.4 311.6h21.4v2.4h-21.4zM179.6 311.6h15.0v2.4h-15.0zM196.5 311.6h10.8v2.4h-10.8zM244.9 311.6h2.4v2.4h-2.4zM249.1 311.6h4.5v2.4h-4.5zM470.3 311.6h12.9v2.4h-12.9zM495.6 311.6h2.4v2.4h-2.4zM499.8 311.6h2.4v2.4h-2.4zM504.0 311.6h2.4v2.4h-2.4zM510.4 311.6h4.5v2.4h-4.5zM516.7 311.6h10.8v2.4h-10.8zM529.3 311.6h10.8v2.4h-10.8zM544.1 311.6h2.4v2.4h-2.4zM548.3 311.6h2.4v2.4h-2.4zM554.6 311.6h2.4v2.4h-2.4zM558.8 311.6h2.4v2.4h-2.4zM563.0 311.6h2.4v2.4h-2.4zM571.5 311.6h6.6v2.4h-6.6zM579.9 311.6h4.5v2.4h-4.5zM586.2 311.6h2.4v2.4h-2.4zM594.6 311.6h2.4v2.4h-2.4zM605.2 311.6h4.5v2.4h-4.5zM611.5 311.6h4.5v2.4h-4.5zM617.8 311.6h4.5v2.4h-4.5zM624.1 311.6h10.8v2.4h-10.8zM638.9 311.6h4.5v2.4h-4.5zM645.2 311.6h4.5v2.4h-4.5zM651.5 311.6h4.5v2.4h-4.5zM657.8 311.6h2.4v2.4h-2.4zM662.0 311.6h4.5v2.4h-4.5zM668.4 311.6h6.6v2.4h-6.6zM93.2 309.4h4.5v2.4h-4.5zM99.6 309.4h2.4v2.4h-2.4zM135.4 309.4h2.4v2.4h-2.4zM139.6 309.4h2.4v2.4h-2.4zM154.3 309.4h8.7v2.4h-8.7zM167.0 309.4h2.4v2.4h-2.4zM181.7 309.4h4.5v2.4h-4.5zM190.1 309.4h2.4v2.4h-2.4zM194.4 309.4h2.4v2.4h-2.4zM200.7 309.4h2.4v2.4h-2.4zM211.2 309.4h4.5v2.4h-4.5zM474.5 309.4h2.4v2.4h-2.4zM499.8 309.4h2.4v2.4h-2.4zM510.4 309.4h2.4v2.4h-2.4zM516.7 309.4h2.4v2.4h-2.4zM520.9 309.4h2.4v2.4h-2.4zM527.2 309.4h2.4v2.4h-2.4zM533.5 309.4h2.4v2.4h-2.4zM546.2 309.4h2.4v2.4h-2.4zM554.6 309.4h2.4v2.4h-2.4zM560.9 309.4h2.4v2.4h-2.4zM567.2 309.4h2.4v2.4h-2.4zM592.5 309.4h4.5v2.4h-4.5zM600.9 309.4h8.7v2.4h-8.7zM617.8 309.4h2.4v2.4h-2.4zM624.1 309.4h2.4v2.4h-2.4zM643.1 309.4h2.4v2.4h-2.4zM68.0 305.1h8.7v2.4h-8.7zM82.7 305.1h4.5v2.4h-4.5zM89.0 305.1h8.7v2.4h-8.7zM99.6 305.1h4.5v2.4h-4.5zM105.9 305.1h8.7v2.4h-8.7zM116.4 305.1h2.4v2.4h-2.4zM120.6 305.1h15.0v2.4h-15.0zM137.5 305.1h4.5v2.4h-4.5zM143.8 305.1h19.3v2.4h-19.3zM167.0 305.1h2.4v2.4h-2.4zM171.2 305.1h2.4v2.4h-2.4zM175.4 305.1h4.5v2.4h-4.5zM181.7 305.1h6.6v2.4h-6.6zM190.1 305.1h4.5v2.4h-4.5zM196.5 305.1h4.5v2.4h-4.5zM207.0 305.1h4.5v2.4h-4.5zM215.4 305.1h2.4v2.4h-2.4zM219.6 305.1h2.4v2.4h-2.4zM223.9 305.1h2.4v2.4h-2.4zM228.1 305.1h4.5v2.4h-4.5zM234.4 305.1h2.4v2.4h-2.4zM249.1 305.1h4.5v2.4h-4.5zM472.4 305.1h10.8v2.4h-10.8zM487.2 305.1h2.4v2.4h-2.4zM493.5 305.1h4.5v2.4h-4.5zM501.9 305.1h2.4v2.4h-2.4zM506.1 305.1h6.6v2.4h-6.6zM516.7 305.1h10.8v2.4h-10.8zM531.4 305.1h6.6v2.4h-6.6zM539.9 305.1h12.9v2.4h-12.9zM554.6 305.1h8.7v2.4h-8.7zM565.1 305.1h2.4v2.4h-2.4zM569.3 305.1h6.6v2.4h-6.6zM579.9 305.1h2.4v2.4h-2.4zM584.1 305.1h4.5v2.4h-4.5zM594.6 305.1h2.4v2.4h-2.4zM598.8 305.1h4.5v2.4h-4.5zM609.4 305.1h6.6v2.4h-6.6zM619.9 305.1h4.5v2.4h-4.5zM626.2 305.1h8.7v2.4h-8.7zM636.8 305.1h6.6v2.4h-6.6zM647.3 305.1h2.4v2.4h-2.4zM651.5 305.1h8.7v2.4h-8.7zM662.0 305.1h6.6v2.4h-6.6zM670.5 305.1h2.4v2.4h-2.4zM76.4 303.0h2.4v2.4h-2.4zM108.0 303.0h2.4v2.4h-2.4zM114.3 303.0h2.4v2.4h-2.4zM137.5 303.0h2.4v2.4h-2.4zM143.8 303.0h2.4v2.4h-2.4zM162.8 303.0h2.4v2.4h-2.4zM167.0 303.0h2.4v2.4h-2.4zM173.3 303.0h2.4v2.4h-2.4zM190.1 303.0h2.4v2.4h-2.4zM194.4 303.0h2.4v2.4h-2.4zM204.9 303.0h2.4v2.4h-2.4zM251.2 303.0h2.4v2.4h-2.4zM472.4 303.0h4.5v2.4h-4.5zM478.8 303.0h2.4v2.4h-2.4zM485.1 303.0h6.6v2.4h-6.6zM497.7 303.0h10.8v2.4h-10.8zM510.4 303.0h12.9v2.4h-12.9zM525.1 303.0h12.9v2.4h-12.9zM539.9 303.0h2.4v2.4h-2.4zM544.1 303.0h2.4v2.4h-2.4zM550.4 303.0h4.5v2.4h-4.5zM556.7 303.0h2.4v2.4h-2.4zM567.2 303.0h2.4v2.4h-2.4zM571.5 303.0h2.4v2.4h-2.4zM575.7 303.0h23.5v2.4h-23.5zM600.9 303.0h4.5v2.4h-4.5zM607.3 303.0h2.4v2.4h-2.4zM613.6 303.0h4.5v2.4h-4.5zM619.9 303.0h15.0v2.4h-15.0zM636.8 303.0h6.6v2.4h-6.6zM647.3 303.0h6.6v2.4h-6.6zM655.7 303.0h12.9v2.4h-12.9zM670.5 303.0h2.4v2.4h-2.4zM68.0 300.9h4.5v2.4h-4.5zM82.7 300.9h4.5v2.4h-4.5zM89.0 300.9h12.9v2.4h-12.9zM112.2 300.9h2.4v2.4h-2.4zM122.7 300.9h2.4v2.4h-2.4zM126.9 300.9h2.4v2.4h-2.4zM131.2 300.9h2.4v2.4h-2.4zM154.3 300.9h4.5v2.4h-4.5zM167.0 300.9h2.4v2.4h-2.4zM175.4 300.9h2.4v2.4h-2.4zM179.6 300.9h2.4v2.4h-2.4zM183.8 300.9h2.4v2.4h-2.4zM207.0 300.9h2.4v2.4h-2.4zM211.2 300.9h8.7v2.4h-8.7zM221.7 300.9h2.4v2.4h-2.4zM226.0 300.9h4.5v2.4h-4.5zM234.4 300.9h4.5v2.4h-4.5zM240.7 300.9h2.4v2.4h-2.4zM247.0 300.9h2.4v2.4h-2.4zM480.9 300.9h2.4v2.4h-2.4zM489.3 300.9h2.4v2.4h-2.4zM504.0 300.9h2.4v2.4h-2.4zM508.3 300.9h15.0v2.4h-15.0zM525.1 300.9h2.4v2.4h-2.4zM535.6 300.9h8.7v2.4h-8.7zM563.0 300.9h2.4v2.4h-2.4zM571.5 300.9h2.4v2.4h-2.4zM577.8 300.9h2.4v2.4h-2.4zM582.0 300.9h6.6v2.4h-6.6zM590.4 300.9h6.6v2.4h-6.6zM603.1 300.9h6.6v2.4h-6.6zM613.6 300.9h6.6v2.4h-6.6zM624.1 300.9h4.5v2.4h-4.5zM630.4 300.9h8.7v2.4h-8.7zM643.1 300.9h2.4v2.4h-2.4zM647.3 300.9h2.4v2.4h-2.4zM651.5 300.9h10.8v2.4h-10.8zM247.0 298.7h2.4v2.4h-2.4zM251.2 298.7h2.4v2.4h-2.4zM451.4 298.7h2.4v2.4h-2.4zM457.7 298.7h2.4v2.4h-2.4zM461.9 298.7h2.4v2.4h-2.4zM466.1 298.7h4.5v2.4h-4.5zM86.9 296.6h2.4v2.4h-2.4zM116.4 296.6h2.4v2.4h-2.4zM120.6 296.6h2.4v2.4h-2.4zM124.8 296.6h2.4v2.4h-2.4zM137.5 296.6h2.4v2.4h-2.4zM150.1 296.6h2.4v2.4h-2.4zM162.8 296.6h2.4v2.4h-2.4zM215.4 296.6h2.4v2.4h-2.4zM236.5 296.6h4.5v2.4h-4.5zM242.8 296.6h4.5v2.4h-4.5zM457.7 296.6h6.6v2.4h-6.6zM497.7 296.6h2.4v2.4h-2.4zM516.7 296.6h2.4v2.4h-2.4zM523.0 296.6h2.4v2.4h-2.4zM548.3 296.6h4.5v2.4h-4.5zM577.8 296.6h4.5v2.4h-4.5zM584.1 296.6h4.5v2.4h-4.5zM590.4 296.6h4.5v2.4h-4.5zM598.8 296.6h2.4v2.4h-2.4zM603.1 296.6h2.4v2.4h-2.4zM68.0 294.4h2.4v2.4h-2.4zM78.5 294.4h6.6v2.4h-6.6zM86.9 294.4h6.6v2.4h-6.6zM95.3 294.4h2.4v2.4h-2.4zM99.6 294.4h2.4v2.4h-2.4zM108.0 294.4h6.6v2.4h-6.6zM120.6 294.4h6.6v2.4h-6.6zM129.1 294.4h2.4v2.4h-2.4zM143.8 294.4h2.4v2.4h-2.4zM160.7 294.4h4.5v2.4h-4.5zM167.0 294.4h2.4v2.4h-2.4zM181.7 294.4h2.4v2.4h-2.4zM185.9 294.4h4.5v2.4h-4.5zM192.3 294.4h4.5v2.4h-4.5zM202.8 294.4h2.4v2.4h-2.4zM209.1 294.4h4.5v2.4h-4.5zM228.1 294.4h2.4v2.4h-2.4zM236.5 294.4h6.6v2.4h-6.6zM244.9 294.4h2.4v2.4h-2.4zM249.1 294.4h4.5v2.4h-4.5zM451.4 294.4h2.4v2.4h-2.4zM457.7 294.4h2.4v2.4h-2.4zM466.1 294.4h2.4v2.4h-2.4zM474.5 294.4h8.7v2.4h-8.7zM487.2 294.4h2.4v2.4h-2.4zM491.4 294.4h4.5v2.4h-4.5zM497.7 294.4h4.5v2.4h-4.5zM506.1 294.4h4.5v2.4h-4.5zM516.7 294.4h2.4v2.4h-2.4zM529.3 294.4h4.5v2.4h-4.5zM537.7 294.4h2.4v2.4h-2.4zM548.3 294.4h2.4v2.4h-2.4zM554.6 294.4h4.5v2.4h-4.5zM563.0 294.4h4.5v2.4h-4.5zM571.5 294.4h8.7v2.4h-8.7zM584.1 294.4h2.4v2.4h-2.4zM596.7 294.4h2.4v2.4h-2.4zM603.1 294.4h6.6v2.4h-6.6zM619.9 294.4h10.8v2.4h-10.8zM634.7 294.4h2.4v2.4h-2.4zM641.0 294.4h4.5v2.4h-4.5zM649.4 294.4h4.5v2.4h-4.5zM662.0 294.4h2.4v2.4h-2.4zM668.4 294.4h4.5v2.4h-4.5zM72.2 292.3h2.4v2.4h-2.4zM76.4 292.3h2.4v2.4h-2.4zM80.6 292.3h6.6v2.4h-6.6zM93.2 292.3h6.6v2.4h-6.6zM101.7 292.3h4.5v2.4h-4.5zM108.0 292.3h4.5v2.4h-4.5zM116.4 292.3h8.7v2.4h-8.7zM129.1 292.3h2.4v2.4h-2.4zM135.4 292.3h6.6v2.4h-6.6zM143.8 292.3h2.4v2.4h-2.4zM148.0 292.3h6.6v2.4h-6.6zM156.4 292.3h6.6v2.4h-6.6zM164.9 292.3h8.7v2.4h-8.7zM175.4 292.3h2.4v2.4h-2.4zM183.8 292.3h4.5v2.4h-4.5zM190.1 292.3h2.4v2.4h-2.4zM194.4 292.3h2.4v2.4h-2.4zM198.6 292.3h6.6v2.4h-6.6zM240.7 292.3h4.5v2.4h-4.5zM249.1 292.3h2.4v2.4h-2.4zM451.4 292.3h2.4v2.4h-2.4zM455.6 292.3h4.5v2.4h-4.5zM466.1 292.3h2.4v2.4h-2.4zM474.5 292.3h6.6v2.4h-6.6zM485.1 292.3h4.5v2.4h-4.5zM491.4 292.3h2.4v2.4h-2.4zM495.6 292.3h6.6v2.4h-6.6zM504.0 292.3h2.4v2.4h-2.4zM512.5 292.3h6.6v2.4h-6.6zM527.2 292.3h2.4v2.4h-2.4zM537.7 292.3h2.4v2.4h-2.4zM542.0 292.3h2.4v2.4h-2.4zM546.2 292.3h2.4v2.4h-2.4zM560.9 292.3h4.5v2.4h-4.5zM575.7 292.3h2.4v2.4h-2.4zM584.1 292.3h2.4v2.4h-2.4zM590.4 292.3h4.5v2.4h-4.5zM598.8 292.3h2.4v2.4h-2.4zM609.4 292.3h4.5v2.4h-4.5zM615.7 292.3h4.5v2.4h-4.5zM626.2 292.3h2.4v2.4h-2.4zM630.4 292.3h10.8v2.4h-10.8zM645.2 292.3h2.4v2.4h-2.4zM659.9 292.3h10.8v2.4h-10.8zM672.6 292.3h2.4v2.4h-2.4zM78.5 290.1h4.5v2.4h-4.5zM86.9 290.1h2.4v2.4h-2.4zM105.9 290.1h2.4v2.4h-2.4zM131.2 290.1h6.6v2.4h-6.6zM143.8 290.1h4.5v2.4h-4.5zM156.4 290.1h4.5v2.4h-4.5zM175.4 290.1h2.4v2.4h-2.4zM179.6 290.1h2.4v2.4h-2.4zM185.9 290.1h4.5v2.4h-4.5zM192.3 290.1h2.4v2.4h-2.4zM207.0 290.1h4.5v2.4h-4.5zM213.3 290.1h2.4v2.4h-2.4zM219.6 290.1h4.5v2.4h-4.5zM226.0 290.1h2.4v2.4h-2.4zM232.3 290.1h2.4v2.4h-2.4zM238.6 290.1h2.4v2.4h-2.4zM247.0 290.1h2.4v2.4h-2.4zM449.3 290.1h2.4v2.4h-2.4zM470.3 290.1h2.4v2.4h-2.4zM487.2 290.1h2.4v2.4h-2.4zM491.4 290.1h2.4v2.4h-2.4zM495.6 290.1h2.4v2.4h-2.4zM501.9 290.1h2.4v2.4h-2.4zM510.4 290.1h2.4v2.4h-2.4zM514.6 290.1h2.4v2.4h-2.4zM527.2 290.1h2.4v2.4h-2.4zM535.6 290.1h2.4v2.4h-2.4zM552.5 290.1h4.5v2.4h-4.5zM571.5 290.1h4.5v2.4h-4.5zM592.5 290.1h2.4v2.4h-2.4zM619.9 290.1h2.4v2.4h-2.4zM636.8 290.1h2.4v2.4h-2.4zM641.0 290.1h2.4v2.4h-2.4zM70.1 288.0h4.5v2.4h-4.5zM76.4 288.0h4.5v2.4h-4.5zM82.7 288.0h2.4v2.4h-2.4zM86.9 288.0h8.7v2.4h-8.7zM97.5 288.0h2.4v2.4h-2.4zM114.3 288.0h2.4v2.4h-2.4zM122.7 288.0h2.4v2.4h-2.4zM126.9 288.0h4.5v2.4h-4.5zM133.3 288.0h2.4v2.4h-2.4zM137.5 288.0h4.5v2.4h-4.5zM150.1 288.0h2.4v2.4h-2.4zM154.3 288.0h2.4v2.4h-2.4zM158.5 288.0h4.5v2.4h-4.5zM171.2 288.0h4.5v2.4h-4.5zM179.6 288.0h2.4v2.4h-2.4zM183.8 288.0h8.7v2.4h-8.7zM194.4 288.0h8.7v2.4h-8.7zM451.4 288.0h6.6v2.4h-6.6zM459.8 288.0h6.6v2.4h-6.6zM468.2 288.0h2.4v2.4h-2.4zM476.7 288.0h6.6v2.4h-6.6zM489.3 288.0h2.4v2.4h-2.4zM506.1 288.0h6.6v2.4h-6.6zM520.9 288.0h2.4v2.4h-2.4zM525.1 288.0h4.5v2.4h-4.5zM533.5 288.0h2.4v2.4h-2.4zM539.9 288.0h2.4v2.4h-2.4zM563.0 288.0h2.4v2.4h-2.4zM571.5 288.0h4.5v2.4h-4.5zM577.8 288.0h17.2v2.4h-17.2zM596.7 288.0h2.4v2.4h-2.4zM605.2 288.0h2.4v2.4h-2.4zM609.4 288.0h4.5v2.4h-4.5zM615.7 288.0h2.4v2.4h-2.4zM619.9 288.0h2.4v2.4h-2.4zM626.2 288.0h2.4v2.4h-2.4zM632.5 288.0h6.6v2.4h-6.6zM643.1 288.0h2.4v2.4h-2.4zM647.3 288.0h2.4v2.4h-2.4zM651.5 288.0h2.4v2.4h-2.4zM657.8 288.0h2.4v2.4h-2.4zM662.0 288.0h2.4v2.4h-2.4zM68.0 285.9h6.6v2.4h-6.6zM76.4 285.9h8.7v2.4h-8.7zM86.9 285.9h4.5v2.4h-4.5zM93.2 285.9h2.4v2.4h-2.4zM97.5 285.9h2.4v2.4h-2.4zM101.7 285.9h2.4v2.4h-2.4zM105.9 285.9h6.6v2.4h-6.6zM114.3 285.9h4.5v2.4h-4.5zM124.8 285.9h12.9v2.4h-12.9zM143.8 285.9h4.5v2.4h-4.5zM152.2 285.9h6.6v2.4h-6.6zM160.7 285.9h8.7v2.4h-8.7zM171.2 285.9h8.7v2.4h-8.7zM181.7 285.9h12.9v2.4h-12.9zM196.5 285.9h8.7v2.4h-8.7zM253.3 285.9h2.4v2.4h-2.4zM449.3 285.9h8.7v2.4h-8.7zM459.8 285.9h2.4v2.4h-2.4zM464.0 285.9h4.5v2.4h-4.5zM470.3 285.9h8.7v2.4h-8.7zM480.9 285.9h8.7v2.4h-8.7zM491.4 285.9h2.4v2.4h-2.4zM542.0 285.9h15.0v2.4h-15.0zM560.9 285.9h2.4v2.4h-2.4zM567.2 285.9h2.4v2.4h-2.4zM577.8 285.9h6.6v2.4h-6.6zM586.2 285.9h2.4v2.4h-2.4zM590.4 285.9h2.4v2.4h-2.4zM596.7 285.9h6.6v2.4h-6.6zM607.3 285.9h2.4v2.4h-2.4zM611.5 285.9h10.8v2.4h-10.8zM624.1 285.9h2.4v2.4h-2.4zM630.4 285.9h10.8v2.4h-10.8zM647.3 285.9h2.4v2.4h-2.4zM662.0 285.9h2.4v2.4h-2.4zM666.3 285.9h8.7v2.4h-8.7zM68.0 283.7h2.4v2.4h-2.4zM72.2 283.7h2.4v2.4h-2.4zM80.6 283.7h6.6v2.4h-6.6zM89.0 283.7h8.7v2.4h-8.7zM99.6 283.7h2.4v2.4h-2.4zM103.8 283.7h2.4v2.4h-2.4zM108.0 283.7h10.8v2.4h-10.8zM126.9 283.7h6.6v2.4h-6.6zM135.4 283.7h2.4v2.4h-2.4zM139.6 283.7h12.9v2.4h-12.9zM154.3 283.7h4.5v2.4h-4.5zM160.7 283.7h2.4v2.4h-2.4zM164.9 283.7h2.4v2.4h-2.4zM169.1 283.7h2.4v2.4h-2.4zM175.4 283.7h2.4v2.4h-2.4zM179.6 283.7h8.7v2.4h-8.7zM190.1 283.7h2.4v2.4h-2.4zM194.4 283.7h2.4v2.4h-2.4zM200.7 283.7h2.4v2.4h-2.4zM253.3 283.7h2.4v2.4h-2.4zM451.4 283.7h2.4v2.4h-2.4zM472.4 283.7h2.4v2.4h-2.4zM476.7 283.7h8.7v2.4h-8.7zM489.3 283.7h2.4v2.4h-2.4zM493.5 283.7h6.6v2.4h-6.6zM504.0 283.7h2.4v2.4h-2.4zM508.3 283.7h25.6v2.4h-25.6zM537.7 283.7h2.4v2.4h-2.4zM542.0 283.7h2.4v2.4h-2.4zM546.2 283.7h2.4v2.4h-2.4zM550.4 283.7h6.6v2.4h-6.6zM558.8 283.7h4.5v2.4h-4.5zM565.1 283.7h4.5v2.4h-4.5zM571.5 283.7h2.4v2.4h-2.4zM617.8 283.7h10.8v2.4h-10.8zM632.5 283.7h2.4v2.4h-2.4zM643.1 283.7h4.5v2.4h-4.5zM657.8 283.7h2.4v2.4h-2.4zM664.1 283.7h4.5v2.4h-4.5zM672.6 283.7h2.4v2.4h-2.4zM68.0 281.6h4.5v2.4h-4.5zM74.3 281.6h2.4v2.4h-2.4zM80.6 281.6h2.4v2.4h-2.4zM89.0 281.6h10.8v2.4h-10.8zM105.9 281.6h4.5v2.4h-4.5zM112.2 281.6h8.7v2.4h-8.7zM122.7 281.6h2.4v2.4h-2.4zM129.1 281.6h8.7v2.4h-8.7zM139.6 281.6h2.4v2.4h-2.4zM145.9 281.6h4.5v2.4h-4.5zM154.3 281.6h4.5v2.4h-4.5zM171.2 281.6h2.4v2.4h-2.4zM177.5 281.6h8.7v2.4h-8.7zM190.1 281.6h6.6v2.4h-6.6zM198.6 281.6h2.4v2.4h-2.4zM202.8 281.6h4.5v2.4h-4.5zM215.4 281.6h2.4v2.4h-2.4zM554.6 281.6h4.5v2.4h-4.5zM560.9 281.6h2.4v2.4h-2.4zM565.1 281.6h2.4v2.4h-2.4zM569.3 281.6h12.9v2.4h-12.9zM586.2 281.6h12.9v2.4h-12.9zM605.2 281.6h4.5v2.4h-4.5zM611.5 281.6h2.4v2.4h-2.4zM615.7 281.6h6.6v2.4h-6.6zM624.1 281.6h4.5v2.4h-4.5zM630.4 281.6h4.5v2.4h-4.5zM636.8 281.6h4.5v2.4h-4.5zM649.4 281.6h4.5v2.4h-4.5zM657.8 281.6h6.6v2.4h-6.6zM670.5 281.6h4.5v2.4h-4.5zM74.3 279.4h25.6v2.4h-25.6zM101.7 279.4h8.7v2.4h-8.7zM112.2 279.4h4.5v2.4h-4.5zM120.6 279.4h2.4v2.4h-2.4zM124.8 279.4h17.2v2.4h-17.2zM143.8 279.4h6.6v2.4h-6.6zM154.3 279.4h6.6v2.4h-6.6zM162.8 279.4h19.3v2.4h-19.3zM183.8 279.4h10.8v2.4h-10.8zM196.5 279.4h4.5v2.4h-4.5zM449.3 279.4h12.9v2.4h-12.9zM464.0 279.4h2.4v2.4h-2.4zM468.2 279.4h2.4v2.4h-2.4zM474.5 279.4h12.9v2.4h-12.9zM491.4 279.4h2.4v2.4h-2.4zM495.6 279.4h4.5v2.4h-4.5zM504.0 279.4h8.7v2.4h-8.7zM518.8 279.4h10.8v2.4h-10.8zM533.5 279.4h2.4v2.4h-2.4zM537.7 279.4h2.4v2.4h-2.4zM542.0 279.4h2.4v2.4h-2.4zM546.2 279.4h10.8v2.4h-10.8zM565.1 279.4h6.6v2.4h-6.6zM575.7 279.4h2.4v2.4h-2.4zM579.9 279.4h2.4v2.4h-2.4zM584.1 279.4h4.5v2.4h-4.5zM590.4 279.4h4.5v2.4h-4.5zM596.7 279.4h6.6v2.4h-6.6zM605.2 279.4h4.5v2.4h-4.5zM611.5 279.4h2.4v2.4h-2.4zM626.2 279.4h12.9v2.4h-12.9zM641.0 279.4h6.6v2.4h-6.6zM653.6 279.4h2.4v2.4h-2.4zM657.8 279.4h6.6v2.4h-6.6zM670.5 279.4h4.5v2.4h-4.5zM68.0 277.3h4.5v2.4h-4.5zM80.6 277.3h2.4v2.4h-2.4zM101.7 277.3h4.5v2.4h-4.5zM110.1 277.3h6.6v2.4h-6.6zM120.6 277.3h4.5v2.4h-4.5zM129.1 277.3h2.4v2.4h-2.4zM137.5 277.3h4.5v2.4h-4.5zM152.2 277.3h4.5v2.4h-4.5zM162.8 277.3h2.4v2.4h-2.4zM173.3 277.3h2.4v2.4h-2.4zM181.7 277.3h2.4v2.4h-2.4zM185.9 277.3h2.4v2.4h-2.4zM190.1 277.3h2.4v2.4h-2.4zM194.4 277.3h2.4v2.4h-2.4zM466.1 277.3h4.5v2.4h-4.5zM476.7 277.3h2.4v2.4h-2.4zM489.3 277.3h2.4v2.4h-2.4zM501.9 277.3h2.4v2.4h-2.4zM531.4 277.3h2.4v2.4h-2.4zM542.0 277.3h4.5v2.4h-4.5zM548.3 277.3h2.4v2.4h-2.4zM554.6 277.3h2.4v2.4h-2.4zM558.8 277.3h8.7v2.4h-8.7zM571.5 277.3h4.5v2.4h-4.5zM577.8 277.3h2.4v2.4h-2.4zM582.0 277.3h6.6v2.4h-6.6zM615.7 277.3h2.4v2.4h-2.4zM628.3 277.3h2.4v2.4h-2.4zM632.5 277.3h2.4v2.4h-2.4zM645.2 277.3h6.6v2.4h-6.6zM653.6 277.3h2.4v2.4h-2.4zM668.4 277.3h4.5v2.4h-4.5zM228.1 275.1h2.4v2.4h-2.4zM234.4 275.1h2.4v2.4h-2.4zM249.1 275.1h2.4v2.4h-2.4zM453.5 275.1h6.6v2.4h-6.6zM472.4 275.1h2.4v2.4h-2.4zM493.5 275.1h2.4v2.4h-2.4zM126.9 273.0h2.4v2.4h-2.4zM148.0 273.0h2.4v2.4h-2.4zM177.5 273.0h4.5v2.4h-4.5zM192.3 273.0h2.4v2.4h-2.4zM207.0 273.0h2.4v2.4h-2.4zM217.5 273.0h2.4v2.4h-2.4zM238.6 273.0h2.4v2.4h-2.4zM247.0 273.0h2.4v2.4h-2.4zM251.2 273.0h2.4v2.4h-2.4zM455.6 273.0h2.4v2.4h-2.4zM466.1 273.0h2.4v2.4h-2.4zM470.3 273.0h2.4v2.4h-2.4zM552.5 273.0h6.6v2.4h-6.6zM571.5 273.0h4.5v2.4h-4.5zM577.8 273.0h2.4v2.4h-2.4zM598.8 273.0h2.4v2.4h-2.4zM622.0 273.0h4.5v2.4h-4.5zM647.3 273.0h2.4v2.4h-2.4zM653.6 273.0h4.5v2.4h-4.5zM664.1 273.0h2.4v2.4h-2.4zM672.6 273.0h2.4v2.4h-2.4zM70.1 270.9h4.5v2.4h-4.5zM78.5 270.9h2.4v2.4h-2.4zM84.8 270.9h4.5v2.4h-4.5zM93.2 270.9h6.6v2.4h-6.6zM101.7 270.9h2.4v2.4h-2.4zM105.9 270.9h4.5v2.4h-4.5zM112.2 270.9h2.4v2.4h-2.4zM116.4 270.9h10.8v2.4h-10.8zM129.1 270.9h2.4v2.4h-2.4zM133.3 270.9h2.4v2.4h-2.4zM139.6 270.9h2.4v2.4h-2.4zM143.8 270.9h2.4v2.4h-2.4zM148.0 270.9h6.6v2.4h-6.6zM169.1 270.9h2.4v2.4h-2.4zM181.7 270.9h2.4v2.4h-2.4zM200.7 270.9h10.8v2.4h-10.8zM217.5 270.9h6.6v2.4h-6.6zM226.0 270.9h10.8v2.4h-10.8zM527.2 270.9h4.5v2.4h-4.5zM533.5 270.9h2.4v2.4h-2.4zM537.7 270.9h4.5v2.4h-4.5zM544.1 270.9h2.4v2.4h-2.4zM548.3 270.9h6.6v2.4h-6.6zM569.3 270.9h2.4v2.4h-2.4zM573.6 270.9h2.4v2.4h-2.4zM577.8 270.9h17.2v2.4h-17.2zM603.1 270.9h4.5v2.4h-4.5zM609.4 270.9h8.7v2.4h-8.7zM649.4 270.9h8.7v2.4h-8.7zM662.0 270.9h4.5v2.4h-4.5zM670.5 270.9h4.5v2.4h-4.5zM280.7 268.7h2.4v2.4h-2.4zM375.5 264.4h6.6v2.4h-6.6zM402.9 264.4h2.4v2.4h-2.4zM424.0 264.4h2.4v2.4h-2.4zM461.9 264.4h2.4v2.4h-2.4zM466.1 264.4h2.4v2.4h-2.4zM470.3 264.4h4.5v2.4h-4.5zM476.7 264.4h2.4v2.4h-2.4zM491.4 264.4h6.6v2.4h-6.6zM506.1 264.4h2.4v2.4h-2.4zM510.4 264.4h2.4v2.4h-2.4zM68.0 255.9h6.6v2.4h-6.6zM78.5 255.9h6.6v2.4h-6.6zM86.9 255.9h2.4v2.4h-2.4zM93.2 255.9h4.5v2.4h-4.5zM99.6 255.9h4.5v2.4h-4.5zM105.9 255.9h2.4v2.4h-2.4zM120.6 255.9h10.8v2.4h-10.8zM141.7 255.9h8.7v2.4h-8.7zM154.3 255.9h2.4v2.4h-2.4zM162.8 255.9h2.4v2.4h-2.4zM167.0 255.9h10.8v2.4h-10.8zM190.1 255.9h17.2v2.4h-17.2zM209.1 255.9h6.6v2.4h-6.6zM223.9 255.9h2.4v2.4h-2.4zM253.3 255.9h2.4v2.4h-2.4zM253.3 247.3h2.4v2.4h-2.4zM137.5 245.1h2.4v2.4h-2.4zM301.8 245.1h2.4v2.4h-2.4zM493.5 245.1h2.4v2.4h-2.4zM497.7 245.1h2.4v2.4h-2.4zM280.7 238.7h4.5v2.4h-4.5zM301.8 238.7h2.4v2.4h-2.4zM310.2 238.7h6.6v2.4h-6.6zM322.9 238.7h2.4v2.4h-2.4zM327.1 238.7h4.5v2.4h-4.5zM337.6 238.7h2.4v2.4h-2.4zM350.3 238.7h4.5v2.4h-4.5zM358.7 238.7h6.6v2.4h-6.6zM379.7 238.7h2.4v2.4h-2.4zM398.7 238.7h2.4v2.4h-2.4zM409.2 238.7h2.4v2.4h-2.4zM226.0 236.6h4.5v2.4h-4.5zM259.7 236.6h2.4v2.4h-2.4zM335.5 236.6h15.0v2.4h-15.0zM354.5 236.6h8.7v2.4h-8.7zM409.2 236.6h2.4v2.4h-2.4zM428.2 236.6h2.4v2.4h-2.4zM440.8 236.6h4.5v2.4h-4.5zM447.2 236.6h2.4v2.4h-2.4zM459.8 236.6h2.4v2.4h-2.4zM464.0 236.6h2.4v2.4h-2.4zM493.5 236.6h6.6v2.4h-6.6zM533.5 236.6h2.4v2.4h-2.4zM238.6 234.4h6.6v2.4h-6.6zM270.2 234.4h2.4v2.4h-2.4zM301.8 234.4h2.4v2.4h-2.4zM310.2 234.4h2.4v2.4h-2.4zM316.5 234.4h4.5v2.4h-4.5zM346.0 234.4h2.4v2.4h-2.4zM352.4 234.4h2.4v2.4h-2.4zM358.7 234.4h2.4v2.4h-2.4zM392.4 234.4h2.4v2.4h-2.4zM421.9 234.4h2.4v2.4h-2.4zM428.2 234.4h2.4v2.4h-2.4zM451.4 234.4h4.5v2.4h-4.5zM459.8 234.4h2.4v2.4h-2.4zM464.0 234.4h2.4v2.4h-2.4zM474.5 234.4h8.7v2.4h-8.7zM495.6 234.4h2.4v2.4h-2.4zM582.0 234.4h2.4v2.4h-2.4zM594.6 234.4h4.5v2.4h-4.5zM70.1 232.3h2.4v2.4h-2.4zM76.4 232.3h15.0v2.4h-15.0zM97.5 232.3h4.5v2.4h-4.5zM108.0 232.3h2.4v2.4h-2.4zM114.3 232.3h2.4v2.4h-2.4zM122.7 232.3h2.4v2.4h-2.4zM131.2 232.3h4.5v2.4h-4.5zM141.7 232.3h4.5v2.4h-4.5zM158.5 232.3h4.5v2.4h-4.5zM173.3 232.3h2.4v2.4h-2.4zM183.8 232.3h2.4v2.4h-2.4zM192.3 232.3h2.4v2.4h-2.4zM196.5 232.3h2.4v2.4h-2.4zM200.7 232.3h2.4v2.4h-2.4zM204.9 232.3h6.6v2.4h-6.6zM223.9 232.3h2.4v2.4h-2.4zM240.7 232.3h2.4v2.4h-2.4zM253.3 232.3h2.4v2.4h-2.4zM280.7 232.3h6.6v2.4h-6.6zM299.7 232.3h4.5v2.4h-4.5zM310.2 232.3h6.6v2.4h-6.6zM352.4 232.3h2.4v2.4h-2.4zM407.1 232.3h6.6v2.4h-6.6zM442.9 232.3h2.4v2.4h-2.4zM447.2 232.3h2.4v2.4h-2.4zM459.8 232.3h6.6v2.4h-6.6zM472.4 232.3h2.4v2.4h-2.4zM497.7 232.3h2.4v2.4h-2.4zM506.1 232.3h2.4v2.4h-2.4zM596.7 232.3h2.4v2.4h-2.4zM666.3 232.3h2.4v2.4h-2.4zM70.1 230.1h2.4v2.4h-2.4zM76.4 230.1h2.4v2.4h-2.4zM89.0 230.1h2.4v2.4h-2.4zM99.6 230.1h4.5v2.4h-4.5zM105.9 230.1h10.8v2.4h-10.8zM124.8 230.1h2.4v2.4h-2.4zM143.8 230.1h4.5v2.4h-4.5zM158.5 230.1h6.6v2.4h-6.6zM171.2 230.1h2.4v2.4h-2.4zM179.6 230.1h8.7v2.4h-8.7zM194.4 230.1h2.4v2.4h-2.4zM198.6 230.1h6.6v2.4h-6.6zM217.5 230.1h2.4v2.4h-2.4zM598.8 230.1h10.8v2.4h-10.8zM611.5 230.1h2.4v2.4h-2.4zM615.7 230.1h2.4v2.4h-2.4zM619.9 230.1h4.5v2.4h-4.5zM628.3 230.1h8.7v2.4h-8.7zM643.1 230.1h2.4v2.4h-2.4zM655.7 230.1h4.5v2.4h-4.5zM662.0 230.1h6.6v2.4h-6.6zM670.5 230.1h4.5v2.4h-4.5zM223.9 228.0h2.4v2.4h-2.4zM255.5 225.9h2.4v2.4h-2.4zM274.4 225.9h2.4v2.4h-2.4zM301.8 225.9h15.0v2.4h-15.0zM333.4 225.9h2.4v2.4h-2.4zM358.7 225.9h2.4v2.4h-2.4zM388.2 225.9h2.4v2.4h-2.4zM402.9 225.9h8.7v2.4h-8.7zM459.8 225.9h2.4v2.4h-2.4zM464.0 225.9h2.4v2.4h-2.4zM474.5 225.9h4.5v2.4h-4.5zM495.6 225.9h4.5v2.4h-4.5zM537.7 225.9h2.4v2.4h-2.4zM651.5 225.9h2.4v2.4h-2.4zM249.1 221.6h2.4v2.4h-2.4zM253.3 221.6h2.4v2.4h-2.4zM312.3 221.6h4.5v2.4h-4.5zM329.2 221.6h2.4v2.4h-2.4zM335.5 221.6h2.4v2.4h-2.4zM346.0 221.6h8.7v2.4h-8.7zM362.9 221.6h2.4v2.4h-2.4zM369.2 221.6h10.8v2.4h-10.8zM415.6 221.6h2.4v2.4h-2.4zM432.4 221.6h6.6v2.4h-6.6zM447.2 221.6h2.4v2.4h-2.4zM451.4 221.6h8.7v2.4h-8.7zM464.0 221.6h2.4v2.4h-2.4zM468.2 221.6h23.5v2.4h-23.5zM495.6 221.6h4.5v2.4h-4.5zM516.7 221.6h2.4v2.4h-2.4zM531.4 221.6h2.4v2.4h-2.4zM539.9 221.6h2.4v2.4h-2.4zM514.6 219.4h2.4v2.4h-2.4zM499.8 217.3h2.4v2.4h-2.4zM504.0 217.3h4.5v2.4h-4.5zM314.4 215.1h2.4v2.4h-2.4zM327.1 215.1h4.5v2.4h-4.5zM335.5 215.1h6.6v2.4h-6.6zM346.0 215.1h4.5v2.4h-4.5zM352.4 215.1h2.4v2.4h-2.4zM356.6 215.1h8.7v2.4h-8.7zM396.6 215.1h2.4v2.4h-2.4zM400.8 215.1h2.4v2.4h-2.4zM405.0 215.1h2.4v2.4h-2.4zM409.2 215.1h4.5v2.4h-4.5zM434.5 215.1h2.4v2.4h-2.4zM442.9 215.1h4.5v2.4h-4.5zM451.4 215.1h4.5v2.4h-4.5zM459.8 215.1h8.7v2.4h-8.7zM474.5 215.1h2.4v2.4h-2.4zM480.9 215.1h6.6v2.4h-6.6zM489.3 215.1h4.5v2.4h-4.5zM499.8 215.1h8.7v2.4h-8.7zM510.4 215.1h2.4v2.4h-2.4zM516.7 215.1h4.5v2.4h-4.5zM68.0 213.0h2.4v2.4h-2.4zM74.3 213.0h4.5v2.4h-4.5zM110.1 213.0h2.4v2.4h-2.4zM114.3 213.0h2.4v2.4h-2.4zM118.5 213.0h2.4v2.4h-2.4zM139.6 213.0h4.5v2.4h-4.5zM148.0 213.0h2.4v2.4h-2.4zM152.2 213.0h2.4v2.4h-2.4zM160.7 213.0h2.4v2.4h-2.4zM167.0 213.0h2.4v2.4h-2.4zM179.6 213.0h2.4v2.4h-2.4zM183.8 213.0h2.4v2.4h-2.4zM188.0 213.0h4.5v2.4h-4.5zM200.7 213.0h6.6v2.4h-6.6zM209.1 213.0h2.4v2.4h-2.4zM213.3 213.0h2.4v2.4h-2.4zM217.5 213.0h2.4v2.4h-2.4zM352.4 213.0h2.4v2.4h-2.4zM434.5 213.0h2.4v2.4h-2.4zM445.1 213.0h4.5v2.4h-4.5zM451.4 213.0h4.5v2.4h-4.5zM457.7 213.0h2.4v2.4h-2.4zM478.8 213.0h2.4v2.4h-2.4zM493.5 213.0h2.4v2.4h-2.4zM499.8 213.0h2.4v2.4h-2.4zM504.0 213.0h2.4v2.4h-2.4zM508.3 213.0h2.4v2.4h-2.4zM512.5 213.0h2.4v2.4h-2.4zM647.3 213.0h2.4v2.4h-2.4zM672.6 213.0h2.4v2.4h-2.4zM223.9 210.9h2.4v2.4h-2.4zM230.2 210.9h2.4v2.4h-2.4zM234.4 210.9h2.4v2.4h-2.4zM255.5 210.9h2.4v2.4h-2.4zM310.2 210.9h2.4v2.4h-2.4zM436.6 210.9h4.5v2.4h-4.5zM451.4 210.9h4.5v2.4h-4.5zM457.7 210.9h2.4v2.4h-2.4zM461.9 210.9h2.4v2.4h-2.4zM466.1 210.9h2.4v2.4h-2.4zM72.2 206.6h2.4v2.4h-2.4zM80.6 206.6h2.4v2.4h-2.4zM89.0 206.6h4.5v2.4h-4.5zM95.3 206.6h2.4v2.4h-2.4zM101.7 206.6h2.4v2.4h-2.4zM110.1 206.6h2.4v2.4h-2.4zM114.3 206.6h4.5v2.4h-4.5zM131.2 206.6h8.7v2.4h-8.7zM158.5 206.6h2.4v2.4h-2.4zM173.3 206.6h10.8v2.4h-10.8zM185.9 206.6h2.4v2.4h-2.4zM190.1 206.6h2.4v2.4h-2.4zM211.2 206.6h6.6v2.4h-6.6zM234.4 206.6h6.6v2.4h-6.6zM244.9 206.6h2.4v2.4h-2.4zM523.0 206.6h4.5v2.4h-4.5zM542.0 206.6h4.5v2.4h-4.5zM579.9 206.6h2.4v2.4h-2.4zM632.5 206.6h21.4v2.4h-21.4zM657.8 206.6h4.5v2.4h-4.5zM670.5 206.6h4.5v2.4h-4.5zM219.6 204.4h2.4v2.4h-2.4zM223.9 204.4h2.4v2.4h-2.4zM251.2 204.4h4.5v2.4h-4.5zM259.7 204.4h2.4v2.4h-2.4zM263.9 204.4h4.5v2.4h-4.5zM272.3 204.4h4.5v2.4h-4.5zM291.3 204.4h2.4v2.4h-2.4zM301.8 204.4h4.5v2.4h-4.5zM341.8 204.4h2.4v2.4h-2.4zM346.0 204.4h8.7v2.4h-8.7zM375.5 204.4h4.5v2.4h-4.5zM413.5 204.4h6.6v2.4h-6.6zM447.2 204.4h2.4v2.4h-2.4zM459.8 204.4h2.4v2.4h-2.4zM470.3 204.4h2.4v2.4h-2.4zM493.5 204.4h6.6v2.4h-6.6zM516.7 204.4h2.4v2.4h-2.4zM535.6 204.4h2.4v2.4h-2.4zM596.7 204.4h2.4v2.4h-2.4zM255.5 200.1h2.4v2.4h-2.4zM280.7 200.1h2.4v2.4h-2.4zM384.0 200.1h2.4v2.4h-2.4zM468.2 200.1h2.4v2.4h-2.4zM346.0 195.9h2.4v2.4h-2.4zM421.9 195.9h2.4v2.4h-2.4zM432.4 195.9h2.4v2.4h-2.4zM468.2 195.9h2.4v2.4h-2.4zM478.8 195.9h2.4v2.4h-2.4zM499.8 195.9h6.6v2.4h-6.6zM72.2 189.4h4.5v2.4h-4.5zM78.5 189.4h2.4v2.4h-2.4zM97.5 189.4h8.7v2.4h-8.7zM112.2 189.4h2.4v2.4h-2.4zM129.1 189.4h4.5v2.4h-4.5zM139.6 189.4h6.6v2.4h-6.6zM148.0 189.4h10.8v2.4h-10.8zM173.3 189.4h4.5v2.4h-4.5zM179.6 189.4h2.4v2.4h-2.4zM183.8 189.4h2.4v2.4h-2.4zM200.7 189.4h2.4v2.4h-2.4zM259.7 189.4h2.4v2.4h-2.4zM299.7 189.4h4.5v2.4h-4.5zM312.3 189.4h2.4v2.4h-2.4zM362.9 189.4h2.4v2.4h-2.4zM390.3 189.4h2.4v2.4h-2.4zM464.0 189.4h2.4v2.4h-2.4zM493.5 189.4h2.4v2.4h-2.4zM459.8 176.6h2.4v2.4h-2.4zM554.6 176.6h6.6v2.4h-6.6zM563.0 176.6h2.4v2.4h-2.4zM571.5 176.6h2.4v2.4h-2.4zM584.1 176.6h2.4v2.4h-2.4zM588.3 176.6h2.4v2.4h-2.4zM411.3 165.9h2.4v2.4h-2.4zM436.6 165.9h2.4v2.4h-2.4zM453.5 165.9h4.5v2.4h-4.5zM459.8 165.9h2.4v2.4h-2.4zM472.4 165.9h2.4v2.4h-2.4zM480.9 165.9h2.4v2.4h-2.4zM489.3 165.9h2.4v2.4h-2.4zM413.5 163.7h6.6v2.4h-6.6zM421.9 163.7h2.4v2.4h-2.4zM489.3 163.7h2.4v2.4h-2.4zM516.7 163.7h2.4v2.4h-2.4zM173.3 161.6h2.4v2.4h-2.4zM464.0 161.6h2.4v2.4h-2.4zM476.7 161.6h2.4v2.4h-2.4zM491.4 161.6h6.6v2.4h-6.6zM413.5 159.4h2.4v2.4h-2.4zM417.7 159.4h2.4v2.4h-2.4zM438.7 159.4h2.4v2.4h-2.4zM449.3 159.4h8.7v2.4h-8.7zM466.1 159.4h4.5v2.4h-4.5zM474.5 159.4h4.5v2.4h-4.5zM489.3 159.4h2.4v2.4h-2.4zM493.5 159.4h4.5v2.4h-4.5zM504.0 159.4h2.4v2.4h-2.4zM508.3 159.4h2.4v2.4h-2.4zM512.5 159.4h2.4v2.4h-2.4zM516.7 159.4h2.4v2.4h-2.4zM449.3 157.3h6.6v2.4h-6.6zM457.7 157.3h2.4v2.4h-2.4zM461.9 157.3h2.4v2.4h-2.4zM483.0 157.3h2.4v2.4h-2.4zM487.2 157.3h2.4v2.4h-2.4zM510.4 157.3h2.4v2.4h-2.4zM514.6 157.3h2.4v2.4h-2.4zM518.8 157.3h4.5v2.4h-4.5zM413.5 155.1h2.4v2.4h-2.4zM449.3 155.1h6.6v2.4h-6.6zM459.8 155.1h4.5v2.4h-4.5zM474.5 155.1h2.4v2.4h-2.4zM480.9 155.1h4.5v2.4h-4.5zM497.7 155.1h8.7v2.4h-8.7zM516.7 155.1h2.4v2.4h-2.4zM369.2 150.8h2.4v2.5h-2.4zM223.9 148.6h8.7v2.5h-8.7zM234.4 148.6h2.4v2.5h-2.4zM240.7 148.6h4.5v2.5h-4.5zM251.2 148.6h2.4v2.5h-2.4zM268.1 148.6h2.4v2.5h-2.4zM270.2 131.2h2.4v2.5h-2.4zM280.7 131.2h4.5v2.5h-4.5zM291.3 131.2h2.4v2.5h-2.4zM297.6 131.2h2.4v2.5h-2.4zM306.0 131.2h2.4v2.5h-2.4zM367.1 131.2h4.5v2.5h-4.5zM451.4 131.2h2.4v2.5h-2.4zM461.9 131.2h2.4v2.5h-2.4zM499.8 131.2h4.5v2.5h-4.5zM510.4 131.2h2.4v2.5h-2.4zM520.9 131.2h2.4v2.5h-2.4zM358.7 118.1h2.4v2.5h-2.4zM436.6 118.1h6.6v2.5h-6.6zM400.8 111.6h2.4v2.5h-2.4zM405.0 111.6h2.4v2.5h-2.4zM318.7 100.7h2.4v2.5h-2.4zM402.9 100.7h2.4v2.5h-2.4zM236.5 89.8h2.4v2.5h-2.4zM297.6 89.8h4.5v2.5h-4.5zM310.2 89.8h2.4v2.5h-2.4zM428.2 89.8h2.4v2.5h-2.4zM400.8 76.7h2.4v2.5h-2.4zM384.0 74.5h2.4v2.5h-2.4zM371.3 72.4h2.4v2.5h-2.4zM381.9 72.4h2.4v2.5h-2.4zM405.0 70.2h2.4v2.5h-2.4z"/><path fill="#93fda9" d="M137.5 337.3h2.4v2.4h-2.4zM504.0 337.3h2.4v2.4h-2.4zM584.1 337.3h2.4v2.4h-2.4zM257.6 335.1h2.4v2.4h-2.4zM266.0 335.1h2.4v2.4h-2.4zM274.4 335.1h2.4v2.4h-2.4zM289.2 335.1h2.4v2.4h-2.4zM339.7 335.1h2.4v2.4h-2.4zM343.9 335.1h2.4v2.4h-2.4zM348.1 335.1h2.4v2.4h-2.4zM487.2 333.0h2.4v2.4h-2.4zM72.2 330.9h2.4v2.4h-2.4zM76.4 330.9h2.4v2.4h-2.4zM116.4 330.9h2.4v2.4h-2.4zM164.9 330.9h2.4v2.4h-2.4zM183.8 330.9h2.4v2.4h-2.4zM190.1 330.9h2.4v2.4h-2.4zM202.8 330.9h2.4v2.4h-2.4zM242.8 330.9h2.4v2.4h-2.4zM478.8 330.9h2.4v2.4h-2.4zM485.1 330.9h2.4v2.4h-2.4zM499.8 330.9h2.4v2.4h-2.4zM504.0 330.9h4.5v2.4h-4.5zM560.9 330.9h2.4v2.4h-2.4zM590.4 330.9h2.4v2.4h-2.4zM613.6 330.9h2.4v2.4h-2.4zM670.5 330.9h2.4v2.4h-2.4zM82.7 328.7h2.4v2.4h-2.4zM89.0 328.7h2.4v2.4h-2.4zM93.2 328.7h6.6v2.4h-6.6zM219.6 328.7h2.4v2.4h-2.4zM228.1 328.7h4.5v2.4h-4.5zM234.4 328.7h19.3v2.4h-19.3zM257.6 328.7h10.8v2.4h-10.8zM270.2 328.7h21.4v2.4h-21.4zM293.4 328.7h25.6v2.4h-25.6zM320.8 328.7h10.8v2.4h-10.8zM333.4 328.7h2.4v2.4h-2.4zM341.8 328.7h2.4v2.4h-2.4zM348.1 328.7h15.0v2.4h-15.0zM365.0 328.7h2.4v2.4h-2.4zM371.3 328.7h2.4v2.4h-2.4zM375.5 328.7h25.6v2.4h-25.6zM405.0 328.7h4.5v2.4h-4.5zM415.6 328.7h2.4v2.4h-2.4zM421.9 328.7h2.4v2.4h-2.4zM430.3 328.7h2.4v2.4h-2.4zM434.5 328.7h15.0v2.4h-15.0zM451.4 328.7h8.7v2.4h-8.7zM461.9 328.7h12.9v2.4h-12.9zM476.7 328.7h17.2v2.4h-17.2zM495.6 328.7h4.5v2.4h-4.5zM504.0 328.7h19.3v2.4h-19.3zM525.1 328.7h2.4v2.4h-2.4zM531.4 328.7h4.5v2.4h-4.5zM537.7 328.7h2.4v2.4h-2.4zM563.0 328.7h2.4v2.4h-2.4zM632.5 328.7h2.4v2.4h-2.4zM70.1 326.6h2.4v2.4h-2.4zM80.6 326.6h8.7v2.4h-8.7zM95.3 326.6h2.4v2.4h-2.4zM101.7 326.6h6.6v2.4h-6.6zM112.2 326.6h2.4v2.4h-2.4zM116.4 326.6h6.6v2.4h-6.6zM131.2 326.6h6.6v2.4h-6.6zM139.6 326.6h6.6v2.4h-6.6zM154.3 326.6h2.4v2.4h-2.4zM158.5 326.6h2.4v2.4h-2.4zM169.1 326.6h2.4v2.4h-2.4zM173.3 326.6h2.4v2.4h-2.4zM179.6 326.6h2.4v2.4h-2.4zM183.8 326.6h2.4v2.4h-2.4zM188.0 326.6h2.4v2.4h-2.4zM192.3 326.6h2.4v2.4h-2.4zM236.5 326.6h4.5v2.4h-4.5zM255.5 326.6h2.4v2.4h-2.4zM261.8 326.6h4.5v2.4h-4.5zM523.0 326.6h2.4v2.4h-2.4zM527.2 326.6h4.5v2.4h-4.5zM533.5 326.6h8.7v2.4h-8.7zM546.2 326.6h4.5v2.4h-4.5zM552.5 326.6h2.4v2.4h-2.4zM556.7 326.6h8.7v2.4h-8.7zM573.6 326.6h6.6v2.4h-6.6zM586.2 326.6h12.9v2.4h-12.9zM600.9 326.6h2.4v2.4h-2.4zM609.4 326.6h2.4v2.4h-2.4zM634.7 326.6h2.4v2.4h-2.4zM651.5 326.6h4.5v2.4h-4.5zM659.9 326.6h4.5v2.4h-4.5zM668.4 326.6h6.6v2.4h-6.6zM70.1 324.4h4.5v2.4h-4.5zM80.6 324.4h2.4v2.4h-2.4zM84.8 324.4h2.4v2.4h-2.4zM93.2 324.4h2.4v2.4h-2.4zM97.5 324.4h2.4v2.4h-2.4zM101.7 324.4h4.5v2.4h-4.5zM108.0 324.4h2.4v2.4h-2.4zM133.3 324.4h2.4v2.4h-2.4zM139.6 324.4h2.4v2.4h-2.4zM145.9 324.4h2.4v2.4h-2.4zM162.8 324.4h4.5v2.4h-4.5zM173.3 324.4h2.4v2.4h-2.4zM192.3 324.4h2.4v2.4h-2.4zM200.7 324.4h12.9v2.4h-12.9zM217.5 324.4h4.5v2.4h-4.5zM226.0 324.4h2.4v2.4h-2.4zM230.2 324.4h6.6v2.4h-6.6zM238.6 324.4h4.5v2.4h-4.5zM244.9 324.4h2.4v2.4h-2.4zM249.1 324.4h2.4v2.4h-2.4zM478.8 324.4h4.5v2.4h-4.5zM487.2 324.4h4.5v2.4h-4.5zM495.6 324.4h2.4v2.4h-2.4zM508.3 324.4h2.4v2.4h-2.4zM512.5 324.4h2.4v2.4h-2.4zM518.8 324.4h6.6v2.4h-6.6zM527.2 324.4h2.4v2.4h-2.4zM539.9 324.4h2.4v2.4h-2.4zM546.2 324.4h2.4v2.4h-2.4zM554.6 324.4h4.5v2.4h-4.5zM569.3 324.4h2.4v2.4h-2.4zM575.7 324.4h4.5v2.4h-4.5zM582.0 324.4h2.4v2.4h-2.4zM590.4 324.4h2.4v2.4h-2.4zM598.8 324.4h2.4v2.4h-2.4zM613.6 324.4h2.4v2.4h-2.4zM624.1 324.4h2.4v2.4h-2.4zM630.4 324.4h4.5v2.4h-4.5zM638.9 324.4h4.5v2.4h-4.5zM653.6 324.4h2.4v2.4h-2.4zM657.8 324.4h2.4v2.4h-2.4zM664.1 324.4h2.4v2.4h-2.4zM68.0 322.3h2.4v2.4h-2.4zM97.5 322.3h4.5v2.4h-4.5zM145.9 322.3h2.4v2.4h-2.4zM150.1 322.3h2.4v2.4h-2.4zM154.3 322.3h4.5v2.4h-4.5zM162.8 322.3h2.4v2.4h-2.4zM167.0 322.3h2.4v2.4h-2.4zM183.8 322.3h2.4v2.4h-2.4zM192.3 322.3h2.4v2.4h-2.4zM223.9 322.3h2.4v2.4h-2.4zM228.1 322.3h2.4v2.4h-2.4zM249.1 322.3h2.4v2.4h-2.4zM523.0 322.3h2.4v2.4h-2.4zM529.3 322.3h2.4v2.4h-2.4zM535.6 322.3h2.4v2.4h-2.4zM554.6 322.3h2.4v2.4h-2.4zM592.5 322.3h4.5v2.4h-4.5zM607.3 322.3h4.5v2.4h-4.5zM634.7 322.3h4.5v2.4h-4.5zM78.5 320.1h4.5v2.4h-4.5zM110.1 320.1h4.5v2.4h-4.5zM116.4 320.1h2.4v2.4h-2.4zM655.7 320.1h2.4v2.4h-2.4zM131.2 318.0h2.4v2.4h-2.4zM135.4 318.0h2.4v2.4h-2.4zM139.6 318.0h2.4v2.4h-2.4zM148.0 318.0h2.4v2.4h-2.4zM188.0 318.0h2.4v2.4h-2.4zM194.4 318.0h2.4v2.4h-2.4zM249.1 318.0h2.4v2.4h-2.4zM476.7 318.0h2.4v2.4h-2.4zM520.9 318.0h6.6v2.4h-6.6zM544.1 318.0h2.4v2.4h-2.4zM594.6 318.0h2.4v2.4h-2.4zM605.2 318.0h4.5v2.4h-4.5zM611.5 318.0h2.4v2.4h-2.4zM619.9 318.0h2.4v2.4h-2.4zM628.3 318.0h2.4v2.4h-2.4zM632.5 318.0h2.4v2.4h-2.4zM638.9 318.0h4.5v2.4h-4.5zM657.8 318.0h2.4v2.4h-2.4zM668.4 318.0h4.5v2.4h-4.5zM137.5 315.9h2.4v2.4h-2.4zM213.3 315.9h2.4v2.4h-2.4zM472.4 315.9h2.4v2.4h-2.4zM487.2 315.9h2.4v2.4h-2.4zM556.7 315.9h2.4v2.4h-2.4zM68.0 313.7h2.4v2.4h-2.4zM120.6 313.7h4.5v2.4h-4.5zM129.1 313.7h2.4v2.4h-2.4zM177.5 313.7h2.4v2.4h-2.4zM510.4 313.7h2.4v2.4h-2.4zM533.5 313.7h2.4v2.4h-2.4zM558.8 313.7h2.4v2.4h-2.4zM636.8 313.7h2.4v2.4h-2.4zM651.5 313.7h2.4v2.4h-2.4zM74.3 311.6h2.4v2.4h-2.4zM80.6 311.6h2.4v2.4h-2.4zM93.2 311.6h2.4v2.4h-2.4zM152.2 311.6h2.4v2.4h-2.4zM194.4 311.6h2.4v2.4h-2.4zM242.8 311.6h2.4v2.4h-2.4zM247.0 311.6h2.4v2.4h-2.4zM483.0 311.6h6.6v2.4h-6.6zM497.7 311.6h2.4v2.4h-2.4zM539.9 311.6h2.4v2.4h-2.4zM560.9 311.6h2.4v2.4h-2.4zM584.1 311.6h2.4v2.4h-2.4zM609.4 311.6h2.4v2.4h-2.4zM615.7 311.6h2.4v2.4h-2.4zM622.0 311.6h2.4v2.4h-2.4zM636.8 311.6h2.4v2.4h-2.4zM655.7 311.6h2.4v2.4h-2.4zM544.1 309.4h2.4v2.4h-2.4zM97.5 307.3h4.5v2.4h-4.5zM112.2 307.3h2.4v2.4h-2.4zM192.3 307.3h2.4v2.4h-2.4zM535.6 307.3h2.4v2.4h-2.4zM659.9 307.3h12.9v2.4h-12.9zM76.4 305.1h6.6v2.4h-6.6zM103.8 305.1h2.4v2.4h-2.4zM114.3 305.1h2.4v2.4h-2.4zM118.5 305.1h2.4v2.4h-2.4zM135.4 305.1h2.4v2.4h-2.4zM162.8 305.1h4.5v2.4h-4.5zM169.1 305.1h2.4v2.4h-2.4zM202.8 305.1h2.4v2.4h-2.4zM211.2 305.1h4.5v2.4h-4.5zM217.5 305.1h2.4v2.4h-2.4zM221.7 305.1h2.4v2.4h-2.4zM226.0 305.1h2.4v2.4h-2.4zM232.3 305.1h2.4v2.4h-2.4zM236.5 305.1h12.9v2.4h-12.9zM483.0 305.1h4.5v2.4h-4.5zM491.4 305.1h2.4v2.4h-2.4zM497.7 305.1h4.5v2.4h-4.5zM504.0 305.1h2.4v2.4h-2.4zM512.5 305.1h2.4v2.4h-2.4zM527.2 305.1h4.5v2.4h-4.5zM537.7 305.1h2.4v2.4h-2.4zM552.5 305.1h2.4v2.4h-2.4zM563.0 305.1h2.4v2.4h-2.4zM567.2 305.1h2.4v2.4h-2.4zM605.2 305.1h4.5v2.4h-4.5zM634.7 305.1h2.4v2.4h-2.4zM659.9 305.1h2.4v2.4h-2.4zM68.0 303.0h8.7v2.4h-8.7zM78.5 303.0h12.9v2.4h-12.9zM93.2 303.0h2.4v2.4h-2.4zM97.5 303.0h10.8v2.4h-10.8zM110.1 303.0h4.5v2.4h-4.5zM120.6 303.0h4.5v2.4h-4.5zM126.9 303.0h2.4v2.4h-2.4zM131.2 303.0h6.6v2.4h-6.6zM139.6 303.0h4.5v2.4h-4.5zM145.9 303.0h10.8v2.4h-10.8zM158.5 303.0h4.5v2.4h-4.5zM164.9 303.0h2.4v2.4h-2.4zM169.1 303.0h4.5v2.4h-4.5zM175.4 303.0h6.6v2.4h-6.6zM188.0 303.0h2.4v2.4h-2.4zM192.3 303.0h2.4v2.4h-2.4zM196.5 303.0h8.7v2.4h-8.7zM207.0 303.0h19.3v2.4h-19.3zM230.2 303.0h15.0v2.4h-15.0zM247.0 303.0h4.5v2.4h-4.5zM483.0 303.0h2.4v2.4h-2.4zM493.5 303.0h4.5v2.4h-4.5zM508.3 303.0h2.4v2.4h-2.4zM537.7 303.0h2.4v2.4h-2.4zM546.2 303.0h2.4v2.4h-2.4zM554.6 303.0h2.4v2.4h-2.4zM605.2 303.0h2.4v2.4h-2.4zM609.4 303.0h2.4v2.4h-2.4zM617.8 303.0h2.4v2.4h-2.4zM643.1 303.0h4.5v2.4h-4.5zM653.6 303.0h2.4v2.4h-2.4zM668.4 303.0h2.4v2.4h-2.4zM672.6 303.0h2.4v2.4h-2.4zM86.9 300.9h2.4v2.4h-2.4zM116.4 300.9h2.4v2.4h-2.4zM223.9 300.9h2.4v2.4h-2.4zM232.3 300.9h2.4v2.4h-2.4zM641.0 300.9h2.4v2.4h-2.4zM95.3 298.7h2.4v2.4h-2.4zM103.8 298.7h2.4v2.4h-2.4zM453.5 298.7h4.5v2.4h-4.5zM464.0 298.7h2.4v2.4h-2.4zM539.9 298.7h4.5v2.4h-4.5zM645.2 298.7h2.4v2.4h-2.4zM649.4 298.7h6.6v2.4h-6.6zM89.0 296.6h2.4v2.4h-2.4zM171.2 296.6h2.4v2.4h-2.4zM93.2 294.4h2.4v2.4h-2.4zM97.5 294.4h2.4v2.4h-2.4zM126.9 294.4h2.4v2.4h-2.4zM196.5 294.4h2.4v2.4h-2.4zM219.6 294.4h2.4v2.4h-2.4zM230.2 294.4h2.4v2.4h-2.4zM242.8 294.4h2.4v2.4h-2.4zM504.0 294.4h2.4v2.4h-2.4zM512.5 294.4h2.4v2.4h-2.4zM550.4 294.4h2.4v2.4h-2.4zM653.6 294.4h2.4v2.4h-2.4zM664.1 294.4h2.4v2.4h-2.4zM78.5 292.3h2.4v2.4h-2.4zM105.9 292.3h2.4v2.4h-2.4zM114.3 292.3h2.4v2.4h-2.4zM124.8 292.3h4.5v2.4h-4.5zM204.9 292.3h4.5v2.4h-4.5zM223.9 292.3h2.4v2.4h-2.4zM244.9 292.3h2.4v2.4h-2.4zM489.3 292.3h2.4v2.4h-2.4zM550.4 292.3h4.5v2.4h-4.5zM594.6 292.3h4.5v2.4h-4.5zM613.6 292.3h2.4v2.4h-2.4zM619.9 292.3h2.4v2.4h-2.4zM624.1 292.3h2.4v2.4h-2.4zM641.0 292.3h2.4v2.4h-2.4zM223.9 290.1h2.4v2.4h-2.4zM110.1 288.0h2.4v2.4h-2.4zM118.5 288.0h2.4v2.4h-2.4zM175.4 288.0h2.4v2.4h-2.4zM181.7 288.0h2.4v2.4h-2.4zM192.3 288.0h2.4v2.4h-2.4zM230.2 288.0h4.5v2.4h-4.5zM474.5 288.0h2.4v2.4h-2.4zM501.9 288.0h2.4v2.4h-2.4zM575.7 288.0h2.4v2.4h-2.4zM630.4 288.0h2.4v2.4h-2.4zM74.3 285.9h2.4v2.4h-2.4zM84.8 285.9h2.4v2.4h-2.4zM91.1 285.9h2.4v2.4h-2.4zM95.3 285.9h2.4v2.4h-2.4zM99.6 285.9h2.4v2.4h-2.4zM103.8 285.9h2.4v2.4h-2.4zM112.2 285.9h2.4v2.4h-2.4zM137.5 285.9h6.6v2.4h-6.6zM148.0 285.9h4.5v2.4h-4.5zM158.5 285.9h2.4v2.4h-2.4zM169.1 285.9h2.4v2.4h-2.4zM179.6 285.9h2.4v2.4h-2.4zM194.4 285.9h2.4v2.4h-2.4zM457.7 285.9h2.4v2.4h-2.4zM461.9 285.9h2.4v2.4h-2.4zM468.2 285.9h2.4v2.4h-2.4zM478.8 285.9h2.4v2.4h-2.4zM514.6 285.9h4.5v2.4h-4.5zM537.7 285.9h2.4v2.4h-2.4zM558.8 285.9h2.4v2.4h-2.4zM565.1 285.9h2.4v2.4h-2.4zM569.3 285.9h8.7v2.4h-8.7zM584.1 285.9h2.4v2.4h-2.4zM592.5 285.9h4.5v2.4h-4.5zM609.4 285.9h2.4v2.4h-2.4zM622.0 285.9h2.4v2.4h-2.4zM641.0 285.9h6.6v2.4h-6.6zM649.4 285.9h12.9v2.4h-12.9zM664.1 285.9h2.4v2.4h-2.4zM70.1 283.7h2.4v2.4h-2.4zM74.3 283.7h4.5v2.4h-4.5zM86.9 283.7h2.4v2.4h-2.4zM97.5 283.7h2.4v2.4h-2.4zM101.7 283.7h2.4v2.4h-2.4zM105.9 283.7h2.4v2.4h-2.4zM120.6 283.7h6.6v2.4h-6.6zM133.3 283.7h2.4v2.4h-2.4zM162.8 283.7h2.4v2.4h-2.4zM167.0 283.7h2.4v2.4h-2.4zM171.2 283.7h4.5v2.4h-4.5zM177.5 283.7h2.4v2.4h-2.4zM188.0 283.7h2.4v2.4h-2.4zM192.3 283.7h2.4v2.4h-2.4zM196.5 283.7h4.5v2.4h-4.5zM202.8 283.7h2.4v2.4h-2.4zM207.0 283.7h15.0v2.4h-15.0zM244.9 283.7h8.7v2.4h-8.7zM453.5 283.7h2.4v2.4h-2.4zM459.8 283.7h12.9v2.4h-12.9zM474.5 283.7h2.4v2.4h-2.4zM485.1 283.7h4.5v2.4h-4.5zM491.4 283.7h2.4v2.4h-2.4zM501.9 283.7h2.4v2.4h-2.4zM533.5 283.7h4.5v2.4h-4.5zM539.9 283.7h2.4v2.4h-2.4zM544.1 283.7h2.4v2.4h-2.4zM556.7 283.7h2.4v2.4h-2.4zM563.0 283.7h2.4v2.4h-2.4zM569.3 283.7h2.4v2.4h-2.4zM615.7 283.7h2.4v2.4h-2.4zM628.3 283.7h4.5v2.4h-4.5zM634.7 283.7h8.7v2.4h-8.7zM647.3 283.7h10.8v2.4h-10.8zM659.9 283.7h4.5v2.4h-4.5zM668.4 283.7h4.5v2.4h-4.5zM76.4 281.6h2.4v2.4h-2.4zM207.0 281.6h4.5v2.4h-4.5zM213.3 281.6h2.4v2.4h-2.4zM217.5 281.6h2.4v2.4h-2.4zM598.8 281.6h4.5v2.4h-4.5zM628.3 281.6h2.4v2.4h-2.4zM655.7 281.6h2.4v2.4h-2.4zM666.3 281.6h2.4v2.4h-2.4zM99.6 279.4h2.4v2.4h-2.4zM110.1 279.4h2.4v2.4h-2.4zM116.4 279.4h2.4v2.4h-2.4zM141.7 279.4h2.4v2.4h-2.4zM160.7 279.4h2.4v2.4h-2.4zM181.7 279.4h2.4v2.4h-2.4zM200.7 279.4h2.4v2.4h-2.4zM461.9 279.4h2.4v2.4h-2.4zM514.6 279.4h2.4v2.4h-2.4zM529.3 279.4h2.4v2.4h-2.4zM544.1 279.4h2.4v2.4h-2.4zM558.8 279.4h6.6v2.4h-6.6zM573.6 279.4h2.4v2.4h-2.4zM588.3 279.4h2.4v2.4h-2.4zM594.6 279.4h2.4v2.4h-2.4zM603.1 279.4h2.4v2.4h-2.4zM609.4 279.4h2.4v2.4h-2.4zM613.6 279.4h4.5v2.4h-4.5zM619.9 279.4h6.6v2.4h-6.6zM647.3 279.4h2.4v2.4h-2.4zM651.5 279.4h2.4v2.4h-2.4zM655.7 279.4h2.4v2.4h-2.4zM668.4 279.4h2.4v2.4h-2.4zM177.5 277.3h2.4v2.4h-2.4zM539.9 277.3h2.4v2.4h-2.4zM617.8 277.3h2.4v2.4h-2.4zM74.3 275.1h4.5v2.4h-4.5zM108.0 275.1h2.4v2.4h-2.4zM112.2 275.1h6.6v2.4h-6.6zM135.4 275.1h4.5v2.4h-4.5zM179.6 275.1h2.4v2.4h-2.4zM194.4 275.1h2.4v2.4h-2.4zM219.6 275.1h6.6v2.4h-6.6zM459.8 275.1h2.4v2.4h-2.4zM480.9 275.1h2.4v2.4h-2.4zM525.1 275.1h2.4v2.4h-2.4zM598.8 275.1h2.4v2.4h-2.4zM68.0 270.9h2.4v2.4h-2.4zM91.1 270.9h2.4v2.4h-2.4zM131.2 270.9h2.4v2.4h-2.4zM135.4 270.9h2.4v2.4h-2.4zM141.7 270.9h2.4v2.4h-2.4zM162.8 270.9h2.4v2.4h-2.4zM179.6 270.9h2.4v2.4h-2.4zM211.2 270.9h6.6v2.4h-6.6zM223.9 270.9h2.4v2.4h-2.4zM546.2 270.9h2.4v2.4h-2.4zM567.2 270.9h2.4v2.4h-2.4zM575.7 270.9h2.4v2.4h-2.4zM607.3 270.9h2.4v2.4h-2.4zM617.8 270.9h6.6v2.4h-6.6zM666.3 270.9h4.5v2.4h-4.5zM369.2 264.4h2.4v2.4h-2.4zM373.4 264.4h2.4v2.4h-2.4zM390.3 264.4h2.4v2.4h-2.4zM396.6 264.4h6.6v2.4h-6.6zM407.1 264.4h2.4v2.4h-2.4zM419.8 264.4h4.5v2.4h-4.5zM428.2 264.4h2.4v2.4h-2.4zM453.5 264.4h2.4v2.4h-2.4zM464.0 264.4h2.4v2.4h-2.4zM468.2 264.4h2.4v2.4h-2.4zM489.3 264.4h2.4v2.4h-2.4zM508.3 264.4h2.4v2.4h-2.4zM512.5 264.4h4.5v2.4h-4.5zM74.3 255.9h4.5v2.4h-4.5zM89.0 255.9h4.5v2.4h-4.5zM164.9 255.9h2.4v2.4h-2.4zM215.4 255.9h2.4v2.4h-2.4zM223.9 236.6h2.4v2.4h-2.4zM72.2 232.3h2.4v2.4h-2.4zM91.1 232.3h4.5v2.4h-4.5zM103.8 232.3h4.5v2.4h-4.5zM112.2 232.3h2.4v2.4h-2.4zM116.4 232.3h4.5v2.4h-4.5zM124.8 232.3h2.4v2.4h-2.4zM129.1 232.3h2.4v2.4h-2.4zM135.4 232.3h4.5v2.4h-4.5zM150.1 232.3h2.4v2.4h-2.4zM156.4 232.3h2.4v2.4h-2.4zM162.8 232.3h10.8v2.4h-10.8zM175.4 232.3h4.5v2.4h-4.5zM185.9 232.3h6.6v2.4h-6.6zM194.4 232.3h2.4v2.4h-2.4zM198.6 232.3h2.4v2.4h-2.4zM202.8 232.3h2.4v2.4h-2.4zM211.2 232.3h4.5v2.4h-4.5zM72.2 230.1h4.5v2.4h-4.5zM91.1 230.1h4.5v2.4h-4.5zM97.5 230.1h2.4v2.4h-2.4zM103.8 230.1h2.4v2.4h-2.4zM116.4 230.1h8.7v2.4h-8.7zM133.3 230.1h6.6v2.4h-6.6zM154.3 230.1h4.5v2.4h-4.5zM173.3 230.1h6.6v2.4h-6.6zM192.3 230.1h2.4v2.4h-2.4zM207.0 230.1h4.5v2.4h-4.5zM497.7 217.3h2.4v2.4h-2.4zM449.3 215.1h2.4v2.4h-2.4zM493.5 215.1h6.6v2.4h-6.6zM70.1 213.0h4.5v2.4h-4.5zM80.6 213.0h12.9v2.4h-12.9zM95.3 213.0h2.4v2.4h-2.4zM99.6 213.0h4.5v2.4h-4.5zM112.2 213.0h2.4v2.4h-2.4zM126.9 213.0h12.9v2.4h-12.9zM143.8 213.0h2.4v2.4h-2.4zM156.4 213.0h4.5v2.4h-4.5zM162.8 213.0h4.5v2.4h-4.5zM169.1 213.0h4.5v2.4h-4.5zM181.7 213.0h2.4v2.4h-2.4zM192.3 213.0h8.7v2.4h-8.7zM207.0 213.0h2.4v2.4h-2.4zM615.7 213.0h8.7v2.4h-8.7zM634.7 213.0h2.4v2.4h-2.4zM649.4 213.0h2.4v2.4h-2.4zM653.6 213.0h2.4v2.4h-2.4zM670.5 213.0h2.4v2.4h-2.4zM447.2 210.9h2.4v2.4h-2.4zM455.6 210.9h2.4v2.4h-2.4zM459.8 210.9h2.4v2.4h-2.4zM464.0 210.9h2.4v2.4h-2.4zM611.5 210.9h2.4v2.4h-2.4zM68.0 206.6h4.5v2.4h-4.5zM76.4 206.6h4.5v2.4h-4.5zM82.7 206.6h4.5v2.4h-4.5zM93.2 206.6h2.4v2.4h-2.4zM97.5 206.6h4.5v2.4h-4.5zM118.5 206.6h12.9v2.4h-12.9zM139.6 206.6h4.5v2.4h-4.5zM145.9 206.6h2.4v2.4h-2.4zM156.4 206.6h2.4v2.4h-2.4zM169.1 206.6h4.5v2.4h-4.5zM192.3 206.6h19.3v2.4h-19.3zM217.5 206.6h2.4v2.4h-2.4zM240.7 206.6h4.5v2.4h-4.5zM247.0 206.6h4.5v2.4h-4.5zM263.9 206.6h2.4v2.4h-2.4zM268.1 206.6h2.4v2.4h-2.4zM415.6 200.1h2.4v2.4h-2.4zM430.3 200.1h4.5v2.4h-4.5zM451.4 200.1h2.4v2.4h-2.4zM466.1 200.1h2.4v2.4h-2.4zM424.0 195.9h8.7v2.4h-8.7zM451.4 195.9h2.4v2.4h-2.4zM459.8 195.9h8.7v2.4h-8.7zM470.3 195.9h8.7v2.4h-8.7zM480.9 195.9h2.4v2.4h-2.4zM487.2 195.9h2.4v2.4h-2.4zM491.4 195.9h8.7v2.4h-8.7zM506.1 195.9h2.4v2.4h-2.4zM510.4 195.9h4.5v2.4h-4.5zM120.6 174.4h2.4v2.4h-2.4zM167.0 161.6h2.4v2.4h-2.4zM192.3 161.6h2.4v2.4h-2.4zM223.9 161.6h4.5v2.4h-4.5zM230.2 161.6h4.5v2.4h-4.5zM251.2 161.6h2.4v2.4h-2.4zM263.9 161.6h2.4v2.4h-2.4zM329.2 161.6h2.4v2.4h-2.4zM350.3 161.6h2.4v2.4h-2.4zM354.5 161.6h2.4v2.4h-2.4zM472.4 159.4h2.4v2.4h-2.4zM478.8 159.4h2.4v2.4h-2.4zM510.4 159.4h2.4v2.4h-2.4zM514.6 159.4h2.4v2.4h-2.4zM472.4 155.1h2.4v2.4h-2.4zM510.4 155.1h2.4v2.4h-2.4zM371.3 150.8h2.4v2.5h-2.4zM244.9 148.6h2.4v2.5h-2.4zM249.1 148.6h2.4v2.5h-2.4zM409.2 144.3h2.4v2.5h-2.4zM442.9 113.8h4.5v2.5h-4.5zM398.7 111.6h2.4v2.5h-2.4zM402.9 111.6h2.4v2.5h-2.4zM407.1 111.6h2.4v2.5h-2.4zM242.8 102.9h4.5v2.5h-4.5zM478.8 83.3h4.5v2.5h-4.5zM369.2 74.5h2.4v2.5h-2.4zM362.9 70.2h2.4v2.5h-2.4z"/><path fill="#baee91" d="M318.7 328.7h2.4v2.4h-2.4zM400.8 328.7h4.5v2.4h-4.5zM459.8 328.7h2.4v2.4h-2.4zM68.0 326.6h2.4v2.4h-2.4zM72.2 326.6h2.4v2.4h-2.4zM99.6 326.6h2.4v2.4h-2.4zM108.0 326.6h4.5v2.4h-4.5zM122.7 326.6h8.7v2.4h-8.7zM137.5 326.6h2.4v2.4h-2.4zM145.9 326.6h4.5v2.4h-4.5zM152.2 326.6h2.4v2.4h-2.4zM171.2 326.6h2.4v2.4h-2.4zM175.4 326.6h4.5v2.4h-4.5zM190.1 326.6h2.4v2.4h-2.4zM242.8 326.6h12.9v2.4h-12.9zM257.6 326.6h2.4v2.4h-2.4zM266.0 326.6h4.5v2.4h-4.5zM447.2 326.6h6.6v2.4h-6.6zM474.5 326.6h4.5v2.4h-4.5zM480.9 326.6h2.4v2.4h-2.4zM504.0 326.6h4.5v2.4h-4.5zM542.0 326.6h4.5v2.4h-4.5zM565.1 326.6h8.7v2.4h-8.7zM603.1 326.6h6.6v2.4h-6.6zM636.8 326.6h15.0v2.4h-15.0zM664.1 326.6h2.4v2.4h-2.4zM105.9 324.4h2.4v2.4h-2.4zM221.7 324.4h4.5v2.4h-4.5zM228.1 324.4h2.4v2.4h-2.4zM242.8 324.4h2.4v2.4h-2.4zM247.0 324.4h2.4v2.4h-2.4zM514.6 324.4h2.4v2.4h-2.4zM529.3 324.4h2.4v2.4h-2.4zM565.1 324.4h2.4v2.4h-2.4zM160.7 322.3h2.4v2.4h-2.4zM68.0 320.1h6.6v2.4h-6.6zM76.4 320.1h2.4v2.4h-2.4zM82.7 320.1h2.4v2.4h-2.4zM89.0 320.1h4.5v2.4h-4.5zM97.5 320.1h2.4v2.4h-2.4zM105.9 320.1h4.5v2.4h-4.5zM114.3 320.1h2.4v2.4h-2.4zM118.5 320.1h2.4v2.4h-2.4zM124.8 320.1h2.4v2.4h-2.4zM137.5 320.1h2.4v2.4h-2.4zM148.0 320.1h2.4v2.4h-2.4zM162.8 320.1h6.6v2.4h-6.6zM171.2 320.1h2.4v2.4h-2.4zM190.1 320.1h2.4v2.4h-2.4zM196.5 320.1h2.4v2.4h-2.4zM478.8 320.1h4.5v2.4h-4.5zM487.2 320.1h2.4v2.4h-2.4zM499.8 320.1h2.4v2.4h-2.4zM516.7 320.1h2.4v2.4h-2.4zM531.4 320.1h2.4v2.4h-2.4zM554.6 320.1h2.4v2.4h-2.4zM558.8 320.1h2.4v2.4h-2.4zM565.1 320.1h8.7v2.4h-8.7zM575.7 320.1h6.6v2.4h-6.6zM584.1 320.1h6.6v2.4h-6.6zM592.5 320.1h2.4v2.4h-2.4zM598.8 320.1h2.4v2.4h-2.4zM603.1 320.1h6.6v2.4h-6.6zM611.5 320.1h4.5v2.4h-4.5zM636.8 320.1h2.4v2.4h-2.4zM643.1 320.1h2.4v2.4h-2.4zM657.8 320.1h2.4v2.4h-2.4zM666.3 320.1h4.5v2.4h-4.5zM230.2 318.0h2.4v2.4h-2.4zM234.4 318.0h2.4v2.4h-2.4zM240.7 318.0h2.4v2.4h-2.4zM527.2 318.0h2.4v2.4h-2.4zM70.1 313.7h6.6v2.4h-6.6zM78.5 313.7h2.4v2.4h-2.4zM86.9 313.7h2.4v2.4h-2.4zM118.5 313.7h2.4v2.4h-2.4zM124.8 313.7h4.5v2.4h-4.5zM143.8 313.7h2.4v2.4h-2.4zM152.2 313.7h4.5v2.4h-4.5zM164.9 313.7h2.4v2.4h-2.4zM169.1 313.7h2.4v2.4h-2.4zM173.3 313.7h2.4v2.4h-2.4zM179.6 313.7h8.7v2.4h-8.7zM196.5 313.7h2.4v2.4h-2.4zM247.0 313.7h2.4v2.4h-2.4zM512.5 313.7h4.5v2.4h-4.5zM520.9 313.7h4.5v2.4h-4.5zM527.2 313.7h6.6v2.4h-6.6zM537.7 313.7h12.9v2.4h-12.9zM552.5 313.7h6.6v2.4h-6.6zM560.9 313.7h2.4v2.4h-2.4zM565.1 313.7h2.4v2.4h-2.4zM569.3 313.7h6.6v2.4h-6.6zM582.0 313.7h6.6v2.4h-6.6zM600.9 313.7h2.4v2.4h-2.4zM605.2 313.7h2.4v2.4h-2.4zM615.7 313.7h2.4v2.4h-2.4zM622.0 313.7h2.4v2.4h-2.4zM630.4 313.7h2.4v2.4h-2.4zM634.7 313.7h2.4v2.4h-2.4zM645.2 313.7h2.4v2.4h-2.4zM649.4 313.7h2.4v2.4h-2.4zM653.6 313.7h10.8v2.4h-10.8zM70.1 307.3h8.7v2.4h-8.7zM82.7 307.3h8.7v2.4h-8.7zM95.3 307.3h2.4v2.4h-2.4zM101.7 307.3h2.4v2.4h-2.4zM114.3 307.3h2.4v2.4h-2.4zM120.6 307.3h2.4v2.4h-2.4zM126.9 307.3h2.4v2.4h-2.4zM131.2 307.3h4.5v2.4h-4.5zM143.8 307.3h2.4v2.4h-2.4zM181.7 307.3h2.4v2.4h-2.4zM185.9 307.3h6.6v2.4h-6.6zM194.4 307.3h4.5v2.4h-4.5zM523.0 307.3h4.5v2.4h-4.5zM529.3 307.3h6.6v2.4h-6.6zM537.7 307.3h2.4v2.4h-2.4zM544.1 307.3h2.4v2.4h-2.4zM556.7 307.3h2.4v2.4h-2.4zM567.2 307.3h4.5v2.4h-4.5zM577.8 307.3h2.4v2.4h-2.4zM584.1 307.3h8.7v2.4h-8.7zM600.9 307.3h2.4v2.4h-2.4zM605.2 307.3h2.4v2.4h-2.4zM611.5 307.3h2.4v2.4h-2.4zM645.2 307.3h6.6v2.4h-6.6zM672.6 307.3h2.4v2.4h-2.4zM91.1 303.0h2.4v2.4h-2.4zM95.3 303.0h2.4v2.4h-2.4zM116.4 303.0h4.5v2.4h-4.5zM124.8 303.0h2.4v2.4h-2.4zM129.1 303.0h2.4v2.4h-2.4zM156.4 303.0h2.4v2.4h-2.4zM181.7 303.0h6.6v2.4h-6.6zM226.0 303.0h4.5v2.4h-4.5zM244.9 303.0h2.4v2.4h-2.4zM491.4 303.0h2.4v2.4h-2.4zM611.5 303.0h2.4v2.4h-2.4zM242.8 300.9h2.4v2.4h-2.4zM91.1 298.7h4.5v2.4h-4.5zM99.6 298.7h4.5v2.4h-4.5zM105.9 298.7h4.5v2.4h-4.5zM114.3 298.7h6.6v2.4h-6.6zM139.6 298.7h2.4v2.4h-2.4zM143.8 298.7h2.4v2.4h-2.4zM150.1 298.7h4.5v2.4h-4.5zM185.9 298.7h4.5v2.4h-4.5zM196.5 298.7h2.4v2.4h-2.4zM236.5 298.7h2.4v2.4h-2.4zM240.7 298.7h2.4v2.4h-2.4zM478.8 298.7h6.6v2.4h-6.6zM533.5 298.7h6.6v2.4h-6.6zM544.1 298.7h6.6v2.4h-6.6zM558.8 298.7h4.5v2.4h-4.5zM565.1 298.7h4.5v2.4h-4.5zM586.2 298.7h2.4v2.4h-2.4zM594.6 298.7h4.5v2.4h-4.5zM619.9 298.7h2.4v2.4h-2.4zM655.7 298.7h4.5v2.4h-4.5zM162.8 292.3h2.4v2.4h-2.4zM236.5 292.3h2.4v2.4h-2.4zM204.9 288.0h2.4v2.4h-2.4zM226.0 288.0h4.5v2.4h-4.5zM240.7 288.0h2.4v2.4h-2.4zM495.6 285.9h2.4v2.4h-2.4zM518.8 285.9h4.5v2.4h-4.5zM539.9 285.9h2.4v2.4h-2.4zM118.5 283.7h2.4v2.4h-2.4zM137.5 283.7h2.4v2.4h-2.4zM152.2 283.7h2.4v2.4h-2.4zM158.5 283.7h2.4v2.4h-2.4zM204.9 283.7h2.4v2.4h-2.4zM499.8 283.7h2.4v2.4h-2.4zM506.1 283.7h2.4v2.4h-2.4zM548.3 283.7h2.4v2.4h-2.4zM194.4 279.4h2.4v2.4h-2.4zM209.1 279.4h2.4v2.4h-2.4zM466.1 279.4h2.4v2.4h-2.4zM617.8 279.4h2.4v2.4h-2.4zM68.0 275.1h2.4v2.4h-2.4zM78.5 275.1h2.4v2.4h-2.4zM84.8 275.1h2.4v2.4h-2.4zM89.0 275.1h10.8v2.4h-10.8zM105.9 275.1h2.4v2.4h-2.4zM110.1 275.1h2.4v2.4h-2.4zM118.5 275.1h2.4v2.4h-2.4zM122.7 275.1h2.4v2.4h-2.4zM126.9 275.1h8.7v2.4h-8.7zM139.6 275.1h4.5v2.4h-4.5zM181.7 275.1h2.4v2.4h-2.4zM185.9 275.1h2.4v2.4h-2.4zM196.5 275.1h2.4v2.4h-2.4zM202.8 275.1h2.4v2.4h-2.4zM207.0 275.1h2.4v2.4h-2.4zM211.2 275.1h2.4v2.4h-2.4zM215.4 275.1h2.4v2.4h-2.4zM514.6 275.1h2.4v2.4h-2.4zM520.9 275.1h4.5v2.4h-4.5zM535.6 275.1h6.6v2.4h-6.6zM558.8 275.1h4.5v2.4h-4.5zM584.1 275.1h2.4v2.4h-2.4zM596.7 275.1h2.4v2.4h-2.4zM600.9 275.1h6.6v2.4h-6.6zM609.4 275.1h2.4v2.4h-2.4zM624.1 275.1h2.4v2.4h-2.4zM634.7 275.1h6.6v2.4h-6.6zM649.4 275.1h2.4v2.4h-2.4zM657.8 275.1h2.4v2.4h-2.4zM495.6 273.0h2.4v2.4h-2.4zM508.3 273.0h2.4v2.4h-2.4zM523.0 273.0h2.4v2.4h-2.4zM529.3 273.0h2.4v2.4h-2.4zM533.5 273.0h4.5v2.4h-4.5zM626.2 270.9h4.5v2.4h-4.5zM634.7 270.9h2.4v2.4h-2.4zM371.3 264.4h2.4v2.4h-2.4zM381.9 264.4h8.7v2.4h-8.7zM394.5 264.4h2.4v2.4h-2.4zM405.0 264.4h2.4v2.4h-2.4zM411.3 264.4h8.7v2.4h-8.7zM430.3 264.4h2.4v2.4h-2.4zM436.6 264.4h6.6v2.4h-6.6zM449.3 264.4h4.5v2.4h-4.5zM455.6 264.4h4.5v2.4h-4.5zM474.5 264.4h2.4v2.4h-2.4zM478.8 264.4h4.5v2.4h-4.5zM487.2 264.4h2.4v2.4h-2.4zM499.8 264.4h6.6v2.4h-6.6zM516.7 264.4h6.6v2.4h-6.6zM558.8 264.4h2.4v2.4h-2.4zM565.1 264.4h2.4v2.4h-2.4zM569.3 264.4h2.4v2.4h-2.4zM529.3 240.9h4.5v2.4h-4.5zM582.0 240.9h4.5v2.4h-4.5zM491.4 238.7h2.4v2.4h-2.4zM516.7 238.7h4.5v2.4h-4.5zM598.8 238.7h4.5v2.4h-4.5zM622.0 238.7h4.5v2.4h-4.5zM638.9 238.7h2.4v2.4h-2.4zM655.7 238.7h15.0v2.4h-15.0zM171.2 236.6h2.4v2.4h-2.4zM175.4 236.6h2.4v2.4h-2.4zM179.6 236.6h2.4v2.4h-2.4zM183.8 236.6h4.5v2.4h-4.5zM190.1 236.6h2.4v2.4h-2.4zM196.5 236.6h2.4v2.4h-2.4zM200.7 236.6h2.4v2.4h-2.4zM204.9 236.6h2.4v2.4h-2.4zM373.4 236.6h4.5v2.4h-4.5zM74.3 232.3h2.4v2.4h-2.4zM101.7 232.3h2.4v2.4h-2.4zM110.1 232.3h2.4v2.4h-2.4zM120.6 232.3h2.4v2.4h-2.4zM126.9 232.3h2.4v2.4h-2.4zM145.9 232.3h4.5v2.4h-4.5zM154.3 232.3h2.4v2.4h-2.4zM179.6 232.3h4.5v2.4h-4.5zM215.4 232.3h4.5v2.4h-4.5zM95.3 230.1h2.4v2.4h-2.4zM148.0 230.1h4.5v2.4h-4.5zM234.4 230.1h2.4v2.4h-2.4zM571.5 230.1h2.4v2.4h-2.4zM575.7 230.1h2.4v2.4h-2.4zM582.0 230.1h2.4v2.4h-2.4zM276.5 217.3h2.4v2.4h-2.4zM407.1 217.3h2.4v2.4h-2.4zM261.8 215.1h4.5v2.4h-4.5zM97.5 213.0h2.4v2.4h-2.4zM116.4 213.0h2.4v2.4h-2.4zM145.9 213.0h2.4v2.4h-2.4zM211.2 213.0h2.4v2.4h-2.4zM609.4 213.0h6.6v2.4h-6.6zM624.1 213.0h6.6v2.4h-6.6zM632.5 213.0h2.4v2.4h-2.4zM641.0 213.0h6.6v2.4h-6.6zM651.5 213.0h2.4v2.4h-2.4zM657.8 213.0h12.9v2.4h-12.9zM613.6 210.9h6.6v2.4h-6.6zM632.5 210.9h4.5v2.4h-4.5zM638.9 210.9h4.5v2.4h-4.5zM653.6 210.9h2.4v2.4h-2.4zM672.6 210.9h2.4v2.4h-2.4zM434.5 208.7h2.4v2.4h-2.4zM445.1 208.7h2.4v2.4h-2.4zM468.2 208.7h2.4v2.4h-2.4zM489.3 208.7h2.4v2.4h-2.4zM501.9 208.7h2.4v2.4h-2.4zM512.5 208.7h2.4v2.4h-2.4zM143.8 206.6h2.4v2.4h-2.4zM150.1 206.6h6.6v2.4h-6.6zM219.6 206.6h8.7v2.4h-8.7zM230.2 206.6h4.5v2.4h-4.5zM251.2 206.6h4.5v2.4h-4.5zM261.8 206.6h2.4v2.4h-2.4zM266.0 206.6h2.4v2.4h-2.4zM358.7 206.6h2.4v2.4h-2.4zM384.0 206.6h2.4v2.4h-2.4zM400.8 206.6h2.4v2.4h-2.4zM499.8 206.6h2.4v2.4h-2.4zM512.5 206.6h2.4v2.4h-2.4zM329.2 200.1h6.6v2.4h-6.6zM405.0 200.1h2.4v2.4h-2.4zM411.3 200.1h2.4v2.4h-2.4zM417.7 200.1h2.4v2.4h-2.4zM436.6 200.1h2.4v2.4h-2.4zM464.0 200.1h2.4v2.4h-2.4zM472.4 200.1h2.4v2.4h-2.4zM510.4 200.1h2.4v2.4h-2.4zM434.5 195.9h8.7v2.4h-8.7zM447.2 195.9h4.5v2.4h-4.5zM453.5 195.9h6.6v2.4h-6.6zM483.0 195.9h4.5v2.4h-4.5zM489.3 195.9h2.4v2.4h-2.4zM508.3 195.9h2.4v2.4h-2.4zM514.6 195.9h8.7v2.4h-8.7zM242.8 183.0h4.5v2.4h-4.5zM99.6 174.4h4.5v2.4h-4.5zM105.9 174.4h2.4v2.4h-2.4zM116.4 174.4h4.5v2.4h-4.5zM122.7 174.4h4.5v2.4h-4.5zM369.2 163.7h2.4v2.4h-2.4zM512.5 163.7h2.4v2.4h-2.4zM169.1 161.6h4.5v2.4h-4.5zM175.4 161.6h4.5v2.4h-4.5zM188.0 161.6h4.5v2.4h-4.5zM194.4 161.6h2.4v2.4h-2.4zM221.7 161.6h2.4v2.4h-2.4zM228.1 161.6h2.4v2.4h-2.4zM247.0 161.6h4.5v2.4h-4.5zM253.3 161.6h2.4v2.4h-2.4zM259.7 161.6h4.5v2.4h-4.5zM268.1 161.6h2.4v2.4h-2.4zM272.3 161.6h2.4v2.4h-2.4zM320.8 161.6h4.5v2.4h-4.5zM331.3 161.6h12.9v2.4h-12.9zM346.0 161.6h2.4v2.4h-2.4zM352.4 161.6h2.4v2.4h-2.4zM215.4 157.3h4.5v2.4h-4.5zM198.6 155.1h8.7v2.4h-8.7zM478.8 155.1h2.4v2.4h-2.4zM493.5 153.0h2.4v2.4h-2.4zM373.4 150.8h2.4v2.5h-2.4zM381.9 150.8h4.5v2.5h-4.5zM386.1 148.6h2.4v2.5h-2.4zM445.1 148.6h2.4v2.5h-2.4zM468.2 148.6h4.5v2.5h-4.5zM314.4 144.3h12.9v2.5h-12.9zM329.2 144.3h2.4v2.5h-2.4zM333.4 144.3h6.6v2.5h-6.6zM384.0 144.3h6.6v2.5h-6.6zM411.3 144.3h4.5v2.5h-4.5zM417.7 144.3h2.4v2.5h-2.4zM449.3 144.3h2.4v2.5h-2.4zM453.5 144.3h2.4v2.5h-2.4zM491.4 115.9h2.4v2.5h-2.4zM495.6 115.9h2.4v2.5h-2.4zM438.7 113.8h4.5v2.5h-4.5zM409.2 111.6h2.4v2.5h-2.4zM377.6 109.4h2.4v2.5h-2.4zM476.7 83.3h2.4v2.5h-2.4zM373.4 74.5h2.4v2.5h-2.4z"/><path fill="#e2d277" d="M546.2 337.3h2.4v2.4h-2.4zM554.6 337.3h2.4v2.4h-2.4zM558.8 337.3h2.4v2.4h-2.4zM150.1 326.6h2.4v2.4h-2.4zM217.5 326.6h2.4v2.4h-2.4zM226.0 326.6h2.4v2.4h-2.4zM240.7 326.6h2.4v2.4h-2.4zM466.1 326.6h2.4v2.4h-2.4zM470.3 326.6h2.4v2.4h-2.4zM478.8 326.6h2.4v2.4h-2.4zM483.0 326.6h2.4v2.4h-2.4zM487.2 326.6h2.4v2.4h-2.4zM495.6 326.6h2.4v2.4h-2.4zM508.3 326.6h6.6v2.4h-6.6zM518.8 326.6h4.5v2.4h-4.5zM74.3 320.1h2.4v2.4h-2.4zM84.8 320.1h4.5v2.4h-4.5zM93.2 320.1h4.5v2.4h-4.5zM99.6 320.1h6.6v2.4h-6.6zM120.6 320.1h4.5v2.4h-4.5zM129.1 320.1h8.7v2.4h-8.7zM139.6 320.1h8.7v2.4h-8.7zM150.1 320.1h4.5v2.4h-4.5zM156.4 320.1h6.6v2.4h-6.6zM169.1 320.1h2.4v2.4h-2.4zM173.3 320.1h2.4v2.4h-2.4zM183.8 320.1h6.6v2.4h-6.6zM192.3 320.1h4.5v2.4h-4.5zM476.7 320.1h2.4v2.4h-2.4zM483.0 320.1h4.5v2.4h-4.5zM489.3 320.1h4.5v2.4h-4.5zM497.7 320.1h2.4v2.4h-2.4zM501.9 320.1h6.6v2.4h-6.6zM518.8 320.1h12.9v2.4h-12.9zM533.5 320.1h10.8v2.4h-10.8zM546.2 320.1h2.4v2.4h-2.4zM550.4 320.1h4.5v2.4h-4.5zM556.7 320.1h2.4v2.4h-2.4zM563.0 320.1h2.4v2.4h-2.4zM573.6 320.1h2.4v2.4h-2.4zM590.4 320.1h2.4v2.4h-2.4zM594.6 320.1h4.5v2.4h-4.5zM600.9 320.1h2.4v2.4h-2.4zM609.4 320.1h2.4v2.4h-2.4zM615.7 320.1h15.0v2.4h-15.0zM632.5 320.1h4.5v2.4h-4.5zM641.0 320.1h2.4v2.4h-2.4zM645.2 320.1h10.8v2.4h-10.8zM659.9 320.1h2.4v2.4h-2.4zM664.1 320.1h2.4v2.4h-2.4zM670.5 320.1h4.5v2.4h-4.5zM223.9 318.0h6.6v2.4h-6.6zM232.3 318.0h2.4v2.4h-2.4zM236.5 318.0h2.4v2.4h-2.4zM242.8 318.0h4.5v2.4h-4.5zM76.4 313.7h2.4v2.4h-2.4zM80.6 313.7h6.6v2.4h-6.6zM89.0 313.7h4.5v2.4h-4.5zM99.6 313.7h2.4v2.4h-2.4zM105.9 313.7h4.5v2.4h-4.5zM116.4 313.7h2.4v2.4h-2.4zM131.2 313.7h6.6v2.4h-6.6zM139.6 313.7h4.5v2.4h-4.5zM145.9 313.7h6.6v2.4h-6.6zM156.4 313.7h6.6v2.4h-6.6zM171.2 313.7h2.4v2.4h-2.4zM175.4 313.7h2.4v2.4h-2.4zM188.0 313.7h2.4v2.4h-2.4zM192.3 313.7h4.5v2.4h-4.5zM198.6 313.7h2.4v2.4h-2.4zM213.3 313.7h4.5v2.4h-4.5zM221.7 313.7h2.4v2.4h-2.4zM516.7 313.7h4.5v2.4h-4.5zM525.1 313.7h2.4v2.4h-2.4zM550.4 313.7h2.4v2.4h-2.4zM563.0 313.7h2.4v2.4h-2.4zM567.2 313.7h2.4v2.4h-2.4zM575.7 313.7h2.4v2.4h-2.4zM579.9 313.7h2.4v2.4h-2.4zM588.3 313.7h2.4v2.4h-2.4zM596.7 313.7h4.5v2.4h-4.5zM603.1 313.7h2.4v2.4h-2.4zM607.3 313.7h8.7v2.4h-8.7zM617.8 313.7h4.5v2.4h-4.5zM624.1 313.7h6.6v2.4h-6.6zM632.5 313.7h2.4v2.4h-2.4zM638.9 313.7h6.6v2.4h-6.6zM647.3 313.7h2.4v2.4h-2.4zM670.5 313.7h4.5v2.4h-4.5zM209.1 311.6h2.4v2.4h-2.4zM219.6 311.6h2.4v2.4h-2.4zM226.0 311.6h2.4v2.4h-2.4zM230.2 311.6h4.5v2.4h-4.5zM68.0 307.3h2.4v2.4h-2.4zM78.5 307.3h4.5v2.4h-4.5zM91.1 307.3h4.5v2.4h-4.5zM103.8 307.3h2.4v2.4h-2.4zM108.0 307.3h4.5v2.4h-4.5zM116.4 307.3h4.5v2.4h-4.5zM122.7 307.3h4.5v2.4h-4.5zM129.1 307.3h2.4v2.4h-2.4zM135.4 307.3h4.5v2.4h-4.5zM148.0 307.3h2.4v2.4h-2.4zM154.3 307.3h2.4v2.4h-2.4zM158.5 307.3h2.4v2.4h-2.4zM162.8 307.3h4.5v2.4h-4.5zM173.3 307.3h2.4v2.4h-2.4zM183.8 307.3h2.4v2.4h-2.4zM198.6 307.3h8.7v2.4h-8.7zM527.2 307.3h2.4v2.4h-2.4zM539.9 307.3h4.5v2.4h-4.5zM546.2 307.3h6.6v2.4h-6.6zM554.6 307.3h2.4v2.4h-2.4zM558.8 307.3h8.7v2.4h-8.7zM579.9 307.3h4.5v2.4h-4.5zM592.5 307.3h8.7v2.4h-8.7zM603.1 307.3h2.4v2.4h-2.4zM607.3 307.3h4.5v2.4h-4.5zM613.6 307.3h2.4v2.4h-2.4zM617.8 307.3h4.5v2.4h-4.5zM624.1 307.3h21.4v2.4h-21.4zM651.5 307.3h8.7v2.4h-8.7zM68.0 298.7h10.8v2.4h-10.8zM80.6 298.7h4.5v2.4h-4.5zM89.0 298.7h2.4v2.4h-2.4zM97.5 298.7h2.4v2.4h-2.4zM110.1 298.7h4.5v2.4h-4.5zM120.6 298.7h4.5v2.4h-4.5zM126.9 298.7h12.9v2.4h-12.9zM141.7 298.7h2.4v2.4h-2.4zM145.9 298.7h4.5v2.4h-4.5zM156.4 298.7h2.4v2.4h-2.4zM173.3 298.7h12.9v2.4h-12.9zM190.1 298.7h6.6v2.4h-6.6zM200.7 298.7h2.4v2.4h-2.4zM223.9 298.7h2.4v2.4h-2.4zM232.3 298.7h2.4v2.4h-2.4zM238.6 298.7h2.4v2.4h-2.4zM242.8 298.7h2.4v2.4h-2.4zM472.4 298.7h6.6v2.4h-6.6zM485.1 298.7h2.4v2.4h-2.4zM491.4 298.7h2.4v2.4h-2.4zM495.6 298.7h6.6v2.4h-6.6zM516.7 298.7h17.2v2.4h-17.2zM550.4 298.7h8.7v2.4h-8.7zM563.0 298.7h2.4v2.4h-2.4zM569.3 298.7h4.5v2.4h-4.5zM579.9 298.7h6.6v2.4h-6.6zM588.3 298.7h6.6v2.4h-6.6zM598.8 298.7h21.4v2.4h-21.4zM622.0 298.7h2.4v2.4h-2.4zM628.3 298.7h4.5v2.4h-4.5zM634.7 298.7h2.4v2.4h-2.4zM641.0 298.7h4.5v2.4h-4.5zM647.3 298.7h2.4v2.4h-2.4zM659.9 298.7h10.8v2.4h-10.8zM672.6 298.7h2.4v2.4h-2.4zM219.6 292.3h2.4v2.4h-2.4zM226.0 292.3h2.4v2.4h-2.4zM232.3 292.3h4.5v2.4h-4.5zM238.6 292.3h2.4v2.4h-2.4zM207.0 288.0h8.7v2.4h-8.7zM234.4 288.0h6.6v2.4h-6.6zM249.1 288.0h2.4v2.4h-2.4zM253.3 288.0h4.5v2.4h-4.5zM213.3 285.9h8.7v2.4h-8.7zM504.0 285.9h2.4v2.4h-2.4zM510.4 285.9h4.5v2.4h-4.5zM523.0 285.9h2.4v2.4h-2.4zM226.0 281.6h4.5v2.4h-4.5zM251.2 281.6h2.4v2.4h-2.4zM226.0 279.4h2.4v2.4h-2.4zM230.2 279.4h4.5v2.4h-4.5zM236.5 279.4h4.5v2.4h-4.5zM209.1 277.3h2.4v2.4h-2.4zM213.3 277.3h2.4v2.4h-2.4zM230.2 277.3h2.4v2.4h-2.4zM247.0 277.3h6.6v2.4h-6.6zM257.6 277.3h2.4v2.4h-2.4zM70.1 275.1h4.5v2.4h-4.5zM80.6 275.1h4.5v2.4h-4.5zM86.9 275.1h2.4v2.4h-2.4zM99.6 275.1h6.6v2.4h-6.6zM120.6 275.1h2.4v2.4h-2.4zM124.8 275.1h2.4v2.4h-2.4zM145.9 275.1h4.5v2.4h-4.5zM152.2 275.1h2.4v2.4h-2.4zM156.4 275.1h2.4v2.4h-2.4zM164.9 275.1h2.4v2.4h-2.4zM173.3 275.1h6.6v2.4h-6.6zM183.8 275.1h2.4v2.4h-2.4zM188.0 275.1h6.6v2.4h-6.6zM198.6 275.1h4.5v2.4h-4.5zM209.1 275.1h2.4v2.4h-2.4zM213.3 275.1h2.4v2.4h-2.4zM217.5 275.1h2.4v2.4h-2.4zM226.0 275.1h2.4v2.4h-2.4zM497.7 275.1h10.8v2.4h-10.8zM512.5 275.1h2.4v2.4h-2.4zM516.7 275.1h4.5v2.4h-4.5zM531.4 275.1h4.5v2.4h-4.5zM548.3 275.1h10.8v2.4h-10.8zM563.0 275.1h4.5v2.4h-4.5zM569.3 275.1h15.0v2.4h-15.0zM586.2 275.1h2.4v2.4h-2.4zM592.5 275.1h4.5v2.4h-4.5zM607.3 275.1h2.4v2.4h-2.4zM611.5 275.1h12.9v2.4h-12.9zM626.2 275.1h8.7v2.4h-8.7zM641.0 275.1h8.7v2.4h-8.7zM651.5 275.1h6.6v2.4h-6.6zM659.9 275.1h2.4v2.4h-2.4zM664.1 275.1h8.7v2.4h-8.7zM485.1 273.0h2.4v2.4h-2.4zM489.3 273.0h6.6v2.4h-6.6zM497.7 273.0h10.8v2.4h-10.8zM510.4 273.0h4.5v2.4h-4.5zM520.9 273.0h2.4v2.4h-2.4zM525.1 273.0h4.5v2.4h-4.5zM531.4 273.0h2.4v2.4h-2.4zM244.9 270.9h4.5v2.4h-4.5zM478.8 270.9h8.7v2.4h-8.7zM504.0 270.9h4.5v2.4h-4.5zM624.1 270.9h2.4v2.4h-2.4zM630.4 270.9h4.5v2.4h-4.5zM636.8 270.9h8.7v2.4h-8.7zM244.9 266.6h2.4v2.4h-2.4zM257.6 266.6h4.5v2.4h-4.5zM392.4 264.4h2.4v2.4h-2.4zM409.2 264.4h2.4v2.4h-2.4zM434.5 264.4h2.4v2.4h-2.4zM442.9 264.4h6.6v2.4h-6.6zM459.8 264.4h2.4v2.4h-2.4zM485.1 264.4h2.4v2.4h-2.4zM497.7 264.4h2.4v2.4h-2.4zM544.1 264.4h2.4v2.4h-2.4zM548.3 264.4h2.4v2.4h-2.4zM556.7 264.4h2.4v2.4h-2.4zM560.9 264.4h4.5v2.4h-4.5zM567.2 264.4h2.4v2.4h-2.4zM594.6 264.4h2.4v2.4h-2.4zM527.2 240.9h2.4v2.4h-2.4zM533.5 240.9h6.6v2.4h-6.6zM542.0 240.9h4.5v2.4h-4.5zM563.0 240.9h4.5v2.4h-4.5zM569.3 240.9h2.4v2.4h-2.4zM575.7 240.9h4.5v2.4h-4.5zM457.7 238.7h2.4v2.4h-2.4zM493.5 238.7h2.4v2.4h-2.4zM520.9 238.7h2.4v2.4h-2.4zM605.2 238.7h2.4v2.4h-2.4zM609.4 238.7h2.4v2.4h-2.4zM619.9 238.7h2.4v2.4h-2.4zM626.2 238.7h8.7v2.4h-8.7zM636.8 238.7h2.4v2.4h-2.4zM641.0 238.7h4.5v2.4h-4.5zM670.5 238.7h4.5v2.4h-4.5zM152.2 236.6h2.4v2.4h-2.4zM158.5 236.6h2.4v2.4h-2.4zM162.8 236.6h2.4v2.4h-2.4zM173.3 236.6h2.4v2.4h-2.4zM177.5 236.6h2.4v2.4h-2.4zM181.7 236.6h2.4v2.4h-2.4zM192.3 236.6h4.5v2.4h-4.5zM198.6 236.6h2.4v2.4h-2.4zM202.8 236.6h2.4v2.4h-2.4zM213.3 236.6h2.4v2.4h-2.4zM217.5 236.6h2.4v2.4h-2.4zM369.2 236.6h4.5v2.4h-4.5zM152.2 232.3h2.4v2.4h-2.4zM152.2 230.1h2.4v2.4h-2.4zM223.9 230.1h2.4v2.4h-2.4zM259.7 230.1h2.4v2.4h-2.4zM312.3 230.1h2.4v2.4h-2.4zM339.7 230.1h2.4v2.4h-2.4zM350.3 230.1h2.4v2.4h-2.4zM377.6 230.1h4.5v2.4h-4.5zM424.0 230.1h4.5v2.4h-4.5zM466.1 230.1h4.5v2.4h-4.5zM560.9 230.1h6.6v2.4h-6.6zM569.3 230.1h2.4v2.4h-2.4zM573.6 230.1h2.4v2.4h-2.4zM577.8 230.1h4.5v2.4h-4.5zM584.1 230.1h15.0v2.4h-15.0zM253.3 223.7h2.4v2.4h-2.4zM257.6 223.7h2.4v2.4h-2.4zM268.1 223.7h2.4v2.4h-2.4zM232.3 217.3h2.4v2.4h-2.4zM236.5 217.3h6.6v2.4h-6.6zM251.2 217.3h2.4v2.4h-2.4zM266.0 217.3h8.7v2.4h-8.7zM278.6 217.3h4.5v2.4h-4.5zM287.1 217.3h2.4v2.4h-2.4zM291.3 217.3h6.6v2.4h-6.6zM314.4 217.3h4.5v2.4h-4.5zM322.9 217.3h2.4v2.4h-2.4zM384.0 217.3h2.4v2.4h-2.4zM388.2 217.3h2.4v2.4h-2.4zM402.9 217.3h2.4v2.4h-2.4zM409.2 217.3h2.4v2.4h-2.4zM415.6 217.3h2.4v2.4h-2.4zM472.4 217.3h4.5v2.4h-4.5zM495.6 217.3h2.4v2.4h-2.4zM226.0 215.1h2.4v2.4h-2.4zM236.5 215.1h2.4v2.4h-2.4zM247.0 215.1h6.6v2.4h-6.6zM255.5 215.1h2.4v2.4h-2.4zM266.0 215.1h6.6v2.4h-6.6zM523.0 213.0h2.4v2.4h-2.4zM575.7 213.0h2.4v2.4h-2.4zM598.8 213.0h2.4v2.4h-2.4zM605.2 213.0h2.4v2.4h-2.4zM630.4 213.0h2.4v2.4h-2.4zM636.8 213.0h4.5v2.4h-4.5zM655.7 213.0h2.4v2.4h-2.4zM529.3 210.9h10.8v2.4h-10.8zM556.7 210.9h2.4v2.4h-2.4zM560.9 210.9h6.6v2.4h-6.6zM575.7 210.9h2.4v2.4h-2.4zM579.9 210.9h2.4v2.4h-2.4zM592.5 210.9h2.4v2.4h-2.4zM609.4 210.9h2.4v2.4h-2.4zM619.9 210.9h2.4v2.4h-2.4zM636.8 210.9h2.4v2.4h-2.4zM645.2 210.9h8.7v2.4h-8.7zM666.3 210.9h6.6v2.4h-6.6zM438.7 208.7h2.4v2.4h-2.4zM442.9 208.7h2.4v2.4h-2.4zM447.2 208.7h2.4v2.4h-2.4zM472.4 208.7h2.4v2.4h-2.4zM478.8 208.7h2.4v2.4h-2.4zM487.2 208.7h2.4v2.4h-2.4zM491.4 208.7h6.6v2.4h-6.6zM499.8 208.7h2.4v2.4h-2.4zM504.0 208.7h2.4v2.4h-2.4zM514.6 208.7h4.5v2.4h-4.5zM148.0 206.6h2.4v2.4h-2.4zM228.1 206.6h2.4v2.4h-2.4zM255.5 206.6h4.5v2.4h-4.5zM276.5 206.6h8.7v2.4h-8.7zM297.6 206.6h2.4v2.4h-2.4zM333.4 206.6h2.4v2.4h-2.4zM356.6 206.6h2.4v2.4h-2.4zM360.8 206.6h2.4v2.4h-2.4zM373.4 206.6h2.4v2.4h-2.4zM381.9 206.6h2.4v2.4h-2.4zM398.7 206.6h2.4v2.4h-2.4zM402.9 206.6h4.5v2.4h-4.5zM413.5 206.6h6.6v2.4h-6.6zM421.9 206.6h2.4v2.4h-2.4zM447.2 206.6h4.5v2.4h-4.5zM453.5 206.6h2.4v2.4h-2.4zM478.8 206.6h4.5v2.4h-4.5zM489.3 206.6h2.4v2.4h-2.4zM497.7 206.6h2.4v2.4h-2.4zM501.9 206.6h4.5v2.4h-4.5zM514.6 206.6h6.6v2.4h-6.6zM325.0 200.1h4.5v2.4h-4.5zM335.5 200.1h2.4v2.4h-2.4zM350.3 200.1h2.4v2.4h-2.4zM371.3 200.1h2.4v2.4h-2.4zM386.1 200.1h4.5v2.4h-4.5zM407.1 200.1h2.4v2.4h-2.4zM413.5 200.1h2.4v2.4h-2.4zM434.5 200.1h2.4v2.4h-2.4zM438.7 200.1h2.4v2.4h-2.4zM449.3 200.1h2.4v2.4h-2.4zM453.5 200.1h6.6v2.4h-6.6zM470.3 200.1h2.4v2.4h-2.4zM499.8 200.1h2.4v2.4h-2.4zM504.0 200.1h2.4v2.4h-2.4zM508.3 200.1h2.4v2.4h-2.4zM442.9 195.9h4.5v2.4h-4.5zM523.0 185.1h2.4v2.4h-2.4zM544.1 185.1h2.4v2.4h-2.4zM571.5 185.1h2.4v2.4h-2.4zM223.9 183.0h4.5v2.4h-4.5zM234.4 183.0h8.7v2.4h-8.7zM247.0 183.0h4.5v2.4h-4.5zM253.3 183.0h4.5v2.4h-4.5zM259.7 183.0h2.4v2.4h-2.4zM348.1 183.0h2.4v2.4h-2.4zM392.4 183.0h2.4v2.4h-2.4zM485.1 183.0h2.4v2.4h-2.4zM529.3 176.6h2.4v2.4h-2.4zM97.5 174.4h2.4v2.4h-2.4zM103.8 174.4h2.4v2.4h-2.4zM108.0 174.4h2.4v2.4h-2.4zM112.2 174.4h4.5v2.4h-4.5zM126.9 174.4h4.5v2.4h-4.5zM133.3 174.4h6.6v2.4h-6.6zM647.3 174.4h2.4v2.4h-2.4zM358.7 163.7h6.6v2.4h-6.6zM367.1 163.7h2.4v2.4h-2.4zM196.5 161.6h2.4v2.4h-2.4zM219.6 161.6h2.4v2.4h-2.4zM255.5 161.6h4.5v2.4h-4.5zM266.0 161.6h2.4v2.4h-2.4zM270.2 161.6h2.4v2.4h-2.4zM325.0 161.6h4.5v2.4h-4.5zM343.9 161.6h2.4v2.4h-2.4zM356.6 161.6h2.4v2.4h-2.4zM466.1 161.6h2.4v2.4h-2.4zM520.9 159.4h2.4v2.4h-2.4zM219.6 157.3h10.8v2.4h-10.8zM436.6 157.3h2.4v2.4h-2.4zM464.0 157.3h4.5v2.4h-4.5zM491.4 157.3h2.4v2.4h-2.4zM506.1 155.1h2.4v2.4h-2.4zM491.4 153.0h2.4v2.4h-2.4zM495.6 153.0h4.5v2.4h-4.5zM506.1 153.0h6.6v2.4h-6.6zM367.1 150.8h2.4v2.5h-2.4zM375.5 150.8h6.6v2.5h-6.6zM306.0 148.6h10.8v2.5h-10.8zM320.8 148.6h6.6v2.5h-6.6zM329.2 148.6h4.5v2.5h-4.5zM341.8 148.6h2.4v2.5h-2.4zM346.0 148.6h2.4v2.5h-2.4zM352.4 148.6h4.5v2.5h-4.5zM360.8 148.6h8.7v2.5h-8.7zM379.7 148.6h6.6v2.5h-6.6zM388.2 148.6h12.9v2.5h-12.9zM405.0 148.6h2.4v2.5h-2.4zM419.8 148.6h2.4v2.5h-2.4zM442.9 148.6h2.4v2.5h-2.4zM461.9 148.6h2.4v2.5h-2.4zM466.1 148.6h2.4v2.5h-2.4zM474.5 148.6h4.5v2.5h-4.5zM487.2 148.6h4.5v2.5h-4.5zM291.3 144.3h6.6v2.5h-6.6zM303.9 144.3h4.5v2.5h-4.5zM310.2 144.3h4.5v2.5h-4.5zM327.1 144.3h2.4v2.5h-2.4zM331.3 144.3h2.4v2.5h-2.4zM339.7 144.3h4.5v2.5h-4.5zM346.0 144.3h4.5v2.5h-4.5zM358.7 144.3h6.6v2.5h-6.6zM371.3 144.3h12.9v2.5h-12.9zM390.3 144.3h2.4v2.5h-2.4zM396.6 144.3h6.6v2.5h-6.6zM407.1 144.3h2.4v2.5h-2.4zM415.6 144.3h2.4v2.5h-2.4zM419.8 144.3h2.4v2.5h-2.4zM428.2 144.3h2.4v2.5h-2.4zM432.4 144.3h2.4v2.5h-2.4zM436.6 144.3h12.9v2.5h-12.9zM451.4 144.3h2.4v2.5h-2.4zM455.6 144.3h6.6v2.5h-6.6zM466.1 144.3h6.6v2.5h-6.6zM211.2 137.7h4.5v2.5h-4.5zM485.1 122.5h2.4v2.5h-2.4zM497.7 122.5h2.4v2.5h-2.4zM451.4 115.9h2.4v2.5h-2.4zM455.6 115.9h2.4v2.5h-2.4zM464.0 115.9h2.4v2.5h-2.4zM480.9 115.9h2.4v2.5h-2.4zM487.2 115.9h4.5v2.5h-4.5zM493.5 115.9h2.4v2.5h-2.4zM497.7 115.9h4.5v2.5h-4.5zM432.4 113.8h4.5v2.5h-4.5zM373.4 109.4h4.5v2.5h-4.5zM244.9 89.8h4.5v2.5h-4.5zM466.1 74.5h2.4v2.5h-2.4zM360.8 72.4h2.4v2.5h-2.4zM390.3 72.4h2.4v2.5h-2.4z"/><path fill="#ffa95a" d="M539.9 337.3h6.6v2.4h-6.6zM548.3 337.3h4.5v2.4h-4.5zM556.7 337.3h2.4v2.4h-2.4zM569.3 337.3h4.5v2.4h-4.5zM198.6 326.6h10.8v2.4h-10.8zM211.2 326.6h6.6v2.4h-6.6zM219.6 326.6h6.6v2.4h-6.6zM228.1 326.6h4.5v2.4h-4.5zM453.5 326.6h2.4v2.4h-2.4zM468.2 326.6h2.4v2.4h-2.4zM472.4 326.6h2.4v2.4h-2.4zM485.1 326.6h2.4v2.4h-2.4zM489.3 326.6h6.6v2.4h-6.6zM501.9 326.6h2.4v2.4h-2.4zM514.6 326.6h2.4v2.4h-2.4zM126.9 320.1h2.4v2.4h-2.4zM154.3 320.1h2.4v2.4h-2.4zM175.4 320.1h6.6v2.4h-6.6zM202.8 320.1h2.4v2.4h-2.4zM230.2 320.1h6.6v2.4h-6.6zM238.6 320.1h4.5v2.4h-4.5zM493.5 320.1h4.5v2.4h-4.5zM508.3 320.1h4.5v2.4h-4.5zM514.6 320.1h2.4v2.4h-2.4zM544.1 320.1h2.4v2.4h-2.4zM548.3 320.1h2.4v2.4h-2.4zM560.9 320.1h2.4v2.4h-2.4zM582.0 320.1h2.4v2.4h-2.4zM630.4 320.1h2.4v2.4h-2.4zM662.0 320.1h2.4v2.4h-2.4zM198.6 318.0h25.6v2.4h-25.6zM238.6 318.0h2.4v2.4h-2.4zM247.0 318.0h2.4v2.4h-2.4zM93.2 313.7h6.6v2.4h-6.6zM103.8 313.7h2.4v2.4h-2.4zM110.1 313.7h6.6v2.4h-6.6zM137.5 313.7h2.4v2.4h-2.4zM162.8 313.7h2.4v2.4h-2.4zM167.0 313.7h2.4v2.4h-2.4zM190.1 313.7h2.4v2.4h-2.4zM200.7 313.7h12.9v2.4h-12.9zM217.5 313.7h4.5v2.4h-4.5zM223.9 313.7h2.4v2.4h-2.4zM232.3 313.7h10.8v2.4h-10.8zM577.8 313.7h2.4v2.4h-2.4zM590.4 313.7h6.6v2.4h-6.6zM664.1 313.7h6.6v2.4h-6.6zM211.2 311.6h2.4v2.4h-2.4zM221.7 311.6h4.5v2.4h-4.5zM228.1 311.6h2.4v2.4h-2.4zM240.7 311.6h2.4v2.4h-2.4zM105.9 307.3h2.4v2.4h-2.4zM139.6 307.3h4.5v2.4h-4.5zM145.9 307.3h2.4v2.4h-2.4zM150.1 307.3h4.5v2.4h-4.5zM156.4 307.3h2.4v2.4h-2.4zM160.7 307.3h2.4v2.4h-2.4zM167.0 307.3h6.6v2.4h-6.6zM175.4 307.3h6.6v2.4h-6.6zM221.7 307.3h2.4v2.4h-2.4zM238.6 307.3h2.4v2.4h-2.4zM325.0 307.3h6.6v2.4h-6.6zM339.7 307.3h2.4v2.4h-2.4zM432.4 307.3h2.4v2.4h-2.4zM478.8 307.3h2.4v2.4h-2.4zM552.5 307.3h2.4v2.4h-2.4zM571.5 307.3h6.6v2.4h-6.6zM615.7 307.3h2.4v2.4h-2.4zM622.0 307.3h2.4v2.4h-2.4zM78.5 298.7h2.4v2.4h-2.4zM84.8 298.7h4.5v2.4h-4.5zM124.8 298.7h2.4v2.4h-2.4zM154.3 298.7h2.4v2.4h-2.4zM158.5 298.7h4.5v2.4h-4.5zM164.9 298.7h2.4v2.4h-2.4zM169.1 298.7h4.5v2.4h-4.5zM198.6 298.7h2.4v2.4h-2.4zM202.8 298.7h4.5v2.4h-4.5zM213.3 298.7h2.4v2.4h-2.4zM217.5 298.7h6.6v2.4h-6.6zM226.0 298.7h6.6v2.4h-6.6zM234.4 298.7h2.4v2.4h-2.4zM244.9 298.7h2.4v2.4h-2.4zM470.3 298.7h2.4v2.4h-2.4zM487.2 298.7h4.5v2.4h-4.5zM493.5 298.7h2.4v2.4h-2.4zM501.9 298.7h15.0v2.4h-15.0zM573.6 298.7h6.6v2.4h-6.6zM624.1 298.7h4.5v2.4h-4.5zM632.5 298.7h2.4v2.4h-2.4zM636.8 298.7h2.4v2.4h-2.4zM670.5 298.7h2.4v2.4h-2.4zM209.1 292.3h2.4v2.4h-2.4zM213.3 292.3h6.6v2.4h-6.6zM221.7 292.3h2.4v2.4h-2.4zM228.1 292.3h4.5v2.4h-4.5zM215.4 288.0h2.4v2.4h-2.4zM219.6 288.0h6.6v2.4h-6.6zM242.8 288.0h6.6v2.4h-6.6zM251.2 288.0h2.4v2.4h-2.4zM204.9 285.9h2.4v2.4h-2.4zM209.1 285.9h4.5v2.4h-4.5zM240.7 285.9h2.4v2.4h-2.4zM244.9 285.9h2.4v2.4h-2.4zM493.5 285.9h2.4v2.4h-2.4zM497.7 285.9h2.4v2.4h-2.4zM533.5 285.9h4.5v2.4h-4.5zM596.7 283.7h4.5v2.4h-4.5zM219.6 281.6h4.5v2.4h-4.5zM249.1 281.6h2.4v2.4h-2.4zM253.3 281.6h4.5v2.4h-4.5zM447.2 281.6h4.5v2.4h-4.5zM457.7 281.6h6.6v2.4h-6.6zM468.2 281.6h8.7v2.4h-8.7zM487.2 281.6h2.4v2.4h-2.4zM211.2 279.4h4.5v2.4h-4.5zM223.9 279.4h2.4v2.4h-2.4zM228.1 279.4h2.4v2.4h-2.4zM234.4 279.4h2.4v2.4h-2.4zM240.7 279.4h2.4v2.4h-2.4zM202.8 277.3h6.6v2.4h-6.6zM211.2 277.3h2.4v2.4h-2.4zM215.4 277.3h4.5v2.4h-4.5zM221.7 277.3h2.4v2.4h-2.4zM226.0 277.3h4.5v2.4h-4.5zM232.3 277.3h10.8v2.4h-10.8zM253.3 277.3h4.5v2.4h-4.5zM143.8 275.1h2.4v2.4h-2.4zM150.1 275.1h2.4v2.4h-2.4zM154.3 275.1h2.4v2.4h-2.4zM158.5 275.1h6.6v2.4h-6.6zM167.0 275.1h6.6v2.4h-6.6zM204.9 275.1h2.4v2.4h-2.4zM508.3 275.1h4.5v2.4h-4.5zM527.2 275.1h4.5v2.4h-4.5zM542.0 275.1h6.6v2.4h-6.6zM567.2 275.1h2.4v2.4h-2.4zM588.3 275.1h4.5v2.4h-4.5zM662.0 275.1h2.4v2.4h-2.4zM672.6 275.1h2.4v2.4h-2.4zM487.2 273.0h2.4v2.4h-2.4zM514.6 273.0h6.6v2.4h-6.6zM240.7 270.9h4.5v2.4h-4.5zM251.2 270.9h8.7v2.4h-8.7zM266.0 270.9h2.4v2.4h-2.4zM449.3 270.9h2.4v2.4h-2.4zM453.5 270.9h2.4v2.4h-2.4zM466.1 270.9h4.5v2.4h-4.5zM476.7 270.9h2.4v2.4h-2.4zM487.2 270.9h4.5v2.4h-4.5zM499.8 270.9h4.5v2.4h-4.5zM512.5 270.9h2.4v2.4h-2.4zM516.7 270.9h4.5v2.4h-4.5zM523.0 270.9h4.5v2.4h-4.5zM645.2 270.9h4.5v2.4h-4.5zM244.9 268.7h2.4v2.4h-2.4zM249.1 268.7h6.6v2.4h-6.6zM238.6 266.6h6.6v2.4h-6.6zM247.0 266.6h2.4v2.4h-2.4zM255.5 266.6h2.4v2.4h-2.4zM432.4 264.4h2.4v2.4h-2.4zM483.0 264.4h2.4v2.4h-2.4zM546.2 264.4h2.4v2.4h-2.4zM550.4 264.4h6.6v2.4h-6.6zM590.4 264.4h4.5v2.4h-4.5zM596.7 264.4h2.4v2.4h-2.4zM253.3 262.3h2.4v2.4h-2.4zM356.6 262.3h2.4v2.4h-2.4zM398.7 262.3h4.5v2.4h-4.5zM491.4 262.3h2.4v2.4h-2.4zM514.6 262.3h8.7v2.4h-8.7zM539.9 240.9h2.4v2.4h-2.4zM556.7 240.9h2.4v2.4h-2.4zM567.2 240.9h2.4v2.4h-2.4zM571.5 240.9h2.4v2.4h-2.4zM579.9 240.9h2.4v2.4h-2.4zM586.2 240.9h12.9v2.4h-12.9zM455.6 238.7h2.4v2.4h-2.4zM459.8 238.7h8.7v2.4h-8.7zM487.2 238.7h4.5v2.4h-4.5zM495.6 238.7h4.5v2.4h-4.5zM510.4 238.7h2.4v2.4h-2.4zM514.6 238.7h2.4v2.4h-2.4zM542.0 238.7h2.4v2.4h-2.4zM550.4 238.7h4.5v2.4h-4.5zM603.1 238.7h2.4v2.4h-2.4zM607.3 238.7h2.4v2.4h-2.4zM611.5 238.7h8.7v2.4h-8.7zM634.7 238.7h2.4v2.4h-2.4zM645.2 238.7h2.4v2.4h-2.4zM649.4 238.7h6.6v2.4h-6.6zM154.3 236.6h4.5v2.4h-4.5zM160.7 236.6h2.4v2.4h-2.4zM164.9 236.6h6.6v2.4h-6.6zM188.0 236.6h2.4v2.4h-2.4zM207.0 236.6h6.6v2.4h-6.6zM215.4 236.6h2.4v2.4h-2.4zM377.6 236.6h2.4v2.4h-2.4zM221.7 230.1h2.4v2.4h-2.4zM226.0 230.1h6.6v2.4h-6.6zM236.5 230.1h12.9v2.4h-12.9zM253.3 230.1h6.6v2.4h-6.6zM261.8 230.1h8.7v2.4h-8.7zM274.4 230.1h2.4v2.4h-2.4zM278.6 230.1h4.5v2.4h-4.5zM295.5 230.1h2.4v2.4h-2.4zM308.1 230.1h4.5v2.4h-4.5zM318.7 230.1h2.4v2.4h-2.4zM341.8 230.1h2.4v2.4h-2.4zM348.1 230.1h2.4v2.4h-2.4zM352.4 230.1h15.0v2.4h-15.0zM371.3 230.1h4.5v2.4h-4.5zM381.9 230.1h10.8v2.4h-10.8zM394.5 230.1h2.4v2.4h-2.4zM405.0 230.1h4.5v2.4h-4.5zM419.8 230.1h2.4v2.4h-2.4zM428.2 230.1h4.5v2.4h-4.5zM440.8 230.1h2.4v2.4h-2.4zM461.9 230.1h4.5v2.4h-4.5zM470.3 230.1h2.4v2.4h-2.4zM478.8 230.1h2.4v2.4h-2.4zM483.0 230.1h2.4v2.4h-2.4zM493.5 230.1h8.7v2.4h-8.7zM506.1 230.1h6.6v2.4h-6.6zM531.4 230.1h4.5v2.4h-4.5zM546.2 230.1h2.4v2.4h-2.4zM550.4 230.1h2.4v2.4h-2.4zM554.6 230.1h2.4v2.4h-2.4zM558.8 230.1h2.4v2.4h-2.4zM567.2 230.1h2.4v2.4h-2.4zM255.5 223.7h2.4v2.4h-2.4zM259.7 223.7h4.5v2.4h-4.5zM266.0 223.7h2.4v2.4h-2.4zM586.2 219.4h6.6v2.4h-6.6zM596.7 219.4h2.4v2.4h-2.4zM605.2 219.4h4.5v2.4h-4.5zM219.6 217.3h2.4v2.4h-2.4zM226.0 217.3h2.4v2.4h-2.4zM230.2 217.3h2.4v2.4h-2.4zM234.4 217.3h2.4v2.4h-2.4zM244.9 217.3h6.6v2.4h-6.6zM253.3 217.3h2.4v2.4h-2.4zM261.8 217.3h4.5v2.4h-4.5zM274.4 217.3h2.4v2.4h-2.4zM284.9 217.3h2.4v2.4h-2.4zM289.2 217.3h2.4v2.4h-2.4zM297.6 217.3h2.4v2.4h-2.4zM312.3 217.3h2.4v2.4h-2.4zM320.8 217.3h2.4v2.4h-2.4zM325.0 217.3h2.4v2.4h-2.4zM329.2 217.3h2.4v2.4h-2.4zM335.5 217.3h4.5v2.4h-4.5zM350.3 217.3h15.0v2.4h-15.0zM367.1 217.3h2.4v2.4h-2.4zM379.7 217.3h4.5v2.4h-4.5zM386.1 217.3h2.4v2.4h-2.4zM390.3 217.3h12.9v2.4h-12.9zM405.0 217.3h2.4v2.4h-2.4zM411.3 217.3h2.4v2.4h-2.4zM417.7 217.3h2.4v2.4h-2.4zM428.2 217.3h2.4v2.4h-2.4zM434.5 217.3h2.4v2.4h-2.4zM438.7 217.3h2.4v2.4h-2.4zM445.1 217.3h10.8v2.4h-10.8zM457.7 217.3h4.5v2.4h-4.5zM466.1 217.3h2.4v2.4h-2.4zM470.3 217.3h2.4v2.4h-2.4zM476.7 217.3h4.5v2.4h-4.5zM483.0 217.3h2.4v2.4h-2.4zM487.2 217.3h2.4v2.4h-2.4zM491.4 217.3h4.5v2.4h-4.5zM219.6 215.1h6.6v2.4h-6.6zM228.1 215.1h8.7v2.4h-8.7zM238.6 215.1h2.4v2.4h-2.4zM253.3 215.1h2.4v2.4h-2.4zM259.7 215.1h2.4v2.4h-2.4zM284.9 215.1h4.5v2.4h-4.5zM518.8 213.0h2.4v2.4h-2.4zM542.0 213.0h2.4v2.4h-2.4zM546.2 213.0h2.4v2.4h-2.4zM571.5 213.0h2.4v2.4h-2.4zM577.8 213.0h6.6v2.4h-6.6zM586.2 213.0h2.4v2.4h-2.4zM590.4 213.0h2.4v2.4h-2.4zM607.3 213.0h2.4v2.4h-2.4zM523.0 210.9h6.6v2.4h-6.6zM539.9 210.9h6.6v2.4h-6.6zM554.6 210.9h2.4v2.4h-2.4zM558.8 210.9h2.4v2.4h-2.4zM567.2 210.9h2.4v2.4h-2.4zM577.8 210.9h2.4v2.4h-2.4zM582.0 210.9h6.6v2.4h-6.6zM590.4 210.9h2.4v2.4h-2.4zM594.6 210.9h6.6v2.4h-6.6zM607.3 210.9h2.4v2.4h-2.4zM622.0 210.9h4.5v2.4h-4.5zM628.3 210.9h4.5v2.4h-4.5zM643.1 210.9h2.4v2.4h-2.4zM655.7 210.9h8.7v2.4h-8.7zM436.6 208.7h2.4v2.4h-2.4zM440.8 208.7h2.4v2.4h-2.4zM449.3 208.7h4.5v2.4h-4.5zM459.8 208.7h8.7v2.4h-8.7zM470.3 208.7h2.4v2.4h-2.4zM476.7 208.7h2.4v2.4h-2.4zM480.9 208.7h2.4v2.4h-2.4zM485.1 208.7h2.4v2.4h-2.4zM497.7 208.7h2.4v2.4h-2.4zM506.1 208.7h6.6v2.4h-6.6zM520.9 208.7h2.4v2.4h-2.4zM259.7 206.6h2.4v2.4h-2.4zM274.4 206.6h2.4v2.4h-2.4zM284.9 206.6h2.4v2.4h-2.4zM289.2 206.6h8.7v2.4h-8.7zM299.7 206.6h4.5v2.4h-4.5zM316.5 206.6h4.5v2.4h-4.5zM322.9 206.6h2.4v2.4h-2.4zM329.2 206.6h4.5v2.4h-4.5zM335.5 206.6h6.6v2.4h-6.6zM348.1 206.6h4.5v2.4h-4.5zM354.5 206.6h2.4v2.4h-2.4zM362.9 206.6h6.6v2.4h-6.6zM371.3 206.6h2.4v2.4h-2.4zM375.5 206.6h2.4v2.4h-2.4zM379.7 206.6h2.4v2.4h-2.4zM386.1 206.6h4.5v2.4h-4.5zM407.1 206.6h2.4v2.4h-2.4zM411.3 206.6h2.4v2.4h-2.4zM419.8 206.6h2.4v2.4h-2.4zM424.0 206.6h8.7v2.4h-8.7zM436.6 206.6h10.8v2.4h-10.8zM451.4 206.6h2.4v2.4h-2.4zM455.6 206.6h6.6v2.4h-6.6zM464.0 206.6h6.6v2.4h-6.6zM474.5 206.6h2.4v2.4h-2.4zM483.0 206.6h2.4v2.4h-2.4zM487.2 206.6h2.4v2.4h-2.4zM491.4 206.6h2.4v2.4h-2.4zM495.6 206.6h2.4v2.4h-2.4zM506.1 206.6h6.6v2.4h-6.6zM520.9 206.6h2.4v2.4h-2.4zM312.3 200.1h4.5v2.4h-4.5zM322.9 200.1h2.4v2.4h-2.4zM337.6 200.1h4.5v2.4h-4.5zM346.0 200.1h4.5v2.4h-4.5zM352.4 200.1h8.7v2.4h-8.7zM373.4 200.1h4.5v2.4h-4.5zM390.3 200.1h2.4v2.4h-2.4zM398.7 200.1h2.4v2.4h-2.4zM409.2 200.1h2.4v2.4h-2.4zM428.2 200.1h2.4v2.4h-2.4zM440.8 200.1h2.4v2.4h-2.4zM459.8 200.1h4.5v2.4h-4.5zM474.5 200.1h2.4v2.4h-2.4zM483.0 200.1h6.6v2.4h-6.6zM493.5 200.1h2.4v2.4h-2.4zM497.7 200.1h2.4v2.4h-2.4zM501.9 200.1h2.4v2.4h-2.4zM506.1 200.1h2.4v2.4h-2.4zM512.5 200.1h10.8v2.4h-10.8zM520.9 185.1h2.4v2.4h-2.4zM525.1 185.1h2.4v2.4h-2.4zM537.7 185.1h2.4v2.4h-2.4zM542.0 185.1h2.4v2.4h-2.4zM546.2 185.1h6.6v2.4h-6.6zM556.7 185.1h4.5v2.4h-4.5zM563.0 185.1h2.4v2.4h-2.4zM573.6 185.1h2.4v2.4h-2.4zM577.8 185.1h2.4v2.4h-2.4zM592.5 185.1h2.4v2.4h-2.4zM596.7 185.1h2.4v2.4h-2.4zM643.1 185.1h8.7v2.4h-8.7zM653.6 185.1h2.4v2.4h-2.4zM228.1 183.0h6.6v2.4h-6.6zM251.2 183.0h2.4v2.4h-2.4zM257.6 183.0h2.4v2.4h-2.4zM263.9 183.0h2.4v2.4h-2.4zM282.8 183.0h2.4v2.4h-2.4zM293.4 183.0h2.4v2.4h-2.4zM297.6 183.0h2.4v2.4h-2.4zM306.0 183.0h2.4v2.4h-2.4zM325.0 183.0h6.6v2.4h-6.6zM341.8 183.0h6.6v2.4h-6.6zM350.3 183.0h2.4v2.4h-2.4zM354.5 183.0h4.5v2.4h-4.5zM362.9 183.0h2.4v2.4h-2.4zM375.5 183.0h2.4v2.4h-2.4zM381.9 183.0h10.8v2.4h-10.8zM405.0 183.0h2.4v2.4h-2.4zM413.5 183.0h2.4v2.4h-2.4zM419.8 183.0h4.5v2.4h-4.5zM426.1 183.0h2.4v2.4h-2.4zM434.5 183.0h2.4v2.4h-2.4zM438.7 183.0h4.5v2.4h-4.5zM476.7 183.0h8.7v2.4h-8.7zM126.9 180.9h2.4v2.4h-2.4zM137.5 180.9h4.5v2.4h-4.5zM523.0 176.6h6.6v2.4h-6.6zM110.1 174.4h2.4v2.4h-2.4zM131.2 174.4h2.4v2.4h-2.4zM643.1 174.4h4.5v2.4h-4.5zM649.4 174.4h2.4v2.4h-2.4zM653.6 174.4h2.4v2.4h-2.4zM659.9 174.4h2.4v2.4h-2.4zM664.1 174.4h2.4v2.4h-2.4zM670.5 174.4h2.4v2.4h-2.4zM207.0 163.7h4.5v2.4h-4.5zM228.1 163.7h4.5v2.4h-4.5zM365.0 163.7h2.4v2.4h-2.4zM447.2 163.7h4.5v2.4h-4.5zM453.5 163.7h2.4v2.4h-2.4zM493.5 163.7h2.4v2.4h-2.4zM499.8 163.7h6.6v2.4h-6.6zM508.3 163.7h2.4v2.4h-2.4zM179.6 161.6h4.5v2.4h-4.5zM185.9 161.6h2.4v2.4h-2.4zM451.4 161.6h2.4v2.4h-2.4zM457.7 161.6h2.4v2.4h-2.4zM497.7 161.6h2.4v2.4h-2.4zM501.9 161.6h6.6v2.4h-6.6zM512.5 161.6h2.4v2.4h-2.4zM516.7 161.6h4.5v2.4h-4.5zM457.7 159.4h2.4v2.4h-2.4zM501.9 159.4h2.4v2.4h-2.4zM523.0 159.4h2.4v2.4h-2.4zM230.2 157.3h4.5v2.4h-4.5zM421.9 157.3h2.4v2.4h-2.4zM426.1 157.3h10.8v2.4h-10.8zM438.7 157.3h4.5v2.4h-4.5zM468.2 157.3h2.4v2.4h-2.4zM472.4 157.3h6.6v2.4h-6.6zM489.3 157.3h2.4v2.4h-2.4zM497.7 157.3h2.4v2.4h-2.4zM438.7 155.1h2.4v2.4h-2.4zM476.7 155.1h2.4v2.4h-2.4zM520.9 155.1h2.4v2.4h-2.4zM200.7 153.0h2.4v2.4h-2.4zM487.2 153.0h2.4v2.4h-2.4zM499.8 153.0h6.6v2.4h-6.6zM289.2 148.6h4.5v2.5h-4.5zM295.5 148.6h10.8v2.5h-10.8zM316.5 148.6h4.5v2.5h-4.5zM327.1 148.6h2.4v2.5h-2.4zM333.4 148.6h4.5v2.5h-4.5zM339.7 148.6h2.4v2.5h-2.4zM343.9 148.6h2.4v2.5h-2.4zM348.1 148.6h4.5v2.5h-4.5zM356.6 148.6h4.5v2.5h-4.5zM369.2 148.6h4.5v2.5h-4.5zM375.5 148.6h4.5v2.5h-4.5zM400.8 148.6h4.5v2.5h-4.5zM411.3 148.6h2.4v2.5h-2.4zM415.6 148.6h4.5v2.5h-4.5zM421.9 148.6h8.7v2.5h-8.7zM436.6 148.6h6.6v2.5h-6.6zM447.2 148.6h15.0v2.5h-15.0zM464.0 148.6h2.4v2.5h-2.4zM472.4 148.6h2.4v2.5h-2.4zM478.8 148.6h8.7v2.5h-8.7zM491.4 148.6h4.5v2.5h-4.5zM501.9 148.6h2.4v2.5h-2.4zM508.3 148.6h2.4v2.5h-2.4zM297.6 144.3h6.6v2.5h-6.6zM308.1 144.3h2.4v2.5h-2.4zM343.9 144.3h2.4v2.5h-2.4zM350.3 144.3h8.7v2.5h-8.7zM365.0 144.3h2.4v2.5h-2.4zM369.2 144.3h2.4v2.5h-2.4zM392.4 144.3h4.5v2.5h-4.5zM402.9 144.3h4.5v2.5h-4.5zM421.9 144.3h6.6v2.5h-6.6zM430.3 144.3h2.4v2.5h-2.4zM434.5 144.3h2.4v2.5h-2.4zM461.9 144.3h4.5v2.5h-4.5zM215.4 137.7h2.4v2.5h-2.4zM483.0 126.8h4.5v2.5h-4.5zM483.0 122.5h2.4v2.5h-2.4zM487.2 122.5h2.4v2.5h-2.4zM495.6 122.5h2.4v2.5h-2.4zM499.8 122.5h2.4v2.5h-2.4zM440.8 115.9h2.4v2.5h-2.4zM453.5 115.9h2.4v2.5h-2.4zM457.7 115.9h6.6v2.5h-6.6zM466.1 115.9h2.4v2.5h-2.4zM472.4 115.9h2.4v2.5h-2.4zM476.7 115.9h4.5v2.5h-4.5zM483.0 115.9h2.4v2.5h-2.4zM426.1 113.8h2.4v2.5h-2.4zM436.6 113.8h2.4v2.5h-2.4zM215.4 100.7h6.6v2.5h-6.6zM451.4 100.7h2.4v2.5h-2.4zM472.4 100.7h4.5v2.5h-4.5zM249.1 89.8h4.5v2.5h-4.5zM257.6 89.8h2.4v2.5h-2.4zM261.8 89.8h2.4v2.5h-2.4zM266.0 89.8h2.4v2.5h-2.4zM459.8 83.3h4.5v2.5h-4.5zM461.9 74.5h2.4v2.5h-2.4z"/><path fill="#ff773d" d="M535.6 337.3h4.5v2.4h-4.5zM560.9 337.3h8.7v2.4h-8.7zM209.1 326.6h2.4v2.4h-2.4zM232.3 326.6h4.5v2.4h-4.5zM455.6 326.6h8.7v2.4h-8.7zM497.7 326.6h4.5v2.4h-4.5zM516.7 326.6h2.4v2.4h-2.4zM181.7 320.1h2.4v2.4h-2.4zM198.6 320.1h4.5v2.4h-4.5zM207.0 320.1h6.6v2.4h-6.6zM215.4 320.1h6.6v2.4h-6.6zM226.0 320.1h4.5v2.4h-4.5zM236.5 320.1h2.4v2.4h-2.4zM512.5 320.1h2.4v2.4h-2.4zM101.7 313.7h2.4v2.4h-2.4zM226.0 313.7h6.6v2.4h-6.6zM207.0 311.6h2.4v2.4h-2.4zM213.3 311.6h2.4v2.4h-2.4zM217.5 311.6h2.4v2.4h-2.4zM234.4 311.6h6.6v2.4h-6.6zM207.0 307.3h8.7v2.4h-8.7zM217.5 307.3h4.5v2.4h-4.5zM223.9 307.3h15.0v2.4h-15.0zM240.7 307.3h15.0v2.4h-15.0zM261.8 307.3h2.4v2.4h-2.4zM282.8 307.3h8.7v2.4h-8.7zM295.5 307.3h2.4v2.4h-2.4zM306.0 307.3h2.4v2.4h-2.4zM310.2 307.3h4.5v2.4h-4.5zM316.5 307.3h8.7v2.4h-8.7zM331.3 307.3h2.4v2.4h-2.4zM335.5 307.3h4.5v2.4h-4.5zM341.8 307.3h12.9v2.4h-12.9zM356.6 307.3h15.0v2.4h-15.0zM373.4 307.3h4.5v2.4h-4.5zM381.9 307.3h2.4v2.4h-2.4zM386.1 307.3h21.4v2.4h-21.4zM409.2 307.3h2.4v2.4h-2.4zM413.5 307.3h19.3v2.4h-19.3zM434.5 307.3h2.4v2.4h-2.4zM438.7 307.3h25.6v2.4h-25.6zM474.5 307.3h4.5v2.4h-4.5zM480.9 307.3h4.5v2.4h-4.5zM489.3 307.3h27.7v2.4h-27.7zM162.8 298.7h2.4v2.4h-2.4zM167.0 298.7h2.4v2.4h-2.4zM207.0 298.7h6.6v2.4h-6.6zM215.4 298.7h2.4v2.4h-2.4zM638.9 298.7h2.4v2.4h-2.4zM211.2 292.3h2.4v2.4h-2.4zM217.5 288.0h2.4v2.4h-2.4zM207.0 285.9h2.4v2.4h-2.4zM221.7 285.9h8.7v2.4h-8.7zM232.3 285.9h4.5v2.4h-4.5zM238.6 285.9h2.4v2.4h-2.4zM242.8 285.9h2.4v2.4h-2.4zM499.8 285.9h4.5v2.4h-4.5zM506.1 285.9h4.5v2.4h-4.5zM527.2 285.9h2.4v2.4h-2.4zM531.4 285.9h2.4v2.4h-2.4zM573.6 283.7h4.5v2.4h-4.5zM594.6 283.7h2.4v2.4h-2.4zM613.6 283.7h2.4v2.4h-2.4zM223.9 281.6h2.4v2.4h-2.4zM244.9 281.6h4.5v2.4h-4.5zM451.4 281.6h4.5v2.4h-4.5zM464.0 281.6h4.5v2.4h-4.5zM476.7 281.6h2.4v2.4h-2.4zM485.1 281.6h2.4v2.4h-2.4zM489.3 281.6h4.5v2.4h-4.5zM508.3 281.6h2.4v2.4h-2.4zM512.5 281.6h6.6v2.4h-6.6zM520.9 281.6h6.6v2.4h-6.6zM535.6 281.6h4.5v2.4h-4.5zM542.0 281.6h4.5v2.4h-4.5zM548.3 281.6h4.5v2.4h-4.5zM215.4 279.4h8.7v2.4h-8.7zM242.8 279.4h12.9v2.4h-12.9zM200.7 277.3h2.4v2.4h-2.4zM219.6 277.3h2.4v2.4h-2.4zM223.9 277.3h2.4v2.4h-2.4zM242.8 277.3h4.5v2.4h-4.5zM259.7 277.3h2.4v2.4h-2.4zM236.5 270.9h2.4v2.4h-2.4zM249.1 270.9h2.4v2.4h-2.4zM259.7 270.9h2.4v2.4h-2.4zM263.9 270.9h2.4v2.4h-2.4zM447.2 270.9h2.4v2.4h-2.4zM470.3 270.9h2.4v2.4h-2.4zM491.4 270.9h2.4v2.4h-2.4zM497.7 270.9h2.4v2.4h-2.4zM508.3 270.9h4.5v2.4h-4.5zM514.6 270.9h2.4v2.4h-2.4zM520.9 270.9h2.4v2.4h-2.4zM238.6 268.7h6.6v2.4h-6.6zM247.0 268.7h2.4v2.4h-2.4zM257.6 268.7h2.4v2.4h-2.4zM261.8 268.7h4.5v2.4h-4.5zM236.5 266.6h2.4v2.4h-2.4zM249.1 266.6h2.4v2.4h-2.4zM261.8 266.6h4.5v2.4h-4.5zM236.5 262.3h4.5v2.4h-4.5zM242.8 262.3h2.4v2.4h-2.4zM247.0 262.3h2.4v2.4h-2.4zM251.2 262.3h2.4v2.4h-2.4zM255.5 262.3h8.7v2.4h-8.7zM270.2 262.3h4.5v2.4h-4.5zM276.5 262.3h2.4v2.4h-2.4zM280.7 262.3h4.5v2.4h-4.5zM287.1 262.3h6.6v2.4h-6.6zM301.8 262.3h6.6v2.4h-6.6zM310.2 262.3h6.6v2.4h-6.6zM335.5 262.3h2.4v2.4h-2.4zM339.7 262.3h2.4v2.4h-2.4zM350.3 262.3h6.6v2.4h-6.6zM379.7 262.3h8.7v2.4h-8.7zM392.4 262.3h4.5v2.4h-4.5zM402.9 262.3h10.8v2.4h-10.8zM417.7 262.3h15.0v2.4h-15.0zM434.5 262.3h6.6v2.4h-6.6zM442.9 262.3h10.8v2.4h-10.8zM459.8 262.3h8.7v2.4h-8.7zM472.4 262.3h4.5v2.4h-4.5zM489.3 262.3h2.4v2.4h-2.4zM493.5 262.3h12.9v2.4h-12.9zM525.1 240.9h2.4v2.4h-2.4zM550.4 240.9h6.6v2.4h-6.6zM558.8 240.9h4.5v2.4h-4.5zM573.6 240.9h2.4v2.4h-2.4zM468.2 238.7h2.4v2.4h-2.4zM472.4 238.7h6.6v2.4h-6.6zM480.9 238.7h2.4v2.4h-2.4zM485.1 238.7h2.4v2.4h-2.4zM504.0 238.7h4.5v2.4h-4.5zM523.0 238.7h6.6v2.4h-6.6zM533.5 238.7h8.7v2.4h-8.7zM544.1 238.7h6.6v2.4h-6.6zM556.7 238.7h2.4v2.4h-2.4zM588.3 238.7h8.7v2.4h-8.7zM647.3 238.7h2.4v2.4h-2.4zM219.6 230.1h2.4v2.4h-2.4zM232.3 230.1h2.4v2.4h-2.4zM249.1 230.1h4.5v2.4h-4.5zM270.2 230.1h4.5v2.4h-4.5zM276.5 230.1h2.4v2.4h-2.4zM282.8 230.1h2.4v2.4h-2.4zM293.4 230.1h2.4v2.4h-2.4zM297.6 230.1h2.4v2.4h-2.4zM306.0 230.1h2.4v2.4h-2.4zM316.5 230.1h2.4v2.4h-2.4zM320.8 230.1h19.3v2.4h-19.3zM343.9 230.1h4.5v2.4h-4.5zM367.1 230.1h4.5v2.4h-4.5zM375.5 230.1h2.4v2.4h-2.4zM392.4 230.1h2.4v2.4h-2.4zM396.6 230.1h8.7v2.4h-8.7zM409.2 230.1h10.8v2.4h-10.8zM421.9 230.1h2.4v2.4h-2.4zM432.4 230.1h8.7v2.4h-8.7zM442.9 230.1h4.5v2.4h-4.5zM455.6 230.1h4.5v2.4h-4.5zM472.4 230.1h6.6v2.4h-6.6zM480.9 230.1h2.4v2.4h-2.4zM485.1 230.1h2.4v2.4h-2.4zM491.4 230.1h2.4v2.4h-2.4zM501.9 230.1h4.5v2.4h-4.5zM512.5 230.1h6.6v2.4h-6.6zM527.2 230.1h4.5v2.4h-4.5zM535.6 230.1h4.5v2.4h-4.5zM544.1 230.1h2.4v2.4h-2.4zM548.3 230.1h2.4v2.4h-2.4zM552.5 230.1h2.4v2.4h-2.4zM556.7 230.1h2.4v2.4h-2.4zM263.9 223.7h2.4v2.4h-2.4zM592.5 219.4h4.5v2.4h-4.5zM600.9 219.4h4.5v2.4h-4.5zM221.7 217.3h4.5v2.4h-4.5zM228.1 217.3h2.4v2.4h-2.4zM242.8 217.3h2.4v2.4h-2.4zM255.5 217.3h6.6v2.4h-6.6zM282.8 217.3h2.4v2.4h-2.4zM299.7 217.3h2.4v2.4h-2.4zM303.9 217.3h2.4v2.4h-2.4zM308.1 217.3h4.5v2.4h-4.5zM318.7 217.3h2.4v2.4h-2.4zM327.1 217.3h2.4v2.4h-2.4zM331.3 217.3h4.5v2.4h-4.5zM339.7 217.3h10.8v2.4h-10.8zM365.0 217.3h2.4v2.4h-2.4zM369.2 217.3h2.4v2.4h-2.4zM377.6 217.3h2.4v2.4h-2.4zM413.5 217.3h2.4v2.4h-2.4zM419.8 217.3h6.6v2.4h-6.6zM430.3 217.3h4.5v2.4h-4.5zM436.6 217.3h2.4v2.4h-2.4zM440.8 217.3h4.5v2.4h-4.5zM455.6 217.3h2.4v2.4h-2.4zM461.9 217.3h2.4v2.4h-2.4zM468.2 217.3h2.4v2.4h-2.4zM480.9 217.3h2.4v2.4h-2.4zM485.1 217.3h2.4v2.4h-2.4zM489.3 217.3h2.4v2.4h-2.4zM244.9 215.1h2.4v2.4h-2.4zM257.6 215.1h2.4v2.4h-2.4zM272.3 215.1h12.9v2.4h-12.9zM289.2 215.1h6.6v2.4h-6.6zM520.9 213.0h2.4v2.4h-2.4zM525.1 213.0h4.5v2.4h-4.5zM535.6 213.0h2.4v2.4h-2.4zM539.9 213.0h2.4v2.4h-2.4zM544.1 213.0h2.4v2.4h-2.4zM550.4 213.0h6.6v2.4h-6.6zM563.0 213.0h8.7v2.4h-8.7zM573.6 213.0h2.4v2.4h-2.4zM584.1 213.0h2.4v2.4h-2.4zM588.3 213.0h2.4v2.4h-2.4zM596.7 213.0h2.4v2.4h-2.4zM600.9 213.0h4.5v2.4h-4.5zM470.3 210.9h6.6v2.4h-6.6zM478.8 210.9h8.7v2.4h-8.7zM506.1 210.9h2.4v2.4h-2.4zM512.5 210.9h2.4v2.4h-2.4zM516.7 210.9h2.4v2.4h-2.4zM546.2 210.9h8.7v2.4h-8.7zM569.3 210.9h6.6v2.4h-6.6zM588.3 210.9h2.4v2.4h-2.4zM600.9 210.9h4.5v2.4h-4.5zM626.2 210.9h2.4v2.4h-2.4zM664.1 210.9h2.4v2.4h-2.4zM453.5 208.7h6.6v2.4h-6.6zM474.5 208.7h2.4v2.4h-2.4zM483.0 208.7h2.4v2.4h-2.4zM518.8 208.7h2.4v2.4h-2.4zM270.2 206.6h2.4v2.4h-2.4zM287.1 206.6h2.4v2.4h-2.4zM303.9 206.6h2.4v2.4h-2.4zM314.4 206.6h2.4v2.4h-2.4zM320.8 206.6h2.4v2.4h-2.4zM325.0 206.6h4.5v2.4h-4.5zM343.9 206.6h4.5v2.4h-4.5zM352.4 206.6h2.4v2.4h-2.4zM369.2 206.6h2.4v2.4h-2.4zM377.6 206.6h2.4v2.4h-2.4zM390.3 206.6h8.7v2.4h-8.7zM409.2 206.6h2.4v2.4h-2.4zM432.4 206.6h4.5v2.4h-4.5zM461.9 206.6h2.4v2.4h-2.4zM476.7 206.6h2.4v2.4h-2.4zM485.1 206.6h2.4v2.4h-2.4zM493.5 206.6h2.4v2.4h-2.4zM320.8 200.1h2.4v2.4h-2.4zM341.8 200.1h2.4v2.4h-2.4zM360.8 200.1h2.4v2.4h-2.4zM377.6 200.1h6.6v2.4h-6.6zM392.4 200.1h2.4v2.4h-2.4zM402.9 200.1h2.4v2.4h-2.4zM419.8 200.1h2.4v2.4h-2.4zM442.9 200.1h2.4v2.4h-2.4zM447.2 200.1h2.4v2.4h-2.4zM476.7 200.1h6.6v2.4h-6.6zM489.3 200.1h2.4v2.4h-2.4zM495.6 200.1h2.4v2.4h-2.4zM596.7 193.7h2.4v2.4h-2.4zM607.3 193.7h2.4v2.4h-2.4zM615.7 193.7h2.4v2.4h-2.4zM518.8 185.1h2.4v2.4h-2.4zM529.3 185.1h4.5v2.4h-4.5zM539.9 185.1h2.4v2.4h-2.4zM552.5 185.1h4.5v2.4h-4.5zM560.9 185.1h2.4v2.4h-2.4zM565.1 185.1h2.4v2.4h-2.4zM569.3 185.1h2.4v2.4h-2.4zM594.6 185.1h2.4v2.4h-2.4zM598.8 185.1h6.6v2.4h-6.6zM609.4 185.1h10.8v2.4h-10.8zM622.0 185.1h4.5v2.4h-4.5zM630.4 185.1h6.6v2.4h-6.6zM638.9 185.1h2.4v2.4h-2.4zM651.5 185.1h2.4v2.4h-2.4zM657.8 185.1h4.5v2.4h-4.5zM664.1 185.1h2.4v2.4h-2.4zM261.8 183.0h2.4v2.4h-2.4zM266.0 183.0h4.5v2.4h-4.5zM276.5 183.0h6.6v2.4h-6.6zM284.9 183.0h8.7v2.4h-8.7zM295.5 183.0h2.4v2.4h-2.4zM299.7 183.0h6.6v2.4h-6.6zM308.1 183.0h2.4v2.4h-2.4zM314.4 183.0h6.6v2.4h-6.6zM331.3 183.0h2.4v2.4h-2.4zM337.6 183.0h4.5v2.4h-4.5zM352.4 183.0h2.4v2.4h-2.4zM358.7 183.0h4.5v2.4h-4.5zM365.0 183.0h6.6v2.4h-6.6zM373.4 183.0h2.4v2.4h-2.4zM379.7 183.0h2.4v2.4h-2.4zM394.5 183.0h4.5v2.4h-4.5zM400.8 183.0h4.5v2.4h-4.5zM407.1 183.0h6.6v2.4h-6.6zM424.0 183.0h2.4v2.4h-2.4zM428.2 183.0h6.6v2.4h-6.6zM436.6 183.0h2.4v2.4h-2.4zM442.9 183.0h2.4v2.4h-2.4zM447.2 183.0h8.7v2.4h-8.7zM459.8 183.0h4.5v2.4h-4.5zM472.4 183.0h4.5v2.4h-4.5zM487.2 183.0h2.4v2.4h-2.4zM493.5 183.0h23.5v2.4h-23.5zM520.9 183.0h2.4v2.4h-2.4zM93.2 180.9h6.6v2.4h-6.6zM103.8 180.9h6.6v2.4h-6.6zM112.2 180.9h2.4v2.4h-2.4zM131.2 180.9h2.4v2.4h-2.4zM141.7 180.9h2.4v2.4h-2.4zM531.4 176.6h8.7v2.4h-8.7zM641.0 174.4h2.4v2.4h-2.4zM651.5 174.4h2.4v2.4h-2.4zM655.7 174.4h4.5v2.4h-4.5zM662.0 174.4h2.4v2.4h-2.4zM666.3 174.4h4.5v2.4h-4.5zM74.3 168.0h6.6v2.4h-6.6zM89.0 168.0h4.5v2.4h-4.5zM451.4 163.7h2.4v2.4h-2.4zM495.6 163.7h4.5v2.4h-4.5zM506.1 163.7h2.4v2.4h-2.4zM510.4 163.7h2.4v2.4h-2.4zM520.9 163.7h2.4v2.4h-2.4zM183.8 161.6h2.4v2.4h-2.4zM453.5 161.6h4.5v2.4h-4.5zM499.8 161.6h2.4v2.4h-2.4zM459.8 159.4h2.4v2.4h-2.4zM464.0 159.4h2.4v2.4h-2.4zM497.7 159.4h4.5v2.4h-4.5zM518.8 159.4h2.4v2.4h-2.4zM424.0 157.3h2.4v2.4h-2.4zM445.1 157.3h2.4v2.4h-2.4zM478.8 157.3h2.4v2.4h-2.4zM493.5 157.3h2.4v2.4h-2.4zM508.3 157.3h2.4v2.4h-2.4zM428.2 155.1h2.4v2.4h-2.4zM445.1 155.1h2.4v2.4h-2.4zM464.0 155.1h6.6v2.4h-6.6zM523.0 155.1h2.4v2.4h-2.4zM198.6 153.0h2.4v2.4h-2.4zM202.8 153.0h4.5v2.4h-4.5zM485.1 153.0h2.4v2.4h-2.4zM489.3 153.0h2.4v2.4h-2.4zM293.4 148.6h2.4v2.5h-2.4zM337.6 148.6h2.4v2.5h-2.4zM373.4 148.6h2.4v2.5h-2.4zM409.2 148.6h2.4v2.5h-2.4zM413.5 148.6h2.4v2.5h-2.4zM430.3 148.6h6.6v2.5h-6.6zM499.8 148.6h2.4v2.5h-2.4zM504.0 148.6h2.4v2.5h-2.4zM491.4 146.5h2.4v2.5h-2.4zM367.1 144.3h2.4v2.5h-2.4zM480.9 122.5h2.4v2.5h-2.4zM489.3 122.5h2.4v2.5h-2.4zM493.5 122.5h2.4v2.5h-2.4zM436.6 115.9h4.5v2.5h-4.5zM442.9 115.9h4.5v2.5h-4.5zM474.5 115.9h2.4v2.5h-2.4zM428.2 113.8h4.5v2.5h-4.5zM472.4 113.8h4.5v2.5h-4.5zM447.2 100.7h4.5v2.5h-4.5zM453.5 100.7h6.6v2.5h-6.6zM468.2 100.7h4.5v2.5h-4.5zM253.3 89.8h4.5v2.5h-4.5zM259.7 89.8h2.4v2.5h-2.4zM263.9 89.8h2.4v2.5h-2.4zM226.0 83.3h2.4v2.5h-2.4zM449.3 83.3h10.8v2.5h-10.8zM398.7 76.7h2.4v2.5h-2.4zM464.0 74.5h2.4v2.5h-2.4z"/><path fill="#ff3d1f" d="M552.5 337.3h2.4v2.4h-2.4zM464.0 326.6h2.4v2.4h-2.4zM204.9 320.1h2.4v2.4h-2.4zM213.3 320.1h2.4v2.4h-2.4zM221.7 320.1h4.5v2.4h-4.5zM215.4 311.6h2.4v2.4h-2.4zM215.4 307.3h2.4v2.4h-2.4zM255.5 307.3h6.6v2.4h-6.6zM263.9 307.3h10.8v2.4h-10.8zM278.6 307.3h4.5v2.4h-4.5zM291.3 307.3h4.5v2.4h-4.5zM297.6 307.3h8.7v2.4h-8.7zM308.1 307.3h2.4v2.4h-2.4zM314.4 307.3h2.4v2.4h-2.4zM333.4 307.3h2.4v2.4h-2.4zM354.5 307.3h2.4v2.4h-2.4zM371.3 307.3h2.4v2.4h-2.4zM377.6 307.3h4.5v2.4h-4.5zM384.0 307.3h2.4v2.4h-2.4zM407.1 307.3h2.4v2.4h-2.4zM411.3 307.3h2.4v2.4h-2.4zM436.6 307.3h2.4v2.4h-2.4zM464.0 307.3h10.8v2.4h-10.8zM485.1 307.3h4.5v2.4h-4.5zM516.7 307.3h6.6v2.4h-6.6zM230.2 285.9h2.4v2.4h-2.4zM236.5 285.9h2.4v2.4h-2.4zM247.0 285.9h6.6v2.4h-6.6zM525.1 285.9h2.4v2.4h-2.4zM529.3 285.9h2.4v2.4h-2.4zM226.0 283.7h2.4v2.4h-2.4zM232.3 283.7h4.5v2.4h-4.5zM577.8 283.7h17.2v2.4h-17.2zM600.9 283.7h2.4v2.4h-2.4zM607.3 283.7h2.4v2.4h-2.4zM611.5 283.7h2.4v2.4h-2.4zM455.6 281.6h2.4v2.4h-2.4zM478.8 281.6h2.4v2.4h-2.4zM493.5 281.6h15.0v2.4h-15.0zM510.4 281.6h2.4v2.4h-2.4zM518.8 281.6h2.4v2.4h-2.4zM527.2 281.6h8.7v2.4h-8.7zM539.9 281.6h2.4v2.4h-2.4zM546.2 281.6h2.4v2.4h-2.4zM238.6 270.9h2.4v2.4h-2.4zM261.8 270.9h2.4v2.4h-2.4zM451.4 270.9h2.4v2.4h-2.4zM459.8 270.9h6.6v2.4h-6.6zM472.4 270.9h4.5v2.4h-4.5zM493.5 270.9h4.5v2.4h-4.5zM236.5 268.7h2.4v2.4h-2.4zM255.5 268.7h2.4v2.4h-2.4zM259.7 268.7h2.4v2.4h-2.4zM251.2 266.6h4.5v2.4h-4.5zM523.0 264.4h8.7v2.4h-8.7zM240.7 262.3h2.4v2.4h-2.4zM244.9 262.3h2.4v2.4h-2.4zM249.1 262.3h2.4v2.4h-2.4zM263.9 262.3h6.6v2.4h-6.6zM274.4 262.3h2.4v2.4h-2.4zM278.6 262.3h2.4v2.4h-2.4zM284.9 262.3h2.4v2.4h-2.4zM293.4 262.3h8.7v2.4h-8.7zM308.1 262.3h2.4v2.4h-2.4zM316.5 262.3h6.6v2.4h-6.6zM327.1 262.3h8.7v2.4h-8.7zM337.6 262.3h2.4v2.4h-2.4zM341.8 262.3h8.7v2.4h-8.7zM358.7 262.3h4.5v2.4h-4.5zM367.1 262.3h2.4v2.4h-2.4zM371.3 262.3h2.4v2.4h-2.4zM388.2 262.3h4.5v2.4h-4.5zM396.6 262.3h2.4v2.4h-2.4zM413.5 262.3h4.5v2.4h-4.5zM432.4 262.3h2.4v2.4h-2.4zM440.8 262.3h2.4v2.4h-2.4zM455.6 262.3h4.5v2.4h-4.5zM468.2 262.3h4.5v2.4h-4.5zM476.7 262.3h12.9v2.4h-12.9zM506.1 262.3h8.7v2.4h-8.7zM68.0 240.9h6.6v2.4h-6.6zM97.5 240.9h6.6v2.4h-6.6zM131.2 240.9h4.5v2.4h-4.5zM139.6 240.9h2.4v2.4h-2.4zM171.2 240.9h8.7v2.4h-8.7zM211.2 240.9h2.4v2.4h-2.4zM523.0 240.9h2.4v2.4h-2.4zM546.2 240.9h4.5v2.4h-4.5zM221.7 238.7h8.7v2.4h-8.7zM483.0 238.7h2.4v2.4h-2.4zM499.8 238.7h4.5v2.4h-4.5zM508.3 238.7h2.4v2.4h-2.4zM512.5 238.7h2.4v2.4h-2.4zM529.3 238.7h4.5v2.4h-4.5zM554.6 238.7h2.4v2.4h-2.4zM563.0 238.7h12.9v2.4h-12.9zM579.9 238.7h8.7v2.4h-8.7zM596.7 238.7h2.4v2.4h-2.4zM284.9 230.1h8.7v2.4h-8.7zM299.7 230.1h6.6v2.4h-6.6zM314.4 230.1h2.4v2.4h-2.4zM447.2 230.1h4.5v2.4h-4.5zM453.5 230.1h2.4v2.4h-2.4zM459.8 230.1h2.4v2.4h-2.4zM487.2 230.1h4.5v2.4h-4.5zM518.8 230.1h2.4v2.4h-2.4zM525.1 230.1h2.4v2.4h-2.4zM539.9 230.1h4.5v2.4h-4.5zM598.8 219.4h2.4v2.4h-2.4zM301.8 217.3h2.4v2.4h-2.4zM306.0 217.3h2.4v2.4h-2.4zM371.3 217.3h6.6v2.4h-6.6zM426.1 217.3h2.4v2.4h-2.4zM464.0 217.3h2.4v2.4h-2.4zM240.7 215.1h4.5v2.4h-4.5zM122.7 213.0h4.5v2.4h-4.5zM529.3 213.0h6.6v2.4h-6.6zM537.7 213.0h2.4v2.4h-2.4zM548.3 213.0h2.4v2.4h-2.4zM556.7 213.0h6.6v2.4h-6.6zM592.5 213.0h4.5v2.4h-4.5zM468.2 210.9h2.4v2.4h-2.4zM476.7 210.9h2.4v2.4h-2.4zM487.2 210.9h8.7v2.4h-8.7zM501.9 210.9h4.5v2.4h-4.5zM508.3 210.9h4.5v2.4h-4.5zM514.6 210.9h2.4v2.4h-2.4zM518.8 210.9h4.5v2.4h-4.5zM605.2 210.9h2.4v2.4h-2.4zM272.3 206.6h2.4v2.4h-2.4zM306.0 206.6h8.7v2.4h-8.7zM341.8 206.6h2.4v2.4h-2.4zM470.3 206.6h4.5v2.4h-4.5zM316.5 200.1h2.4v2.4h-2.4zM343.9 200.1h2.4v2.4h-2.4zM396.6 200.1h2.4v2.4h-2.4zM400.8 200.1h2.4v2.4h-2.4zM421.9 200.1h2.4v2.4h-2.4zM426.1 200.1h2.4v2.4h-2.4zM491.4 200.1h2.4v2.4h-2.4zM213.3 195.9h2.4v2.4h-2.4zM226.0 195.9h2.4v2.4h-2.4zM565.1 193.7h2.4v2.4h-2.4zM571.5 193.7h25.6v2.4h-25.6zM598.8 193.7h8.7v2.4h-8.7zM609.4 193.7h6.6v2.4h-6.6zM617.8 193.7h10.8v2.4h-10.8zM634.7 193.7h6.6v2.4h-6.6zM485.1 185.1h4.5v2.4h-4.5zM527.2 185.1h2.4v2.4h-2.4zM533.5 185.1h4.5v2.4h-4.5zM567.2 185.1h2.4v2.4h-2.4zM575.7 185.1h2.4v2.4h-2.4zM579.9 185.1h6.6v2.4h-6.6zM588.3 185.1h2.4v2.4h-2.4zM605.2 185.1h4.5v2.4h-4.5zM619.9 185.1h2.4v2.4h-2.4zM626.2 185.1h4.5v2.4h-4.5zM636.8 185.1h2.4v2.4h-2.4zM641.0 185.1h2.4v2.4h-2.4zM655.7 185.1h2.4v2.4h-2.4zM662.0 185.1h2.4v2.4h-2.4zM666.3 185.1h2.4v2.4h-2.4zM270.2 183.0h6.6v2.4h-6.6zM310.2 183.0h4.5v2.4h-4.5zM320.8 183.0h4.5v2.4h-4.5zM333.4 183.0h2.4v2.4h-2.4zM371.3 183.0h2.4v2.4h-2.4zM377.6 183.0h2.4v2.4h-2.4zM398.7 183.0h2.4v2.4h-2.4zM415.6 183.0h4.5v2.4h-4.5zM445.1 183.0h2.4v2.4h-2.4zM455.6 183.0h4.5v2.4h-4.5zM464.0 183.0h8.7v2.4h-8.7zM489.3 183.0h4.5v2.4h-4.5zM516.7 183.0h4.5v2.4h-4.5zM116.4 180.9h2.4v2.4h-2.4zM228.1 174.4h4.5v2.4h-4.5zM68.0 168.0h6.6v2.4h-6.6zM80.6 168.0h8.7v2.4h-8.7zM514.6 161.6h2.4v2.4h-2.4zM461.9 159.4h2.4v2.4h-2.4zM442.9 157.3h2.4v2.4h-2.4zM470.3 157.3h2.4v2.4h-2.4zM495.6 157.3h2.4v2.4h-2.4zM249.1 155.1h17.2v2.4h-17.2zM432.4 155.1h2.4v2.4h-2.4zM440.8 155.1h4.5v2.4h-4.5zM470.3 155.1h2.4v2.4h-2.4zM407.1 148.6h2.4v2.5h-2.4zM495.6 148.6h2.4v2.5h-2.4zM506.1 148.6h2.4v2.5h-2.4zM487.2 146.5h4.5v2.5h-4.5zM493.5 146.5h2.4v2.5h-2.4zM461.9 137.7h2.4v2.5h-2.4zM491.4 122.5h2.4v2.5h-2.4zM434.5 115.9h2.4v2.5h-2.4zM485.1 115.9h2.4v2.5h-2.4zM287.1 113.8h2.4v2.5h-2.4zM476.7 113.8h4.5v2.5h-4.5zM497.7 113.8h4.5v2.5h-4.5zM483.0 111.6h4.5v2.5h-4.5zM466.1 100.7h2.4v2.5h-2.4zM221.7 83.3h4.5v2.5h-4.5zM228.1 83.3h2.4v2.5h-2.4z"/><path fill="#ff0000" d="M274.4 307.3h4.5v2.4h-4.5zM221.7 283.7h4.5v2.4h-4.5zM228.1 283.7h4.5v2.4h-4.5zM236.5 283.7h8.7v2.4h-8.7zM455.6 283.7h4.5v2.4h-4.5zM603.1 283.7h4.5v2.4h-4.5zM609.4 283.7h2.4v2.4h-2.4zM230.2 281.6h15.0v2.4h-15.0zM480.9 281.6h4.5v2.4h-4.5zM204.9 279.4h4.5v2.4h-4.5zM198.6 277.3h2.4v2.4h-2.4zM455.6 270.9h4.5v2.4h-4.5zM322.9 262.3h4.5v2.4h-4.5zM362.9 262.3h4.5v2.4h-4.5zM369.2 262.3h2.4v2.4h-2.4zM373.4 262.3h6.6v2.4h-6.6zM453.5 262.3h2.4v2.4h-2.4zM74.3 240.9h2.4v2.4h-2.4zM93.2 240.9h4.5v2.4h-4.5zM135.4 240.9h4.5v2.4h-4.5zM169.1 240.9h2.4v2.4h-2.4zM207.0 240.9h4.5v2.4h-4.5zM213.3 240.9h6.6v2.4h-6.6zM470.3 238.7h2.4v2.4h-2.4zM478.8 238.7h2.4v2.4h-2.4zM558.8 238.7h4.5v2.4h-4.5zM575.7 238.7h4.5v2.4h-4.5zM451.4 230.1h2.4v2.4h-2.4zM520.9 230.1h4.5v2.4h-4.5zM120.6 213.0h2.4v2.4h-2.4zM495.6 210.9h6.6v2.4h-6.6zM318.7 200.1h2.4v2.4h-2.4zM394.5 200.1h2.4v2.4h-2.4zM424.0 200.1h2.4v2.4h-2.4zM445.1 200.1h2.4v2.4h-2.4zM209.1 195.9h4.5v2.4h-4.5zM215.4 195.9h10.8v2.4h-10.8zM567.2 193.7h4.5v2.4h-4.5zM628.3 193.7h6.6v2.4h-6.6zM489.3 185.1h8.7v2.4h-8.7zM586.2 185.1h2.4v2.4h-2.4zM590.4 185.1h2.4v2.4h-2.4zM93.2 183.0h4.5v2.4h-4.5zM335.5 183.0h2.4v2.4h-2.4zM232.3 174.4h12.9v2.4h-12.9zM523.0 163.7h10.8v2.4h-10.8zM430.3 155.1h2.4v2.4h-2.4zM497.7 148.6h2.4v2.5h-2.4zM289.2 113.8h4.5v2.5h-4.5zM487.2 111.6h6.6v2.5h-6.6z"/></g></g>
<rect x="68.5" y="45.5" width="605.0" height="302.0" fill="none" stroke="#000" stroke-width="1"/>
<path d="M64 347.50H68.5M673.5 347.50H678M64 325.50H68.5M673.5 325.50H678M64 304.50H68.5M673.5 304.50H678M64 282.50H68.5M673.5 282.50H678M64 261.50H68.5M673.5 261.50H678M64 239.50H68.5M673.5 239.50H678M64 218.50H68.5M673.5 218.50H678M64 196.50H68.5M673.5 196.50H678M64 174.50H68.5M673.5 174.50H678M64 153.50H68.5M673.5 153.50H678M64 131.50H68.5M673.5 131.50H678M64 110.50H68.5M673.5 110.50H678M64 88.50H68.5M673.5 88.50H678M64 67.50H68.5M673.5 67.50H678M64 45.50H68.5M673.5 45.50H678M68.50 347.5V352M68.50 45.5V41M118.50 347.5V352M118.50 45.5V41M169.50 347.5V352M169.50 45.5V41M219.50 347.5V352M219.50 45.5V41M270.50 347.5V352M270.50 45.5V41M320.50 347.5V352M320.50 45.5V41M371.50 347.5V352M371.50 45.5V41M421.50 347.5V352M421.50 45.5V41M471.50 347.5V352M471.50 45.5V41M522.50 347.5V352M522.50 45.5V41M572.50 347.5V352M572.50 45.5V41M623.50 347.5V352M623.50 45.5V41M673.50 347.5V352M673.50 45.5V41" stroke="#000" stroke-width="1" fill="none"/>
<g font-family="'Liberation Sans', Arial, sans-serif" font-size="16" fill="#000" text-anchor="end">
<text x="55" y="350.9">1</text>
<text x="55" y="329.3">2</text>
<text x="55" y="307.8">3</text>
<text x="55" y="286.2">4</text>
<text x="55" y="264.6">5</text>
<text x="55" y="243.0">6</text>
<text x="55" y="221.5">7</text>
<text x="55" y="199.9">8</text>
<text x="55" y="178.3">9</text>
<text x="55" y="156.8">10</text>
<text x="55" y="135.2">11</text>
<text x="55" y="113.6">12</text>
<text x="55" y="92.0">13</text>
<text x="55" y="70.5">14</text>
<text x="55" y="48.9">15</text>
</g>
<g font-family="'Liberation Sans', Arial, sans-serif" font-size="16" fill="#000" text-anchor="middle">
<text x="67.2" y="370">00</text>
<text x="117.6" y="370">02</text>
<text x="168.0" y="370">04</text>
<text x="218.4" y="370">06</text>
<text x="268.9" y="370">08</text>
<text x="319.3" y="370">10</text>
<text x="369.7" y="370">12</text>
<text x="420.1" y="370">14</text>
<text x="470.5" y="370">16</text>
<text x="521.0" y="370">18</text>
<text x="571.4" y="370">20</text>
<text x="621.8" y="370">22</text>
<text x="672.2" y="370">00</text>
</g>
<text font-family="'Liberation Sans', Arial, sans-serif" font-size="16.3" x="370" y="27" text-anchor="middle">2026-02-08</text>
<text font-family="'Liberation Sans', Arial, sans-serif" font-size="16" x="370" y="392" text-anchor="middle">UT Time / hrs</text>
<text font-family="'Liberation Sans', Arial, sans-serif" font-size="16.3" transform="translate(17 195) rotate(-90)" text-anchor="middle">Frequency / MHz</text>
<rect x="692.5" y="326.75" width="30.0" height="20.75" fill="#8000ff"/>
<rect x="692.5" y="304.75" width="30.0" height="22.00" fill="#583dfd"/>
<rect x="692.5" y="283.75" width="30.0" height="21.00" fill="#3177f8"/>
<rect x="692.5" y="261.75" width="30.0" height="22.00" fill="#0aa9ee"/>
<rect x="692.5" y="240.75" width="30.0" height="21.00" fill="#1dd2e2"/>
<rect x="692.5" y="218.75" width="30.0" height="22.00" fill="#45eed2"/>
<rect x="692.5" y="196.75" width="30.0" height="22.00" fill="#6cfdbf"/>
<rect x="692.5" y="175.75" width="30.0" height="21.00" fill="#93fda9"/>
<rect x="692.5" y="153.75" width="30.0" height="22.00" fill="#baee91"/>
<rect x="692.5" y="132.75" width="30.0" height="21.00" fill="#e2d277"/>
<rect x="692.5" y="110.75" width="30.0" height="22.00" fill="#ffa95a"/>
<rect x="692.5" y="89.75" width="30.0" height="21.00" fill="#ff773d"/>
<rect x="692.5" y="67.75" width="30.0" height="22.00" fill="#ff3d1f"/>
<rect x="692.5" y="45.50" width="30.0" height="22.25" fill="#ff0000"/>
<rect x="692.5" y="45.5" width="30.0" height="302.0" fill="none" stroke="#000" stroke-width="1"/>
<path d="M717.5 326.50H722.5M692.5 326.50H697.5M717.5 304.50H722.5M692.5 304.50H697.5M717.5 283.50H722.5M692.5 283.50H697.5M717.5 261.50H722.5M692.5 261.50H697.5M717.5 240.50H722.5M692.5 240.50H697.5M717.5 218.50H722.5M692.5 218.50H697.5M717.5 196.50H722.5M692.5 196.50H697.5M717.5 175.50H722.5M692.5 175.50H697.5M717.5 153.50H722.5M692.5 153.50H697.5M717.5 132.50H722.5M692.5 132.50H697.5M717.5 110.50H722.5M692.5 110.50H697.5M717.5 89.50H722.5M692.5 89.50H697.5M717.5 67.50H722.5M692.5 67.50H697.5" stroke="#000" stroke-width="1" fill="none"/>
<g font-family="'Liberation Sans', Arial, sans-serif" font-size="16" fill="#000" text-anchor="start">
<text x="735" y="350.9">27</text>
<text x="735" y="329.3">30</text>
<text x="735" y="307.8">33</text>
<text x="735" y="286.2">36</text>
<text x="735" y="264.6">39</text>
<text x="735" y="243.0">42</text>
<text x="735" y="221.5">45</text>
<text x="735" y="199.9">48</text>
<text x="735" y="178.3">51</text>
<text x="735" y="156.8">54</text>
<text x="735" y="135.2">57</text>
<text x="735" y="113.6">60</text>
<text x="735" y="92.0">63</text>
<text x="735" y="70.5">66</text>
<text x="735" y="48.9">69</text>
</g>
<text font-family="'Liberation Sans', Arial, sans-serif" font-size="16.1" transform="translate(765 195.5) rotate(-90)" text-anchor="middle">Most Probable Amplitude MPA / dB</text>
</svg></body></html>
